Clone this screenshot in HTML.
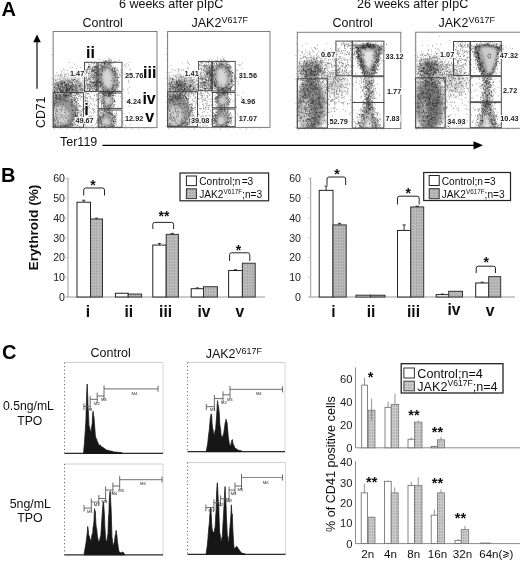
<!DOCTYPE html>
<html><head><meta charset="utf-8"><title>Figure</title>
<style>html,body{margin:0;padding:0;background:#fff;}svg{display:block;font-family:"Liberation Sans",sans-serif;}</style></head><body>
<svg width="520" height="562" viewBox="0 0 520 562" font-family="Liberation Sans, sans-serif">
<defs>
<pattern id="gp" width="2.6" height="3" patternUnits="userSpaceOnUse"><rect width="2.6" height="3" fill="#bcbcbc"/><rect width="1" height="2" fill="#a0a0a0"/></pattern>
<pattern id="gp2" width="2.4" height="3" patternUnits="userSpaceOnUse"><rect width="2.4" height="3" fill="#cccccc"/><rect width="1" height="2" fill="#a6a6a6"/></pattern>
<filter id="bl1" x="-30%" y="-30%" width="160%" height="160%"><feGaussianBlur stdDeviation="1.6"/></filter>
<filter id="bl2" x="-30%" y="-30%" width="160%" height="160%"><feGaussianBlur stdDeviation="2.5"/></filter>
<filter id="bl0" x="-30%" y="-30%" width="160%" height="160%"><feGaussianBlur stdDeviation="0.9"/></filter>
<filter id="soft" x="-5%" y="-5%" width="110%" height="110%"><feGaussianBlur stdDeviation="0.35"/></filter>
<filter id="gb" x="0" y="0" width="520" height="562" filterUnits="userSpaceOnUse"><feGaussianBlur stdDeviation="0.42"/></filter>
</defs>
<rect width="520" height="562" fill="#fff"/>
<g filter="url(#gb)">
<text x="1.6" y="16" font-size="20" font-weight="bold" text-anchor="start" fill="#000" >A</text>
<text x="119" y="7.9" font-size="12.5" text-anchor="start" fill="#111" >6 weeks after pIpC</text>
<text x="357" y="7.9" font-size="12.5" text-anchor="start" fill="#111" >26 weeks after pIpC</text>
<text x="82.5" y="27.3" font-size="12.5" text-anchor="start" fill="#111" >Control</text>
<text x="332.5" y="27.3" font-size="12.5" text-anchor="start" fill="#111" >Control</text>
<text x="191.5" y="27.3" font-size="12.5" fill="#111">JAK2<tspan font-size="9.0" dy="-4.4">V617F</tspan></text>
<text x="438.5" y="27.3" font-size="12.5" fill="#111">JAK2<tspan font-size="9.0" dy="-4.4">V617F</tspan></text>
<text transform="translate(45.2,128) rotate(-90)" font-size="12.3" fill="#111">CD71</text>
<line x1="37.00" y1="88.80" x2="37.00" y2="40.00" stroke="#000" stroke-width="1.15" />
<path d="M37 34.6 L33.2 42.2 L40.8 42.2 Z" fill="#000"/>
<text x="60" y="146.3" font-size="12.5" text-anchor="start" fill="#111" >Ter119</text>
<line x1="102.50" y1="145.30" x2="475.00" y2="145.30" stroke="#000" stroke-width="1.15" />
<path d="M483 145.3 L473.5 141.2 L473.5 149.4 Z" fill="#000"/>
<clipPath id="cp1"><rect x="53.7" y="32.0" width="102.8" height="95.1"/></clipPath>
<g clip-path="url(#cp1)">
<ellipse cx="66.0" cy="86.0" rx="17" ry="12" fill="#8a8a8a" opacity="0.22" filter="url(#bl2)"/>
<ellipse cx="68.0" cy="87.5" rx="16" ry="6" fill="#808080" opacity="0.18" filter="url(#bl2)"/>
<ellipse cx="61.0" cy="112.5" rx="16" ry="17" fill="#606060" opacity="0.66" filter="url(#bl1)"/>
<ellipse cx="60.0" cy="116.0" rx="9.4" ry="10.2" fill="#d6d6d6" opacity="0.93" filter="url(#bl1)"/>
<ellipse cx="107.5" cy="78.3" rx="8.8" ry="14.2" fill="#626262" opacity="0.66" filter="url(#bl1)" transform="rotate(-7 107.5 78.3)"/>
<ellipse cx="107.5" cy="78.8" rx="5.000000000000001" ry="10.0" fill="#dadada" opacity="0.93" filter="url(#bl0)" transform="rotate(-7 107.5 78.8)"/>
<ellipse cx="107.5" cy="100.3" rx="5.6" ry="7.8" fill="#6a6a6a" opacity="0.58" filter="url(#bl1)"/>
<ellipse cx="107.5" cy="100.3" rx="2.3" ry="4.4" fill="#d8d8d8" opacity="0.85" filter="url(#bl0)"/>
<ellipse cx="106.5" cy="120.5" rx="7.2" ry="8" fill="#646464" opacity="0.62" filter="url(#bl1)"/>
<ellipse cx="106.0" cy="122.5" rx="3.4000000000000004" ry="4.6" fill="#d6d6d6" opacity="0.9" filter="url(#bl0)"/>
<rect x="88.5" y="66.3" width="10.5" height="23.200000000000003" fill="#999" opacity="0.28" filter="url(#bl2)"/>
<g filter="url(#soft)">
<path d="M78.6 121.6h0.68M76.2 116.4h0.68M75.2 122.2h0.68M82.3 109.1h0.68M68.3 95.0h0.68M66.6 125.2h0.68M54.9 98.6h0.68M54.4 91.4h0.68M61.5 126.9h0.68M71.6 101.2h0.68M59.1 97.0h0.68M74.9 116.2h0.68M71.6 101.3h0.68M77.8 106.0h0.68M56.3 96.6h0.68M63.0 94.5h0.68M72.4 125.2h0.68M74.2 97.8h0.68M72.7 119.4h0.68M74.0 100.1h0.68M68.5 95.3h0.68M68.0 122.9h0.68M53.8 120.7h0.68M55.9 98.8h0.68M74.0 117.4h0.68M75.1 101.5h0.68M64.3 101.1h0.68M77.8 119.8h0.68M70.6 126.8h0.68M73.9 122.7h0.68M72.9 99.7h0.68M81.1 111.6h0.68M74.3 123.1h0.68M80.4 115.5h0.68M70.4 125.6h0.68M77.9 110.1h0.68M71.3 99.8h0.68M63.4 98.7h0.68M82.2 110.4h0.68M71.9 97.1h0.68M60.2 99.9h0.68M77.0 115.6h0.68M76.9 115.5h0.68M54.5 94.1h0.68M71.2 109.5h0.68M79.5 111.0h0.68M75.7 108.0h0.68M77.2 100.0h0.68M67.8 101.2h0.68M66.2 95.3h0.68M72.6 119.7h0.68M63.3 100.5h0.68M61.0 96.7h0.68M65.1 95.3h0.68M68.3 126.5h0.68M68.4 91.5h0.68M55.5 103.7h0.68M77.0 114.0h0.68M75.4 109.7h0.68M73.7 106.5h0.68M64.1 125.8h0.68M75.5 102.7h0.68M75.4 102.1h0.68M78.0 112.9h0.68M58.8 97.5h0.68M55.2 96.2h0.68M75.8 106.4h0.68M54.4 91.4h0.68M60.3 125.3h0.68M70.6 124.4h0.68M72.2 123.9h0.68M73.8 119.2h0.68M70.9 104.5h0.68M69.9 126.2h0.68M68.9 123.0h0.68M74.6 99.5h0.68M76.4 107.5h0.68M54.2 117.9h0.68M69.5 96.7h0.68M68.2 124.8h0.68M81.2 115.1h0.68M77.4 110.9h0.68M65.2 94.2h0.68M77.4 116.9h0.68M70.9 123.6h0.68M56.5 97.5h0.68M78.2 124.0h0.68M78.9 121.8h0.68M65.8 97.3h0.68M75.8 121.6h0.68M71.2 99.8h0.68M78.3 103.4h0.68M74.1 123.9h0.68M79.6 114.8h0.68M64.9 122.8h0.68M74.7 124.0h0.68M66.7 99.3h0.68M70.0 96.2h0.68M77.2 110.6h0.68M72.8 125.8h0.68M75.8 120.0h0.68M68.5 125.6h0.68M77.7 122.9h0.68M55.2 101.3h0.68M69.0 125.4h0.68M77.7 108.2h0.68M75.4 109.8h0.68M76.6 108.9h0.68M77.4 113.0h0.68M79.1 117.6h0.68M57.1 93.4h0.68M54.2 126.3h0.68M79.9 110.6h0.68M79.6 118.1h0.68M59.3 94.5h0.68M66.7 100.8h0.68M56.1 98.6h0.68M75.4 124.3h0.68M74.7 112.8h0.68M65.9 95.8h0.68M75.4 120.2h0.68M59.8 91.8h0.68M60.3 96.2h0.68M80.7 114.1h0.68M75.9 118.8h0.68M53.9 97.6h0.68M77.8 110.0h0.68M69.2 93.9h0.68M67.3 120.8h0.68M71.4 124.7h0.68M65.7 102.0h0.68M56.3 96.1h0.68M75.5 114.9h0.68M74.6 112.8h0.68M70.6 125.0h0.68M70.9 96.0h0.68M77.5 112.7h0.68M69.3 120.8h0.68M74.6 105.3h0.68M58.3 123.8h0.68M54.8 119.3h0.68M77.6 118.0h0.68M75.1 123.6h0.68M74.5 106.4h0.68M66.7 97.8h0.68M57.1 91.1h0.68M61.3 96.4h0.68M75.1 117.3h0.68M77.6 103.8h0.68M60.4 122.3h0.68M76.0 101.8h0.68M83.1 112.0h0.68M76.0 122.7h0.68M75.2 118.7h0.68M63.7 125.6h0.68M79.8 106.6h0.68M73.0 114.3h0.68M75.8 115.7h0.68M75.8 104.7h0.68M70.5 92.8h0.68M61.1 124.1h0.68M75.2 124.8h0.68M75.8 106.5h0.68M62.2 99.0h0.68M64.3 95.6h0.68M72.4 125.1h0.68M54.6 92.1h0.68M75.8 125.8h0.68M81.0 113.9h0.68M57.8 122.6h0.68M71.9 102.2h0.68M76.4 108.4h0.68M75.2 114.6h0.68M76.3 116.0h0.68M54.2 124.2h0.68M65.7 96.0h0.68M64.7 126.1h0.68M75.4 109.6h0.68M74.7 108.0h0.68M76.4 118.0h0.68M72.2 117.2h0.68M75.9 98.3h0.68M58.6 88.7h0.68M75.5 115.6h0.68M81.5 106.3h0.68M74.3 117.0h0.68M75.8 103.8h0.68M65.5 125.2h0.68M81.4 116.7h0.68M72.9 115.8h0.68M82.5 117.6h0.68M60.7 93.0h0.68M75.4 108.3h0.68M57.9 96.8h0.68M61.6 94.8h0.68M71.6 106.0h0.68M72.6 114.4h0.68M62.0 123.0h0.68M77.8 107.2h0.68M77.6 104.0h0.68M59.5 90.5h0.68M68.5 96.3h0.68M54.9 124.6h0.68M55.3 125.5h0.68M78.6 122.6h0.68M74.3 118.6h0.68M75.0 115.7h0.68M76.6 110.4h0.68M74.8 99.3h0.68M75.1 121.2h0.68M71.2 120.0h0.68M62.3 126.6h0.68M60.8 92.6h0.68M70.6 122.2h0.68M69.4 98.6h0.68M59.7 94.4h0.68M54.5 125.9h0.68M65.3 100.7h0.68M68.9 118.8h0.68M71.2 106.0h0.68M76.6 116.8h0.68M72.1 110.5h0.68M70.7 101.0h0.68M64.0 94.6h0.68M79.2 105.7h0.68M60.6 126.7h0.68M65.1 127.0h0.68M75.6 113.6h0.68M78.2 120.1h0.68M55.2 95.2h0.68M78.9 106.7h0.68M55.6 126.5h0.68M73.5 97.3h0.68M58.7 95.1h0.68M74.7 102.2h0.68M71.4 102.5h0.68M67.1 94.3h0.68M72.3 124.7h0.68M79.3 105.3h0.68M76.1 118.1h0.68M71.9 106.7h0.68M69.6 94.5h0.68M66.1 124.5h0.68M63.8 127.0h0.68M72.9 124.8h0.68M77.6 99.3h0.68M73.0 115.9h0.68M75.4 116.2h0.68M71.1 95.2h0.68M75.1 114.7h0.68M62.5 94.5h0.68M66.8 125.6h0.68M72.4 120.3h0.68M78.0 117.2h0.68M64.2 93.0h0.68M80.0 106.1h0.68M81.4 112.0h0.68M59.1 94.4h0.68M75.8 110.7h0.68M68.6 126.1h0.68M65.2 94.6h0.68M61.8 91.8h0.68M68.4 94.6h0.68M77.6 102.8h0.68M77.7 116.7h0.68M77.5 105.1h0.68M64.4 96.4h0.68M70.6 121.5h0.68M70.2 102.5h0.68M72.3 101.6h0.68M77.0 125.6h0.68M65.6 96.5h0.68M67.1 125.5h0.68M60.1 90.1h0.68M70.8 126.6h0.68M75.1 101.0h0.68M72.5 125.8h0.68M81.1 115.5h0.68M76.7 112.8h0.68M63.2 126.6h0.68M76.4 105.6h0.68M72.8 99.4h0.68M75.4 113.6h0.68M54.5 103.5h0.68M59.1 92.8h0.68M64.1 94.3h0.68M71.5 113.4h0.68M70.1 124.5h0.68M65.4 126.7h0.68M67.8 95.4h0.68M80.1 118.9h0.68M58.1 98.5h0.68M79.9 113.3h0.68M60.2 96.9h0.68M74.5 123.6h0.68M61.0 94.4h0.68M54.6 93.7h0.68M59.7 126.3h0.68M59.8 125.4h0.68M63.3 124.1h0.68M74.5 99.0h0.68M60.2 90.7h0.68M54.0 126.6h0.68M72.4 101.2h0.68M76.2 101.9h0.68M73.7 110.7h0.68M69.2 101.7h0.68M56.3 125.5h0.68M74.3 103.6h0.68M76.1 104.8h0.68M77.4 117.2h0.68M56.1 98.8h0.68M59.9 98.3h0.68M74.2 118.6h0.68M67.2 97.9h0.68M68.3 95.9h0.68M71.7 100.1h0.68M76.2 102.9h0.68M67.7 95.2h0.68M57.9 126.1h0.68M77.3 125.0h0.68M55.0 125.9h0.68M72.1 109.8h0.68M74.8 115.4h0.68M63.6 93.6h0.68M63.8 126.3h0.68M74.4 95.9h0.68M78.8 112.7h0.68M81.6 109.4h0.68M74.4 112.9h0.68M65.8 95.6h0.68M66.6 126.2h0.68M69.2 97.2h0.68M56.2 97.2h0.68M76.3 121.5h0.68M63.9 99.6h0.68M77.4 98.2h0.68M80.1 115.7h0.68M70.9 96.7h0.68M63.2 96.5h0.68M73.5 100.8h0.68M56.0 94.9h0.68M69.5 125.9h0.68M57.9 88.2h0.68M75.2 123.7h0.68M78.6 110.6h0.68M65.3 95.0h0.68M56.6 99.8h0.68M70.0 124.3h0.68M60.2 96.8h0.68M72.2 104.7h0.68M60.9 93.4h0.68M76.1 97.5h0.68M63.2 96.9h0.68M56.0 101.4h0.68M63.3 119.7h0.68M60.6 104.7h0.68M56.4 111.6h0.68M54.1 119.1h0.68M55.3 110.5h0.68M62.0 124.8h0.68M59.9 108.7h0.68M65.1 117.6h0.68M63.6 125.8h0.68M64.6 112.4h0.68M64.3 120.9h0.68M61.9 108.0h0.68M60.9 125.8h0.68M57.9 117.4h0.68M58.2 122.5h0.68M64.2 116.1h0.68M56.7 119.9h0.68M60.3 126.9h0.68M64.7 112.3h0.68M56.3 118.5h0.68M65.0 124.3h0.68M61.6 106.3h0.68M54.7 123.5h0.68M62.9 103.8h0.68M54.9 116.7h0.68M56.5 114.4h0.68M61.4 109.8h0.68M61.3 111.0h0.68M56.3 119.3h0.68M56.1 117.5h0.68M67.0 115.7h0.68M58.3 120.6h0.68M57.2 123.1h0.68M56.4 109.9h0.68M67.8 109.5h0.68M67.8 120.1h0.68M66.3 108.7h0.68M65.0 125.7h0.68M58.4 114.6h0.68M71.3 116.7h0.68M56.9 111.1h0.68M61.2 117.8h0.68M57.4 118.8h0.68M66.3 108.5h0.68M53.8 102.6h0.68M61.3 102.5h0.68M61.5 125.7h0.68M55.3 113.6h0.68M59.3 119.3h0.68M57.3 115.6h0.68M56.3 116.3h0.68M68.6 116.1h0.68M54.1 103.9h0.68M55.3 120.7h0.68M60.9 114.8h0.68M54.4 107.9h0.68M65.7 117.2h0.68M54.2 100.7h0.68M60.1 114.4h0.68M57.6 105.9h0.68M55.2 121.4h0.68M60.3 122.8h0.68M60.9 110.3h0.68M61.4 109.2h0.68M55.0 115.4h0.68M54.0 105.3h0.68M56.9 120.8h0.68M57.0 124.4h0.68M66.8 118.3h0.68M63.7 109.7h0.68M63.0 117.3h0.68M62.2 115.7h0.68M65.0 111.0h0.68M54.2 105.2h0.68M64.8 110.3h0.68M56.8 106.6h0.68M57.5 111.1h0.68M56.2 108.8h0.68M59.2 112.3h0.68M59.6 117.2h0.68M60.7 100.2h0.68M56.3 109.9h0.68M62.9 104.5h0.68M55.4 113.4h0.68M57.3 122.4h0.68M56.8 122.3h0.68M65.1 118.5h0.68M61.4 116.4h0.68M71.4 79.0h0.68M76.6 84.0h0.68M77.1 88.7h0.68M78.7 87.0h0.68M61.6 89.8h0.68M61.2 83.9h0.68M67.1 89.1h0.68M83.0 88.3h0.68M87.1 101.4h0.68M85.3 95.9h0.68M67.5 89.0h0.68M64.4 82.6h0.68M65.3 83.2h0.68M84.4 92.0h0.68M61.0 73.7h0.68M65.4 84.9h0.68M53.8 79.5h0.68M65.3 107.2h0.68M65.7 86.9h0.68M82.2 89.0h0.68M67.9 85.2h0.68M59.2 99.2h0.68M77.2 100.8h0.68M62.1 88.2h0.68M56.1 95.2h0.68M78.3 98.5h0.68M55.5 96.1h0.68M58.0 82.4h0.68M84.5 83.6h0.68M57.5 85.5h0.68M94.1 95.5h0.68M59.9 74.7h0.68M58.5 96.8h0.68M87.0 86.0h0.68M58.2 84.2h0.68M53.8 95.9h0.68M69.2 82.3h0.68M74.8 88.1h0.68M75.4 73.8h0.68M86.5 91.7h0.68M74.5 74.2h0.68M57.9 85.4h0.68M78.1 77.1h0.68M56.1 72.9h0.68M63.3 90.6h0.68M71.7 99.8h0.68M73.5 85.7h0.68M58.5 89.1h0.68M65.4 100.4h0.68M69.2 80.0h0.68M83.3 95.1h0.68M67.1 82.6h0.68M76.2 82.0h0.68M68.7 92.5h0.68M73.4 98.5h0.68M56.6 95.3h0.68M54.9 93.2h0.68M68.0 89.8h0.68M76.9 87.9h0.68M78.5 94.5h0.68M67.5 83.8h0.68M57.5 84.1h0.68M63.7 87.8h0.68M99.4 92.7h0.68M74.6 81.6h0.68M58.0 85.6h0.68M68.2 80.3h0.68M84.1 83.8h0.68M78.1 70.6h0.68M65.9 90.1h0.68M68.1 92.5h0.68M69.1 89.2h0.68M69.4 86.5h0.68M56.8 83.7h0.68M86.7 100.9h0.68M65.3 97.6h0.68M60.6 81.5h0.68M59.7 89.4h0.68M99.9 83.1h0.68M66.6 90.1h0.68M65.6 94.9h0.68M85.9 78.7h0.68M67.8 86.0h0.68M70.0 76.6h0.68M71.9 89.4h0.68M66.8 70.4h0.68M61.8 82.4h0.68M73.8 92.0h0.68M65.7 91.8h0.68M59.2 88.5h0.68M66.5 92.1h0.68M65.2 86.9h0.68M64.5 83.2h0.68M91.1 91.8h0.68M70.8 105.0h0.68M81.7 76.4h0.68M73.8 94.2h0.68M87.1 97.8h0.68M74.6 79.2h0.68M56.2 90.0h0.68M71.7 80.4h0.68M61.7 85.0h0.68M66.7 90.5h0.68M62.8 78.8h0.68M79.9 99.9h0.68M64.8 95.6h0.68M71.0 92.9h0.68M71.4 82.3h0.68M72.4 95.5h0.68M55.9 102.6h0.68M89.4 101.6h0.68M88.3 93.5h0.68M62.2 83.5h0.68M56.9 88.9h0.68M65.6 93.0h0.68M91.5 87.8h0.68M73.6 91.5h0.68M69.1 86.4h0.68M64.6 81.9h0.68M68.0 87.8h0.68M69.6 81.6h0.68M66.4 88.4h0.68M72.8 80.1h0.68M70.7 95.3h0.68M72.7 85.3h0.68M60.5 86.2h0.68M74.2 99.6h0.68M64.2 83.2h0.68M70.2 89.5h0.68M55.8 82.5h0.68M64.9 93.0h0.68M71.6 78.9h0.68M67.2 90.6h0.68M64.8 80.4h0.68M65.3 85.5h0.68M69.8 81.8h0.68M78.2 75.5h0.68M64.0 88.1h0.68M76.8 83.5h0.68M72.1 83.8h0.68M74.3 100.9h0.68M61.5 91.3h0.68M55.6 95.2h0.68M79.6 88.3h0.68M78.9 96.1h0.68M75.1 74.4h0.68M58.4 98.6h0.68M87.1 93.7h0.68M78.6 85.5h0.68M63.8 87.6h0.68M73.8 86.9h0.68M68.2 91.2h0.68M65.9 101.7h0.68M71.0 88.6h0.68M63.7 83.3h0.68M81.1 89.1h0.68M53.9 83.8h0.68M64.5 84.7h0.68M78.2 79.4h0.68M71.5 89.1h0.68M64.9 91.7h0.68M60.9 90.3h0.68M74.8 95.7h0.68M65.9 83.5h0.68M78.1 72.4h0.68M57.0 93.0h0.68M73.3 80.3h0.68M67.7 81.3h0.68M66.6 94.7h0.68M74.3 72.5h0.68M74.6 74.8h0.68M78.8 91.0h0.68M91.3 83.5h0.68M66.1 95.8h0.68M58.8 82.8h0.68M61.8 87.5h0.68M53.9 91.6h0.68M72.1 88.5h0.68M85.1 85.6h0.68M80.7 83.9h0.68M74.5 73.6h0.68M68.2 86.7h0.68M60.4 83.5h0.68M62.1 82.6h0.68M59.8 84.1h0.68M54.1 87.0h0.68M74.8 86.1h0.68M60.5 98.1h0.68M77.0 94.9h0.68M79.0 85.6h0.68M64.5 96.3h0.68M59.8 87.1h0.68M70.2 90.8h0.68M62.9 95.3h0.68M64.0 93.4h0.68M78.0 92.9h0.68M74.2 79.4h0.68M71.3 99.2h0.68M56.4 82.6h0.68M62.9 93.1h0.68M68.4 96.8h0.68M54.9 94.6h0.68M76.4 88.5h0.68M71.4 83.8h0.68M58.8 109.5h0.68M60.6 100.3h0.68M68.3 90.3h0.68M74.3 82.2h0.68M76.3 90.8h0.68M72.2 91.4h0.68M83.8 84.9h0.68M71.7 93.6h0.68M55.9 96.9h0.68M71.9 79.9h0.68M64.7 75.8h0.68M66.8 79.6h0.68M69.8 76.6h0.68M71.0 86.0h0.68M66.7 87.5h0.68M67.5 78.2h0.68M55.5 84.6h0.68M70.8 73.2h0.68M57.4 83.5h0.68M54.1 90.4h0.68M64.4 81.9h0.68M55.0 94.0h0.68M58.6 92.4h0.68M71.0 73.9h0.68M53.8 88.0h0.68M69.8 93.8h0.68M75.0 95.7h0.68M61.8 86.4h0.68M74.7 84.8h0.68M77.9 76.2h0.68M73.3 86.7h0.68M69.5 88.2h0.68M53.9 84.5h0.68M83.0 81.8h0.68M61.6 81.2h0.68M56.6 95.8h0.68M59.9 79.9h0.68M74.8 92.2h0.68M54.3 93.6h0.68M78.6 86.1h0.68M76.3 87.8h0.68M70.7 93.7h0.68M86.8 86.1h0.68M60.6 87.7h0.68M79.5 81.0h0.68M80.6 67.5h0.68M74.9 83.0h0.68M71.2 93.1h0.68M68.7 92.4h0.68M55.6 80.6h0.68M63.8 86.3h0.68M60.0 98.7h0.68M75.6 88.2h0.68M74.2 79.7h0.68M62.3 83.7h0.68M64.4 98.7h0.68M55.7 84.5h0.68M70.7 91.0h0.68M66.3 84.5h0.68M71.5 90.7h0.68M67.6 88.4h0.68M67.3 81.5h0.68M63.7 81.2h0.68M70.3 93.1h0.68M85.7 97.4h0.68M57.0 84.6h0.68M55.5 90.3h0.68M88.2 93.3h0.68M66.0 90.2h0.68M86.0 81.8h0.68M56.5 102.6h0.68M69.8 82.2h0.68M66.5 95.4h0.68M64.4 82.8h0.68M57.7 102.1h0.68M66.3 92.6h0.68M61.5 91.7h0.68M75.2 86.9h0.68M60.9 86.6h0.68M55.2 86.5h0.68M62.6 89.6h0.68M81.0 97.7h0.68M61.0 92.5h0.68M69.3 93.7h0.68M66.2 90.0h0.68M60.7 82.2h0.68M75.8 97.7h0.68M73.4 91.2h0.68M69.0 84.7h0.68M68.2 83.9h0.68M55.2 97.5h0.68M73.2 105.6h0.68M57.9 87.8h0.68M60.3 89.2h0.68M63.6 82.4h0.68M78.1 82.2h0.68M60.3 92.1h0.68M60.0 84.8h0.68M70.0 85.3h0.68M63.5 100.7h0.68M57.2 85.4h0.68M62.3 90.0h0.68M75.7 101.0h0.68M58.9 97.9h0.68M77.2 94.0h0.68M57.5 94.7h0.68M64.8 90.6h0.68M63.0 92.9h0.68M78.5 96.4h0.68M63.7 95.4h0.68M82.3 81.0h0.68M82.5 78.1h0.68M72.1 92.4h0.68M82.6 90.1h0.68M60.6 82.1h0.68M63.3 82.7h0.68M72.0 82.3h0.68M61.1 84.6h0.68M84.6 98.9h0.68M64.2 76.3h0.68M69.1 88.5h0.68M69.9 92.2h0.68M62.4 94.9h0.68M75.4 89.6h0.68M61.4 84.4h0.68M73.8 79.8h0.68M64.2 82.4h0.68M65.7 88.3h0.68M75.8 76.9h0.68M65.2 90.1h0.68M75.3 79.9h0.68M74.0 89.6h0.68M81.2 96.5h0.68M72.2 104.0h0.68M66.0 84.8h0.68M62.2 81.0h0.68M65.7 74.0h0.68M65.1 91.2h0.68M77.1 85.4h0.68M81.6 83.2h0.68M64.5 74.0h0.68M57.5 82.1h0.68M82.4 91.9h0.68M53.9 91.9h0.68M71.3 86.3h0.68M66.3 85.8h0.68M60.1 75.1h0.68M65.0 97.3h0.68M81.7 86.0h0.68M57.8 86.5h0.68M75.8 90.6h0.68M59.6 90.6h0.68M63.7 91.7h0.68M61.5 77.3h0.68M66.6 93.5h0.68M53.9 87.2h0.68M75.6 85.3h0.68M58.9 102.7h0.68M75.1 95.5h0.68M55.7 99.8h0.68M74.1 97.6h0.68M55.8 83.2h0.68M68.1 74.0h0.68M73.0 92.1h0.68M61.1 91.9h0.68M74.5 90.2h0.68M71.7 98.9h0.68M60.8 89.2h0.68M60.3 95.5h0.68M61.6 91.4h0.68M67.5 88.5h0.68M84.7 87.4h0.68M81.4 94.0h0.68M80.3 86.8h0.68M76.1 93.4h0.68M59.3 89.9h0.68M64.6 87.7h0.68M80.1 82.8h0.68M61.1 83.4h0.68M66.2 92.1h0.68M85.1 90.2h0.68M71.0 82.7h0.68M72.3 97.8h0.68M80.5 74.0h0.68M75.6 99.4h0.68M74.9 77.3h0.68M62.7 92.2h0.68M70.5 82.2h0.68M56.4 94.9h0.68M66.2 90.2h0.68M73.4 77.5h0.68M88.4 77.9h0.68M71.2 93.2h0.68M62.0 86.5h0.68M63.5 83.9h0.68M68.7 89.1h0.68M59.2 89.8h0.68M65.9 87.5h0.68M77.9 75.7h0.68M68.7 80.4h0.68M62.6 98.7h0.68M54.3 87.3h0.68M59.6 94.8h0.68M55.4 76.0h0.68M71.5 85.5h0.68M62.6 95.7h0.68M56.4 85.3h0.68M67.6 91.0h0.68M60.4 95.4h0.68M90.2 85.1h0.68M86.1 72.9h0.68M81.2 85.5h0.68M67.5 85.6h0.68M59.1 78.9h0.68M61.7 97.3h0.68M78.3 85.5h0.68M60.3 83.0h0.68M73.1 88.8h0.68M60.7 80.7h0.68M80.2 93.6h0.68M55.7 95.1h0.68M54.1 92.6h0.68M55.6 85.0h0.68M71.3 91.1h0.68M76.9 82.0h0.68M83.0 97.6h0.68M65.9 91.3h0.68M57.6 86.9h0.68M68.1 97.6h0.68M76.2 93.8h0.68M62.1 86.4h0.68M62.3 89.6h0.68M66.2 84.3h0.68M83.9 87.3h0.68M82.9 96.4h0.68M60.6 90.9h0.68M80.0 85.6h0.68M67.0 84.0h0.68M66.6 85.5h0.68M66.9 95.2h0.68M81.0 89.0h0.68M68.2 94.1h0.68M62.9 80.4h0.68M78.0 81.3h0.68M76.0 81.1h0.68M85.7 80.5h0.68M75.1 98.7h0.68M55.6 98.6h0.68M57.1 75.4h0.68M73.8 93.0h0.68M63.8 70.0h0.68M65.4 85.8h0.68M61.9 85.9h0.68M85.4 99.0h0.68M62.1 82.9h0.68M70.3 95.6h0.68M73.8 79.6h0.68M67.7 89.0h0.68M81.5 96.5h0.68M71.6 96.7h0.68M61.7 99.0h0.68M61.4 90.8h0.68M75.9 81.5h0.68M58.4 75.4h0.68M67.8 87.6h0.68M62.5 91.6h0.68M66.9 86.1h0.68M74.6 100.5h0.68M61.2 81.3h0.68M59.5 88.7h0.68M72.3 81.9h0.68M76.8 80.7h0.68M74.9 91.1h0.68M71.0 103.4h0.68M63.2 86.8h0.68M71.1 94.2h0.68M58.0 92.5h0.68M80.8 88.4h0.68M64.9 89.3h0.68M72.0 89.2h0.68M61.7 82.8h0.68M64.1 96.7h0.68M64.9 97.6h0.68M69.0 87.9h0.68M79.5 78.8h0.68M55.3 80.2h0.68M60.1 92.6h0.68M72.4 73.5h0.68M81.7 83.8h0.68M59.7 99.9h0.68M65.1 79.1h0.68M59.1 82.8h0.68M55.1 85.6h0.68M75.5 90.5h0.68M55.3 88.8h0.68M66.3 93.4h0.68M62.5 91.3h0.68M88.7 88.7h0.68M54.3 90.3h0.68M57.4 85.4h0.68M68.0 90.4h0.68M62.9 94.1h0.68M63.9 78.7h0.68M75.5 85.4h0.68M79.1 83.3h0.68M72.2 90.3h0.68M53.9 98.0h0.68M77.8 91.5h0.68M73.3 84.5h0.68M65.9 89.6h0.68M70.5 93.1h0.68M63.8 83.0h0.68M59.9 90.9h0.68M61.6 84.1h0.68M63.1 69.0h0.68M62.3 86.2h0.68M74.4 73.9h0.68M62.7 91.4h0.68M71.3 96.5h0.68M77.4 80.5h0.68M72.9 85.6h0.68M57.3 99.0h0.68M59.2 81.9h0.68M61.6 81.9h0.68M76.9 90.7h0.68M81.1 90.9h0.68M59.4 95.5h0.68M58.9 84.7h0.68M64.2 88.3h0.68M78.9 83.7h0.68M69.8 87.8h0.68M63.6 90.9h0.68M69.5 91.4h0.68M66.5 84.8h0.68M70.6 80.8h0.68M57.9 84.0h0.68M65.5 82.3h0.68M61.4 75.7h0.68M67.6 81.7h0.68M70.4 67.7h0.68M60.1 89.3h0.68M68.9 88.8h0.68M69.5 85.2h0.68M75.3 88.3h0.68M68.2 87.0h0.68M73.4 88.8h0.68M79.2 90.0h0.68M61.9 87.7h0.68M77.0 87.3h0.68M71.8 90.3h0.68M66.2 80.6h0.68M69.3 89.2h0.68M69.3 85.9h0.68M79.9 88.0h0.68M61.9 86.1h0.68M71.5 84.8h0.68M58.1 95.3h0.68M80.9 92.1h0.68M81.5 90.5h0.68M80.2 90.2h0.68M81.5 86.8h0.68M69.3 91.1h0.68M67.2 92.2h0.68M68.8 90.8h0.68M68.8 83.5h0.68M58.2 99.2h0.68M70.8 92.9h0.68M79.3 94.3h0.68M73.5 86.5h0.68M68.2 82.0h0.68M66.1 91.6h0.68M76.2 93.0h0.68M58.8 86.3h0.68M73.3 95.5h0.68M56.7 93.2h0.68M72.2 86.8h0.68M89.7 79.9h0.68M67.3 89.2h0.68M89.1 94.6h0.68M90.4 89.0h0.68M77.7 93.1h0.68M73.1 89.7h0.68M66.2 87.1h0.68M55.8 95.1h0.68M63.6 81.4h0.68M70.6 88.4h0.68M69.7 94.7h0.68M66.9 87.6h0.68M60.6 88.4h0.68M63.6 89.2h0.68M99.0 89.8h0.68M59.5 95.1h0.68M76.6 91.3h0.68M75.1 91.3h0.68M74.7 93.3h0.68M78.0 93.1h0.68M63.0 88.5h0.68M60.8 91.8h0.68M76.3 86.9h0.68M73.8 97.4h0.68M80.3 84.7h0.68M67.1 90.7h0.68M67.6 89.8h0.68M79.7 89.6h0.68M57.1 90.9h0.68M67.0 88.9h0.68M62.4 83.8h0.68M55.6 87.3h0.68M57.4 79.2h0.68M79.4 84.5h0.68M60.8 90.3h0.68M60.4 90.7h0.68M63.2 89.5h0.68M69.0 88.5h0.68M67.6 93.3h0.68M62.6 90.3h0.68M69.6 90.1h0.68M77.9 83.4h0.68M70.7 87.9h0.68M64.9 85.6h0.68M60.2 85.0h0.68M57.1 97.1h0.68M84.9 88.5h0.68M75.4 85.2h0.68M69.4 93.4h0.68M67.6 85.1h0.68M65.6 85.1h0.68M54.1 87.7h0.68M64.0 85.7h0.68M59.2 85.3h0.68M70.3 93.3h0.68M65.9 96.1h0.68M56.5 88.0h0.68M69.0 90.4h0.68M79.2 86.6h0.68M55.7 87.9h0.68M70.9 86.1h0.68M76.9 94.2h0.68M53.9 89.7h0.68M78.1 81.9h0.68M70.0 87.7h0.68M53.8 93.0h0.68M70.2 86.9h0.68M72.4 90.7h0.68M75.6 90.5h0.68M72.1 84.5h0.68M63.8 88.9h0.68M64.2 84.9h0.68M68.3 86.5h0.68M63.9 85.5h0.68M60.5 88.2h0.68M61.6 90.8h0.68M66.6 89.0h0.68M72.0 92.8h0.68M74.0 89.3h0.68M66.4 85.8h0.68M64.6 90.8h0.68M70.3 87.2h0.68M54.8 83.3h0.68M71.2 92.0h0.68M71.7 83.8h0.68M65.9 89.3h0.68M58.9 89.7h0.68M66.0 85.7h0.68M55.7 91.3h0.68M71.5 85.5h0.68M57.9 91.5h0.68M73.9 87.5h0.68M83.8 87.5h0.68M57.5 92.2h0.68M66.1 89.7h0.68M68.4 85.1h0.68M56.2 87.8h0.68M82.0 85.1h0.68M81.5 89.3h0.68M57.0 89.4h0.68M73.6 85.4h0.68M57.0 90.0h0.68M60.0 83.5h0.68M65.6 89.1h0.68M62.5 84.5h0.68M70.1 82.5h0.68M73.3 90.2h0.68M84.6 91.5h0.68M71.5 89.4h0.68M68.3 84.0h0.68M82.5 90.3h0.68M65.2 84.6h0.68M82.7 90.3h0.68M56.2 90.8h0.68M86.8 88.4h0.68M72.0 87.1h0.68M61.8 92.1h0.68M98.5 88.9h0.68M66.8 91.2h0.68M65.0 91.0h0.68M76.2 85.0h0.68M57.4 88.2h0.68M76.2 89.4h0.68M80.3 83.8h0.68M72.9 86.4h0.68M69.0 89.6h0.68M58.4 87.7h0.68M56.5 89.4h0.68M59.6 86.8h0.68M70.2 86.3h0.68M79.4 86.3h0.68M76.4 89.5h0.68M57.8 87.8h0.68M59.7 87.3h0.68M65.3 94.7h0.68M63.9 93.8h0.68M72.4 84.1h0.68M78.2 89.8h0.68M65.9 87.6h0.68M70.6 87.5h0.68M62.7 87.2h0.68M79.6 86.4h0.68M71.8 84.6h0.68M61.0 83.8h0.68M66.0 90.8h0.68M71.0 86.8h0.68M74.0 87.3h0.68M71.7 89.4h0.68M73.3 80.1h0.68M55.1 91.1h0.68M66.9 96.1h0.68M65.7 86.6h0.68M82.7 90.4h0.68M86.7 90.2h0.68M66.0 91.0h0.68M60.2 87.0h0.68M62.5 87.7h0.68M75.7 86.9h0.68M71.2 86.8h0.68M76.7 79.2h0.68M65.9 89.1h0.68M57.4 91.9h0.68M70.1 92.8h0.68M77.5 90.7h0.68M66.5 84.8h0.68M65.8 86.9h0.68M70.5 86.9h0.68M98.1 83.1h0.68M79.6 86.9h0.68M65.6 91.6h0.68M68.0 84.4h0.68M72.1 87.8h0.68M57.6 86.0h0.68M72.8 89.5h0.68M65.1 95.8h0.68M72.1 86.4h0.68M70.3 88.1h0.68M54.3 95.5h0.68M66.2 87.6h0.68M62.4 91.8h0.68M68.3 94.3h0.68M75.8 94.1h0.68M66.8 89.8h0.68M63.7 87.9h0.68M58.6 86.3h0.68M80.0 89.4h0.68M80.1 91.4h0.68M77.1 91.9h0.68M62.0 91.2h0.68M64.8 86.7h0.68M79.8 95.8h0.68M58.4 94.4h0.68M76.2 85.6h0.68M70.7 89.8h0.68M71.7 87.3h0.68M55.4 88.6h0.68M76.5 91.1h0.68M74.5 92.2h0.68M58.3 88.4h0.68M71.3 91.9h0.68M69.5 90.2h0.68M69.3 95.6h0.68M92.3 89.3h0.68M91.6 82.4h0.68M87.4 84.2h0.68M86.4 70.0h0.68M84.9 73.8h0.68M91.0 70.8h0.68M95.6 64.8h0.68M91.7 69.1h0.68M91.9 85.2h0.68M93.4 64.1h0.68M87.6 79.8h0.68M96.8 63.5h0.68M92.2 82.5h0.68M94.7 72.3h0.68M94.6 75.8h0.68M96.0 62.6h0.68M96.3 74.3h0.68M89.6 64.9h0.68M87.6 83.7h0.68M93.0 66.7h0.68M88.8 66.4h0.68M87.0 68.7h0.68M88.6 90.8h0.68M97.0 85.4h0.68M90.5 76.8h0.68M94.2 88.8h0.68M93.9 80.9h0.68M87.0 80.6h0.68M95.1 85.3h0.68M85.7 83.2h0.68M88.9 67.0h0.68M96.6 81.9h0.68M93.8 66.2h0.68M94.9 89.7h0.68M95.8 84.1h0.68M94.9 85.7h0.68M91.9 75.0h0.68M94.8 85.2h0.68M95.4 71.0h0.68M96.5 77.8h0.68M96.3 65.7h0.68M96.6 85.3h0.68M87.7 86.8h0.68M87.4 68.1h0.68M90.2 69.2h0.68M90.7 88.8h0.68M93.1 83.0h0.68M89.4 85.2h0.68M94.4 82.2h0.68M96.3 86.4h0.68M89.6 64.8h0.68M92.7 86.7h0.68M88.7 79.7h0.68M95.0 85.5h0.68M84.6 76.6h0.68M84.7 65.5h0.68M94.7 74.5h0.68M92.1 75.7h0.68M88.7 68.5h0.68M88.9 87.0h0.68M92.2 70.8h0.68M85.6 70.2h0.68M93.3 75.2h0.68M92.8 85.9h0.68M86.0 82.2h0.68M85.0 86.3h0.68M86.8 70.2h0.68M96.5 72.9h0.68M87.3 88.3h0.68M92.1 88.4h0.68M89.4 76.9h0.68M96.4 77.1h0.68M96.9 67.8h0.68M94.9 67.0h0.68M91.1 62.3h0.68M86.7 89.9h0.68M90.2 85.9h0.68M87.6 72.6h0.68M85.8 78.4h0.68M95.3 77.3h0.68M89.2 89.4h0.68M95.7 81.8h0.68M85.4 80.5h0.68M90.1 90.3h0.68M89.0 81.6h0.68M92.4 73.3h0.68M91.0 82.1h0.68M95.8 76.8h0.68M89.0 90.8h0.68M85.2 86.7h0.68M93.0 78.6h0.68M90.1 84.2h0.68M95.6 83.6h0.68M93.9 63.3h0.68M88.6 66.3h0.68M96.4 88.3h0.68M86.3 79.5h0.68M91.7 63.7h0.68M89.4 84.1h0.68M92.5 70.5h0.68M94.0 70.8h0.68M91.3 74.6h0.68M96.7 81.2h0.68M94.6 82.1h0.68M89.3 90.4h0.68M93.4 82.5h0.68M88.0 67.0h0.68M91.7 86.4h0.68M94.4 72.4h0.68M86.2 77.4h0.68M95.5 67.0h0.68M93.7 67.3h0.68M88.4 63.9h0.68M88.2 73.5h0.68M96.6 90.4h0.68M86.8 71.3h0.68M96.3 68.1h0.68M88.5 75.1h0.68M85.9 69.9h0.68M89.4 73.6h0.68M96.5 70.1h0.68M87.0 88.8h0.68M90.1 86.7h0.68M92.5 85.0h0.68M88.4 66.7h0.68M94.0 76.0h0.68M91.5 81.9h0.68M93.9 70.3h0.68M89.0 89.1h0.68M91.1 70.7h0.68M92.4 69.9h0.68M94.1 63.5h0.68M94.8 78.8h0.68M88.9 89.7h0.68M87.8 69.4h0.68M85.4 78.3h0.68M93.9 82.1h0.68M89.7 85.9h0.68M85.9 71.3h0.68M92.6 90.5h0.68M92.4 82.5h0.68M94.2 73.8h0.68M96.3 84.0h0.68M88.8 73.8h0.68M94.6 72.5h0.68M86.8 87.8h0.68M91.1 77.5h0.68M92.9 88.6h0.68M86.2 72.2h0.68M85.3 74.4h0.68M90.8 87.2h0.68M92.8 79.2h0.68M89.5 79.1h0.68M87.9 87.0h0.68M94.4 86.8h0.68M86.4 81.9h0.68M93.9 76.9h0.68M88.4 85.0h0.68M90.6 87.0h0.68M90.9 69.6h0.68M88.7 84.0h0.68M95.0 73.2h0.68M90.4 68.0h0.68M89.6 73.2h0.68M91.4 71.7h0.68M96.6 83.3h0.68M94.8 90.9h0.68M95.5 83.9h0.68M92.5 68.1h0.68M94.7 66.4h0.68M93.2 82.2h0.68M94.4 67.8h0.68M93.9 77.5h0.68M88.5 67.3h0.68M93.9 87.2h0.68M94.3 82.2h0.68M94.7 74.9h0.68M93.8 71.8h0.68M91.3 86.3h0.68M94.6 86.7h0.68M87.8 79.8h0.68M88.5 67.0h0.68M95.3 79.0h0.68M95.4 82.2h0.68M96.2 84.6h0.68M92.6 79.2h0.68M94.4 81.1h0.68M95.5 91.4h0.68M87.1 86.6h0.68M92.7 91.2h0.68M95.9 68.1h0.68M94.3 77.7h0.68M96.6 83.5h0.68M95.6 74.9h0.68M91.7 71.1h0.68M93.7 71.2h0.68M94.7 84.8h0.68M91.7 71.3h0.68M96.5 84.0h0.68M95.7 80.4h0.68M93.3 84.0h0.68M88.8 90.2h0.68M95.6 89.5h0.68M95.6 67.9h0.68M89.1 71.5h0.68M87.1 84.5h0.68M96.2 82.2h0.68M96.6 70.4h0.68M92.3 82.2h0.68M92.7 67.4h0.68M96.8 70.7h0.68M90.4 86.6h0.68M88.6 77.8h0.68M95.1 70.2h0.68M95.6 85.9h0.68M82.0 89.3h0.68M94.3 86.3h0.68M87.8 69.5h0.68M95.6 69.0h0.68M91.5 71.6h0.68M94.7 72.6h0.68M86.2 84.2h0.68M95.5 90.1h0.68M91.7 84.8h0.68M96.3 76.0h0.68M93.4 69.7h0.68M88.1 66.6h0.68M95.5 75.8h0.68M90.5 66.5h0.68M92.8 78.0h0.68M89.3 67.4h0.68M92.3 68.1h0.68M93.0 74.4h0.68M89.6 78.5h0.68M89.7 82.4h0.68M96.0 89.1h0.68M93.4 75.9h0.68M91.7 69.5h0.68M92.9 71.3h0.68M90.6 82.3h0.68M95.2 84.1h0.68M95.3 84.6h0.68M96.3 67.7h0.68M92.0 83.3h0.68M96.1 84.3h0.68M96.5 83.7h0.68M89.8 78.2h0.68M90.1 81.4h0.68M88.5 67.9h0.68M95.9 72.1h0.68M82.3 76.2h0.68M94.8 82.3h0.68M87.9 85.0h0.68M94.8 90.9h0.68M96.5 86.5h0.68M95.5 72.4h0.68M96.6 89.8h0.68M95.6 89.7h0.68M89.7 82.4h0.68M93.6 70.2h0.68M95.1 66.8h0.68M96.9 90.8h0.68M94.7 84.2h0.68M93.5 70.4h0.68M88.6 79.2h0.68M90.1 88.7h0.68M91.6 89.4h0.68M87.2 80.3h0.68M96.9 87.0h0.68M90.0 81.3h0.68M96.9 86.4h0.68M95.5 80.0h0.68M96.2 73.6h0.68M96.5 85.1h0.68M96.6 66.9h0.68M92.6 77.8h0.68M89.0 69.4h0.68M95.0 77.1h0.68M94.2 69.1h0.68M90.8 75.2h0.68M96.1 68.7h0.68M95.8 87.7h0.68M87.3 68.9h0.68M94.1 85.5h0.68M93.9 70.0h0.68M86.1 85.7h0.68M88.4 66.5h0.68M94.8 83.8h0.68M95.9 81.4h0.68M91.5 76.6h0.68M96.3 81.7h0.68M90.4 84.8h0.68M88.0 86.4h0.68M88.9 84.4h0.68M92.0 67.1h0.68M92.9 77.2h0.68M88.2 88.4h0.68M91.9 77.4h0.68M86.2 84.1h0.68M96.9 75.1h0.68M92.8 74.5h0.68M92.5 91.0h0.68M94.0 82.8h0.68M89.3 87.4h0.68M93.5 91.4h0.68M96.9 72.6h0.68M93.0 76.7h0.68M93.4 88.6h0.68M96.5 89.5h0.68M92.9 85.8h0.68M89.5 88.7h0.68M95.3 68.9h0.68M91.1 87.1h0.68M94.3 75.6h0.68M90.5 79.8h0.68M94.1 79.7h0.68M96.4 82.7h0.68M85.6 76.6h0.68M94.2 89.3h0.68M92.2 68.6h0.68M84.8 71.7h0.68M94.5 66.6h0.68M86.4 72.9h0.68M93.8 70.7h0.68M82.2 77.3h0.68M94.0 85.1h0.68M89.9 85.3h0.68M97.0 67.0h0.68M93.1 83.7h0.68M96.0 90.6h0.68M93.3 82.5h0.68M90.9 81.4h0.68M93.0 83.8h0.68M96.4 68.0h0.68M95.3 66.7h0.68M95.2 69.1h0.68M94.9 78.7h0.68M89.5 73.2h0.68M95.5 85.7h0.68M96.0 73.9h0.68M94.9 76.6h0.68M95.0 84.7h0.68M92.0 68.7h0.68M92.8 87.3h0.68M95.1 67.1h0.68M95.3 87.8h0.68M93.8 86.5h0.68M95.1 66.5h0.68M93.5 71.1h0.68M94.6 82.9h0.68M95.3 81.1h0.68M95.3 69.9h0.68M94.3 68.7h0.68M92.1 82.7h0.68M96.5 80.7h0.68M96.7 66.7h0.68M95.2 87.8h0.68M88.2 75.5h0.68M87.6 84.5h0.68M91.3 72.6h0.68M90.3 75.5h0.68M94.6 72.6h0.68M96.6 86.4h0.68M95.9 85.6h0.68M92.2 71.9h0.68M86.3 100.2h0.68M89.1 105.3h0.68M92.9 109.1h0.68M96.3 94.3h0.68M93.2 121.9h0.68M86.9 93.5h0.68M89.9 96.6h0.68M90.2 117.5h0.68M84.8 96.6h0.68M90.5 98.6h0.68M86.8 108.0h0.68M85.2 94.9h0.68M88.7 109.0h0.68M97.3 112.0h0.68M84.5 100.3h0.68M94.4 112.3h0.68M96.3 126.3h0.68M96.1 96.4h0.68M97.4 110.9h0.68M86.9 98.5h0.68M96.2 100.0h0.68M84.6 101.8h0.68M97.1 108.7h0.68M94.2 95.1h0.68M90.1 103.7h0.68M86.4 115.8h0.68M88.7 96.7h0.68M98.0 109.4h0.68M86.1 92.9h0.68M93.1 110.6h0.68M83.8 109.0h0.68M94.4 111.4h0.68M86.9 110.0h0.68M92.4 115.4h0.68M85.5 120.7h0.68M97.4 118.5h0.68M96.1 105.4h0.68M96.8 98.9h0.68M86.8 113.5h0.68M96.7 95.4h0.68M86.6 93.8h0.68M89.9 97.4h0.68M86.2 118.8h0.68M92.0 125.5h0.68M89.3 116.3h0.68M83.6 125.8h0.68M86.8 109.2h0.68M91.0 125.8h0.68M92.6 100.1h0.68M95.7 99.6h0.68M98.2 108.5h0.68M86.7 126.2h0.68M88.2 106.8h0.68M88.5 116.0h0.68M83.7 105.6h0.68M85.8 121.6h0.68M83.4 113.8h0.68M87.2 108.4h0.68M91.7 117.5h0.68M85.4 100.9h0.68M85.2 126.2h0.68M85.6 97.3h0.68M91.1 112.9h0.68M96.5 94.5h0.68M86.9 98.4h0.68M92.1 108.4h0.68M89.5 123.7h0.68M93.2 122.7h0.68M97.6 101.9h0.68M97.3 106.8h0.68M84.2 124.6h0.68M84.9 93.1h0.68M87.7 102.6h0.68M97.7 123.1h0.68M89.6 111.1h0.68M96.0 120.8h0.68M93.1 110.5h0.68M85.1 101.1h0.68M93.1 113.1h0.68M95.3 124.0h0.68M97.6 99.3h0.68M84.5 124.0h0.68M91.8 98.9h0.68M93.6 101.5h0.68M86.9 105.4h0.68M91.2 116.3h0.68M84.5 118.5h0.68M92.6 109.1h0.68M93.3 120.6h0.68M83.5 109.2h0.68M93.4 117.4h0.68M93.0 98.8h0.68M97.6 120.1h0.68M86.8 107.6h0.68M97.6 99.8h0.68M89.5 126.3h0.68M96.7 100.7h0.68M94.3 105.1h0.68M93.2 119.4h0.68M85.3 100.3h0.68M86.6 101.8h0.68M83.9 97.3h0.68M89.4 107.3h0.68M113.7 82.3h0.68M100.0 73.5h0.68M103.3 90.1h0.68M112.4 89.0h0.68M96.0 81.8h0.68M114.3 90.6h0.68M100.9 93.1h0.68M110.6 65.8h0.68M101.3 69.2h0.68M114.8 74.8h0.68M112.4 92.2h0.68M108.8 91.2h0.68M109.4 67.9h0.68M112.0 69.1h0.68M98.4 71.3h0.68M97.6 76.1h0.68M104.3 63.9h0.68M117.7 77.6h0.68M113.5 90.9h0.68M110.4 92.7h0.68M108.3 91.5h0.68M112.7 78.7h0.68M119.1 90.7h0.68M113.4 87.7h0.68M104.6 89.8h0.68M100.3 86.5h0.68M98.3 81.4h0.68M117.1 85.2h0.68M115.2 92.7h0.68M102.1 63.0h0.68M108.6 94.2h0.68M104.7 88.1h0.68M96.8 80.5h0.68M94.7 72.3h0.68M118.5 82.4h0.68M100.3 91.2h0.68M103.6 63.4h0.68M109.2 59.7h0.68M115.6 85.0h0.68M103.5 65.0h0.68M109.0 63.4h0.68M115.4 84.8h0.68M101.6 67.1h0.68M112.4 91.4h0.68M96.7 70.8h0.68M110.2 95.2h0.68M108.6 90.6h0.68M103.9 62.5h0.68M117.0 80.0h0.68M106.9 91.4h0.68M100.6 68.4h0.68M112.8 70.7h0.68M111.5 91.0h0.68M108.9 96.5h0.68M114.5 90.6h0.68M111.1 60.9h0.68M102.7 60.0h0.68M105.8 91.5h0.68M105.4 92.3h0.68M99.4 70.2h0.68M118.2 86.5h0.68M114.9 90.4h0.68M116.4 70.1h0.68M111.7 90.3h0.68M114.1 85.8h0.68M102.7 90.3h0.68M104.8 67.9h0.68M115.7 86.2h0.68M115.6 82.9h0.68M109.3 95.0h0.68M101.1 65.6h0.68M97.1 82.0h0.68M103.4 63.8h0.68M100.4 83.4h0.68M116.9 69.2h0.68M115.4 85.8h0.68M99.6 83.1h0.68M116.2 80.4h0.68M117.4 75.2h0.68M99.0 82.4h0.68M99.5 69.2h0.68M105.6 62.5h0.68M107.0 64.3h0.68M101.0 88.7h0.68M116.9 86.0h0.68M107.0 92.9h0.68M106.8 62.6h0.68M117.4 84.0h0.68M112.0 86.9h0.68M113.3 90.0h0.68M113.6 91.2h0.68M104.6 89.3h0.68M115.7 88.1h0.68M119.3 91.3h0.68M108.7 92.9h0.68M112.0 72.1h0.68M96.5 82.7h0.68M107.0 92.2h0.68M99.1 82.4h0.68M113.3 85.8h0.68M112.9 92.9h0.68M109.5 64.4h0.68M104.0 91.6h0.68M97.4 82.8h0.68M118.7 75.9h0.68M104.4 95.7h0.68M113.5 90.9h0.68M112.0 89.7h0.68M99.0 87.8h0.68M100.9 74.2h0.68M117.3 78.1h0.68M112.7 70.7h0.68M114.8 73.6h0.68M110.5 60.4h0.68M108.2 91.7h0.68M102.7 92.3h0.68M101.4 90.4h0.68M115.1 68.7h0.68M102.0 85.2h0.68M106.4 67.1h0.68M110.2 96.9h0.68M115.6 76.6h0.68M104.4 63.6h0.68M108.6 88.8h0.68M102.2 69.2h0.68M116.8 90.8h0.68M99.3 76.2h0.68M102.6 94.5h0.68M112.0 62.8h0.68M113.0 86.1h0.68M115.6 71.7h0.68M102.2 69.5h0.68M118.5 82.1h0.68M100.1 82.7h0.68M103.7 92.3h0.68M111.3 69.8h0.68M111.1 91.6h0.68M117.2 87.0h0.68M103.8 95.9h0.68M110.8 93.5h0.68M119.1 84.9h0.68M112.8 93.5h0.68M100.7 81.8h0.68M117.6 72.1h0.68M106.1 89.3h0.68M100.7 81.2h0.68M114.0 68.7h0.68M112.2 68.5h0.68M96.6 71.8h0.68M110.9 62.9h0.68M99.4 77.8h0.68M113.3 67.1h0.68M100.9 65.6h0.68M101.9 92.1h0.68M116.0 73.5h0.68M114.2 70.4h0.68M115.8 80.1h0.68M104.1 65.3h0.68M98.4 86.9h0.68M110.2 62.9h0.68M108.0 64.6h0.68M105.2 62.1h0.68M108.9 62.9h0.68M120.0 75.8h0.68M101.0 84.1h0.68M116.7 69.6h0.68M111.9 91.5h0.68M104.3 61.6h0.68M111.9 89.2h0.68M101.6 66.6h0.68M119.9 96.8h0.68M99.8 74.7h0.68M108.6 61.6h0.68M94.8 73.5h0.68M106.2 61.8h0.68M114.3 71.3h0.68M112.5 95.0h0.68M114.3 68.3h0.68M115.4 66.9h0.68M115.0 71.5h0.68M96.6 73.3h0.68M109.2 61.3h0.68M100.6 85.4h0.68M107.7 92.1h0.68M101.3 85.0h0.68M116.3 85.4h0.68M115.8 77.8h0.68M105.2 60.2h0.68M110.0 92.9h0.68M114.5 93.5h0.68M98.0 69.5h0.68M98.9 72.1h0.68M104.0 63.9h0.68M104.5 67.7h0.68M108.0 96.1h0.68M114.1 80.9h0.68M115.3 72.5h0.68M117.1 83.7h0.68M108.5 64.3h0.68M99.4 82.7h0.68M98.9 66.1h0.68M106.7 63.4h0.68M109.6 93.6h0.68M99.8 88.0h0.68M99.5 69.4h0.68M111.5 94.0h0.68M117.1 85.2h0.68M96.7 79.1h0.68M112.1 89.2h0.68M116.8 74.6h0.68M96.6 81.1h0.68M112.0 91.2h0.68M98.0 70.7h0.68M117.6 84.3h0.68M102.2 62.2h0.68M103.3 90.4h0.68M100.9 84.9h0.68M100.0 90.6h0.68M115.4 91.4h0.68M115.6 77.8h0.68M111.5 65.8h0.68M100.8 69.7h0.68M114.0 71.3h0.68M106.3 94.3h0.68M99.2 74.9h0.68M114.1 73.8h0.68M113.2 87.1h0.68M108.4 60.2h0.68M99.1 71.7h0.68M114.8 73.0h0.68M98.7 75.1h0.68M116.3 87.8h0.68M114.1 68.3h0.68M105.0 91.7h0.68M99.7 80.9h0.68M114.0 68.2h0.68M104.9 86.4h0.68M100.6 68.4h0.68M99.0 81.3h0.68M97.8 68.6h0.68M107.9 63.7h0.68M100.5 90.4h0.68M101.8 92.4h0.68M107.7 91.6h0.68M104.2 92.4h0.68M102.8 66.0h0.68M117.4 79.2h0.68M109.2 63.2h0.68M114.7 89.6h0.68M108.5 94.1h0.68M104.9 64.6h0.68M113.0 74.4h0.68M97.3 74.5h0.68M114.9 70.8h0.68M98.8 86.0h0.68M113.3 63.0h0.68M99.9 91.8h0.68M105.6 60.7h0.68M98.3 70.4h0.68M117.0 82.3h0.68M117.5 90.4h0.68M99.4 67.9h0.68M116.4 87.6h0.68M98.3 69.0h0.68M100.6 63.8h0.68M116.4 75.3h0.68M100.2 84.7h0.68M110.5 94.1h0.68M118.9 73.9h0.68M113.4 90.9h0.68M113.7 92.4h0.68M104.6 61.8h0.68M114.8 81.6h0.68M116.8 80.2h0.68M98.9 85.2h0.68M100.7 82.7h0.68M112.6 68.6h0.68M101.6 87.4h0.68M117.7 70.6h0.68M100.6 75.0h0.68M115.4 90.0h0.68M101.6 63.0h0.68M117.9 77.5h0.68M100.4 78.1h0.68M117.6 77.6h0.68M102.3 67.8h0.68M98.3 73.1h0.68M114.9 74.3h0.68M117.9 72.0h0.68M105.5 91.0h0.68M102.2 89.1h0.68M108.5 58.6h0.68M108.1 60.4h0.68M104.6 70.9h0.68M105.2 92.4h0.68M100.1 70.7h0.68M115.0 91.5h0.68M107.7 91.0h0.68M117.5 67.8h0.68M105.9 60.6h0.68M114.7 89.8h0.68M113.0 71.0h0.68M101.5 73.8h0.68M118.1 86.2h0.68M107.3 61.9h0.68M116.5 87.9h0.68M111.5 69.5h0.68M109.0 94.6h0.68M104.7 64.3h0.68M98.6 79.9h0.68M103.9 63.1h0.68M107.6 96.5h0.68M100.5 93.8h0.68M115.3 77.2h0.68M101.8 83.9h0.68M106.4 65.3h0.68M97.9 84.0h0.68M115.0 73.3h0.68M96.6 82.7h0.68M116.1 91.4h0.68M99.2 59.5h0.68M96.3 75.2h0.68M104.8 61.2h0.68M101.0 91.4h0.68M109.4 93.4h0.68M98.7 81.4h0.68M118.4 86.4h0.68M114.6 79.8h0.68M100.8 81.6h0.68M104.3 63.0h0.68M103.4 92.6h0.68M114.8 88.4h0.68M109.8 63.1h0.68M97.3 79.5h0.68M103.5 94.2h0.68M95.5 83.0h0.68M107.9 63.5h0.68M112.2 97.8h0.68M112.2 72.1h0.68M107.1 67.5h0.68M102.1 71.3h0.68M99.7 84.1h0.68M118.5 87.9h0.68M102.8 67.2h0.68M105.3 63.2h0.68M110.6 62.0h0.68M117.1 73.3h0.68M102.3 65.7h0.68M98.7 74.7h0.68M115.5 89.4h0.68M99.6 81.7h0.68M102.4 90.1h0.68M97.8 74.4h0.68M112.6 87.8h0.68M111.9 70.6h0.68M119.5 74.6h0.68M112.2 85.2h0.68M102.8 86.8h0.68M98.0 75.1h0.68M112.1 92.8h0.68M115.2 87.5h0.68M95.9 72.6h0.68M115.5 72.8h0.68M114.8 73.4h0.68M102.2 71.1h0.68M101.9 66.9h0.68M103.3 89.2h0.68M115.8 74.6h0.68M109.8 94.0h0.68M117.0 78.1h0.68M97.4 74.3h0.68M117.2 89.2h0.68M110.5 66.6h0.68M113.6 72.3h0.68M115.9 76.6h0.68M114.9 77.5h0.68M113.5 80.4h0.68M105.1 95.1h0.68M96.5 72.3h0.68M114.3 68.7h0.68M98.4 71.3h0.68M111.9 91.9h0.68M113.4 91.7h0.68M114.9 71.6h0.68M108.3 95.3h0.68M105.2 90.3h0.68M114.6 74.9h0.68M118.2 84.1h0.68M110.8 63.7h0.68M105.5 63.6h0.68M108.1 94.6h0.68M100.2 64.8h0.68M120.5 70.2h0.68M99.6 68.9h0.68M99.6 65.1h0.68M95.8 73.9h0.68M102.4 91.8h0.68M114.4 88.4h0.68M115.0 91.6h0.68M109.0 61.3h0.68M112.7 87.8h0.68M98.0 73.9h0.68M100.5 86.8h0.68M117.0 82.5h0.68M99.7 86.4h0.68M110.4 97.1h0.68M110.2 64.4h0.68M97.7 81.8h0.68M102.3 87.4h0.68M111.7 96.2h0.68M100.8 64.7h0.68M99.4 79.0h0.68M114.5 71.0h0.68M116.3 83.2h0.68M116.4 84.4h0.68M100.0 66.3h0.68M100.4 85.7h0.68M117.0 70.2h0.68M109.8 94.3h0.68M104.5 93.7h0.68M114.3 69.8h0.68M112.8 88.6h0.68M119.3 82.1h0.68M98.8 64.6h0.68M114.0 89.6h0.68M98.3 78.8h0.68M103.5 94.5h0.68M103.2 61.7h0.68M96.7 78.5h0.68M97.9 86.9h0.68M99.0 62.8h0.68M118.9 77.3h0.68M110.6 91.5h0.68M117.1 85.6h0.68M101.4 63.1h0.68M108.3 93.1h0.68M101.2 65.4h0.68M101.4 62.8h0.68M99.3 85.9h0.68M97.3 75.3h0.68M117.5 76.1h0.68M98.3 79.2h0.68M97.4 80.7h0.68M95.9 80.2h0.68M109.1 65.4h0.68M110.4 59.1h0.68M97.3 82.3h0.68M116.6 89.6h0.68M102.5 66.0h0.68M114.8 75.6h0.68M116.6 81.2h0.68M113.5 84.6h0.68M104.4 95.0h0.68M103.9 62.8h0.68M103.7 90.5h0.68M104.1 66.1h0.68M107.7 95.7h0.68M116.8 77.5h0.68M116.0 85.1h0.68M102.3 71.1h0.68M115.5 92.1h0.68M114.3 85.7h0.68M101.8 89.2h0.68M117.1 81.1h0.68M101.5 95.6h0.68M106.1 87.0h0.68M115.0 68.6h0.68M101.3 73.6h0.68M114.3 75.3h0.68M100.9 74.9h0.68M111.5 89.5h0.68M104.1 91.3h0.68M103.2 87.3h0.68M110.9 92.6h0.68M107.6 90.4h0.68M100.1 86.5h0.68M100.6 65.2h0.68M107.8 95.9h0.68M107.0 64.6h0.68M100.4 77.9h0.68M109.7 95.7h0.68M102.5 88.7h0.68M107.0 90.0h0.68M110.2 62.3h0.68M98.3 81.0h0.68M99.9 83.2h0.68M103.2 90.0h0.68M105.8 61.3h0.68M104.6 63.2h0.68M107.8 61.8h0.68M101.3 67.8h0.68M103.5 67.5h0.68M108.0 95.3h0.68M117.7 80.3h0.68M111.5 99.0h0.68M113.2 98.7h0.68M109.6 92.3h0.68M113.2 106.6h0.68M109.2 92.5h0.68M104.4 104.8h0.68M107.0 105.7h0.68M112.5 95.1h0.68M111.6 92.5h0.68M103.1 103.6h0.68M104.8 109.0h0.68M110.8 107.1h0.68M105.9 111.5h0.68M105.1 106.1h0.68M111.8 92.4h0.68M109.3 106.9h0.68M108.3 92.7h0.68M112.9 95.2h0.68M103.2 102.6h0.68M107.3 110.1h0.68M112.5 101.2h0.68M114.4 101.0h0.68M103.2 106.4h0.68M105.4 94.3h0.68M103.1 94.3h0.68M104.6 92.6h0.68M103.0 95.2h0.68M111.8 92.8h0.68M112.8 95.7h0.68M100.5 95.5h0.68M104.3 109.2h0.68M103.6 93.5h0.68M103.2 95.9h0.68M108.9 108.3h0.68M105.6 106.6h0.68M113.0 95.0h0.68M112.8 106.7h0.68M111.2 93.9h0.68M107.7 107.1h0.68M112.8 102.0h0.68M109.4 91.8h0.68M108.3 93.4h0.68M101.0 101.5h0.68M103.1 105.9h0.68M108.1 106.3h0.68M109.9 95.2h0.68M103.4 98.6h0.68M113.6 106.7h0.68M107.1 108.6h0.68M112.1 100.0h0.68M111.9 104.1h0.68M113.8 100.4h0.68M113.5 105.7h0.68M101.3 104.1h0.68M101.9 99.9h0.68M99.4 99.2h0.68M114.3 99.2h0.68M100.0 100.7h0.68M102.9 106.9h0.68M111.4 95.2h0.68M104.3 105.8h0.68M100.4 96.2h0.68M105.6 112.2h0.68M102.2 108.1h0.68M111.4 104.9h0.68M105.3 106.0h0.68M104.3 108.4h0.68M103.1 103.7h0.68M112.5 98.4h0.68M111.3 108.6h0.68M104.7 94.1h0.68M103.5 104.0h0.68M108.2 109.0h0.68M109.8 94.8h0.68M103.2 106.1h0.68M108.6 108.0h0.68M112.6 98.5h0.68M103.2 100.4h0.68M101.2 101.8h0.68M103.3 92.9h0.68M105.4 92.6h0.68M112.8 108.5h0.68M102.3 94.2h0.68M104.6 109.7h0.68M100.7 97.3h0.68M102.1 93.7h0.68M111.1 105.8h0.68M99.8 97.2h0.68M102.7 94.4h0.68M108.3 106.2h0.68M101.0 103.6h0.68M107.6 94.1h0.68M105.7 103.1h0.68M110.7 91.5h0.68M103.2 91.9h0.68M114.6 102.3h0.68M115.0 95.8h0.68M106.9 108.0h0.68M111.6 92.2h0.68M99.2 98.8h0.68M114.7 101.3h0.68M110.0 94.1h0.68M106.2 95.9h0.68M109.1 107.5h0.68M112.3 95.5h0.68M104.2 107.7h0.68M114.6 104.6h0.68M112.5 106.8h0.68M110.6 107.0h0.68M113.8 95.6h0.68M114.9 93.5h0.68M104.6 101.9h0.68M109.1 93.1h0.68M110.9 88.8h0.68M106.8 91.9h0.68M113.5 96.2h0.68M103.6 98.5h0.68M110.2 105.0h0.68M106.3 95.4h0.68M101.1 102.8h0.68M109.8 109.5h0.68M107.3 92.4h0.68M110.5 93.0h0.68M101.0 107.1h0.68M108.6 109.4h0.68M101.2 109.7h0.68M101.7 99.8h0.68M107.6 92.0h0.68M107.3 90.8h0.68M108.8 107.2h0.68M104.1 106.8h0.68M104.1 103.4h0.68M99.8 98.7h0.68M99.1 102.4h0.68M101.2 99.9h0.68M106.6 93.3h0.68M103.7 107.2h0.68M106.6 107.7h0.68M104.3 95.4h0.68M102.0 96.3h0.68M108.7 108.3h0.68M109.3 92.3h0.68M107.3 109.7h0.68M103.8 96.6h0.68M102.1 92.8h0.68M105.5 110.5h0.68M111.8 93.5h0.68M109.1 95.1h0.68M103.3 102.7h0.68M108.7 104.3h0.68M111.3 104.1h0.68M111.6 107.9h0.68M108.8 109.7h0.68M110.5 105.9h0.68M109.7 106.9h0.68M101.9 101.5h0.68M103.0 98.8h0.68M111.0 92.5h0.68M114.4 101.3h0.68M113.1 102.2h0.68M108.0 94.1h0.68M108.6 107.5h0.68M108.5 93.2h0.68M108.6 111.3h0.68M102.7 97.1h0.68M102.5 101.2h0.68M111.9 102.9h0.68M110.1 105.3h0.68M101.8 97.7h0.68M110.4 94.0h0.68M112.3 93.3h0.68M113.0 104.7h0.68M107.4 110.4h0.68M107.5 109.7h0.68M106.0 106.6h0.68M109.0 91.8h0.68M106.3 91.2h0.68M114.2 100.8h0.68M103.8 109.5h0.68M108.9 90.4h0.68M113.7 100.1h0.68M107.8 91.5h0.68M101.3 105.5h0.68M105.4 107.3h0.68M114.3 104.9h0.68M102.3 103.1h0.68M101.6 103.7h0.68M104.0 101.0h0.68M109.1 104.9h0.68M101.1 106.0h0.68M105.0 94.9h0.68M102.5 96.9h0.68M107.6 105.2h0.68M112.0 103.7h0.68M101.5 109.1h0.68M111.3 120.9h0.68M102.5 115.9h0.68M101.0 121.7h0.68M111.3 126.2h0.68M105.1 109.4h0.68M103.2 114.9h0.68M112.9 121.5h0.68M99.7 115.3h0.68M108.3 112.9h0.68M109.9 110.6h0.68M112.3 126.2h0.68M113.1 117.4h0.68M114.0 121.8h0.68M109.2 126.8h0.68M101.6 124.7h0.68M112.1 126.5h0.68M100.0 119.5h0.68M98.8 124.1h0.68M101.3 113.0h0.68M106.7 113.4h0.68M98.8 123.3h0.68M112.3 114.0h0.68M107.3 110.2h0.68M98.2 125.2h0.68M114.6 116.9h0.68M99.9 117.6h0.68M98.3 125.7h0.68M113.5 116.0h0.68M104.6 126.4h0.68M112.5 123.3h0.68M114.3 116.0h0.68M104.7 111.2h0.68M113.7 121.5h0.68M98.2 122.0h0.68M114.9 121.4h0.68M114.1 125.2h0.68M113.6 125.5h0.68M109.4 113.8h0.68M112.0 110.9h0.68M113.5 125.9h0.68M112.2 118.2h0.68M112.3 113.0h0.68M99.1 115.5h0.68M105.1 112.4h0.68M99.7 123.6h0.68M108.8 112.9h0.68M98.6 120.7h0.68M97.9 120.0h0.68M99.0 120.3h0.68M101.1 124.1h0.68M112.1 115.6h0.68M116.0 112.1h0.68M115.4 119.9h0.68M109.4 113.0h0.68M99.4 113.8h0.68M98.7 109.0h0.68M109.1 113.1h0.68M111.4 114.2h0.68M99.1 122.5h0.68M102.7 113.9h0.68M110.9 124.2h0.68M103.4 112.2h0.68M115.4 123.2h0.68M101.1 123.6h0.68M105.9 110.0h0.68M102.9 115.0h0.68M97.6 119.5h0.68M107.6 113.4h0.68M111.4 120.2h0.68M106.2 112.8h0.68M108.6 116.5h0.68M111.9 114.8h0.68M96.1 122.3h0.68M104.2 126.5h0.68M111.9 111.4h0.68M110.6 113.8h0.68M110.4 126.9h0.68M99.1 116.8h0.68M113.8 126.6h0.68M110.4 114.5h0.68M99.0 126.9h0.68M100.7 126.5h0.68M115.2 121.3h0.68M113.1 120.5h0.68M114.2 118.3h0.68M115.4 122.0h0.68M112.4 125.2h0.68M100.7 120.3h0.68M114.9 119.9h0.68M110.7 114.0h0.68M113.5 121.5h0.68M104.8 115.3h0.68M98.7 117.7h0.68M99.8 118.6h0.68M104.3 111.6h0.68M99.1 116.5h0.68M101.9 116.9h0.68M114.1 116.0h0.68M103.8 126.3h0.68M113.1 117.0h0.68M103.8 110.1h0.68M102.9 114.1h0.68M114.0 117.1h0.68M100.5 122.1h0.68M107.0 112.3h0.68M100.3 114.1h0.68M109.3 112.5h0.68M114.4 113.5h0.68M115.5 117.2h0.68M108.6 112.3h0.68M99.9 112.6h0.68M113.2 124.3h0.68M98.7 121.5h0.68M98.5 125.9h0.68M110.8 113.9h0.68M107.8 113.1h0.68M100.5 120.9h0.68M97.3 120.2h0.68M104.9 124.1h0.68M107.8 125.3h0.68M113.9 123.5h0.68M98.5 125.1h0.68M112.1 119.2h0.68M109.6 114.8h0.68M113.2 121.1h0.68M100.8 126.1h0.68M115.6 124.9h0.68M100.2 118.6h0.68M99.0 126.2h0.68M112.5 125.4h0.68M102.4 117.3h0.68M110.4 124.3h0.68M112.4 119.9h0.68M107.1 108.5h0.68M102.1 112.2h0.68M111.6 116.2h0.68M107.0 113.1h0.68M99.9 118.5h0.68M110.7 118.3h0.68M100.6 117.7h0.68M116.0 120.0h0.68M98.8 117.6h0.68M105.1 109.7h0.68M99.2 121.6h0.68M102.9 116.0h0.68M113.4 117.9h0.68M112.9 121.1h0.68M116.4 124.8h0.68M109.0 109.8h0.68M109.1 111.9h0.68M104.1 111.4h0.68M99.9 119.2h0.68M100.6 116.5h0.68M114.7 117.9h0.68M106.6 124.9h0.68M99.8 119.8h0.68M109.4 111.4h0.68M108.9 125.7h0.68M112.8 117.5h0.68M114.0 121.5h0.68M115.3 116.4h0.68M100.3 118.4h0.68M114.7 116.1h0.68M111.2 126.2h0.68M97.7 115.1h0.68M112.6 126.9h0.68M110.3 125.7h0.68M110.0 112.3h0.68M112.8 117.7h0.68M109.4 112.5h0.68M111.8 114.1h0.68M111.1 110.7h0.68M107.9 110.3h0.68M99.8 112.3h0.68M104.7 124.3h0.68M111.0 111.9h0.68M103.6 113.3h0.68M102.9 111.4h0.68M111.3 114.0h0.68M112.6 114.9h0.68M101.8 110.5h0.68M112.5 126.8h0.68M104.7 125.9h0.68M112.4 125.1h0.68M96.3 122.9h0.68M109.8 112.2h0.68M112.4 114.4h0.68M106.7 111.3h0.68M112.8 125.0h0.68M101.9 112.1h0.68M100.2 122.8h0.68M113.5 122.0h0.68M108.6 111.1h0.68M104.7 111.7h0.68M104.6 114.3h0.68M111.3 125.9h0.68M105.9 111.6h0.68M110.9 115.0h0.68M101.8 125.4h0.68M114.8 115.6h0.68M100.0 117.3h0.68M111.5 114.0h0.68M113.7 126.5h0.68M98.6 120.4h0.68M100.2 123.6h0.68M112.8 120.1h0.68M110.8 113.1h0.68M112.1 115.5h0.68M101.0 113.5h0.68M105.9 109.7h0.68M99.1 119.7h0.68M97.2 122.6h0.68M115.7 114.3h0.68M100.7 121.4h0.68M116.3 118.0h0.68M99.8 111.6h0.68M109.1 117.6h0.68M116.7 122.3h0.68M111.4 112.9h0.68M109.6 114.3h0.68M101.4 124.0h0.68M111.1 123.7h0.68M114.5 119.3h0.68M98.5 125.7h0.68M97.0 115.0h0.68M102.9 116.1h0.68M98.4 119.4h0.68M103.4 118.5h0.68M98.6 125.8h0.68M102.4 126.7h0.68M114.2 117.1h0.68M101.3 116.8h0.68M104.1 126.7h0.68M114.3 119.4h0.68M99.2 117.1h0.68M106.9 125.5h0.68M107.6 114.0h0.68M89.9 62.4h0.68M57.8 105.0h0.68M100.6 85.4h0.68M116.4 115.3h0.68M74.0 64.1h0.68M91.3 104.1h0.68M68.6 62.5h0.68M86.7 61.8h0.68M103.9 102.1h0.68M72.4 89.9h0.68M69.2 72.2h0.68M65.7 115.0h0.68M84.4 108.2h0.68M77.1 114.4h0.68M94.2 104.0h0.68M80.2 97.8h0.68M66.3 125.8h0.68M99.4 95.8h0.68M97.1 66.3h0.68M76.2 75.2h0.68M111.2 60.4h0.68M83.8 118.7h0.68M107.0 108.5h0.68M73.9 75.3h0.68M101.7 79.8h0.68M102.9 83.3h0.68M105.5 98.5h0.68M109.3 126.6h0.68M79.2 126.7h0.68M53.9 119.2h0.68M55.2 96.6h0.68M79.9 111.9h0.68M74.9 73.7h0.68M107.1 97.0h0.68M105.2 92.8h0.68M55.7 112.0h0.68M68.2 91.6h0.68M99.0 111.5h0.68M97.0 89.7h0.68M103.6 105.1h0.68M67.4 95.9h0.68M94.3 109.1h0.68M66.8 80.7h0.68M76.8 66.0h0.68M77.2 109.2h0.68M92.9 71.3h0.68M103.5 67.5h0.68M104.9 69.6h0.68M59.8 76.6h0.68M88.6 77.9h0.68M114.0 123.4h0.68M72.7 110.6h0.68M101.1 97.7h0.68M70.7 124.2h0.68M119.0 60.4h0.68M75.9 81.4h0.68M66.9 88.8h0.68M115.0 61.1h0.68M110.7 80.5h0.68M54.1 120.8h0.68M71.9 73.9h0.68M61.2 84.5h0.68M61.4 71.7h0.68M70.4 98.9h0.68M83.9 80.3h0.68M89.4 112.2h0.68M103.0 82.9h0.68M116.4 113.4h0.68M91.8 91.9h0.68M75.9 68.6h0.68M114.1 100.9h0.68M60.0 122.5h0.68M114.2 61.8h0.68M101.4 75.7h0.68M90.0 116.3h0.68M77.3 93.4h0.68M99.0 72.6h0.68M96.3 88.5h0.68M120.8 72.3h0.68M102.1 62.3h0.68M72.1 67.5h0.68M63.4 95.5h0.68M65.2 113.6h0.68M59.8 101.9h0.68M112.4 68.1h0.68M68.2 111.6h0.68M85.6 123.0h0.68M76.5 86.6h0.68M119.1 82.9h0.68M119.7 120.2h0.68M123.6 97.9h0.68M129.5 70.0h0.68M128.8 112.9h0.68M128.0 101.5h0.68M122.8 124.9h0.68M122.8 113.5h0.68M127.8 83.0h0.68M127.5 89.1h0.68M128.0 65.1h0.68M129.5 87.4h0.68M128.4 93.1h0.68M128.5 82.0h0.68M126.4 63.9h0.68M125.9 67.5h0.68M128.9 106.5h0.68M125.4 125.9h0.68M129.6 124.8h0.68M122.7 108.3h0.68M127.8 101.9h0.68M122.1 122.6h0.68M125.5 101.2h0.68M128.5 80.3h0.68M122.2 122.6h0.68M124.2 65.0h0.68M127.9 76.0h0.68M123.2 120.9h0.68M127.3 100.4h0.68M123.0 89.3h0.68M129.6 62.5h0.68M125.4 66.0h0.68M130.0 69.1h0.68" stroke="#161616" stroke-width="0.68" fill="none" opacity="0.74"/>
</g></g>
<rect x="53.20" y="31.50" width="103.80" height="96.10" fill="none" stroke="#7c7c7c" stroke-width="1" />
<rect x="53.20" y="92.50" width="30.20" height="34.70" fill="none" stroke="#454545" stroke-width="0.95" />
<rect x="84.50" y="62.30" width="12.50" height="29.20" fill="none" stroke="#454545" stroke-width="0.95" />
<rect x="98.20" y="62.30" width="23.80" height="29.20" fill="none" stroke="#454545" stroke-width="0.95" />
<rect x="98.20" y="93.00" width="23.80" height="15.40" fill="none" stroke="#454545" stroke-width="0.95" />
<rect x="98.20" y="110.00" width="23.80" height="17.20" fill="none" stroke="#454545" stroke-width="0.95" />
<rect x="69.2" y="70.39999999999999" width="16.2" height="6.8" fill="#fff" opacity="0.88"/>
<text x="70" y="76.3" font-size="7.3" font-weight="bold" text-anchor="start" fill="#1a1a1a" >1.47</text>
<text x="125" y="77.8" font-size="7.3" font-weight="bold" text-anchor="start" fill="#1a1a1a" >25.76</text>
<text x="126.8" y="103.8" font-size="7.3" font-weight="bold" text-anchor="start" fill="#1a1a1a" >4.24</text>
<text x="125" y="120.7" font-size="7.3" font-weight="bold" text-anchor="start" fill="#1a1a1a" >12.92</text>
<rect x="74.60000000000001" y="117.0" width="20.1" height="6.8" fill="#fff" opacity="0.88"/>
<text x="75.4" y="122.9" font-size="7.3" font-weight="bold" text-anchor="start" fill="#1a1a1a" >49.67</text>
<text x="86" y="57.6" font-size="16" font-weight="bold" text-anchor="start" fill="#000" >ii</text>
<text x="143" y="77.8" font-size="16" font-weight="bold" text-anchor="start" fill="#000" >iii</text>
<text x="142.4" y="103.6" font-size="16" font-weight="bold" text-anchor="start" fill="#000" >iv</text>
<text x="145.2" y="122" font-size="16" font-weight="bold" text-anchor="start" fill="#000" >v</text>
<text x="84.3" y="114.7" font-size="16" font-weight="bold" text-anchor="start" fill="#000" >i</text>
<clipPath id="cp2"><rect x="168.1" y="32.0" width="101.4" height="94.9"/></clipPath>
<g clip-path="url(#cp2)">
<ellipse cx="180.0" cy="86.0" rx="17" ry="12" fill="#8a8a8a" opacity="0.22" filter="url(#bl2)"/>
<ellipse cx="182.0" cy="86.7" rx="16" ry="6" fill="#808080" opacity="0.18" filter="url(#bl2)"/>
<ellipse cx="174.5" cy="112.5" rx="16" ry="17" fill="#606060" opacity="0.66" filter="url(#bl1)"/>
<ellipse cx="173.5" cy="116.0" rx="9.4" ry="10.2" fill="#d6d6d6" opacity="0.93" filter="url(#bl1)"/>
<ellipse cx="222.0" cy="77.0" rx="8.8" ry="14.2" fill="#626262" opacity="0.66" filter="url(#bl1)" transform="rotate(-7 222 77)"/>
<ellipse cx="222.0" cy="77.5" rx="5.000000000000001" ry="10.0" fill="#dadada" opacity="0.93" filter="url(#bl0)" transform="rotate(-7 222 77.5)"/>
<ellipse cx="222.5" cy="100.0" rx="5.6" ry="7.8" fill="#6a6a6a" opacity="0.58" filter="url(#bl1)"/>
<ellipse cx="222.5" cy="100.0" rx="2.3" ry="4.4" fill="#d8d8d8" opacity="0.85" filter="url(#bl0)"/>
<ellipse cx="221.5" cy="119.0" rx="7.2" ry="8" fill="#646464" opacity="0.62" filter="url(#bl1)"/>
<ellipse cx="221.0" cy="121.0" rx="3.4000000000000004" ry="4.6" fill="#d6d6d6" opacity="0.9" filter="url(#bl0)"/>
<rect x="202.6" y="65.4" width="10.700000000000017" height="23.300000000000004" fill="#999" opacity="0.28" filter="url(#bl2)"/>
<g filter="url(#soft)">
<path d="M191.4 107.1h0.68M183.4 97.9h0.68M169.2 96.8h0.68M181.0 92.3h0.68M191.1 111.3h0.68M192.5 116.7h0.68M184.3 106.9h0.68M169.0 95.4h0.68M172.4 95.0h0.68M172.6 97.5h0.68M178.1 125.9h0.68M176.9 96.5h0.68M181.3 125.2h0.68M181.4 91.9h0.68M192.2 109.9h0.68M188.4 124.2h0.68M171.8 95.4h0.68M176.8 99.3h0.68M175.1 96.7h0.68M192.7 124.8h0.68M190.4 114.3h0.68M192.4 114.3h0.68M187.5 98.5h0.68M184.1 95.7h0.68M180.5 91.6h0.68M179.8 94.5h0.68M185.8 98.6h0.68M190.3 110.9h0.68M182.9 123.9h0.68M189.7 118.9h0.68M180.1 97.2h0.68M168.9 102.4h0.68M190.4 104.9h0.68M185.1 123.3h0.68M171.7 96.9h0.68M186.6 125.2h0.68M186.3 103.5h0.68M186.0 125.8h0.68M175.4 97.6h0.68M177.3 92.8h0.68M187.6 105.0h0.68M188.0 100.0h0.68M189.4 119.8h0.68M182.6 95.1h0.68M179.4 91.6h0.68M168.3 93.0h0.68M185.1 122.2h0.68M191.4 117.6h0.68M180.7 99.1h0.68M190.9 110.5h0.68M188.0 116.8h0.68M190.7 110.5h0.68M189.0 123.8h0.68M195.3 109.5h0.68M189.3 122.0h0.68M191.8 104.0h0.68M190.7 117.1h0.68M182.5 123.1h0.68M184.0 123.0h0.68M184.8 121.4h0.68M182.3 124.7h0.68M190.8 123.2h0.68M187.1 105.2h0.68M175.6 99.9h0.68M186.7 124.3h0.68M187.0 99.2h0.68M168.5 125.6h0.68M189.2 124.0h0.68M169.6 94.3h0.68M183.3 103.9h0.68M183.2 96.1h0.68M168.3 126.2h0.68M170.3 100.4h0.68M175.7 91.9h0.68M188.1 99.8h0.68M179.6 96.3h0.68M195.1 107.5h0.68M189.3 122.5h0.68M184.7 125.4h0.68M170.0 99.8h0.68M189.8 105.0h0.68M177.8 93.3h0.68M176.9 92.3h0.68M180.6 122.1h0.68M174.3 96.0h0.68M190.8 108.1h0.68M177.7 96.4h0.68M172.9 97.3h0.68M184.9 102.4h0.68M169.2 99.6h0.68M180.4 95.0h0.68M187.6 102.0h0.68M172.0 100.7h0.68M190.5 111.9h0.68M185.8 124.3h0.68M187.3 119.5h0.68M184.6 95.2h0.68M172.2 96.2h0.68M182.6 95.8h0.68M181.3 119.8h0.68M184.7 94.1h0.68M190.8 107.9h0.68M192.6 115.3h0.68M168.4 100.1h0.68M173.1 96.7h0.68M189.9 96.9h0.68M185.2 97.5h0.68M180.7 125.5h0.68M181.3 118.6h0.68M189.5 113.1h0.68M188.1 124.8h0.68M186.7 104.1h0.68M192.1 108.4h0.68M172.1 88.6h0.68M187.1 122.7h0.68M190.4 107.8h0.68M192.0 104.3h0.68M191.5 106.3h0.68M181.0 98.1h0.68M185.4 113.8h0.68M170.5 96.6h0.68M192.4 121.6h0.68M169.3 96.8h0.68M190.1 121.3h0.68M191.9 112.2h0.68M178.3 98.5h0.68M193.6 108.6h0.68M182.0 100.4h0.68M185.2 96.7h0.68M179.9 125.6h0.68M194.5 112.9h0.68M183.0 104.2h0.68M189.0 120.3h0.68M168.4 94.6h0.68M189.9 111.1h0.68M181.4 124.4h0.68M179.4 95.2h0.68M174.1 95.7h0.68M175.2 98.1h0.68M173.0 91.2h0.68M174.7 126.1h0.68M168.9 117.3h0.68M186.5 107.3h0.68M186.5 98.3h0.68M178.0 124.9h0.68M195.4 122.1h0.68M170.3 124.6h0.68M189.4 105.1h0.68M189.3 120.0h0.68M190.0 116.4h0.68M188.3 108.7h0.68M188.5 116.0h0.68M170.6 125.4h0.68M184.9 121.5h0.68M177.1 97.9h0.68M188.5 104.1h0.68M173.1 95.5h0.68M189.2 116.0h0.68M181.7 98.8h0.68M169.4 125.4h0.68M189.3 114.5h0.68M191.6 110.0h0.68M188.1 102.4h0.68M186.6 123.3h0.68M177.4 100.4h0.68M178.9 95.3h0.68M188.5 122.3h0.68M184.4 96.5h0.68M185.8 97.4h0.68M192.6 112.7h0.68M187.0 111.1h0.68M180.5 93.6h0.68M189.0 104.9h0.68M194.3 107.6h0.68M169.0 124.1h0.68M196.0 121.6h0.68M170.9 100.3h0.68M183.9 104.0h0.68M187.7 122.3h0.68M171.0 94.8h0.68M172.7 96.5h0.68M171.8 96.5h0.68M181.4 98.3h0.68M186.4 98.2h0.68M188.5 112.6h0.68M191.2 110.3h0.68M186.1 122.9h0.68M189.7 114.5h0.68M193.1 114.9h0.68M191.6 112.8h0.68M182.7 120.9h0.68M183.2 97.4h0.68M186.0 98.7h0.68M176.4 95.7h0.68M185.9 97.8h0.68M182.0 95.4h0.68M187.6 106.6h0.68M173.7 126.2h0.68M184.9 125.2h0.68M177.7 125.8h0.68M186.2 119.0h0.68M189.1 122.0h0.68M193.6 115.9h0.68M189.2 121.1h0.68M189.7 111.2h0.68M176.0 99.4h0.68M194.7 106.9h0.68M177.9 94.6h0.68M170.4 96.9h0.68M183.1 112.4h0.68M179.5 96.2h0.68M187.7 107.0h0.68M191.6 115.5h0.68M187.2 122.9h0.68M191.1 109.2h0.68M173.6 93.1h0.68M185.4 125.3h0.68M187.5 109.5h0.68M191.8 108.2h0.68M193.6 117.2h0.68M189.5 119.6h0.68M187.7 101.4h0.68M192.2 110.2h0.68M179.5 94.5h0.68M185.7 118.5h0.68M170.1 93.0h0.68M180.0 91.4h0.68M178.8 101.7h0.68M192.6 118.7h0.68M183.7 101.2h0.68M182.4 124.2h0.68M187.6 123.7h0.68M191.2 118.3h0.68M183.0 123.0h0.68M184.3 107.0h0.68M193.3 110.6h0.68M181.4 121.2h0.68M185.1 121.2h0.68M178.4 94.5h0.68M198.4 114.4h0.68M190.0 104.2h0.68M191.1 117.9h0.68M188.2 109.9h0.68M193.9 117.0h0.68M187.0 125.0h0.68M184.5 100.4h0.68M187.0 125.7h0.68M189.9 112.1h0.68M183.9 123.0h0.68M183.4 100.8h0.68M198.0 114.1h0.68M178.6 96.6h0.68M185.0 104.1h0.68M189.6 113.1h0.68M187.4 124.4h0.68M192.3 122.8h0.68M187.4 123.4h0.68M170.1 92.7h0.68M188.6 114.4h0.68M180.0 100.2h0.68M174.0 126.5h0.68M175.8 97.7h0.68M185.7 92.9h0.68M174.7 126.2h0.68M189.0 119.9h0.68M184.4 99.1h0.68M181.7 124.5h0.68M188.5 115.5h0.68M186.8 105.8h0.68M172.5 123.4h0.68M189.9 112.7h0.68M175.9 94.1h0.68M192.0 123.8h0.68M182.6 98.0h0.68M185.9 124.5h0.68M186.9 103.5h0.68M170.2 96.1h0.68M191.4 103.3h0.68M179.3 98.9h0.68M184.6 119.1h0.68M187.9 113.2h0.68M184.1 116.8h0.68M188.2 98.2h0.68M192.6 118.2h0.68M175.9 99.9h0.68M191.2 121.6h0.68M187.5 106.7h0.68M185.4 111.3h0.68M172.4 125.9h0.68M181.4 123.7h0.68M189.9 119.8h0.68M176.7 95.6h0.68M186.8 98.5h0.68M178.0 91.1h0.68M180.1 125.8h0.68M168.4 94.4h0.68M185.3 97.0h0.68M196.1 118.3h0.68M179.5 97.7h0.68M180.7 101.3h0.68M182.7 98.8h0.68M190.3 121.3h0.68M185.4 101.1h0.68M188.1 98.9h0.68M192.2 99.2h0.68M190.2 109.4h0.68M190.1 125.2h0.68M191.8 107.4h0.68M175.7 96.5h0.68M191.0 104.5h0.68M192.9 119.2h0.68M185.6 117.9h0.68M188.7 107.7h0.68M186.8 102.4h0.68M188.1 101.8h0.68M168.3 120.1h0.68M173.2 93.7h0.68M178.9 103.5h0.68M179.7 91.5h0.68M182.5 95.7h0.68M186.2 97.3h0.68M177.3 97.6h0.68M197.5 122.0h0.68M189.3 118.9h0.68M191.1 106.8h0.68M191.4 107.5h0.68M172.2 126.6h0.68M184.6 125.7h0.68M181.6 122.4h0.68M191.1 119.4h0.68M171.4 117.1h0.68M171.5 113.2h0.68M170.2 115.0h0.68M177.7 115.8h0.68M175.0 109.9h0.68M172.0 119.9h0.68M171.6 121.4h0.68M177.2 108.8h0.68M178.9 125.7h0.68M174.3 105.0h0.68M181.1 113.2h0.68M177.6 111.9h0.68M178.1 113.5h0.68M179.8 106.2h0.68M176.6 113.5h0.68M177.8 105.1h0.68M169.7 111.2h0.68M173.8 118.2h0.68M175.0 119.7h0.68M179.2 107.2h0.68M181.7 116.0h0.68M176.2 117.1h0.68M175.0 111.7h0.68M181.6 112.2h0.68M173.3 104.4h0.68M181.6 108.5h0.68M177.6 125.8h0.68M177.0 119.9h0.68M168.9 109.7h0.68M176.8 115.4h0.68M175.9 122.9h0.68M178.0 98.0h0.68M169.2 119.1h0.68M171.0 108.2h0.68M174.5 120.9h0.68M177.5 114.9h0.68M175.0 121.8h0.68M169.6 110.5h0.68M170.6 117.8h0.68M169.5 110.2h0.68M174.3 107.0h0.68M173.0 117.5h0.68M169.4 117.9h0.68M176.4 117.1h0.68M169.1 114.3h0.68M171.5 125.1h0.68M176.4 112.1h0.68M172.5 99.1h0.68M174.5 108.6h0.68M176.5 108.2h0.68M175.3 109.8h0.68M170.3 114.5h0.68M168.6 108.6h0.68M177.2 111.1h0.68M171.4 126.7h0.68M174.2 120.2h0.68M178.0 117.0h0.68M172.6 120.7h0.68M178.7 99.2h0.68M173.5 101.7h0.68M175.0 110.7h0.68M173.0 113.2h0.68M173.6 111.2h0.68M170.8 114.2h0.68M169.6 111.9h0.68M179.8 103.7h0.68M178.9 120.9h0.68M171.1 120.1h0.68M173.9 118.4h0.68M170.0 116.6h0.68M172.7 112.4h0.68M173.0 117.1h0.68M170.7 119.2h0.68M170.1 123.3h0.68M178.7 112.3h0.68M168.9 123.4h0.68M170.6 107.9h0.68M171.1 106.4h0.68M176.5 123.7h0.68M177.4 126.2h0.68M168.8 109.2h0.68M171.3 118.0h0.68M173.8 101.5h0.68M170.0 118.5h0.68M170.1 115.4h0.68M173.7 118.0h0.68M176.7 104.3h0.68M171.8 109.9h0.68M173.8 120.2h0.68M168.8 111.1h0.68M174.2 104.6h0.68M181.9 80.9h0.68M192.6 86.9h0.68M180.1 94.0h0.68M177.8 70.0h0.68M172.0 88.7h0.68M183.9 89.2h0.68M186.2 93.3h0.68M169.1 93.7h0.68M182.3 83.4h0.68M179.5 82.4h0.68M202.8 82.9h0.68M182.8 85.0h0.68M176.8 77.3h0.68M178.0 96.0h0.68M187.5 83.5h0.68M197.3 75.8h0.68M175.5 92.6h0.68M196.1 89.0h0.68M176.3 82.7h0.68M184.6 73.2h0.68M184.6 76.6h0.68M173.2 88.6h0.68M171.0 82.7h0.68M172.6 79.0h0.68M182.2 85.8h0.68M174.1 90.3h0.68M174.3 82.4h0.68M200.1 95.1h0.68M179.0 90.0h0.68M179.1 92.8h0.68M177.9 100.3h0.68M184.1 94.6h0.68M195.9 91.8h0.68M180.3 86.0h0.68M183.7 81.3h0.68M181.9 87.4h0.68M175.3 95.9h0.68M202.0 95.6h0.68M171.1 83.5h0.68M178.8 85.7h0.68M187.1 91.4h0.68M194.6 82.3h0.68M197.1 75.5h0.68M170.7 100.3h0.68M191.4 77.5h0.68M179.2 88.8h0.68M197.3 78.1h0.68M190.0 84.5h0.68M176.9 84.1h0.68M197.8 98.5h0.68M181.6 76.7h0.68M175.0 84.0h0.68M191.2 75.8h0.68M182.7 96.0h0.68M185.9 87.4h0.68M194.9 87.7h0.68M187.6 89.8h0.68M203.7 78.0h0.68M197.5 87.5h0.68M171.2 87.1h0.68M179.5 97.6h0.68M173.5 94.8h0.68M188.8 76.9h0.68M180.5 84.0h0.68M203.9 85.9h0.68M177.0 94.5h0.68M196.7 97.8h0.68M189.1 88.1h0.68M200.2 84.8h0.68M168.4 98.9h0.68M168.3 106.8h0.68M179.0 77.1h0.68M171.9 84.4h0.68M170.0 79.1h0.68M180.1 89.2h0.68M188.5 96.1h0.68M179.1 87.5h0.68M178.8 69.5h0.68M190.3 90.3h0.68M192.1 93.0h0.68M184.0 88.9h0.68M177.4 92.0h0.68M173.6 94.5h0.68M175.5 70.6h0.68M188.4 77.2h0.68M175.3 88.6h0.68M180.7 87.7h0.68M185.3 90.5h0.68M172.4 98.8h0.68M175.5 92.2h0.68M196.5 84.2h0.68M192.5 100.5h0.68M189.7 90.3h0.68M170.5 92.6h0.68M187.2 87.4h0.68M186.2 86.7h0.68M180.3 95.8h0.68M183.4 98.4h0.68M197.5 96.5h0.68M193.5 89.8h0.68M170.6 65.7h0.68M170.9 82.5h0.68M172.5 93.7h0.68M178.7 94.2h0.68M177.3 82.3h0.68M184.6 79.1h0.68M173.4 99.9h0.68M178.9 73.5h0.68M179.1 95.8h0.68M189.5 90.9h0.68M176.4 82.2h0.68M181.2 82.2h0.68M172.9 79.1h0.68M183.8 74.7h0.68M188.8 89.5h0.68M185.0 97.8h0.68M187.5 100.2h0.68M175.3 87.1h0.68M183.9 88.0h0.68M193.3 93.7h0.68M180.8 76.9h0.68M182.9 90.2h0.68M184.7 86.4h0.68M184.3 90.5h0.68M183.6 92.7h0.68M185.4 94.0h0.68M199.8 90.0h0.68M181.7 93.1h0.68M177.8 98.7h0.68M170.5 91.2h0.68M181.4 85.5h0.68M175.0 82.4h0.68M192.7 91.6h0.68M202.1 80.2h0.68M177.2 97.8h0.68M178.6 75.5h0.68M180.9 82.1h0.68M178.1 82.9h0.68M179.2 97.0h0.68M180.4 96.1h0.68M192.9 79.5h0.68M172.6 79.4h0.68M183.3 82.2h0.68M178.1 86.4h0.68M174.9 87.6h0.68M189.7 82.7h0.68M190.3 80.8h0.68M217.8 87.3h0.68M169.2 82.8h0.68M193.3 95.0h0.68M177.2 97.6h0.68M185.7 90.7h0.68M169.1 83.1h0.68M190.1 85.8h0.68M170.4 91.2h0.68M189.6 93.0h0.68M180.3 85.5h0.68M185.9 84.1h0.68M180.9 83.6h0.68M170.5 88.2h0.68M197.1 87.2h0.68M182.2 94.6h0.68M173.5 87.0h0.68M197.3 99.8h0.68M203.3 82.6h0.68M168.4 93.8h0.68M182.9 69.5h0.68M194.6 94.1h0.68M191.9 105.5h0.68M194.0 87.8h0.68M172.9 88.1h0.68M183.2 85.1h0.68M178.5 89.7h0.68M186.4 99.5h0.68M170.5 83.6h0.68M209.1 90.2h0.68M185.2 78.1h0.68M193.8 98.7h0.68M191.5 75.2h0.68M174.5 86.9h0.68M182.8 97.7h0.68M190.5 75.4h0.68M179.2 89.9h0.68M188.6 91.5h0.68M201.2 86.7h0.68M173.8 87.7h0.68M176.9 82.4h0.68M181.8 89.1h0.68M173.2 98.3h0.68M184.3 87.7h0.68M178.6 96.4h0.68M190.4 78.1h0.68M169.1 89.0h0.68M182.9 82.2h0.68M185.2 83.9h0.68M184.9 83.3h0.68M197.2 94.2h0.68M171.8 90.2h0.68M175.2 75.8h0.68M178.2 89.4h0.68M169.1 97.3h0.68M204.8 79.6h0.68M169.6 85.9h0.68M184.5 81.2h0.68M175.1 96.5h0.68M169.5 88.3h0.68M174.0 97.8h0.68M179.7 84.1h0.68M175.8 97.8h0.68M189.5 86.4h0.68M193.0 89.2h0.68M177.4 88.2h0.68M178.2 81.5h0.68M170.2 94.9h0.68M185.2 80.6h0.68M186.2 89.0h0.68M174.6 101.7h0.68M186.4 91.2h0.68M186.3 77.8h0.68M188.6 96.8h0.68M174.5 95.5h0.68M176.6 87.9h0.68M179.8 86.6h0.68M181.2 97.1h0.68M195.1 92.7h0.68M186.2 79.0h0.68M177.8 91.5h0.68M181.0 84.6h0.68M169.8 95.1h0.68M187.0 67.7h0.68M211.6 92.5h0.68M182.1 96.4h0.68M186.4 100.5h0.68M175.2 95.1h0.68M189.0 75.2h0.68M204.0 85.3h0.68M192.0 80.8h0.68M178.2 85.0h0.68M178.1 68.8h0.68M195.8 80.9h0.68M187.9 88.3h0.68M169.0 86.8h0.68M172.7 87.0h0.68M178.6 89.6h0.68M186.5 80.7h0.68M194.7 103.1h0.68M183.0 103.3h0.68M195.0 97.8h0.68M175.1 97.5h0.68M187.1 100.7h0.68M184.2 80.3h0.68M183.8 77.9h0.68M177.8 86.2h0.68M173.5 70.2h0.68M200.8 98.8h0.68M175.9 80.8h0.68M184.3 84.2h0.68M181.2 93.4h0.68M184.1 95.4h0.68M201.3 78.2h0.68M197.4 73.3h0.68M170.7 97.3h0.68M169.3 82.7h0.68M182.7 82.1h0.68M176.2 89.0h0.68M177.1 83.6h0.68M172.3 79.8h0.68M186.8 111.5h0.68M176.1 76.3h0.68M202.0 96.7h0.68M176.2 83.5h0.68M177.1 90.1h0.68M178.2 85.4h0.68M181.0 96.8h0.68M208.6 85.1h0.68M184.1 85.6h0.68M181.6 83.8h0.68M175.0 90.1h0.68M195.6 89.1h0.68M179.2 85.9h0.68M181.0 94.9h0.68M180.7 81.3h0.68M178.5 94.8h0.68M179.6 95.7h0.68M180.1 91.9h0.68M185.4 96.6h0.68M181.1 70.2h0.68M188.1 94.9h0.68M175.2 84.5h0.68M180.1 88.2h0.68M200.0 92.7h0.68M181.9 62.9h0.68M185.5 91.8h0.68M186.8 89.7h0.68M170.2 89.3h0.68M179.1 88.5h0.68M189.6 90.0h0.68M175.7 80.9h0.68M176.7 96.1h0.68M184.0 88.8h0.68M185.6 88.5h0.68M198.3 84.5h0.68M177.3 87.4h0.68M184.0 99.1h0.68M171.6 69.3h0.68M184.9 93.0h0.68M178.9 87.9h0.68M187.3 81.1h0.68M169.1 75.3h0.68M177.8 81.6h0.68M178.2 79.1h0.68M184.0 95.9h0.68M194.3 75.1h0.68M188.9 78.9h0.68M172.8 101.2h0.68M176.8 86.2h0.68M184.5 90.4h0.68M178.1 103.3h0.68M168.4 83.7h0.68M175.5 98.8h0.68M188.8 84.3h0.68M181.7 82.6h0.68M176.8 86.8h0.68M202.9 78.9h0.68M169.0 80.5h0.68M183.6 79.9h0.68M195.2 92.7h0.68M173.7 86.8h0.68M172.4 99.3h0.68M180.8 89.1h0.68M170.1 99.8h0.68M179.4 82.6h0.68M197.1 90.3h0.68M174.9 94.8h0.68M173.7 86.9h0.68M190.8 79.0h0.68M177.5 87.3h0.68M183.8 79.9h0.68M169.4 88.9h0.68M178.4 89.0h0.68M181.6 79.5h0.68M175.4 89.3h0.68M193.6 90.0h0.68M180.1 103.1h0.68M174.5 97.8h0.68M186.9 78.8h0.68M179.3 93.7h0.68M173.8 91.2h0.68M177.2 90.9h0.68M171.2 99.6h0.68M170.5 100.2h0.68M176.0 81.0h0.68M188.7 88.5h0.68M176.2 78.7h0.68M176.5 86.6h0.68M169.9 78.5h0.68M168.7 79.7h0.68M191.5 93.9h0.68M173.9 79.6h0.68M177.9 91.1h0.68M172.4 86.3h0.68M190.9 85.5h0.68M174.7 96.7h0.68M178.2 87.1h0.68M168.5 95.2h0.68M181.9 85.1h0.68M177.9 97.8h0.68M178.1 86.3h0.68M180.7 88.1h0.68M190.2 85.3h0.68M174.4 82.1h0.68M180.8 77.6h0.68M173.2 75.7h0.68M177.9 85.8h0.68M176.7 83.3h0.68M169.3 89.0h0.68M197.6 89.4h0.68M196.1 101.9h0.68M180.7 80.3h0.68M184.1 80.8h0.68M180.2 89.4h0.68M197.1 86.3h0.68M177.3 85.8h0.68M205.8 86.7h0.68M189.2 81.7h0.68M174.9 108.1h0.68M169.7 91.7h0.68M185.8 91.8h0.68M190.7 85.6h0.68M196.4 90.2h0.68M177.2 91.6h0.68M180.9 86.5h0.68M185.6 81.6h0.68M184.4 85.2h0.68M178.4 85.5h0.68M175.3 76.1h0.68M175.9 96.1h0.68M200.9 83.9h0.68M186.4 100.0h0.68M182.6 89.8h0.68M170.5 100.1h0.68M180.3 98.4h0.68M179.8 83.6h0.68M187.5 95.4h0.68M185.9 95.9h0.68M179.7 82.0h0.68M183.4 84.7h0.68M184.2 81.7h0.68M186.9 94.4h0.68M176.0 87.3h0.68M180.9 81.1h0.68M178.2 111.5h0.68M180.1 81.9h0.68M204.3 95.0h0.68M181.0 90.3h0.68M168.5 99.8h0.68M191.5 88.6h0.68M172.3 79.6h0.68M180.4 75.9h0.68M181.8 87.4h0.68M169.9 89.2h0.68M169.3 84.7h0.68M170.3 102.2h0.68M169.2 83.3h0.68M189.6 86.5h0.68M178.2 71.6h0.68M172.8 102.4h0.68M189.3 64.7h0.68M168.3 98.8h0.68M194.9 96.5h0.68M192.9 81.0h0.68M179.0 79.8h0.68M180.8 98.4h0.68M178.1 104.1h0.68M176.4 93.6h0.68M197.3 80.6h0.68M190.3 76.7h0.68M172.9 84.5h0.68M196.0 79.1h0.68M194.3 77.3h0.68M180.6 94.0h0.68M179.8 103.8h0.68M180.7 77.4h0.68M177.5 95.6h0.68M201.8 78.7h0.68M191.5 91.5h0.68M170.7 81.8h0.68M185.2 83.8h0.68M189.7 89.5h0.68M176.8 101.1h0.68M178.7 78.1h0.68M174.1 84.1h0.68M198.2 93.1h0.68M172.2 82.8h0.68M180.0 87.9h0.68M201.9 82.9h0.68M170.5 85.0h0.68M174.5 95.0h0.68M180.2 83.8h0.68M176.7 81.6h0.68M177.4 87.0h0.68M198.4 80.1h0.68M194.2 88.0h0.68M169.1 102.0h0.68M184.3 78.7h0.68M175.3 84.3h0.68M179.2 98.1h0.68M177.0 74.4h0.68M193.5 95.9h0.68M170.8 98.4h0.68M180.9 79.7h0.68M187.7 89.9h0.68M174.8 91.6h0.68M172.0 88.0h0.68M183.1 92.6h0.68M185.5 70.7h0.68M175.2 90.9h0.68M188.2 80.6h0.68M191.5 81.3h0.68M193.3 89.3h0.68M182.7 77.5h0.68M171.4 89.6h0.68M182.6 86.7h0.68M176.4 98.2h0.68M172.3 92.1h0.68M189.7 91.0h0.68M181.6 78.9h0.68M198.4 98.5h0.68M169.9 81.6h0.68M168.7 77.2h0.68M178.9 80.5h0.68M180.2 91.3h0.68M171.9 78.7h0.68M189.4 94.7h0.68M177.7 81.1h0.68M184.6 89.7h0.68M190.2 89.2h0.68M173.0 82.0h0.68M181.3 76.7h0.68M170.9 94.4h0.68M188.6 92.1h0.68M194.9 85.7h0.68M172.9 88.8h0.68M189.5 80.6h0.68M200.9 97.3h0.68M187.7 90.5h0.68M191.9 91.1h0.68M178.5 84.1h0.68M184.6 91.5h0.68M172.1 85.6h0.68M180.3 84.7h0.68M171.2 87.9h0.68M195.1 104.7h0.68M188.0 86.4h0.68M183.4 75.9h0.68M173.5 90.5h0.68M183.5 84.7h0.68M168.4 90.0h0.68M168.8 103.0h0.68M177.5 84.0h0.68M192.5 81.0h0.68M173.6 92.8h0.68M172.2 78.7h0.68M179.6 86.8h0.68M179.0 91.1h0.68M168.7 95.9h0.68M198.5 76.5h0.68M173.6 87.3h0.68M178.0 85.8h0.68M185.8 84.6h0.68M174.0 92.0h0.68M181.1 92.2h0.68M192.4 80.0h0.68M183.5 97.1h0.68M181.1 87.9h0.68M184.9 92.0h0.68M182.2 84.4h0.68M184.0 83.7h0.68M181.5 86.6h0.68M183.9 91.0h0.68M179.0 80.6h0.68M182.5 95.1h0.68M194.3 101.2h0.68M173.1 80.9h0.68M180.5 85.7h0.68M187.4 90.0h0.68M183.4 92.8h0.68M200.1 86.5h0.68M190.9 93.0h0.68M179.5 86.2h0.68M183.9 85.8h0.68M188.3 91.2h0.68M178.6 90.4h0.68M180.6 94.9h0.68M188.4 93.2h0.68M190.2 85.3h0.68M177.3 89.6h0.68M172.7 92.1h0.68M180.7 95.3h0.68M173.9 83.9h0.68M193.0 87.0h0.68M184.3 87.9h0.68M175.3 88.8h0.68M184.1 86.1h0.68M180.7 89.8h0.68M173.4 93.4h0.68M181.5 85.7h0.68M184.8 83.4h0.68M188.2 92.5h0.68M184.0 85.0h0.68M168.6 83.9h0.68M168.8 88.5h0.68M177.3 92.6h0.68M177.0 89.5h0.68M185.5 85.8h0.68M175.2 90.3h0.68M178.8 83.6h0.68M183.1 90.5h0.68M178.8 92.1h0.68M171.7 80.0h0.68M171.6 92.0h0.68M170.7 86.7h0.68M181.1 88.6h0.68M196.5 91.4h0.68M191.8 85.7h0.68M190.3 90.7h0.68M170.9 77.8h0.68M175.3 92.0h0.68M175.7 94.3h0.68M192.5 89.4h0.68M183.4 86.4h0.68M176.3 87.8h0.68M201.2 92.8h0.68M181.8 94.0h0.68M179.9 81.3h0.68M185.2 92.7h0.68M176.1 90.6h0.68M186.9 86.7h0.68M172.7 89.6h0.68M191.7 90.2h0.68M191.0 92.3h0.68M191.6 89.6h0.68M205.3 91.6h0.68M191.0 86.3h0.68M176.7 84.6h0.68M172.8 86.0h0.68M177.7 81.1h0.68M184.8 85.8h0.68M176.8 84.1h0.68M200.1 91.5h0.68M185.8 84.0h0.68M181.1 89.4h0.68M182.1 89.8h0.68M172.6 86.7h0.68M192.8 89.1h0.68M183.4 90.5h0.68M190.4 90.4h0.68M186.1 81.9h0.68M179.8 80.9h0.68M181.3 92.2h0.68M181.9 89.5h0.68M183.5 86.8h0.68M177.2 88.6h0.68M180.0 98.6h0.68M193.5 84.0h0.68M189.2 86.3h0.68M179.1 86.0h0.68M190.4 87.2h0.68M175.9 80.1h0.68M187.4 89.2h0.68M190.4 79.2h0.68M184.5 83.5h0.68M185.0 88.5h0.68M178.1 85.2h0.68M176.8 87.9h0.68M185.0 88.2h0.68M175.4 90.2h0.68M179.6 85.3h0.68M203.9 84.3h0.68M205.5 79.5h0.68M168.5 92.3h0.68M170.2 85.0h0.68M190.2 82.3h0.68M172.4 81.2h0.68M193.0 88.6h0.68M194.1 89.0h0.68M186.9 87.4h0.68M185.1 83.3h0.68M176.0 82.7h0.68M193.1 82.6h0.68M177.6 90.4h0.68M186.7 89.7h0.68M182.8 88.8h0.68M177.5 84.9h0.68M176.4 84.4h0.68M179.8 93.6h0.68M180.7 87.2h0.68M191.0 81.0h0.68M179.1 93.7h0.68M194.5 85.4h0.68M170.0 84.8h0.68M187.5 83.1h0.68M191.0 82.5h0.68M187.7 88.8h0.68M178.9 96.0h0.68M184.9 89.9h0.68M199.5 85.6h0.68M186.1 91.4h0.68M182.8 86.8h0.68M180.0 90.6h0.68M182.6 92.0h0.68M170.5 87.6h0.68M192.4 82.9h0.68M190.0 87.0h0.68M191.3 85.1h0.68M181.8 82.5h0.68M189.3 86.5h0.68M181.9 85.0h0.68M192.8 88.1h0.68M192.0 84.6h0.68M178.5 90.6h0.68M201.0 94.7h0.68M190.9 91.4h0.68M189.3 84.3h0.68M179.1 82.6h0.68M185.3 89.9h0.68M201.9 82.9h0.68M172.1 85.3h0.68M187.8 86.0h0.68M169.7 89.5h0.68M178.9 84.7h0.68M195.0 91.0h0.68M175.7 88.1h0.68M177.2 85.7h0.68M175.0 86.7h0.68M174.0 88.8h0.68M189.4 86.8h0.68M176.5 93.5h0.68M189.4 87.5h0.68M198.2 83.9h0.68M182.8 90.2h0.68M183.4 87.7h0.68M170.7 92.4h0.68M169.5 77.9h0.68M175.9 91.2h0.68M182.2 86.6h0.68M181.3 89.1h0.68M177.8 85.3h0.68M178.1 84.8h0.68M189.7 87.2h0.68M188.1 85.3h0.68M169.6 95.9h0.68M195.3 89.7h0.68M186.5 87.0h0.68M191.5 80.2h0.68M183.3 91.4h0.68M189.9 85.8h0.68M176.5 85.4h0.68M190.7 92.3h0.68M170.5 86.4h0.68M182.5 83.7h0.68M196.6 84.5h0.68M186.1 87.1h0.68M179.8 84.5h0.68M169.6 90.5h0.68M188.9 89.4h0.68M175.7 84.5h0.68M180.2 84.4h0.68M178.7 83.3h0.68M201.3 83.2h0.68M191.9 83.0h0.68M197.3 84.2h0.68M193.4 89.6h0.68M193.4 86.7h0.68M204.4 81.9h0.68M200.8 84.8h0.68M178.2 80.0h0.68M174.6 85.4h0.68M176.3 91.9h0.68M196.8 84.5h0.68M170.6 85.7h0.68M198.3 84.7h0.68M180.5 93.7h0.68M181.1 84.8h0.68M172.5 95.0h0.68M175.9 85.9h0.68M172.4 86.6h0.68M182.0 92.8h0.68M169.7 84.5h0.68M175.6 87.9h0.68M180.0 85.5h0.68M186.5 85.2h0.68M176.0 81.9h0.68M168.4 86.2h0.68M184.7 94.3h0.68M183.6 84.0h0.68M184.2 89.3h0.68M182.9 95.1h0.68M182.1 90.6h0.68M184.6 83.2h0.68M184.2 88.6h0.68M196.5 81.2h0.68M186.7 90.0h0.68M187.1 87.9h0.68M184.5 88.7h0.68M174.3 87.5h0.68M179.8 81.9h0.68M171.7 84.5h0.68M171.7 81.9h0.68M190.6 84.5h0.68M180.0 83.7h0.68M182.3 89.7h0.68M196.1 90.3h0.68M169.2 91.3h0.68M182.7 87.9h0.68M176.6 82.4h0.68M181.5 84.6h0.68M180.1 93.1h0.68M183.7 90.1h0.68M194.0 82.2h0.68M179.5 94.9h0.68M199.8 87.6h0.68M203.4 81.9h0.68M207.5 73.4h0.68M210.6 74.2h0.68M204.5 82.4h0.68M200.5 87.6h0.68M202.8 87.4h0.68M200.4 65.0h0.68M206.1 68.5h0.68M204.2 67.3h0.68M207.8 83.0h0.68M207.3 65.3h0.68M199.2 78.5h0.68M199.6 82.4h0.68M205.5 88.7h0.68M209.0 80.6h0.68M209.1 76.3h0.68M202.3 63.2h0.68M207.5 80.9h0.68M206.6 76.4h0.68M204.4 88.3h0.68M203.4 65.5h0.68M210.7 83.7h0.68M210.0 90.3h0.68M204.1 66.0h0.68M204.9 75.8h0.68M203.5 84.4h0.68M201.8 89.8h0.68M201.3 69.7h0.68M209.1 68.3h0.68M207.8 69.4h0.68M203.8 75.2h0.68M201.7 85.5h0.68M210.5 88.5h0.68M200.6 62.2h0.68M204.2 83.1h0.68M205.5 89.5h0.68M211.1 81.4h0.68M201.9 73.2h0.68M199.4 72.9h0.68M208.1 70.7h0.68M201.0 77.2h0.68M210.0 80.3h0.68M200.0 74.0h0.68M201.5 85.2h0.68M203.9 74.4h0.68M209.7 70.1h0.68M204.3 90.1h0.68M202.5 77.2h0.68M206.8 71.2h0.68M206.6 73.7h0.68M209.2 77.7h0.68M207.8 78.2h0.68M207.5 72.8h0.68M200.5 72.1h0.68M202.7 61.8h0.68M208.4 76.8h0.68M204.7 82.0h0.68M199.4 65.1h0.68M207.7 62.6h0.68M209.6 76.3h0.68M210.9 86.6h0.68M203.8 71.5h0.68M204.1 83.9h0.68M204.5 82.5h0.68M211.2 83.3h0.68M205.1 83.1h0.68M204.9 78.4h0.68M203.9 88.8h0.68M211.1 78.0h0.68M205.7 64.4h0.68M205.8 88.6h0.68M201.7 84.1h0.68M201.8 82.3h0.68M202.2 78.8h0.68M208.4 62.3h0.68M209.3 76.7h0.68M201.7 70.4h0.68M205.6 83.1h0.68M200.9 63.5h0.68M201.5 80.0h0.68M203.7 83.8h0.68M207.8 72.2h0.68M206.1 65.7h0.68M206.3 80.4h0.68M201.6 80.9h0.68M200.4 89.9h0.68M205.6 88.4h0.68M207.1 67.7h0.68M207.9 79.4h0.68M203.4 81.7h0.68M208.3 81.3h0.68M201.4 89.7h0.68M210.2 74.1h0.68M210.4 90.5h0.68M203.0 67.0h0.68M201.7 75.7h0.68M200.4 68.4h0.68M207.9 61.9h0.68M206.4 73.4h0.68M207.6 69.0h0.68M204.7 67.6h0.68M198.8 86.7h0.68M203.3 70.0h0.68M210.5 72.2h0.68M205.5 65.5h0.68M203.8 87.0h0.68M209.1 85.4h0.68M210.2 68.2h0.68M199.3 65.2h0.68M206.9 77.4h0.68M203.3 82.3h0.68M201.4 79.2h0.68M203.9 65.5h0.68M208.5 66.8h0.68M208.8 83.7h0.68M204.1 74.7h0.68M201.2 65.5h0.68M207.4 72.3h0.68M205.7 72.2h0.68M202.0 66.2h0.68M208.3 74.1h0.68M200.5 87.0h0.68M200.6 68.1h0.68M200.6 77.8h0.68M208.5 62.3h0.68M210.3 82.0h0.68M209.2 73.8h0.68M204.1 64.2h0.68M201.9 86.9h0.68M202.2 87.8h0.68M209.2 88.4h0.68M200.4 73.8h0.68M209.2 70.5h0.68M201.7 62.0h0.68M205.4 77.5h0.68M201.3 69.0h0.68M206.6 66.5h0.68M208.6 87.0h0.68M203.9 65.2h0.68M205.8 70.1h0.68M199.9 82.2h0.68M205.7 69.4h0.68M201.7 82.6h0.68M210.2 71.7h0.68M206.0 67.9h0.68M204.5 78.4h0.68M202.5 79.1h0.68M205.5 62.7h0.68M200.1 73.5h0.68M200.5 77.4h0.68M206.1 79.7h0.68M209.8 79.2h0.68M208.4 64.8h0.68M209.7 88.6h0.68M206.1 85.6h0.68M205.6 74.1h0.68M204.0 69.5h0.68M203.5 85.5h0.68M210.3 88.0h0.68M199.3 74.8h0.68M209.9 65.9h0.68M205.7 85.0h0.68M208.5 71.3h0.68M203.4 70.2h0.68M210.0 86.9h0.68M208.8 78.6h0.68M210.2 84.9h0.68M209.2 66.8h0.68M199.0 69.2h0.68M205.1 80.6h0.68M207.1 88.8h0.68M210.8 79.0h0.68M209.8 74.3h0.68M207.3 87.7h0.68M208.3 72.6h0.68M209.0 72.6h0.68M205.3 88.5h0.68M211.2 70.3h0.68M207.1 83.1h0.68M209.6 68.4h0.68M206.8 80.5h0.68M208.0 82.0h0.68M205.9 65.4h0.68M202.4 87.4h0.68M208.7 67.6h0.68M210.4 86.5h0.68M206.1 73.2h0.68M209.2 88.3h0.68M210.7 66.8h0.68M200.6 83.7h0.68M203.3 88.5h0.68M203.9 88.3h0.68M201.3 72.3h0.68M209.8 70.8h0.68M200.2 75.3h0.68M210.5 88.6h0.68M204.8 76.4h0.68M208.4 72.3h0.68M210.3 87.5h0.68M210.5 85.7h0.68M200.7 79.8h0.68M211.2 68.4h0.68M211.0 86.4h0.68M198.9 72.5h0.68M208.0 89.1h0.68M206.8 88.4h0.68M209.5 86.1h0.68M209.5 68.1h0.68M207.6 70.0h0.68M211.0 79.8h0.68M208.0 73.4h0.68M209.1 74.7h0.68M201.3 65.5h0.68M205.0 66.2h0.68M210.9 79.5h0.68M205.7 81.1h0.68M210.4 79.1h0.68M209.3 90.0h0.68M202.0 86.0h0.68M199.2 74.7h0.68M205.8 79.2h0.68M203.8 69.7h0.68M206.8 71.1h0.68M205.3 90.5h0.68M209.4 73.9h0.68M206.3 87.6h0.68M211.2 67.8h0.68M204.6 86.6h0.68M210.5 73.7h0.68M201.7 90.0h0.68M203.6 79.7h0.68M207.5 83.9h0.68M205.1 82.6h0.68M209.1 83.5h0.68M206.9 74.3h0.68M211.0 79.4h0.68M209.0 69.7h0.68M210.5 74.8h0.68M207.2 75.9h0.68M205.3 79.3h0.68M210.3 75.5h0.68M202.5 78.6h0.68M208.6 78.4h0.68M209.4 70.8h0.68M208.7 67.7h0.68M211.0 75.9h0.68M209.9 79.9h0.68M205.0 76.8h0.68M205.8 81.2h0.68M203.2 82.6h0.68M207.5 68.5h0.68M207.6 84.3h0.68M210.1 74.8h0.68M211.1 90.3h0.68M210.0 68.4h0.68M211.2 66.7h0.68M199.7 75.8h0.68M204.4 85.2h0.68M208.2 90.1h0.68M210.4 70.8h0.68M209.4 65.5h0.68M210.5 88.0h0.68M204.4 67.9h0.68M210.1 80.3h0.68M200.9 75.5h0.68M209.8 70.9h0.68M210.6 81.0h0.68M205.8 86.1h0.68M209.2 65.5h0.68M210.1 80.8h0.68M206.3 84.0h0.68M209.0 74.0h0.68M206.5 81.2h0.68M200.2 78.8h0.68M208.4 80.2h0.68M208.4 77.9h0.68M206.3 82.2h0.68M196.7 73.1h0.68M200.7 77.9h0.68M202.2 79.4h0.68M209.8 73.1h0.68M209.1 76.2h0.68M206.6 76.3h0.68M211.1 79.9h0.68M205.6 68.0h0.68M207.0 70.3h0.68M204.7 71.7h0.68M205.8 82.5h0.68M210.0 75.8h0.68M205.5 66.5h0.68M207.7 66.8h0.68M199.9 83.3h0.68M210.8 76.7h0.68M211.1 81.7h0.68M208.6 84.7h0.68M209.6 72.4h0.68M210.0 83.3h0.68M210.6 87.8h0.68M206.3 75.3h0.68M208.0 87.9h0.68M210.8 83.3h0.68M207.8 75.4h0.68M209.2 77.6h0.68M200.2 78.8h0.68M209.5 72.1h0.68M204.9 89.0h0.68M210.0 83.6h0.68M204.9 82.2h0.68M203.4 66.8h0.68M208.8 75.9h0.68M205.2 70.9h0.68M202.2 82.3h0.68M207.2 73.0h0.68M201.3 69.0h0.68M209.4 81.3h0.68M210.1 85.7h0.68M200.5 89.4h0.68M206.9 73.5h0.68M207.3 74.3h0.68M198.6 90.6h0.68M207.5 88.4h0.68M204.0 88.4h0.68M210.8 76.3h0.68M203.5 72.6h0.68M206.9 74.5h0.68M210.2 71.9h0.68M208.5 70.3h0.68M202.7 90.6h0.68M204.5 86.2h0.68M203.0 82.8h0.68M211.1 76.6h0.68M208.7 71.5h0.68M211.0 74.1h0.68M206.7 71.5h0.68M205.6 71.4h0.68M205.1 89.0h0.68M205.1 85.1h0.68M209.3 86.5h0.68M205.9 85.8h0.68M210.5 80.3h0.68M205.6 65.7h0.68M211.0 82.3h0.68M203.1 76.7h0.68M205.8 74.1h0.68M208.7 67.6h0.68M210.9 76.4h0.68M202.7 84.9h0.68M207.7 85.8h0.68M204.5 89.8h0.68M199.7 76.8h0.68M208.3 85.1h0.68M211.1 80.2h0.68M209.0 67.7h0.68M210.8 74.9h0.68M206.8 72.3h0.68M208.7 73.0h0.68M204.6 84.1h0.68M207.7 80.7h0.68M203.0 84.8h0.68M200.5 83.0h0.68M201.6 77.1h0.68M205.9 72.6h0.68M207.8 73.1h0.68M208.5 89.8h0.68M207.7 109.7h0.68M203.4 116.9h0.68M207.2 125.4h0.68M208.6 105.4h0.68M201.6 93.3h0.68M209.1 107.0h0.68M203.4 93.6h0.68M204.9 123.8h0.68M201.6 118.2h0.68M208.8 115.3h0.68M206.4 100.6h0.68M207.5 112.6h0.68M211.9 110.1h0.68M202.8 124.0h0.68M206.8 103.9h0.68M207.2 97.1h0.68M200.3 123.3h0.68M204.4 120.3h0.68M200.7 108.5h0.68M201.0 120.3h0.68M206.4 105.7h0.68M203.2 99.2h0.68M200.6 116.3h0.68M202.2 95.4h0.68M203.2 107.9h0.68M212.2 105.5h0.68M203.5 126.4h0.68M208.2 108.1h0.68M203.4 99.7h0.68M199.8 108.6h0.68M207.0 95.5h0.68M204.6 97.9h0.68M206.5 104.0h0.68M207.4 119.6h0.68M203.5 105.4h0.68M198.7 99.3h0.68M206.8 120.5h0.68M199.6 126.5h0.68M211.1 104.8h0.68M205.5 115.7h0.68M202.4 104.8h0.68M208.3 109.0h0.68M204.0 111.8h0.68M199.2 108.5h0.68M201.9 97.7h0.68M205.3 116.8h0.68M205.3 109.5h0.68M207.5 106.8h0.68M212.1 99.3h0.68M197.6 112.0h0.68M207.9 105.4h0.68M203.4 103.9h0.68M201.1 120.0h0.68M210.4 101.7h0.68M205.9 108.1h0.68M199.5 117.9h0.68M211.1 124.0h0.68M201.4 95.6h0.68M209.6 95.6h0.68M207.7 98.0h0.68M208.0 93.6h0.68M198.8 122.7h0.68M205.2 107.8h0.68M212.0 119.7h0.68M200.9 116.9h0.68M203.2 108.3h0.68M202.2 99.8h0.68M202.0 101.4h0.68M200.3 122.9h0.68M203.1 111.7h0.68M209.6 115.9h0.68M199.8 125.7h0.68M211.4 121.7h0.68M202.4 121.3h0.68M207.1 92.8h0.68M203.1 116.6h0.68M205.6 125.5h0.68M209.3 121.6h0.68M212.1 103.9h0.68M211.0 91.8h0.68M209.4 94.8h0.68M204.9 107.4h0.68M198.6 114.4h0.68M209.2 99.7h0.68M201.2 119.2h0.68M205.4 92.4h0.68M202.1 125.4h0.68M201.6 102.0h0.68M204.2 123.3h0.68M209.6 105.4h0.68M207.4 92.7h0.68M198.5 105.0h0.68M206.9 96.7h0.68M198.1 122.2h0.68M200.3 93.7h0.68M198.8 94.5h0.68M201.8 112.4h0.68M207.3 101.9h0.68M205.2 103.6h0.68M206.1 95.6h0.68M206.8 91.7h0.68M211.2 99.2h0.68M205.8 98.4h0.68M216.0 81.4h0.68M222.8 89.3h0.68M225.0 66.8h0.68M229.3 74.1h0.68M217.5 90.4h0.68M221.7 85.4h0.68M231.4 80.9h0.68M220.2 63.5h0.68M223.0 94.8h0.68M218.9 64.6h0.68M213.5 82.9h0.68M234.3 76.1h0.68M233.0 84.7h0.68M215.6 86.6h0.68M229.6 70.0h0.68M227.0 93.4h0.68M213.3 70.6h0.68M211.9 67.6h0.68M220.0 60.6h0.68M222.6 62.6h0.68M228.0 84.5h0.68M215.3 85.6h0.68M221.2 62.1h0.68M229.7 84.1h0.68M228.2 88.5h0.68M229.0 72.6h0.68M214.9 70.2h0.68M212.1 72.0h0.68M216.6 87.7h0.68M225.1 89.5h0.68M228.8 69.6h0.68M224.7 91.1h0.68M217.3 57.4h0.68M215.6 83.1h0.68M230.4 90.4h0.68M218.4 61.9h0.68M234.0 84.3h0.68M229.4 68.2h0.68M228.5 88.6h0.68M229.7 67.9h0.68M223.1 64.3h0.68M212.7 70.8h0.68M212.9 87.7h0.68M230.5 89.5h0.68M223.7 88.8h0.68M214.7 84.1h0.68M223.2 89.8h0.68M211.6 75.6h0.68M223.6 91.6h0.68M208.1 81.1h0.68M231.2 76.7h0.68M214.1 65.4h0.68M230.3 88.3h0.68M208.5 78.7h0.68M217.0 88.6h0.68M228.4 67.4h0.68M228.3 67.9h0.68M222.4 93.2h0.68M228.6 67.4h0.68M213.3 77.0h0.68M212.7 79.2h0.68M221.3 68.3h0.68M213.8 75.2h0.68M230.0 66.0h0.68M211.5 67.7h0.68M227.3 67.1h0.68M224.3 60.6h0.68M223.1 88.7h0.68M213.3 63.2h0.68M210.1 79.7h0.68M214.5 85.8h0.68M224.4 90.8h0.68M225.8 63.1h0.68M223.3 59.0h0.68M228.2 88.4h0.68M214.4 85.0h0.68M218.3 90.1h0.68M229.5 89.0h0.68M212.9 66.7h0.68M232.5 82.6h0.68M227.3 88.1h0.68M229.5 83.8h0.68M212.7 78.0h0.68M229.6 84.5h0.68M232.5 84.5h0.68M211.4 78.1h0.68M228.4 85.2h0.68M213.6 66.1h0.68M232.0 76.7h0.68M211.8 75.2h0.68M231.1 87.5h0.68M229.4 65.5h0.68M223.9 59.9h0.68M214.6 82.0h0.68M224.2 64.0h0.68M215.4 60.8h0.68M230.3 89.1h0.68M212.1 80.1h0.68M214.0 63.4h0.68M219.3 62.7h0.68M213.1 82.9h0.68M227.7 70.2h0.68M221.2 63.1h0.68M211.6 62.4h0.68M219.8 64.1h0.68M223.8 61.5h0.68M217.5 61.5h0.68M211.1 69.7h0.68M219.6 87.7h0.68M227.8 89.0h0.68M213.1 78.5h0.68M222.2 89.1h0.68M213.3 65.3h0.68M211.1 64.9h0.68M217.1 61.3h0.68M227.7 69.4h0.68M227.2 68.1h0.68M220.0 62.6h0.68M231.4 78.1h0.68M217.9 61.4h0.68M225.5 89.3h0.68M212.6 84.4h0.68M228.1 84.8h0.68M226.9 91.8h0.68M224.2 95.7h0.68M227.6 67.5h0.68M214.3 86.0h0.68M229.7 88.0h0.68M214.8 85.2h0.68M215.7 89.3h0.68M231.6 74.8h0.68M225.3 68.2h0.68M230.1 66.5h0.68M226.4 65.0h0.68M214.3 77.1h0.68M219.5 67.6h0.68M226.2 86.7h0.68M228.6 67.2h0.68M225.3 66.4h0.68M221.7 89.4h0.68M232.2 72.6h0.68M224.5 93.8h0.68M228.1 70.4h0.68M221.0 89.0h0.68M226.2 69.3h0.68M216.7 61.6h0.68M214.2 74.0h0.68M224.9 84.6h0.68M230.0 71.3h0.68M231.3 79.7h0.68M226.1 62.4h0.68M227.6 90.2h0.68M218.8 88.8h0.68M232.4 72.8h0.68M222.3 94.1h0.68M220.2 58.8h0.68M223.5 93.4h0.68M229.7 72.5h0.68M233.7 78.9h0.68M228.2 72.0h0.68M220.4 66.1h0.68M231.5 81.4h0.68M225.9 88.7h0.68M227.7 67.4h0.68M230.2 81.8h0.68M214.1 64.4h0.68M232.0 80.5h0.68M228.0 89.6h0.68M230.2 74.9h0.68M222.0 93.0h0.68M216.5 68.8h0.68M211.7 67.2h0.68M231.3 67.2h0.68M212.0 75.2h0.68M223.5 92.9h0.68M230.6 73.5h0.68M211.2 75.6h0.68M232.4 79.2h0.68M220.8 87.5h0.68M234.0 79.0h0.68M221.2 64.6h0.68M227.0 94.3h0.68M231.1 78.7h0.68M231.0 74.2h0.68M227.6 67.7h0.68M213.4 69.6h0.68M225.8 90.8h0.68M222.8 60.8h0.68M231.5 82.3h0.68M211.2 69.4h0.68M211.6 83.7h0.68M222.2 56.8h0.68M226.0 87.5h0.68M216.9 89.4h0.68M229.0 71.2h0.68M218.9 89.2h0.68M218.9 63.8h0.68M221.8 88.5h0.68M225.3 61.7h0.68M229.8 88.3h0.68M221.2 60.6h0.68M216.4 65.1h0.68M224.0 87.5h0.68M211.1 78.7h0.68M213.2 69.1h0.68M223.2 92.4h0.68M214.6 82.7h0.68M216.3 63.3h0.68M213.8 88.9h0.68M233.4 81.0h0.68M225.0 61.1h0.68M215.4 62.0h0.68M221.9 64.8h0.68M224.9 65.9h0.68M227.8 87.7h0.68M224.8 92.7h0.68M215.5 87.7h0.68M221.4 87.6h0.68M222.6 90.2h0.68M228.7 66.4h0.68M213.8 70.6h0.68M227.3 92.1h0.68M226.6 91.6h0.68M234.4 76.4h0.68M227.2 64.5h0.68M227.0 64.6h0.68M226.6 64.5h0.68M217.3 86.8h0.68M210.3 74.9h0.68M218.9 91.3h0.68M217.8 61.9h0.68M229.7 66.7h0.68M212.0 75.8h0.68M222.7 89.1h0.68M223.0 92.1h0.68M228.2 83.8h0.68M230.6 89.1h0.68M211.6 74.4h0.68M218.8 87.4h0.68M230.6 68.7h0.68M221.4 83.8h0.68M215.4 78.9h0.68M213.0 66.8h0.68M215.6 74.7h0.68M217.8 89.2h0.68M230.2 87.7h0.68M231.8 85.3h0.68M228.7 74.6h0.68M214.2 81.8h0.68M211.8 76.1h0.68M212.0 87.9h0.68M215.2 86.1h0.68M228.4 76.1h0.68M215.2 79.1h0.68M213.3 85.9h0.68M225.9 89.0h0.68M223.4 92.2h0.68M221.6 64.0h0.68M220.3 94.1h0.68M230.8 86.4h0.68M218.8 66.8h0.68M212.8 67.7h0.68M225.7 61.3h0.68M222.2 65.0h0.68M227.4 88.0h0.68M231.7 81.1h0.68M223.5 91.5h0.68M215.9 86.0h0.68M225.9 68.0h0.68M229.7 69.7h0.68M231.1 87.7h0.68M218.0 95.0h0.68M210.4 69.9h0.68M209.5 79.6h0.68M224.4 93.7h0.68M221.4 61.5h0.68M230.5 88.8h0.68M212.7 75.0h0.68M217.4 59.8h0.68M225.6 93.4h0.68M214.4 88.1h0.68M214.1 82.6h0.68M230.7 87.2h0.68M219.4 64.8h0.68M215.9 68.3h0.68M211.2 76.9h0.68M209.1 74.4h0.68M213.4 81.9h0.68M232.7 73.6h0.68M214.9 86.5h0.68M213.9 69.8h0.68M222.5 92.1h0.68M214.6 88.3h0.68M216.6 68.9h0.68M230.0 90.7h0.68M225.3 67.8h0.68M214.9 88.2h0.68M223.6 94.6h0.68M219.1 64.6h0.68M213.3 76.1h0.68M220.6 67.9h0.68M230.3 73.3h0.68M228.5 65.0h0.68M225.7 61.8h0.68M215.6 84.7h0.68M230.7 70.9h0.68M228.6 90.8h0.68M220.8 89.5h0.68M212.5 82.2h0.68M230.7 78.9h0.68M233.1 81.5h0.68M211.0 80.4h0.68M229.3 71.7h0.68M226.5 65.2h0.68M231.5 81.4h0.68M212.0 70.7h0.68M228.8 86.0h0.68M221.0 64.7h0.68M229.6 86.5h0.68M214.6 74.0h0.68M228.0 68.5h0.68M231.9 83.2h0.68M215.6 84.5h0.68M218.0 90.8h0.68M229.9 81.5h0.68M212.7 80.6h0.68M231.8 80.7h0.68M216.3 87.9h0.68M229.6 87.5h0.68M225.8 71.6h0.68M213.5 74.5h0.68M230.1 72.0h0.68M230.2 80.0h0.68M229.6 88.9h0.68M221.2 88.3h0.68M227.0 86.3h0.68M223.4 87.7h0.68M230.5 75.7h0.68M227.4 89.8h0.68M217.6 61.4h0.68M224.4 91.1h0.68M229.6 88.3h0.68M213.8 86.3h0.68M224.4 90.9h0.68M222.7 90.4h0.68M214.4 85.5h0.68M231.4 84.4h0.68M231.4 76.3h0.68M213.2 79.9h0.68M227.5 67.6h0.68M215.9 85.7h0.68M214.4 84.4h0.68M229.1 89.3h0.68M229.6 88.4h0.68M231.9 86.2h0.68M213.2 67.4h0.68M216.1 61.0h0.68M212.7 78.4h0.68M215.9 81.3h0.68M226.9 94.6h0.68M216.6 89.5h0.68M221.3 93.0h0.68M228.6 66.2h0.68M211.3 81.4h0.68M223.4 88.1h0.68M225.5 92.8h0.68M213.9 69.9h0.68M228.8 71.3h0.68M231.0 71.8h0.68M227.9 62.3h0.68M225.0 89.9h0.68M235.1 81.5h0.68M211.9 74.0h0.68M228.5 64.9h0.68M230.7 73.2h0.68M222.4 92.7h0.68M232.6 75.3h0.68M229.3 71.1h0.68M225.0 61.1h0.68M223.7 60.8h0.68M224.6 90.3h0.68M210.4 76.9h0.68M226.8 66.5h0.68M225.1 85.8h0.68M212.8 71.7h0.68M222.9 61.5h0.68M217.6 65.8h0.68M217.8 65.9h0.68M224.0 61.7h0.68M228.7 64.4h0.68M216.2 64.4h0.68M211.7 73.2h0.68M213.9 80.8h0.68M223.5 93.2h0.68M229.3 76.6h0.68M231.7 86.6h0.68M221.7 59.6h0.68M217.5 92.4h0.68M212.8 67.1h0.68M214.3 84.2h0.68M225.3 93.8h0.68M223.6 65.5h0.68M210.7 73.0h0.68M224.9 91.0h0.68M228.0 62.1h0.68M229.9 68.0h0.68M231.7 85.5h0.68M226.2 87.8h0.68M230.6 67.1h0.68M212.2 69.3h0.68M230.2 89.3h0.68M222.0 89.3h0.68M227.6 88.5h0.68M222.3 94.5h0.68M214.5 70.1h0.68M219.7 89.8h0.68M234.2 77.3h0.68M213.6 62.9h0.68M231.0 80.1h0.68M231.9 79.1h0.68M215.2 84.2h0.68M215.4 66.2h0.68M217.1 65.4h0.68M228.1 69.7h0.68M216.4 63.3h0.68M226.6 67.2h0.68M222.1 67.2h0.68M230.7 71.9h0.68M227.1 94.5h0.68M228.5 84.2h0.68M220.8 96.4h0.68M219.5 97.1h0.68M220.9 65.1h0.68M217.6 89.9h0.68M231.1 76.8h0.68M230.9 81.4h0.68M227.1 63.5h0.68M212.7 83.6h0.68M217.5 86.8h0.68M217.8 92.4h0.68M231.0 71.1h0.68M231.7 73.0h0.68M214.0 83.2h0.68M225.4 63.1h0.68M226.5 91.7h0.68M231.0 83.4h0.68M229.0 75.3h0.68M230.8 80.3h0.68M226.2 86.4h0.68M233.8 84.8h0.68M231.1 82.0h0.68M227.0 89.6h0.68M214.6 83.3h0.68M230.1 90.1h0.68M211.4 73.9h0.68M226.6 62.2h0.68M231.4 82.5h0.68M211.7 73.0h0.68M232.1 72.5h0.68M215.7 66.9h0.68M225.7 88.2h0.68M216.2 62.9h0.68M225.5 63.9h0.68M217.9 90.9h0.68M227.1 61.5h0.68M228.7 90.1h0.68M227.2 93.5h0.68M212.1 77.5h0.68M214.2 84.5h0.68M227.0 92.4h0.68M232.0 70.0h0.68M215.1 80.0h0.68M226.2 65.8h0.68M230.5 73.0h0.68M230.0 67.8h0.68M212.8 68.2h0.68M222.5 63.2h0.68M230.7 86.7h0.68M216.9 89.8h0.68M216.2 83.8h0.68M216.6 82.1h0.68M214.0 71.8h0.68M223.0 93.2h0.68M231.5 76.3h0.68M223.5 58.7h0.68M217.4 65.8h0.68M227.5 91.2h0.68M224.7 95.0h0.68M215.2 86.4h0.68M213.6 75.1h0.68M214.6 85.4h0.68M212.0 86.3h0.68M221.6 88.8h0.68M212.7 82.6h0.68M228.6 109.6h0.68M215.0 101.2h0.68M216.5 102.1h0.68M229.5 100.9h0.68M215.2 101.6h0.68M220.1 109.3h0.68M218.8 107.2h0.68M226.7 104.4h0.68M217.1 98.5h0.68M220.6 89.9h0.68M218.4 93.6h0.68M226.6 95.7h0.68M220.6 95.7h0.68M223.6 109.4h0.68M218.5 100.5h0.68M230.4 94.5h0.68M218.1 107.4h0.68M216.4 97.7h0.68M217.2 100.2h0.68M231.8 101.2h0.68M223.8 109.2h0.68M215.0 105.1h0.68M214.3 99.5h0.68M226.1 93.7h0.68M222.6 110.3h0.68M217.7 95.9h0.68M218.7 97.0h0.68M220.2 108.0h0.68M225.5 107.1h0.68M218.2 89.8h0.68M222.6 107.7h0.68M226.6 97.9h0.68M218.6 92.9h0.68M216.4 92.5h0.68M220.8 105.1h0.68M226.6 95.5h0.68M226.9 109.1h0.68M219.4 95.1h0.68M217.3 88.0h0.68M217.4 106.0h0.68M222.4 91.9h0.68M218.0 91.7h0.68M227.2 105.7h0.68M230.1 100.0h0.68M215.5 97.4h0.68M227.9 107.4h0.68M218.5 95.0h0.68M221.9 109.2h0.68M229.4 102.1h0.68M223.9 106.2h0.68M222.9 91.7h0.68M226.6 106.9h0.68M219.5 90.4h0.68M220.0 107.9h0.68M218.1 107.0h0.68M217.9 106.0h0.68M219.7 105.9h0.68M222.3 91.6h0.68M228.9 98.5h0.68M227.4 96.1h0.68M215.6 102.4h0.68M224.2 108.9h0.68M221.7 95.5h0.68M216.2 106.3h0.68M223.9 104.3h0.68M218.6 90.6h0.68M225.2 87.5h0.68M217.4 104.4h0.68M227.1 102.6h0.68M215.1 99.1h0.68M226.6 92.6h0.68M217.2 96.2h0.68M215.9 96.6h0.68M215.7 99.5h0.68M217.0 101.6h0.68M217.3 102.4h0.68M217.5 106.1h0.68M216.2 97.6h0.68M215.4 98.4h0.68M227.0 97.6h0.68M228.6 101.8h0.68M216.8 99.1h0.68M215.9 101.5h0.68M218.9 95.6h0.68M217.2 92.1h0.68M229.6 104.0h0.68M217.3 94.5h0.68M216.6 97.0h0.68M221.0 90.2h0.68M218.4 104.2h0.68M218.4 94.2h0.68M214.2 101.5h0.68M224.5 92.1h0.68M230.5 99.1h0.68M217.3 101.5h0.68M221.9 107.7h0.68M220.4 105.8h0.68M225.8 104.0h0.68M223.1 93.5h0.68M226.3 107.4h0.68M227.9 107.9h0.68M228.4 93.0h0.68M222.1 107.1h0.68M216.7 96.8h0.68M219.6 94.6h0.68M216.0 93.5h0.68M220.1 94.2h0.68M215.3 97.2h0.68M220.7 93.8h0.68M219.7 109.4h0.68M223.7 109.6h0.68M229.0 98.3h0.68M218.0 110.5h0.68M224.3 106.4h0.68M228.0 99.7h0.68M217.3 93.6h0.68M227.7 106.0h0.68M217.6 100.3h0.68M219.8 92.9h0.68M216.0 103.2h0.68M222.3 105.8h0.68M225.9 91.6h0.68M228.7 101.5h0.68M225.9 98.5h0.68M228.0 99.5h0.68M227.8 104.7h0.68M220.7 92.3h0.68M223.6 94.8h0.68M223.3 89.2h0.68M216.6 100.1h0.68M228.6 104.3h0.68M217.4 98.2h0.68M216.6 98.5h0.68M227.3 103.6h0.68M227.1 108.8h0.68M214.6 98.4h0.68M224.5 110.8h0.68M230.8 94.8h0.68M221.6 105.9h0.68M218.6 88.4h0.68M219.8 90.3h0.68M228.8 102.0h0.68M218.7 107.3h0.68M228.4 96.7h0.68M224.3 93.7h0.68M227.3 100.4h0.68M227.6 103.6h0.68M225.7 97.6h0.68M221.0 97.5h0.68M217.3 93.3h0.68M228.2 94.1h0.68M217.7 97.5h0.68M219.4 105.3h0.68M228.8 100.6h0.68M228.3 105.1h0.68M228.4 102.8h0.68M222.0 97.8h0.68M225.8 92.0h0.68M216.2 108.0h0.68M226.3 93.3h0.68M215.4 98.4h0.68M223.5 108.0h0.68M224.5 89.1h0.68M227.9 99.2h0.68M217.5 101.3h0.68M219.4 97.5h0.68M218.4 97.5h0.68M227.0 98.5h0.68M228.7 101.5h0.68M219.9 107.2h0.68M216.8 103.1h0.68M226.8 105.2h0.68M230.1 93.9h0.68M226.1 104.3h0.68M227.5 102.4h0.68M221.1 106.1h0.68M217.2 96.7h0.68M226.8 102.6h0.68M224.3 106.2h0.68M214.6 95.2h0.68M218.8 95.5h0.68M216.5 98.9h0.68M221.3 93.9h0.68M219.7 103.9h0.68M217.9 96.3h0.68M218.4 95.8h0.68M218.6 92.2h0.68M217.9 102.2h0.68M220.8 108.7h0.68M217.8 93.5h0.68M219.3 94.0h0.68M217.8 98.7h0.68M218.8 103.7h0.68M227.5 100.5h0.68M217.5 92.7h0.68M227.4 115.8h0.68M218.0 124.3h0.68M224.3 108.4h0.68M211.4 119.7h0.68M214.7 121.3h0.68M227.5 118.8h0.68M228.6 126.4h0.68M216.2 125.6h0.68M227.4 126.4h0.68M229.1 117.8h0.68M226.4 123.4h0.68M229.7 117.6h0.68M226.5 113.1h0.68M212.5 115.7h0.68M214.5 122.3h0.68M228.3 119.4h0.68M226.8 113.6h0.68M223.9 111.9h0.68M219.3 108.6h0.68M217.0 124.9h0.68M213.9 118.9h0.68M212.4 118.5h0.68M221.1 108.7h0.68M228.5 124.2h0.68M227.3 126.0h0.68M215.6 124.1h0.68M221.7 109.7h0.68M227.0 112.5h0.68M221.1 109.4h0.68M227.3 118.1h0.68M212.5 121.4h0.68M223.6 126.6h0.68M224.0 109.3h0.68M220.7 109.5h0.68M231.2 121.3h0.68M217.3 112.4h0.68M232.0 117.2h0.68M229.7 119.8h0.68M227.6 122.5h0.68M213.1 112.5h0.68M226.8 110.3h0.68M221.5 108.8h0.68M228.9 121.0h0.68M216.4 124.4h0.68M229.9 113.2h0.68M215.1 118.5h0.68M217.3 112.9h0.68M212.6 116.0h0.68M217.2 121.6h0.68M230.3 118.3h0.68M220.7 109.5h0.68M227.5 122.4h0.68M222.4 124.6h0.68M220.7 110.4h0.68M228.4 114.5h0.68M227.6 121.4h0.68M215.3 119.8h0.68M230.3 112.5h0.68M213.6 116.9h0.68M216.2 118.3h0.68M211.7 123.1h0.68M215.2 115.7h0.68M230.9 118.1h0.68M212.0 115.6h0.68M227.8 111.5h0.68M223.2 124.2h0.68M215.4 116.7h0.68M227.3 125.0h0.68M227.9 116.8h0.68M214.3 119.1h0.68M214.5 122.8h0.68M214.2 114.5h0.68M217.2 111.9h0.68M230.0 121.8h0.68M218.9 111.1h0.68M216.0 112.2h0.68M213.1 123.9h0.68M224.7 126.3h0.68M219.4 110.3h0.68M227.7 117.8h0.68M214.1 118.3h0.68M226.2 125.6h0.68M225.8 122.6h0.68M214.6 126.3h0.68M230.9 120.0h0.68M228.7 110.6h0.68M214.7 117.6h0.68M224.5 115.7h0.68M225.8 125.7h0.68M224.6 124.9h0.68M213.6 121.1h0.68M219.1 111.0h0.68M212.7 116.4h0.68M221.5 126.3h0.68M227.2 110.4h0.68M230.3 122.4h0.68M230.2 113.6h0.68M231.6 122.8h0.68M218.4 113.7h0.68M228.1 115.3h0.68M224.3 111.1h0.68M213.9 120.5h0.68M227.9 118.5h0.68M227.3 113.3h0.68M224.1 124.1h0.68M225.2 111.6h0.68M227.9 122.3h0.68M228.2 124.5h0.68M222.6 107.6h0.68M219.7 113.5h0.68M222.4 126.3h0.68M220.8 110.0h0.68M225.4 111.6h0.68M215.9 115.6h0.68M219.1 125.0h0.68M225.6 125.5h0.68M226.5 110.9h0.68M225.9 122.2h0.68M217.8 115.3h0.68M227.7 115.9h0.68M213.3 120.5h0.68M219.7 125.1h0.68M219.8 110.9h0.68M213.9 118.4h0.68M225.5 114.1h0.68M218.1 114.5h0.68M230.9 118.7h0.68M221.8 111.1h0.68M215.9 109.8h0.68M228.2 119.8h0.68M221.4 126.6h0.68M217.2 112.8h0.68M219.8 111.5h0.68M231.2 124.4h0.68M229.5 114.7h0.68M231.3 115.3h0.68M214.5 115.4h0.68M217.4 118.2h0.68M228.3 117.4h0.68M213.8 122.6h0.68M213.0 123.9h0.68M225.0 109.0h0.68M227.4 122.7h0.68M212.6 116.8h0.68M225.3 109.8h0.68M218.3 112.3h0.68M228.7 115.3h0.68M226.5 113.2h0.68M218.0 111.3h0.68M216.1 123.2h0.68M225.8 124.7h0.68M215.8 121.9h0.68M221.5 111.4h0.68M215.3 116.3h0.68M221.4 112.5h0.68M216.5 125.9h0.68M221.3 125.3h0.68M225.5 123.4h0.68M226.9 117.1h0.68M225.0 110.2h0.68M221.7 125.5h0.68M214.7 119.8h0.68M213.4 116.1h0.68M223.8 110.6h0.68M225.2 125.7h0.68M230.7 118.1h0.68M212.8 113.2h0.68M226.9 112.9h0.68M222.4 111.2h0.68M219.0 106.7h0.68M215.8 120.4h0.68M214.7 115.5h0.68M229.7 123.0h0.68M226.6 123.0h0.68M213.1 118.8h0.68M219.7 108.9h0.68M221.7 109.7h0.68M230.2 117.1h0.68M215.5 112.1h0.68M228.1 122.7h0.68M226.1 125.1h0.68M217.8 110.7h0.68M221.5 110.5h0.68M226.5 125.9h0.68M229.3 120.1h0.68M220.5 110.2h0.68M226.0 125.8h0.68M227.9 121.1h0.68M225.3 109.4h0.68M216.7 111.3h0.68M230.0 118.4h0.68M220.9 125.2h0.68M230.0 118.9h0.68M212.4 115.8h0.68M217.7 109.6h0.68M216.6 115.9h0.68M230.5 123.1h0.68M217.2 117.6h0.68M222.8 111.6h0.68M221.9 125.9h0.68M214.8 125.9h0.68M230.3 123.0h0.68M226.4 125.6h0.68M226.7 125.9h0.68M212.0 114.6h0.68M215.7 114.9h0.68M220.1 126.0h0.68M222.9 124.6h0.68M222.3 125.6h0.68M228.4 112.7h0.68M215.2 114.5h0.68M229.2 125.8h0.68M214.5 114.9h0.68M214.8 120.7h0.68M216.1 115.5h0.68M229.1 114.0h0.68M213.9 120.7h0.68M214.3 119.5h0.68M229.2 122.0h0.68M215.0 125.4h0.68M219.1 126.6h0.68M226.9 121.8h0.68M212.1 115.9h0.68M226.3 114.8h0.68M215.9 122.1h0.68M225.1 112.4h0.68M224.1 109.8h0.68M215.8 112.6h0.68M219.2 113.4h0.68M214.2 123.4h0.68M213.6 113.5h0.68M229.6 117.5h0.68M215.6 115.7h0.68M231.0 117.4h0.68M216.3 120.3h0.68M227.0 110.8h0.68M217.5 124.8h0.68M223.3 113.2h0.68M211.1 120.0h0.68M227.5 111.7h0.68M230.3 121.1h0.68M227.3 111.1h0.68M215.0 120.6h0.68M233.0 85.8h0.68M188.2 68.8h0.68M229.5 114.0h0.68M203.1 109.0h0.68M223.9 104.9h0.68M174.9 103.5h0.68M226.4 91.8h0.68M196.4 103.3h0.68M180.5 74.8h0.68M175.3 104.6h0.68M201.5 62.1h0.68M178.5 80.2h0.68M214.3 68.5h0.68M192.8 101.6h0.68M224.1 72.5h0.68M205.3 100.7h0.68M204.8 100.1h0.68M193.4 75.7h0.68M212.6 118.8h0.68M213.6 104.2h0.68M232.2 76.7h0.68M206.3 115.7h0.68M211.6 59.6h0.68M202.0 115.0h0.68M181.2 86.2h0.68M233.8 90.3h0.68M204.2 100.1h0.68M224.9 90.4h0.68M228.2 107.4h0.68M194.6 101.3h0.68M187.8 63.0h0.68M200.3 62.6h0.68M187.8 116.8h0.68M233.0 72.9h0.68M178.8 83.5h0.68M198.0 69.1h0.68M222.0 70.2h0.68M204.0 78.0h0.68M211.2 67.4h0.68M200.9 117.1h0.68M168.7 72.6h0.68M172.5 116.3h0.68M212.8 75.9h0.68M228.3 71.2h0.68M200.5 109.1h0.68M208.1 64.0h0.68M170.8 72.0h0.68M231.3 120.5h0.68M187.9 62.8h0.68M210.4 73.0h0.68M227.7 121.9h0.68M220.3 112.3h0.68M220.1 116.0h0.68M193.2 108.5h0.68M168.5 106.7h0.68M197.6 126.3h0.68M220.5 90.2h0.68M215.2 99.2h0.68M209.2 60.0h0.68M182.8 77.0h0.68M215.0 121.7h0.68M210.0 111.0h0.68M210.5 69.4h0.68M184.8 99.0h0.68M218.4 88.0h0.68M214.4 82.2h0.68M188.8 71.0h0.68M195.5 98.9h0.68M175.0 122.7h0.68M191.0 123.2h0.68M186.9 61.2h0.68M214.1 85.2h0.68M222.7 104.8h0.68M197.3 104.4h0.68M213.5 81.8h0.68M180.7 103.9h0.68M206.0 62.7h0.68M178.5 88.7h0.68M173.7 95.1h0.68M194.2 79.6h0.68M218.2 109.6h0.68M172.1 100.0h0.68M234.5 100.7h0.68M234.0 75.3h0.68M182.5 81.7h0.68M183.4 70.3h0.68M184.8 93.5h0.68M222.3 112.0h0.68M235.5 112.0h0.68M240.3 79.0h0.68M235.3 118.1h0.68M236.3 78.2h0.68M237.6 114.0h0.68M242.8 121.8h0.68M242.0 117.2h0.68M239.0 65.1h0.68M237.1 70.7h0.68M236.1 70.3h0.68M237.8 64.7h0.68M237.6 117.9h0.68M237.1 95.0h0.68M242.0 62.4h0.68M241.0 97.2h0.68M235.4 120.2h0.68M241.6 68.1h0.68M242.9 99.5h0.68M240.3 75.4h0.68M235.4 107.9h0.68M240.9 73.4h0.68M235.5 99.3h0.68M237.7 84.1h0.68M242.1 98.7h0.68M236.1 107.5h0.68M241.0 98.9h0.68M242.8 92.8h0.68M240.4 65.1h0.68M237.6 81.2h0.68M238.6 95.1h0.68M236.1 107.0h0.68M235.6 78.0h0.68" stroke="#161616" stroke-width="0.68" fill="none" opacity="0.74"/>
</g></g>
<rect x="167.60" y="31.50" width="102.40" height="95.90" fill="none" stroke="#7c7c7c" stroke-width="1" />
<rect x="167.60" y="91.70" width="29.90" height="34.90" fill="none" stroke="#454545" stroke-width="0.95" />
<rect x="198.60" y="61.40" width="12.70" height="29.30" fill="none" stroke="#454545" stroke-width="0.95" />
<rect x="212.40" y="61.40" width="22.80" height="29.60" fill="none" stroke="#454545" stroke-width="0.95" />
<rect x="212.40" y="92.50" width="22.80" height="15.20" fill="none" stroke="#454545" stroke-width="0.95" />
<rect x="212.40" y="109.00" width="22.80" height="17.60" fill="none" stroke="#454545" stroke-width="0.95" />
<rect x="183.7" y="69.8" width="16.2" height="6.8" fill="#fff" opacity="0.88"/>
<text x="184.5" y="75.7" font-size="7.3" font-weight="bold" text-anchor="start" fill="#1a1a1a" >1.41</text>
<text x="238.7" y="78" font-size="7.3" font-weight="bold" text-anchor="start" fill="#1a1a1a" >31.56</text>
<text x="241" y="103.5" font-size="7.3" font-weight="bold" text-anchor="start" fill="#1a1a1a" >4.96</text>
<text x="238.7" y="121" font-size="7.3" font-weight="bold" text-anchor="start" fill="#1a1a1a" >17.07</text>
<rect x="190.2" y="116.89999999999999" width="20.1" height="6.8" fill="#fff" opacity="0.88"/>
<text x="191" y="122.8" font-size="7.3" font-weight="bold" text-anchor="start" fill="#1a1a1a" >39.08</text>
<clipPath id="cp3"><rect x="297.8" y="32.8" width="102.5" height="95.2"/></clipPath>
<g clip-path="url(#cp3)">
<ellipse cx="311.3" cy="104.5" rx="14" ry="27" fill="#606060" opacity="0.7" filter="url(#bl2)"/>
<ellipse cx="311.3" cy="69.8" rx="11" ry="9" fill="#686868" opacity="0.58" filter="url(#bl2)"/>
<ellipse cx="305.3" cy="111.5" rx="5.5" ry="14" fill="#dcdcdc" opacity="0.9" filter="url(#bl1)"/>
<ellipse cx="336.4" cy="81.8" rx="10" ry="12" fill="#aaa" opacity="0.35" filter="url(#bl2)"/>
<path d="M357.3 49.6 Q358.8 44.6 367.3 44.1 Q376.8 44.6 378.3 50.6 Q376.8 60.6 371.8 76.8 L365.3 76.8 Q358.8 60.6 357.3 49.6 Z" fill="#5e5e5e" opacity="0.52" filter="url(#bl1)"/>
<path d="M362.8 52.1 Q368.3 50.1 373.8 52.1 Q373.3 60.6 369.6 67.8 L367.0 67.8 Q363.3 60.6 362.8 52.1 Z" fill="#e6e6e6" opacity="0.97" filter="url(#bl0)"/>
<rect x="365.3" y="75.7" width="6" height="27.799999999999997" fill="#787878" opacity="0.32" filter="url(#bl1)"/>
<path d="M365.8 102.5 L370.8 102.5 L377.3 130 L359.3 130 Z" fill="#707070" opacity="0.42" filter="url(#bl1)"/>
<path d="M368.3 113.5 L371.8 129 L364.8 129 Z" fill="#e4e4e4" opacity="0.85" filter="url(#bl0)"/>
<g filter="url(#soft)">
<path d="M308.5 102.0h0.68M309.2 83.3h0.68M313.0 97.9h0.68M299.9 118.1h0.68M308.1 90.6h0.68M316.0 77.4h0.68M317.3 53.5h0.68M304.6 74.5h0.68M308.1 121.3h0.68M304.0 94.4h0.68M319.7 89.2h0.68M324.0 100.3h0.68M309.5 84.4h0.68M321.1 103.2h0.68M305.8 84.7h0.68M304.4 102.5h0.68M303.7 121.2h0.68M310.0 91.6h0.68M320.5 107.4h0.68M318.1 72.3h0.68M303.4 125.7h0.68M309.5 105.8h0.68M316.3 112.2h0.68M314.6 94.2h0.68M305.8 74.4h0.68M307.1 123.2h0.68M327.1 107.7h0.68M304.6 117.2h0.68M315.3 120.3h0.68M315.2 113.3h0.68M302.0 101.1h0.68M319.4 112.8h0.68M309.4 111.8h0.68M307.4 127.3h0.68M307.6 88.7h0.68M303.5 86.6h0.68M316.7 97.6h0.68M315.7 87.3h0.68M308.2 105.2h0.68M310.6 120.8h0.68M318.2 98.7h0.68M312.9 86.9h0.68M304.8 97.4h0.68M319.9 90.2h0.68M299.4 100.7h0.68M307.7 80.3h0.68M303.2 95.9h0.68M314.2 117.3h0.68M322.8 99.2h0.68M316.4 106.1h0.68M300.5 91.4h0.68M330.8 101.2h0.68M325.8 121.7h0.68M325.9 100.6h0.68M319.2 98.3h0.68M300.4 80.3h0.68M314.7 71.1h0.68M314.0 86.5h0.68M313.9 76.0h0.68M318.5 99.8h0.68M311.2 70.6h0.68M313.7 114.6h0.68M324.0 111.1h0.68M314.8 114.4h0.68M305.7 52.3h0.68M310.8 113.7h0.68M318.2 81.6h0.68M323.5 87.5h0.68M316.5 119.7h0.68M315.2 95.8h0.68M334.6 104.4h0.68M324.9 92.6h0.68M311.2 84.6h0.68M306.2 106.0h0.68M309.4 113.6h0.68M306.7 89.8h0.68M307.0 82.3h0.68M298.3 115.3h0.68M315.8 118.0h0.68M305.1 95.5h0.68M326.9 96.5h0.68M311.9 125.3h0.68M326.0 112.3h0.68M307.0 67.2h0.68M303.8 98.0h0.68M322.7 111.1h0.68M321.8 106.7h0.68M311.1 92.5h0.68M299.4 115.1h0.68M314.0 116.5h0.68M305.8 95.8h0.68M314.2 117.2h0.68M329.0 86.4h0.68M319.8 123.0h0.68M308.3 107.4h0.68M334.1 111.3h0.68M308.4 124.3h0.68M315.2 100.7h0.68M317.6 122.7h0.68M307.1 122.3h0.68M307.9 107.9h0.68M307.2 107.7h0.68M310.3 120.3h0.68M305.4 120.0h0.68M303.1 73.7h0.68M315.4 107.9h0.68M318.8 64.1h0.68M311.7 91.2h0.68M309.0 96.4h0.68M307.3 90.6h0.68M320.1 68.7h0.68M329.2 88.6h0.68M302.4 80.2h0.68M317.0 123.3h0.68M313.9 109.4h0.68M305.4 84.3h0.68M304.2 105.4h0.68M326.3 103.0h0.68M316.5 92.8h0.68M328.0 78.9h0.68M315.9 99.6h0.68M312.5 112.1h0.68M322.8 122.8h0.68M320.4 112.2h0.68M324.8 114.6h0.68M318.0 99.7h0.68M317.0 104.1h0.68M305.1 106.8h0.68M301.4 96.7h0.68M325.4 98.4h0.68M327.6 102.5h0.68M314.5 85.2h0.68M307.9 95.2h0.68M316.1 102.8h0.68M300.6 105.2h0.68M301.0 84.3h0.68M305.7 43.8h0.68M311.2 88.8h0.68M327.0 115.8h0.68M304.9 70.1h0.68M312.3 90.5h0.68M320.1 82.7h0.68M321.7 94.9h0.68M312.5 98.9h0.68M305.7 85.6h0.68M328.1 124.5h0.68M328.2 124.6h0.68M304.5 95.6h0.68M307.0 118.9h0.68M302.8 100.8h0.68M302.9 99.6h0.68M321.0 127.8h0.68M304.2 114.1h0.68M306.2 58.1h0.68M309.5 110.2h0.68M322.2 105.2h0.68M304.8 91.8h0.68M301.9 116.1h0.68M306.3 115.3h0.68M329.6 112.2h0.68M299.9 120.7h0.68M300.8 118.8h0.68M302.7 113.4h0.68M314.8 89.4h0.68M312.8 82.2h0.68M319.5 123.7h0.68M309.1 119.0h0.68M332.6 101.2h0.68M306.4 88.1h0.68M318.9 125.6h0.68M304.8 95.8h0.68M314.5 47.7h0.68M308.6 105.8h0.68M301.7 109.3h0.68M320.3 91.2h0.68M315.8 101.3h0.68M309.1 107.0h0.68M324.5 115.5h0.68M316.9 107.7h0.68M310.4 106.6h0.68M305.9 72.1h0.68M325.1 65.8h0.68M315.6 79.7h0.68M308.8 93.7h0.68M304.8 88.3h0.68M306.1 120.9h0.68M325.4 124.1h0.68M310.4 101.5h0.68M308.3 104.1h0.68M304.8 100.8h0.68M318.4 99.8h0.68M303.0 102.0h0.68M311.3 102.9h0.68M308.1 119.4h0.68M310.1 83.3h0.68M315.8 89.5h0.68M317.7 121.7h0.68M315.0 111.0h0.68M298.0 100.4h0.68M311.7 118.0h0.68M300.1 101.3h0.68M311.2 107.1h0.68M325.8 120.0h0.68M308.7 92.4h0.68M306.4 121.0h0.68M319.0 93.9h0.68M309.4 95.4h0.68M316.9 108.5h0.68M303.8 85.9h0.68M322.6 75.1h0.68M329.4 93.2h0.68M318.4 116.3h0.68M306.1 104.2h0.68M319.6 116.3h0.68M303.4 88.6h0.68M305.5 71.8h0.68M305.3 111.4h0.68M312.2 99.9h0.68M312.0 118.3h0.68M299.3 87.4h0.68M319.5 120.0h0.68M324.0 120.4h0.68M309.1 126.0h0.68M305.7 103.5h0.68M307.2 109.7h0.68M324.3 127.7h0.68M319.7 104.5h0.68M325.9 114.2h0.68M312.7 104.2h0.68M310.3 123.5h0.68M331.7 100.5h0.68M299.6 126.0h0.68M312.7 84.7h0.68M319.5 104.8h0.68M301.6 51.3h0.68M301.2 112.6h0.68M300.8 125.0h0.68M331.1 111.3h0.68M312.6 102.9h0.68M318.5 105.2h0.68M318.5 84.3h0.68M316.7 99.0h0.68M313.4 124.9h0.68M304.3 108.9h0.68M324.2 87.0h0.68M308.7 119.8h0.68M308.3 126.1h0.68M301.0 73.1h0.68M314.0 101.7h0.68M313.4 124.8h0.68M320.3 97.3h0.68M306.9 63.9h0.68M301.3 109.7h0.68M312.5 73.5h0.68M317.8 103.7h0.68M320.8 97.2h0.68M319.5 81.4h0.68M317.0 113.2h0.68M317.8 115.2h0.68M307.0 84.2h0.68M301.0 101.6h0.68M315.9 91.1h0.68M313.3 119.4h0.68M307.5 89.3h0.68M316.8 100.7h0.68M313.4 101.9h0.68M318.7 104.3h0.68M312.6 102.9h0.68M302.1 58.2h0.68M315.6 78.6h0.68M314.2 117.9h0.68M328.2 89.0h0.68M311.9 124.4h0.68M304.2 92.3h0.68M320.6 124.5h0.68M301.4 118.3h0.68M321.2 78.2h0.68M310.6 100.5h0.68M316.5 68.2h0.68M317.1 104.6h0.68M308.0 60.4h0.68M316.6 113.4h0.68M317.5 69.2h0.68M303.6 116.0h0.68M311.4 70.7h0.68M313.6 123.2h0.68M306.7 109.1h0.68M307.0 123.5h0.68M305.0 127.7h0.68M325.2 79.2h0.68M308.9 115.8h0.68M311.3 68.5h0.68M318.4 92.3h0.68M312.3 113.0h0.68M319.1 116.5h0.68M316.1 112.0h0.68M318.1 97.7h0.68M310.7 112.3h0.68M311.3 109.9h0.68M315.0 104.6h0.68M300.1 99.0h0.68M319.4 90.5h0.68M314.9 110.9h0.68M302.2 45.9h0.68M310.3 88.4h0.68M304.5 124.0h0.68M303.2 111.8h0.68M311.5 108.7h0.68M329.1 63.6h0.68M319.5 101.5h0.68M307.8 90.7h0.68M310.8 105.5h0.68M303.5 101.7h0.68M298.5 107.7h0.68M313.8 127.1h0.68M319.6 94.2h0.68M325.5 102.3h0.68M306.7 82.2h0.68M314.2 127.3h0.68M316.0 123.0h0.68M322.9 98.4h0.68M303.0 79.8h0.68M308.9 119.3h0.68M317.9 86.1h0.68M321.0 112.0h0.68M315.5 48.2h0.68M315.6 112.5h0.68M314.7 102.1h0.68M317.8 122.8h0.68M310.9 99.4h0.68M305.1 111.1h0.68M324.8 120.6h0.68M298.5 102.7h0.68M303.7 70.4h0.68M302.9 116.6h0.68M313.6 100.2h0.68M312.1 80.4h0.68M303.2 101.1h0.68M317.9 97.9h0.68M308.9 111.5h0.68M324.2 78.4h0.68M315.4 108.4h0.68M309.8 109.6h0.68M308.2 78.9h0.68M318.3 102.0h0.68M307.2 120.2h0.68M301.8 89.7h0.68M318.1 122.6h0.68M329.3 95.1h0.68M299.2 106.7h0.68M308.2 90.6h0.68M301.0 90.1h0.68M318.1 120.3h0.68M321.4 113.9h0.68M327.4 109.0h0.68M307.8 115.3h0.68M306.9 90.1h0.68M314.5 81.4h0.68M311.6 121.5h0.68M316.4 112.5h0.68M311.4 117.2h0.68M301.3 116.6h0.68M300.3 88.9h0.68M304.9 76.9h0.68M315.1 118.2h0.68M331.1 108.2h0.68M317.4 89.1h0.68M317.0 80.9h0.68M328.8 84.6h0.68M306.5 120.0h0.68M301.5 108.6h0.68M319.6 107.7h0.68M319.1 94.1h0.68M315.9 59.5h0.68M324.5 90.8h0.68M302.3 104.9h0.68M326.3 89.9h0.68M310.2 97.0h0.68M301.6 77.5h0.68M315.9 119.2h0.68M303.3 109.2h0.68M314.6 112.4h0.68M308.8 105.5h0.68M312.9 82.5h0.68M309.0 121.0h0.68M308.1 81.7h0.68M307.6 76.5h0.68M316.1 71.6h0.68M310.5 99.6h0.68M307.5 113.3h0.68M313.0 93.0h0.68M318.0 95.2h0.68M313.9 123.7h0.68M316.9 49.0h0.68M303.0 88.5h0.68M301.5 105.0h0.68M316.3 80.6h0.68M304.5 66.1h0.68M303.7 61.2h0.68M318.5 87.7h0.68M313.6 88.4h0.68M304.3 94.6h0.68M310.2 117.7h0.68M307.6 101.4h0.68M313.1 72.2h0.68M317.1 114.7h0.68M310.9 71.1h0.68M305.9 72.2h0.68M328.7 112.0h0.68M317.1 108.7h0.68M318.6 117.7h0.68M315.8 119.8h0.68M307.7 113.5h0.68M311.1 99.3h0.68M300.8 100.7h0.68M319.9 103.0h0.68M313.6 79.5h0.68M311.8 102.7h0.68M300.6 103.5h0.68M309.2 91.9h0.68M304.0 106.8h0.68M321.3 75.4h0.68M309.6 126.8h0.68M311.6 87.8h0.68M312.1 61.9h0.68M308.4 121.5h0.68M304.3 88.0h0.68M303.2 67.9h0.68M314.5 92.8h0.68M319.7 106.7h0.68M300.3 98.3h0.68M321.7 127.6h0.68M309.5 113.5h0.68M305.4 107.2h0.68M304.7 107.9h0.68M305.5 108.6h0.68M316.8 104.1h0.68M298.2 114.9h0.68M308.0 94.2h0.68M315.6 87.2h0.68M319.0 116.1h0.68M303.8 90.0h0.68M309.2 85.7h0.68M319.2 57.7h0.68M311.7 97.3h0.68M300.0 117.6h0.68M305.8 114.0h0.68M306.2 98.7h0.68M315.2 124.4h0.68M319.6 104.1h0.68M324.2 97.5h0.68M310.6 103.8h0.68M312.5 102.2h0.68M307.9 97.9h0.68M310.7 81.1h0.68M301.2 123.3h0.68M303.3 125.4h0.68M311.4 124.3h0.68M316.0 115.4h0.68M313.7 114.6h0.68M323.7 99.2h0.68M326.6 127.1h0.68M311.1 74.4h0.68M321.7 98.1h0.68M311.2 107.1h0.68M319.2 117.7h0.68M313.6 108.1h0.68M317.8 116.3h0.68M325.5 89.5h0.68M322.5 112.5h0.68M313.1 118.8h0.68M307.2 119.4h0.68M308.4 119.5h0.68M309.9 109.6h0.68M302.9 96.2h0.68M312.7 126.4h0.68M322.4 94.6h0.68M309.7 98.0h0.68M320.9 76.5h0.68M337.0 124.9h0.68M326.5 108.4h0.68M325.2 92.6h0.68M322.2 120.3h0.68M317.7 120.1h0.68M315.8 118.1h0.68M321.5 113.4h0.68M316.2 113.5h0.68M311.7 86.4h0.68M298.8 73.8h0.68M316.8 97.7h0.68M317.6 94.9h0.68M313.9 100.3h0.68M318.1 123.1h0.68M299.5 91.8h0.68M312.0 100.0h0.68M305.5 62.9h0.68M303.4 102.3h0.68M313.3 82.2h0.68M311.9 63.6h0.68M308.6 104.6h0.68M322.2 108.6h0.68M323.2 111.5h0.68M324.7 108.7h0.68M299.0 108.7h0.68M314.8 89.9h0.68M318.1 101.2h0.68M317.8 108.6h0.68M301.7 126.5h0.68M329.1 123.9h0.68M313.0 68.6h0.68M313.4 104.0h0.68M303.0 64.6h0.68M314.6 124.9h0.68M310.1 84.4h0.68M309.9 113.7h0.68M303.5 88.2h0.68M312.9 122.9h0.68M308.2 114.8h0.68M305.7 97.5h0.68M312.2 124.9h0.68M325.2 102.0h0.68M318.2 97.1h0.68M314.2 74.9h0.68M303.7 76.6h0.68M320.0 95.1h0.68M311.2 106.1h0.68M308.5 80.1h0.68M328.4 63.2h0.68M310.1 119.2h0.68M308.5 102.5h0.68M313.3 109.6h0.68M307.3 127.2h0.68M311.3 63.0h0.68M314.7 70.5h0.68M313.5 89.7h0.68M309.4 107.0h0.68M306.5 98.1h0.68M304.5 109.3h0.68M309.3 75.3h0.68M312.6 91.2h0.68M303.0 100.1h0.68M312.9 118.8h0.68M315.6 54.8h0.68M304.9 110.1h0.68M313.9 121.4h0.68M299.4 100.4h0.68M306.1 94.7h0.68M303.3 121.7h0.68M317.7 112.0h0.68M298.7 91.5h0.68M309.9 113.0h0.68M305.3 99.0h0.68M334.7 105.9h0.68M307.7 53.2h0.68M318.3 79.7h0.68M317.7 108.2h0.68M303.1 121.3h0.68M304.8 98.3h0.68M310.7 109.1h0.68M306.4 110.9h0.68M310.5 108.7h0.68M314.1 91.3h0.68M321.8 111.6h0.68M312.5 89.1h0.68M299.9 78.6h0.68M302.0 96.8h0.68M310.2 67.8h0.68M305.4 109.5h0.68M314.0 120.9h0.68M307.2 101.6h0.68M308.3 116.0h0.68M304.1 101.3h0.68M311.8 97.4h0.68M315.1 85.5h0.68M328.6 88.6h0.68M302.4 97.0h0.68M323.1 116.2h0.68M311.1 118.5h0.68M303.2 89.9h0.68M315.3 108.8h0.68M312.6 83.4h0.68M312.7 74.5h0.68M319.0 104.9h0.68M304.5 94.8h0.68M310.6 110.0h0.68M301.7 77.2h0.68M312.6 95.3h0.68M315.1 126.8h0.68M309.4 115.9h0.68M312.1 109.6h0.68M305.7 109.7h0.68M314.5 106.3h0.68M306.3 74.2h0.68M319.8 110.9h0.68M313.2 101.5h0.68M316.7 124.8h0.68M308.2 111.2h0.68M319.3 71.6h0.68M301.9 92.7h0.68M299.8 95.5h0.68M302.7 96.4h0.68M314.9 80.1h0.68M312.2 79.1h0.68M308.1 91.5h0.68M317.7 89.7h0.68M300.3 117.5h0.68M310.7 91.1h0.68M314.8 127.8h0.68M320.4 106.8h0.68M314.7 115.1h0.68M304.4 93.0h0.68M303.0 84.5h0.68M320.5 104.8h0.68M305.2 66.4h0.68M312.0 103.6h0.68M301.0 102.6h0.68M299.3 115.1h0.68M311.4 60.2h0.68M300.2 91.0h0.68M317.7 117.2h0.68M307.9 94.0h0.68M315.6 87.1h0.68M302.5 124.6h0.68M322.3 67.1h0.68M314.8 104.5h0.68M318.8 97.6h0.68M305.1 113.5h0.68M316.3 102.3h0.68M318.5 115.6h0.68M318.1 69.0h0.68M301.0 110.9h0.68M310.6 89.1h0.68M300.5 63.9h0.68M305.9 116.8h0.68M309.8 73.8h0.68M309.6 105.8h0.68M314.5 127.8h0.68M311.4 84.3h0.68M320.4 127.9h0.68M305.2 76.8h0.68M317.9 92.9h0.68M299.9 103.0h0.68M315.5 89.0h0.68M310.8 125.6h0.68M317.3 72.1h0.68M318.9 102.9h0.68M313.9 71.7h0.68M305.2 93.8h0.68M329.4 104.8h0.68M321.7 70.1h0.68M308.7 69.3h0.68M320.0 57.0h0.68M327.4 82.6h0.68M315.4 112.1h0.68M318.3 84.0h0.68M318.5 98.9h0.68M315.3 109.6h0.68M323.1 77.7h0.68M332.0 116.2h0.68M309.0 118.8h0.68M299.5 106.6h0.68M305.9 124.3h0.68M322.7 82.8h0.68M308.0 65.8h0.68M302.5 113.9h0.68M304.9 56.4h0.68M301.3 117.2h0.68M310.3 119.5h0.68M307.8 118.6h0.68M301.6 84.2h0.68M309.0 68.0h0.68M321.7 99.5h0.68M301.6 86.6h0.68M301.7 107.3h0.68M307.2 122.9h0.68M300.0 103.2h0.68M322.8 102.2h0.68M318.6 103.4h0.68M300.6 86.2h0.68M300.3 111.9h0.68M325.6 122.6h0.68M301.6 107.1h0.68M298.2 120.8h0.68M299.4 94.9h0.68M312.0 107.6h0.68M309.9 103.4h0.68M302.7 102.4h0.68M309.8 85.0h0.68M315.6 108.4h0.68M305.3 64.6h0.68M321.9 96.8h0.68M323.8 113.9h0.68M314.7 124.2h0.68M318.9 97.6h0.68M311.1 83.9h0.68M302.0 84.2h0.68M319.0 101.1h0.68M312.4 126.4h0.68M325.3 78.5h0.68M315.8 109.5h0.68M308.3 92.1h0.68M315.0 61.9h0.68M313.8 85.8h0.68M313.4 89.0h0.68M315.1 99.5h0.68M304.0 116.1h0.68M317.2 70.7h0.68M298.7 99.1h0.68M324.8 114.8h0.68M320.4 97.8h0.68M298.0 111.1h0.68M304.6 70.5h0.68M308.6 115.0h0.68M308.5 93.9h0.68M311.1 100.6h0.68M323.1 77.0h0.68M312.9 72.2h0.68M310.1 114.0h0.68M313.5 111.1h0.68M303.6 74.0h0.68M319.1 97.2h0.68M317.1 45.2h0.68M333.9 107.8h0.68M310.5 69.4h0.68M308.9 95.6h0.68M313.0 100.7h0.68M315.5 78.8h0.68M305.4 93.7h0.68M314.2 68.4h0.68M311.3 125.6h0.68M310.9 110.1h0.68M313.7 114.4h0.68M299.5 101.8h0.68M302.7 84.6h0.68M308.8 127.1h0.68M318.7 92.2h0.68M323.9 118.8h0.68M315.8 116.6h0.68M327.1 127.7h0.68M323.5 80.2h0.68M305.7 104.6h0.68M310.2 103.2h0.68M333.4 100.3h0.68M308.6 102.1h0.68M307.3 74.5h0.68M320.6 105.1h0.68M313.7 105.4h0.68M303.3 70.7h0.68M307.8 115.9h0.68M309.3 120.2h0.68M303.2 98.4h0.68M311.7 102.5h0.68M306.6 107.5h0.68M304.4 116.1h0.68M312.4 89.0h0.68M301.2 79.2h0.68M307.8 107.8h0.68M305.9 102.2h0.68M311.6 109.2h0.68M328.1 112.7h0.68M316.3 93.9h0.68M305.4 121.1h0.68M304.9 90.6h0.68M309.5 116.2h0.68M302.4 78.2h0.68M320.4 105.1h0.68M317.5 80.2h0.68M298.5 50.9h0.68M313.1 125.6h0.68M305.5 87.8h0.68M308.4 87.6h0.68M311.5 88.2h0.68M310.6 77.0h0.68M307.3 97.4h0.68M306.2 102.9h0.68M298.8 76.1h0.68M302.8 120.2h0.68M301.7 84.7h0.68M328.4 99.1h0.68M306.8 85.8h0.68M323.7 115.7h0.68M299.5 68.8h0.68M320.4 113.7h0.68M305.6 121.5h0.68M298.8 112.2h0.68M319.2 123.4h0.68M307.0 96.1h0.68M306.3 119.2h0.68M306.6 101.6h0.68M319.7 102.2h0.68M312.5 101.9h0.68M310.4 57.3h0.68M301.7 112.4h0.68M304.5 91.4h0.68M303.4 84.2h0.68M309.8 86.7h0.68M306.6 125.4h0.68M319.6 112.3h0.68M320.9 126.0h0.68M306.1 121.5h0.68M311.7 120.9h0.68M298.8 112.2h0.68M305.6 96.7h0.68M310.1 103.6h0.68M325.9 103.4h0.68M312.6 127.2h0.68M324.1 84.1h0.68M313.1 76.2h0.68M305.5 98.5h0.68M321.2 113.9h0.68M317.7 94.8h0.68M307.4 96.6h0.68M324.6 72.7h0.68M309.7 81.2h0.68M312.4 99.9h0.68M309.2 115.2h0.68M317.5 72.6h0.68M298.0 102.5h0.68M299.7 118.7h0.68M302.6 97.4h0.68M306.5 114.2h0.68M298.3 74.6h0.68M305.7 113.4h0.68M312.7 106.8h0.68M310.1 92.7h0.68M303.6 107.0h0.68M304.4 76.2h0.68M318.5 98.5h0.68M312.5 74.2h0.68M308.0 101.9h0.68M306.7 126.3h0.68M314.5 107.4h0.68M312.4 95.0h0.68M303.8 98.5h0.68M301.0 100.9h0.68M305.5 107.3h0.68M310.0 91.3h0.68M309.7 66.5h0.68M320.5 92.1h0.68M310.0 65.5h0.68M315.4 77.0h0.68M322.7 82.1h0.68M303.6 118.7h0.68M321.9 62.0h0.68M314.3 71.8h0.68M306.3 119.5h0.68M303.7 108.1h0.68M312.4 117.0h0.68M307.2 103.1h0.68M305.0 112.9h0.68M317.9 82.8h0.68M299.6 105.5h0.68M328.5 109.4h0.68M311.4 103.5h0.68M324.0 59.2h0.68M326.6 78.6h0.68M323.9 101.5h0.68M315.6 92.6h0.68M306.1 108.9h0.68M307.4 81.0h0.68M307.7 118.4h0.68M303.2 112.2h0.68M298.0 106.5h0.68M299.7 121.0h0.68M300.7 117.8h0.68M320.2 86.6h0.68M310.7 85.9h0.68M314.6 120.8h0.68M322.1 88.7h0.68M311.3 115.9h0.68M312.0 76.0h0.68M310.8 48.1h0.68M326.8 100.5h0.68M330.8 81.8h0.68M315.0 121.6h0.68M314.7 118.8h0.68M313.8 47.7h0.68M324.8 71.1h0.68M313.8 124.6h0.68M301.3 70.0h0.68M312.7 94.8h0.68M309.3 100.0h0.68M309.1 111.2h0.68M305.4 103.7h0.68M305.1 85.5h0.68M313.4 86.4h0.68M315.1 103.8h0.68M320.0 117.2h0.68M316.2 106.8h0.68M316.4 75.2h0.68M311.1 126.2h0.68M311.6 76.6h0.68M317.3 117.5h0.68M320.7 108.2h0.68M311.2 123.0h0.68M313.9 109.3h0.68M317.1 121.6h0.68M309.2 87.3h0.68M318.4 124.9h0.68M313.7 90.9h0.68M311.2 83.7h0.68M333.2 90.0h0.68M302.4 92.7h0.68M298.1 107.8h0.68M308.2 104.7h0.68M310.5 94.2h0.68M311.2 102.9h0.68M303.7 97.5h0.68M305.0 76.2h0.68M309.9 63.8h0.68M315.0 103.7h0.68M318.9 94.8h0.68M308.8 112.7h0.68M314.0 81.8h0.68M312.8 95.9h0.68M307.8 113.9h0.68M316.1 84.8h0.68M307.9 100.1h0.68M301.5 112.5h0.68M308.3 89.0h0.68M318.7 102.6h0.68M299.6 102.4h0.68M310.5 72.1h0.68M332.7 74.1h0.68M325.3 68.4h0.68M316.5 73.7h0.68M311.2 71.7h0.68M308.1 75.3h0.68M303.9 83.3h0.68M311.0 72.7h0.68M313.5 56.9h0.68M316.1 62.8h0.68M314.0 66.4h0.68M309.7 57.7h0.68M300.3 65.4h0.68M302.5 71.7h0.68M299.5 71.5h0.68M317.2 63.9h0.68M303.5 67.0h0.68M319.3 80.8h0.68M331.8 70.5h0.68M317.8 71.3h0.68M312.0 61.3h0.68M309.0 78.6h0.68M324.7 65.0h0.68M312.5 73.4h0.68M310.6 55.5h0.68M315.0 62.1h0.68M309.6 64.8h0.68M309.8 88.8h0.68M325.9 54.3h0.68M298.1 65.8h0.68M306.1 75.9h0.68M326.4 64.0h0.68M317.4 68.1h0.68M328.0 63.2h0.68M317.9 65.7h0.68M311.3 66.1h0.68M310.9 70.1h0.68M306.6 72.0h0.68M300.4 76.2h0.68M303.5 55.0h0.68M319.7 67.0h0.68M307.3 77.0h0.68M311.9 85.2h0.68M316.0 58.4h0.68M307.6 64.4h0.68M309.5 83.1h0.68M336.9 83.4h0.68M316.3 74.1h0.68M313.7 52.2h0.68M324.8 85.5h0.68M307.4 69.5h0.68M305.7 68.1h0.68M304.3 60.8h0.68M323.2 54.3h0.68M321.5 60.7h0.68M309.8 53.8h0.68M318.1 61.8h0.68M334.9 62.4h0.68M314.4 75.0h0.68M303.3 63.2h0.68M302.4 74.2h0.68M314.9 77.8h0.68M299.1 62.4h0.68M311.1 66.2h0.68M315.0 78.7h0.68M313.4 63.4h0.68M311.8 64.0h0.68M306.2 84.5h0.68M318.3 84.3h0.68M310.2 69.2h0.68M300.7 71.7h0.68M318.8 75.3h0.68M301.6 70.6h0.68M320.6 66.0h0.68M318.6 65.8h0.68M312.1 65.2h0.68M298.7 63.1h0.68M313.7 67.5h0.68M312.1 65.2h0.68M320.2 68.4h0.68M315.8 66.0h0.68M324.1 69.0h0.68M316.1 87.3h0.68M316.1 57.4h0.68M306.1 72.3h0.68M300.2 58.1h0.68M311.1 57.2h0.68M322.1 73.2h0.68M309.3 79.4h0.68M306.0 60.4h0.68M320.4 69.9h0.68M310.1 78.0h0.68M310.9 74.9h0.68M314.2 79.0h0.68M317.2 66.0h0.68M325.9 66.9h0.68M328.0 59.7h0.68M312.7 52.0h0.68M316.9 80.4h0.68M308.6 73.5h0.68M310.2 81.2h0.68M315.3 72.6h0.68M322.2 57.7h0.68M318.5 70.8h0.68M324.0 70.0h0.68M317.7 69.3h0.68M303.2 65.8h0.68M310.6 59.2h0.68M311.8 66.0h0.68M328.8 67.8h0.68M313.4 70.5h0.68M318.6 57.0h0.68M304.6 62.7h0.68M322.9 72.1h0.68M304.9 75.7h0.68M301.9 82.7h0.68M309.4 72.4h0.68M312.2 85.0h0.68M303.5 69.0h0.68M331.7 53.6h0.68M307.8 72.0h0.68M310.3 73.3h0.68M322.8 60.8h0.68M306.3 80.2h0.68M330.0 48.6h0.68M317.2 77.7h0.68M306.1 62.9h0.68M302.0 68.2h0.68M301.8 75.4h0.68M306.0 73.9h0.68M298.0 76.8h0.68M318.4 77.3h0.68M314.7 88.0h0.68M321.1 70.2h0.68M326.9 67.0h0.68M313.7 82.8h0.68M308.1 69.8h0.68M314.6 71.3h0.68M310.2 77.8h0.68M331.9 66.7h0.68M298.9 66.1h0.68M299.7 59.7h0.68M302.9 78.2h0.68M313.7 75.4h0.68M311.3 77.9h0.68M308.6 80.1h0.68M320.3 71.5h0.68M298.9 61.1h0.68M314.7 61.5h0.68M310.8 68.5h0.68M324.8 64.4h0.68M313.5 66.1h0.68M305.4 73.3h0.68M321.1 58.5h0.68M325.9 87.5h0.68M313.7 73.9h0.68M302.8 66.6h0.68M315.1 69.1h0.68M324.8 62.8h0.68M310.1 74.0h0.68M311.6 67.9h0.68M311.3 73.0h0.68M319.1 61.5h0.68M304.1 60.9h0.68M316.3 55.1h0.68M334.6 65.5h0.68M299.5 86.1h0.68M312.3 73.7h0.68M310.6 67.8h0.68M331.0 54.2h0.68M314.7 64.0h0.68M309.2 69.3h0.68M314.2 74.2h0.68M306.9 75.7h0.68M308.1 75.9h0.68M324.6 74.7h0.68M299.2 70.4h0.68M302.9 85.2h0.68M314.1 59.7h0.68M298.5 80.3h0.68M303.2 73.1h0.68M309.3 68.7h0.68M308.3 69.9h0.68M327.0 62.9h0.68M317.0 73.6h0.68M306.2 61.2h0.68M304.2 74.4h0.68M313.8 77.9h0.68M315.7 70.7h0.68M312.5 71.6h0.68M312.8 75.1h0.68M304.5 78.3h0.68M327.1 69.1h0.68M317.5 60.5h0.68M313.3 58.5h0.68M321.4 70.2h0.68M322.1 78.7h0.68M305.7 76.2h0.68M326.4 87.3h0.68M311.4 74.1h0.68M306.6 74.8h0.68M317.8 81.3h0.68M311.0 70.3h0.68M316.9 68.5h0.68M331.2 52.4h0.68M318.7 70.0h0.68M316.2 57.9h0.68M317.8 74.1h0.68M327.2 76.3h0.68M306.7 64.0h0.68M302.1 66.0h0.68M311.4 79.7h0.68M327.4 70.4h0.68M317.8 68.5h0.68M300.6 74.0h0.68M305.7 57.2h0.68M304.7 81.5h0.68M301.8 80.5h0.68M299.9 69.3h0.68M317.0 66.7h0.68M303.5 69.9h0.68M327.6 75.0h0.68M314.2 74.3h0.68M323.2 80.3h0.68M309.9 63.0h0.68M303.4 70.3h0.68M309.6 69.9h0.68M306.7 89.4h0.68M306.0 81.0h0.68M304.5 63.7h0.68M301.7 61.3h0.68M310.2 75.3h0.68M311.3 69.8h0.68M318.5 78.8h0.68M309.7 79.6h0.68M313.0 62.7h0.68M317.1 77.5h0.68M314.5 69.6h0.68M310.1 75.1h0.68M300.6 65.8h0.68M314.2 79.5h0.68M312.2 62.6h0.68M337.2 72.4h0.68M305.6 65.1h0.68M322.0 86.5h0.68M313.3 59.4h0.68M320.3 70.6h0.68M308.6 71.4h0.68M301.8 71.4h0.68M315.6 79.2h0.68M330.7 64.9h0.68M315.8 63.7h0.68M313.5 78.9h0.68M318.3 67.5h0.68M328.8 76.8h0.68M323.6 70.5h0.68M324.6 68.7h0.68M320.4 70.2h0.68M312.3 57.7h0.68M321.4 74.4h0.68M306.6 70.4h0.68M317.9 74.9h0.68M302.9 84.7h0.68M322.9 71.0h0.68M314.3 72.1h0.68M308.6 81.7h0.68M306.2 65.7h0.68M310.2 57.4h0.68M321.9 60.6h0.68M326.3 77.3h0.68M331.0 65.2h0.68M309.6 66.3h0.68M319.7 62.9h0.68M309.4 51.7h0.68M312.8 71.5h0.68M330.7 63.3h0.68M321.3 74.3h0.68M320.5 61.2h0.68M321.3 71.2h0.68M325.8 86.8h0.68M305.9 66.7h0.68M326.6 56.8h0.68M315.4 81.8h0.68M319.2 69.6h0.68M307.1 55.4h0.68M317.2 65.1h0.68M308.8 72.4h0.68M306.6 85.6h0.68M311.3 78.8h0.68M303.2 57.4h0.68M320.6 67.1h0.68M299.9 78.3h0.68M317.1 56.3h0.68M310.2 85.7h0.68M313.4 59.1h0.68M304.6 80.9h0.68M326.4 75.3h0.68M298.3 76.5h0.68M304.7 65.8h0.68M307.7 78.4h0.68M317.2 74.5h0.68M308.2 65.8h0.68M322.5 65.0h0.68M309.8 74.3h0.68M310.7 77.7h0.68M317.7 75.0h0.68M334.1 65.5h0.68M332.0 59.6h0.68M305.0 50.0h0.68M306.1 63.5h0.68M319.0 80.0h0.68M334.2 65.6h0.68M322.4 68.4h0.68M309.0 54.3h0.68M320.6 62.4h0.68M318.5 64.5h0.68M316.9 62.2h0.68M316.2 84.4h0.68M315.9 58.8h0.68M305.0 70.9h0.68M320.0 59.9h0.68M303.8 56.8h0.68M329.0 72.2h0.68M315.5 66.3h0.68M330.5 74.5h0.68M311.4 79.7h0.68M317.9 67.6h0.68M309.0 69.9h0.68M325.4 58.4h0.68M322.4 81.6h0.68M317.8 57.7h0.68M320.1 71.2h0.68M302.9 56.9h0.68M300.2 72.7h0.68M310.9 75.0h0.68M320.6 62.4h0.68M308.9 75.8h0.68M306.3 78.1h0.68M318.0 77.1h0.68M306.8 76.2h0.68M310.4 71.6h0.68M318.3 65.3h0.68M312.0 50.5h0.68M305.9 74.9h0.68M302.2 52.7h0.68M298.9 67.4h0.68M318.7 74.2h0.68M299.0 73.1h0.68M300.9 78.7h0.68M316.1 64.7h0.68M308.0 69.2h0.68M306.9 79.3h0.68M315.2 65.2h0.68M316.6 58.6h0.68M313.9 67.1h0.68M307.0 69.3h0.68M314.5 57.9h0.68M315.8 93.9h0.68M319.8 65.0h0.68M315.7 83.3h0.68M302.3 83.3h0.68M309.1 85.2h0.68M304.7 78.3h0.68M307.1 80.0h0.68M320.7 72.6h0.68M304.6 78.3h0.68M315.9 61.0h0.68M317.6 68.4h0.68M311.3 61.8h0.68M314.3 76.8h0.68M304.6 76.4h0.68M314.8 62.0h0.68M313.8 59.1h0.68M329.7 73.0h0.68M322.5 62.2h0.68M324.7 68.5h0.68M323.1 73.1h0.68M315.4 78.4h0.68M306.9 66.4h0.68M322.5 73.5h0.68M307.4 61.0h0.68M326.0 43.4h0.68M320.8 68.6h0.68M300.5 73.1h0.68M316.7 88.4h0.68M315.1 49.3h0.68M303.8 76.0h0.68M307.9 69.3h0.68M311.6 81.5h0.68M315.4 68.5h0.68M306.5 78.0h0.68M306.0 73.2h0.68M316.2 75.9h0.68M319.5 72.1h0.68M330.3 76.2h0.68M305.5 62.4h0.68M306.0 80.6h0.68M302.4 82.6h0.68M316.2 65.0h0.68M303.3 69.0h0.68M319.2 69.2h0.68M318.9 71.2h0.68M324.6 65.8h0.68M311.2 60.6h0.68M309.5 61.7h0.68M298.7 68.0h0.68M318.5 51.5h0.68M300.9 58.4h0.68M315.7 74.4h0.68M315.3 68.3h0.68M305.4 71.3h0.68M304.6 67.9h0.68M316.0 67.7h0.68M323.1 52.0h0.68M298.1 77.9h0.68M307.3 66.0h0.68M307.4 69.3h0.68M310.9 72.7h0.68M320.7 84.9h0.68M304.4 71.5h0.68M303.3 70.3h0.68M314.8 69.5h0.68M314.4 75.1h0.68M302.9 69.4h0.68M321.7 77.4h0.68M321.1 63.0h0.68M306.4 77.8h0.68M312.4 72.2h0.68M309.2 77.2h0.68M313.9 61.7h0.68M315.7 66.9h0.68M310.0 74.4h0.68M313.7 65.1h0.68M301.9 66.1h0.68M311.1 60.1h0.68M306.8 88.7h0.68M306.6 70.3h0.68M301.3 67.2h0.68M314.6 71.1h0.68M303.6 78.7h0.68M311.4 82.7h0.68M315.6 60.3h0.68M320.8 65.8h0.68M311.4 70.6h0.68M300.8 79.3h0.68M313.7 61.4h0.68M300.1 73.5h0.68M323.2 73.1h0.68M315.1 66.4h0.68M322.1 74.2h0.68M305.2 64.8h0.68M339.0 68.8h0.68M316.2 76.0h0.68M310.4 87.2h0.68M303.3 63.0h0.68M326.8 77.2h0.68M319.1 68.9h0.68M311.9 71.0h0.68M316.1 64.9h0.68M321.6 84.0h0.68M307.6 62.1h0.68M313.4 89.8h0.68M303.8 80.7h0.68M306.3 63.7h0.68M322.0 68.4h0.68M311.9 75.5h0.68M322.4 71.7h0.68M326.2 64.3h0.68M307.7 75.4h0.68M318.1 55.8h0.68M309.5 75.4h0.68M310.9 84.4h0.68M298.2 71.5h0.68M304.8 56.9h0.68M310.2 69.3h0.68M308.6 64.7h0.68M320.0 61.4h0.68M306.8 58.5h0.68M322.7 58.0h0.68M327.7 62.4h0.68M311.9 83.0h0.68M302.8 80.5h0.68M300.7 66.1h0.68M317.3 72.6h0.68M315.3 72.4h0.68M326.4 56.8h0.68M306.2 76.9h0.68M299.2 64.3h0.68M334.2 80.8h0.68M316.9 70.5h0.68M310.8 62.8h0.68M304.5 61.9h0.68M300.9 71.0h0.68M316.1 62.3h0.68M313.5 59.2h0.68M315.7 67.3h0.68M311.7 71.5h0.68M324.0 71.6h0.68M306.5 71.2h0.68M315.9 74.2h0.68M321.7 63.3h0.68M301.6 75.0h0.68M302.2 73.6h0.68M336.7 80.0h0.68M299.2 63.3h0.68M315.8 67.6h0.68M318.6 71.9h0.68M315.3 74.4h0.68M298.3 79.2h0.68M299.6 62.8h0.68M315.9 66.9h0.68M301.6 52.3h0.68M317.3 60.6h0.68M309.0 71.9h0.68M311.7 73.3h0.68M327.2 75.7h0.68M303.2 69.6h0.68M310.3 63.0h0.68M318.2 66.8h0.68M314.4 75.2h0.68M331.2 65.0h0.68M318.8 87.4h0.68M326.7 72.4h0.68M305.7 71.3h0.68M306.7 66.6h0.68M317.0 66.7h0.68M312.6 70.9h0.68M310.0 72.3h0.68M310.7 73.6h0.68M305.0 70.5h0.68M327.5 63.4h0.68M305.1 77.6h0.68M315.2 71.2h0.68M314.0 66.7h0.68M307.6 74.1h0.68M313.9 75.2h0.68M316.4 88.1h0.68M313.1 81.4h0.68M313.7 88.3h0.68M321.2 63.9h0.68M326.7 65.5h0.68M321.5 63.9h0.68M315.6 71.3h0.68M325.3 52.6h0.68M319.2 65.9h0.68M313.2 55.9h0.68M308.9 64.7h0.68M320.4 72.1h0.68M310.9 79.5h0.68M306.5 76.2h0.68M310.3 73.8h0.68M309.7 81.5h0.68M308.4 86.4h0.68M319.6 63.4h0.68M308.4 81.0h0.68M325.7 60.3h0.68M313.9 75.2h0.68M355.9 89.4h0.68M333.8 92.6h0.68M336.2 70.9h0.68M335.1 78.6h0.68M333.6 82.4h0.68M338.6 71.9h0.68M341.3 62.2h0.68M341.2 87.3h0.68M339.1 63.3h0.68M331.2 83.9h0.68M339.5 90.5h0.68M322.3 81.7h0.68M344.8 67.3h0.68M325.0 75.8h0.68M333.2 78.3h0.68M346.3 84.9h0.68M319.1 91.0h0.68M336.3 91.8h0.68M335.2 98.3h0.68M336.7 75.6h0.68M325.2 92.7h0.68M334.3 60.3h0.68M342.8 97.3h0.68M317.5 88.4h0.68M341.1 102.4h0.68M346.0 72.5h0.68M339.4 90.5h0.68M322.8 99.0h0.68M339.8 91.8h0.68M327.9 91.6h0.68M335.1 77.8h0.68M335.8 85.7h0.68M322.4 81.6h0.68M338.6 62.0h0.68M350.1 112.7h0.68M341.3 81.6h0.68M326.5 68.2h0.68M324.9 92.3h0.68M328.0 83.9h0.68M331.7 92.5h0.68M346.5 92.8h0.68M341.2 94.6h0.68M350.2 71.1h0.68M337.8 73.8h0.68M335.9 79.0h0.68M336.5 90.3h0.68M324.3 50.2h0.68M337.8 94.5h0.68M332.1 99.5h0.68M354.9 82.5h0.68M333.7 87.9h0.68M342.1 63.6h0.68M339.8 56.9h0.68M326.3 84.4h0.68M338.2 67.3h0.68M335.9 97.3h0.68M321.3 88.5h0.68M346.4 65.4h0.68M345.8 87.2h0.68M332.8 82.0h0.68M335.1 82.2h0.68M333.7 72.8h0.68M343.3 102.4h0.68M333.8 98.9h0.68M328.8 66.2h0.68M341.0 84.7h0.68M339.4 70.1h0.68M332.1 94.1h0.68M349.2 84.9h0.68M338.8 49.8h0.68M329.9 97.6h0.68M351.9 71.8h0.68M313.6 87.9h0.68M324.2 76.7h0.68M330.3 77.3h0.68M327.1 89.7h0.68M338.0 65.8h0.68M321.8 107.1h0.68M340.3 84.3h0.68M320.8 108.0h0.68M326.5 83.3h0.68M338.3 73.0h0.68M336.5 76.3h0.68M317.7 65.0h0.68M330.1 75.4h0.68M339.2 101.9h0.68M333.3 108.3h0.68M331.7 83.2h0.68M333.5 61.3h0.68M334.8 79.3h0.68M328.2 90.9h0.68M338.8 78.1h0.68M327.8 85.5h0.68M328.4 71.5h0.68M331.1 93.3h0.68M332.9 79.9h0.68M332.5 89.1h0.68M334.0 91.9h0.68M334.0 92.1h0.68M332.8 72.8h0.68M338.9 79.4h0.68M331.4 99.4h0.68M331.0 72.4h0.68M332.4 99.4h0.68M323.8 96.0h0.68M339.7 77.0h0.68M332.4 73.0h0.68M317.9 70.6h0.68M323.2 62.4h0.68M331.5 89.1h0.68M327.2 77.9h0.68M328.6 79.4h0.68M338.6 96.7h0.68M340.3 86.4h0.68M347.0 90.7h0.68M339.3 88.8h0.68M342.2 69.4h0.68M327.5 83.0h0.68M319.9 78.6h0.68M332.3 85.8h0.68M341.1 97.9h0.68M314.8 84.6h0.68M338.0 99.5h0.68M329.8 87.0h0.68M333.8 70.5h0.68M337.2 93.7h0.68M332.0 83.1h0.68M344.4 79.7h0.68M332.3 85.6h0.68M338.8 86.9h0.68M345.6 87.4h0.68M324.8 62.2h0.68M334.2 102.4h0.68M335.4 76.7h0.68M337.4 88.4h0.68M345.7 66.4h0.68M341.6 84.3h0.68M342.0 95.2h0.68M315.9 93.2h0.68M339.3 72.4h0.68M333.9 94.8h0.68M322.1 92.7h0.68M341.8 103.3h0.68M327.8 74.4h0.68M343.6 78.5h0.68M338.5 50.2h0.68M355.5 59.3h0.68M320.9 88.1h0.68M339.2 72.1h0.68M316.0 88.6h0.68M336.9 70.8h0.68M336.1 74.9h0.68M326.2 90.5h0.68M334.9 82.4h0.68M324.3 73.3h0.68M332.6 74.6h0.68M337.9 82.4h0.68M333.0 79.9h0.68M338.4 94.3h0.68M325.7 93.6h0.68M342.6 91.6h0.68M330.2 84.5h0.68M353.0 65.7h0.68M342.1 78.8h0.68M349.1 83.6h0.68M342.2 74.3h0.68M330.6 101.6h0.68M324.0 75.6h0.68M332.7 66.7h0.68M340.3 66.9h0.68M335.3 79.0h0.68M316.0 83.8h0.68M321.6 82.3h0.68M314.9 75.4h0.68M341.9 85.3h0.68M344.5 101.8h0.68M341.2 79.6h0.68M333.9 89.6h0.68M324.2 69.2h0.68M334.8 103.3h0.68M325.3 85.0h0.68M328.8 90.7h0.68M337.9 81.5h0.68M342.7 78.8h0.68M320.6 107.7h0.68M333.9 85.7h0.68M341.6 72.0h0.68M330.9 72.7h0.68M339.8 86.8h0.68M336.6 65.9h0.68M327.8 64.2h0.68M323.2 72.8h0.68M337.4 88.0h0.68M319.5 89.7h0.68M338.0 101.4h0.68M342.2 63.5h0.68M339.1 84.8h0.68M337.7 72.9h0.68M347.2 83.1h0.68M329.9 59.7h0.68M332.7 65.0h0.68M322.2 101.9h0.68M334.3 93.9h0.68M344.4 90.9h0.68M331.2 67.5h0.68M333.5 83.4h0.68M333.6 78.2h0.68M336.1 64.2h0.68M344.0 67.4h0.68M335.9 71.1h0.68M346.5 75.0h0.68M326.9 77.3h0.68M342.4 66.7h0.68M323.7 75.3h0.68M341.4 45.6h0.68M342.8 109.7h0.68M333.4 93.3h0.68M333.8 58.9h0.68M331.2 89.4h0.68M325.3 78.2h0.68M329.2 86.7h0.68M356.2 82.8h0.68M323.7 102.4h0.68M332.4 76.7h0.68M339.2 91.3h0.68M336.8 86.1h0.68M336.4 66.9h0.68M341.6 92.6h0.68M328.1 60.1h0.68M329.7 84.1h0.68M347.1 84.6h0.68M306.8 74.1h0.68M335.4 84.8h0.68M321.8 77.4h0.68M336.1 90.4h0.68M341.9 102.3h0.68M329.0 76.5h0.68M331.0 87.9h0.68M352.2 84.1h0.68M336.3 70.4h0.68M323.8 103.8h0.68M334.2 99.4h0.68M342.0 75.7h0.68M337.1 70.6h0.68M340.4 79.9h0.68M341.7 97.3h0.68M329.8 91.8h0.68M338.7 75.3h0.68M337.3 97.2h0.68M336.3 93.9h0.68M337.9 97.5h0.68M333.8 77.7h0.68M340.4 53.4h0.68M330.5 100.8h0.68M328.5 104.8h0.68M348.9 75.6h0.68M328.4 86.7h0.68M342.8 103.5h0.68M348.2 73.0h0.68M342.5 75.5h0.68M344.3 87.6h0.68M347.5 80.7h0.68M342.2 66.0h0.68M326.6 88.1h0.68M335.9 92.7h0.68M355.0 74.0h0.68M324.7 68.6h0.68M329.6 96.2h0.68M338.3 78.0h0.68M340.9 79.7h0.68M337.3 81.5h0.68M323.2 91.9h0.68M336.6 109.5h0.68M335.9 74.3h0.68M336.6 72.7h0.68M334.7 77.1h0.68M338.0 70.2h0.68M334.1 76.6h0.68M326.5 80.8h0.68M341.1 90.8h0.68M337.8 80.2h0.68M343.4 78.2h0.68M341.0 60.1h0.68M324.6 72.6h0.68M345.0 78.4h0.68M339.1 67.9h0.68M321.9 116.7h0.68M349.5 103.6h0.68M335.2 73.3h0.68M337.4 78.6h0.68M331.0 50.7h0.68M337.1 54.0h0.68M330.6 62.5h0.68M352.6 65.6h0.68M331.6 86.3h0.68M332.3 84.7h0.68M343.3 73.6h0.68M339.7 80.0h0.68M323.6 85.2h0.68M325.7 94.5h0.68M335.2 83.7h0.68M343.9 71.2h0.68M328.2 99.5h0.68M341.5 87.0h0.68M317.7 81.8h0.68M326.8 73.9h0.68M320.8 60.9h0.68M331.3 86.3h0.68M330.7 79.3h0.68M335.9 98.4h0.68M330.0 83.1h0.68M359.5 81.1h0.68M342.4 66.6h0.68M325.8 75.9h0.68M362.4 73.6h0.68M347.7 75.2h0.68M324.1 57.9h0.68M336.6 94.7h0.68M328.2 76.4h0.68M325.4 72.3h0.68M344.3 74.6h0.68M325.9 89.1h0.68M337.6 80.9h0.68M353.6 85.2h0.68M345.6 65.9h0.68M334.6 97.3h0.68M342.0 92.9h0.68M322.0 77.9h0.68M350.3 99.8h0.68M307.6 57.6h0.68M347.5 91.4h0.68M347.2 46.2h0.68M336.1 91.4h0.68M346.3 69.2h0.68M344.8 91.4h0.68M330.6 101.3h0.68M346.8 92.6h0.68M331.1 84.9h0.68M340.0 68.8h0.68M351.3 74.6h0.68M336.5 71.7h0.68M346.1 54.6h0.68M336.5 66.0h0.68M344.6 48.6h0.68M344.6 43.9h0.68M351.3 70.5h0.68M347.9 75.6h0.68M338.8 57.9h0.68M351.5 72.4h0.68M346.3 44.9h0.68M344.0 60.3h0.68M344.7 51.1h0.68M339.5 51.6h0.68M339.9 74.5h0.68M338.7 48.3h0.68M351.9 45.6h0.68M336.4 54.7h0.68M345.0 63.9h0.68M350.0 72.9h0.68M336.1 68.9h0.68M339.5 62.3h0.68M349.3 45.3h0.68M344.7 73.4h0.68M342.6 63.3h0.68M348.4 53.7h0.68M337.7 65.2h0.68M336.3 73.3h0.68M343.7 60.3h0.68M338.2 59.7h0.68M343.1 63.7h0.68M337.4 51.1h0.68M344.7 67.9h0.68M346.7 42.0h0.68M351.2 54.8h0.68M346.3 75.3h0.68M349.5 53.6h0.68M340.1 58.7h0.68M344.1 45.8h0.68M345.8 70.3h0.68M338.8 62.5h0.68M344.7 48.5h0.68M349.9 45.9h0.68M348.6 43.7h0.68M350.4 50.5h0.68M347.3 64.2h0.68M346.9 67.9h0.68M340.3 56.4h0.68M345.6 65.8h0.68M342.6 53.4h0.68M346.1 44.3h0.68M344.7 55.0h0.68M347.0 52.5h0.68M336.8 65.3h0.68M341.1 43.6h0.68M336.6 74.1h0.68M344.1 45.9h0.68M336.9 60.5h0.68M343.0 42.7h0.68M344.7 58.7h0.68M345.4 44.9h0.68M336.0 62.7h0.68M335.9 58.8h0.68M342.2 71.2h0.68M344.5 46.2h0.68M338.3 69.6h0.68M339.7 61.8h0.68M341.6 51.7h0.68M341.9 62.6h0.68M341.8 52.7h0.68M341.8 70.6h0.68M351.8 67.5h0.68M348.3 54.3h0.68M347.8 64.4h0.68M352.0 49.5h0.68M335.9 58.9h0.68M347.4 52.1h0.68M351.8 48.0h0.68M346.4 70.7h0.68M352.0 54.5h0.68M347.8 46.1h0.68M344.1 45.8h0.68M348.6 59.6h0.68M336.8 74.9h0.68M343.9 70.7h0.68M350.9 61.5h0.68M343.1 64.7h0.68M344.0 47.4h0.68M335.9 67.6h0.68M350.8 65.9h0.68M344.6 70.2h0.68M341.3 50.8h0.68M348.7 71.8h0.68M345.0 59.4h0.68M345.9 54.6h0.68M342.8 43.5h0.68M345.5 69.0h0.68M341.6 65.5h0.68M347.8 64.9h0.68M338.7 56.6h0.68M345.7 71.7h0.68M336.2 44.7h0.68M339.0 68.6h0.68M338.5 59.7h0.68M340.8 65.2h0.68M342.9 50.6h0.68M344.6 72.1h0.68M350.0 59.7h0.68M347.6 73.1h0.68M347.5 62.5h0.68M348.5 45.0h0.68M345.2 50.2h0.68M344.0 44.1h0.68M340.6 59.0h0.68M349.2 75.1h0.68M351.8 62.7h0.68M349.1 54.6h0.68M337.9 51.8h0.68M346.9 60.6h0.68M337.7 48.6h0.68M347.1 73.7h0.68M343.2 59.1h0.68M350.5 66.8h0.68M346.9 59.9h0.68M349.2 52.4h0.68M336.8 69.2h0.68M347.0 44.6h0.68M351.2 57.2h0.68M343.4 43.8h0.68M338.3 69.1h0.68M347.4 60.9h0.68M344.5 53.5h0.68M348.8 75.0h0.68M337.3 50.3h0.68M348.5 65.0h0.68M348.7 45.8h0.68M342.6 57.4h0.68M336.3 60.8h0.68M338.6 58.4h0.68M348.4 44.3h0.68M351.2 67.0h0.68M341.8 44.4h0.68M371.8 66.6h0.68M374.0 70.4h0.68M360.1 63.3h0.68M376.3 62.0h0.68M374.6 68.7h0.68M361.6 62.3h0.68M377.6 57.8h0.68M379.1 51.4h0.68M372.6 72.7h0.68M372.2 70.2h0.68M358.2 50.7h0.68M356.4 51.4h0.68M377.5 48.1h0.68M369.3 76.6h0.68M375.9 53.7h0.68M355.2 47.0h0.68M375.6 72.3h0.68M362.0 71.8h0.68M374.7 64.6h0.68M357.8 55.3h0.68M371.2 69.7h0.68M363.6 59.0h0.68M363.1 60.7h0.68M362.1 54.8h0.68M377.6 65.4h0.68M375.1 58.4h0.68M362.7 64.3h0.68M364.6 67.9h0.68M361.0 48.1h0.68M378.2 60.2h0.68M358.9 59.7h0.68M361.4 64.0h0.68M369.0 73.2h0.68M361.3 62.4h0.68M376.5 59.8h0.68M376.0 52.3h0.68M378.7 52.4h0.68M354.7 50.4h0.68M360.3 65.2h0.68M378.8 60.9h0.68M377.5 51.0h0.68M379.2 50.1h0.68M367.3 73.7h0.68M377.5 58.9h0.68M362.7 65.1h0.68M364.3 74.2h0.68M358.6 55.0h0.68M372.2 71.1h0.68M374.7 50.8h0.68M365.3 76.1h0.68M359.9 66.5h0.68M361.4 62.3h0.68M361.1 62.0h0.68M373.6 72.6h0.68M377.3 64.6h0.68M377.8 55.4h0.68M375.1 64.2h0.68M358.9 54.5h0.68M367.3 72.0h0.68M354.1 54.0h0.68M357.1 52.1h0.68M374.9 69.1h0.68M360.2 64.4h0.68M376.7 54.7h0.68M377.2 56.7h0.68M357.5 52.3h0.68M363.1 54.6h0.68M357.8 56.9h0.68M374.1 68.7h0.68M368.1 75.6h0.68M380.9 49.1h0.68M357.9 48.7h0.68M356.1 52.3h0.68M357.5 53.6h0.68M354.3 53.9h0.68M359.9 56.4h0.68M373.8 73.9h0.68M363.3 70.8h0.68M361.3 53.4h0.68M361.0 59.4h0.68M361.3 61.7h0.68M357.8 55.7h0.68M379.8 57.7h0.68M370.7 70.3h0.68M378.3 63.9h0.68M361.5 64.2h0.68M377.4 64.7h0.68M376.4 69.5h0.68M360.7 65.5h0.68M375.0 62.5h0.68M378.3 57.0h0.68M358.2 57.3h0.68M357.0 49.9h0.68M362.5 66.2h0.68M357.5 57.8h0.68M363.7 68.0h0.68M357.5 56.4h0.68M355.5 47.5h0.68M381.1 48.5h0.68M364.7 67.8h0.68M365.9 75.5h0.68M360.7 58.2h0.68M367.5 72.4h0.68M379.9 49.4h0.68M376.1 63.6h0.68M374.0 48.4h0.68M357.2 59.9h0.68M377.1 57.9h0.68M357.7 56.1h0.68M378.3 49.9h0.68M358.5 57.0h0.68M376.1 68.5h0.68M359.7 65.6h0.68M365.4 75.9h0.68M374.1 58.0h0.68M376.8 54.0h0.68M359.8 58.3h0.68M358.1 54.7h0.68M355.9 53.2h0.68M381.3 52.6h0.68M373.1 65.7h0.68M372.5 69.9h0.68M375.8 67.0h0.68M362.3 68.5h0.68M373.4 66.6h0.68M374.2 69.5h0.68M375.3 65.5h0.68M361.3 67.0h0.68M362.1 72.8h0.68M359.5 64.1h0.68M381.7 61.2h0.68M364.1 73.6h0.68M357.6 47.4h0.68M361.7 60.9h0.68M379.1 47.6h0.68M364.2 72.5h0.68M378.0 66.0h0.68M374.5 58.2h0.68M358.3 48.2h0.68M377.3 70.1h0.68M362.5 64.1h0.68M359.9 53.2h0.68M358.3 50.9h0.68M362.0 73.7h0.68M373.2 69.9h0.68M357.4 63.4h0.68M372.6 76.0h0.68M372.9 55.3h0.68M368.0 69.0h0.68M363.9 66.6h0.68M377.6 66.3h0.68M363.1 67.7h0.68M362.6 76.3h0.68M366.9 72.3h0.68M351.6 49.8h0.68M364.6 75.4h0.68M379.5 45.7h0.68M361.8 66.1h0.68M382.1 48.9h0.68M374.5 67.6h0.68M378.7 47.7h0.68M377.8 46.4h0.68M360.4 66.7h0.68M379.3 53.6h0.68M356.4 50.4h0.68M361.1 67.5h0.68M363.4 66.5h0.68M381.2 46.2h0.68M377.9 59.6h0.68M367.6 73.0h0.68M365.0 71.4h0.68M373.5 69.8h0.68M361.3 65.8h0.68M377.5 55.5h0.68M360.7 73.0h0.68M359.6 50.5h0.68M373.6 74.5h0.68M355.2 54.3h0.68M375.3 71.6h0.68M355.3 57.9h0.68M373.0 69.9h0.68M365.6 73.4h0.68M361.7 54.8h0.68M377.6 48.8h0.68M376.0 72.5h0.68M358.6 47.4h0.68M378.5 61.3h0.68M377.0 47.3h0.68M377.4 68.3h0.68M359.9 50.5h0.68M371.5 60.8h0.68M377.8 49.7h0.68M375.8 52.9h0.68M365.5 75.8h0.68M359.7 61.4h0.68M358.8 50.7h0.68M374.5 71.4h0.68M357.4 56.5h0.68M361.9 64.3h0.68M378.2 61.3h0.68M359.9 60.3h0.68M373.0 75.5h0.68M380.7 49.5h0.68M380.3 46.7h0.68M371.6 67.9h0.68M379.6 48.1h0.68M370.8 74.3h0.68M357.9 50.0h0.68M376.0 56.0h0.68M381.8 50.8h0.68M376.1 51.9h0.68M357.5 58.7h0.68M358.8 47.2h0.68M376.1 67.1h0.68M362.8 56.8h0.68M381.2 48.0h0.68M375.4 71.8h0.68M354.4 52.6h0.68M363.0 69.6h0.68M376.2 50.6h0.68M361.5 72.3h0.68M379.2 47.9h0.68M371.8 55.0h0.68M359.7 65.4h0.68M358.3 60.0h0.68M375.6 64.8h0.68M360.6 60.4h0.68M357.6 50.2h0.68M361.9 67.5h0.68M370.5 69.9h0.68M380.4 48.3h0.68M358.5 58.2h0.68M372.7 74.7h0.68M374.7 50.9h0.68M362.0 64.8h0.68M377.9 56.9h0.68M357.3 51.1h0.68M357.2 67.1h0.68M368.3 75.7h0.68M361.7 69.0h0.68M377.1 62.6h0.68M362.1 67.8h0.68M374.2 70.8h0.68M365.5 72.8h0.68M381.5 49.4h0.68M378.0 61.3h0.68M352.4 49.2h0.68M371.0 65.1h0.68M353.5 54.8h0.68M366.2 71.4h0.68M358.1 50.7h0.68M358.7 47.7h0.68M380.5 63.3h0.68M373.8 73.1h0.68M358.4 53.5h0.68M373.1 73.5h0.68M356.7 50.9h0.68M357.5 48.4h0.68M365.1 71.3h0.68M380.8 53.9h0.68M357.9 58.4h0.68M359.7 58.1h0.68M381.2 49.8h0.68M364.5 69.7h0.68M362.1 61.7h0.68M374.2 65.3h0.68M376.7 59.0h0.68M373.2 70.2h0.68M376.1 56.8h0.68M360.5 67.0h0.68M375.2 70.0h0.68M356.9 46.4h0.68M359.2 56.6h0.68M359.0 56.1h0.68M357.8 49.3h0.68M380.3 53.0h0.68M366.4 75.8h0.68M377.7 52.9h0.68M374.4 72.5h0.68M357.7 57.1h0.68M384.5 50.2h0.68M364.2 65.8h0.68M378.8 47.9h0.68M364.9 73.5h0.68M364.6 69.6h0.68M380.1 48.5h0.68M360.5 68.7h0.68M378.0 56.2h0.68M373.2 67.4h0.68M375.8 66.1h0.68M361.2 62.4h0.68M373.8 67.6h0.68M378.6 52.9h0.68M376.7 58.2h0.68M360.9 59.8h0.68M371.7 75.2h0.68M358.9 64.3h0.68M373.4 66.9h0.68M375.3 52.7h0.68M372.8 68.4h0.68M378.4 59.2h0.68M355.2 46.6h0.68M376.1 56.5h0.68M378.0 49.6h0.68M379.3 51.3h0.68M363.6 55.2h0.68M370.6 74.9h0.68M358.4 61.0h0.68M360.1 59.1h0.68M372.8 67.3h0.68M357.7 65.8h0.68M366.7 74.9h0.68M377.3 62.5h0.68M370.8 76.3h0.68M356.5 57.6h0.68M358.3 48.5h0.68M369.6 74.4h0.68M371.6 67.7h0.68M378.7 55.7h0.68M375.1 60.6h0.68M361.3 65.5h0.68M362.8 71.8h0.68M361.0 60.6h0.68M369.3 72.1h0.68M376.9 72.9h0.68M376.1 58.9h0.68M359.4 50.2h0.68M378.6 56.1h0.68M356.6 61.9h0.68M361.2 65.9h0.68M377.0 56.2h0.68M375.3 56.6h0.68M360.7 65.7h0.68M363.3 63.4h0.68M354.7 51.7h0.68M379.8 49.7h0.68M356.3 54.3h0.68M359.8 68.1h0.68M363.2 70.8h0.68M355.8 48.1h0.68M361.8 65.8h0.68M378.8 54.7h0.68M359.3 61.9h0.68M363.0 70.7h0.68M375.4 72.8h0.68M371.9 69.9h0.68M371.3 73.0h0.68M380.0 54.2h0.68M381.3 52.8h0.68M372.4 67.1h0.68M361.2 58.9h0.68M357.1 61.3h0.68M357.8 54.1h0.68M359.7 51.2h0.68M357.2 48.7h0.68M382.2 51.3h0.68M363.2 63.4h0.68M372.5 67.8h0.68M379.4 48.0h0.68M360.0 61.1h0.68M379.2 64.9h0.68M358.1 47.7h0.68M360.0 52.1h0.68M360.3 61.2h0.68M376.2 73.0h0.68M357.4 53.7h0.68M379.7 46.9h0.68M366.0 71.2h0.68M360.3 46.0h0.68M363.7 59.6h0.68M359.0 56.0h0.68M359.5 68.9h0.68M371.6 72.4h0.68M378.7 47.8h0.68M366.5 72.0h0.68M380.1 49.6h0.68M374.3 65.6h0.68M363.8 65.7h0.68M378.7 49.1h0.68M381.7 50.8h0.68M379.1 57.3h0.68M360.7 52.4h0.68M360.1 64.0h0.68M358.1 65.6h0.68M379.9 47.2h0.68M373.6 69.5h0.68M358.4 58.5h0.68M362.8 61.1h0.68M381.3 47.7h0.68M355.5 46.9h0.68M371.8 73.3h0.68M364.2 74.0h0.68M369.8 74.7h0.68M361.5 66.2h0.68M373.8 66.2h0.68M364.2 74.6h0.68M374.6 73.2h0.68M380.0 51.7h0.68M359.0 46.3h0.68M358.7 48.8h0.68M361.4 48.1h0.68M364.4 61.8h0.68M357.6 49.9h0.68M372.4 73.8h0.68M378.2 61.3h0.68M357.7 62.3h0.68M382.7 60.7h0.68M374.9 62.4h0.68M377.6 51.3h0.68M364.5 73.0h0.68M378.9 59.5h0.68M362.6 70.5h0.68M356.7 53.1h0.68M374.0 53.1h0.68M365.7 74.0h0.68M358.4 60.3h0.68M361.3 59.6h0.68M358.9 61.7h0.68M380.9 48.4h0.68M376.8 59.7h0.68M352.2 52.4h0.68M375.5 69.9h0.68M377.4 55.6h0.68M358.9 48.3h0.68M373.2 64.3h0.68M361.0 65.3h0.68M372.6 70.6h0.68M374.4 64.7h0.68M371.9 73.9h0.68M354.4 52.2h0.68M375.6 62.6h0.68M374.8 56.0h0.68M366.2 75.8h0.68M357.2 57.5h0.68M374.6 67.0h0.68M364.0 75.2h0.68M353.0 49.1h0.68M376.1 62.7h0.68M362.8 69.6h0.68M376.4 62.9h0.68M360.5 61.8h0.68M374.7 66.8h0.68M371.7 73.5h0.68M356.9 57.0h0.68M374.1 73.4h0.68M376.7 48.9h0.68M359.0 58.9h0.68M357.2 47.5h0.68M357.9 53.8h0.68M358.0 63.3h0.68M378.7 55.0h0.68M363.3 69.3h0.68M356.4 52.4h0.68M361.4 61.0h0.68M380.2 49.8h0.68M378.2 50.0h0.68M364.9 65.9h0.68M360.2 68.1h0.68M376.9 61.8h0.68M375.9 61.2h0.68M376.0 47.8h0.68M359.8 53.8h0.68M362.8 67.3h0.68M362.0 61.7h0.68M365.2 72.9h0.68M357.9 53.6h0.68M363.4 72.8h0.68M363.5 69.6h0.68M378.7 53.4h0.68M361.7 59.8h0.68M361.8 69.1h0.68M378.6 63.6h0.68M378.0 61.3h0.68M376.7 60.2h0.68M378.4 58.1h0.68M377.8 59.5h0.68M366.4 74.6h0.68M356.8 58.9h0.68M375.4 68.0h0.68M378.2 66.1h0.68M382.1 47.1h0.68M359.3 58.4h0.68M378.6 46.5h0.68M380.8 46.1h0.68M373.6 71.2h0.68M356.3 48.7h0.68M372.8 70.2h0.68M380.6 57.9h0.68M375.4 61.7h0.68M373.1 67.4h0.68M373.8 68.5h0.68M375.5 67.3h0.68M359.1 60.5h0.68M376.1 59.8h0.68M360.9 62.7h0.68M376.6 59.5h0.68M353.4 55.2h0.68M359.8 45.8h0.68M359.6 58.4h0.68M376.5 60.5h0.68M378.0 53.4h0.68M352.3 47.3h0.68M362.3 69.1h0.68M360.0 58.8h0.68M377.6 53.8h0.68M355.9 51.7h0.68M378.4 54.8h0.68M368.9 73.1h0.68M379.1 49.6h0.68M374.5 70.7h0.68M356.1 47.1h0.68M358.8 56.3h0.68M379.1 54.7h0.68M373.3 62.9h0.68M367.2 75.4h0.68M357.1 52.4h0.68M364.1 71.6h0.68M378.6 54.2h0.68M376.1 58.3h0.68M364.0 74.7h0.68M358.7 54.9h0.68M376.8 60.7h0.68M373.8 70.5h0.68M360.0 50.9h0.68M374.4 65.1h0.68M378.2 54.5h0.68M378.5 52.3h0.68M378.0 60.1h0.68M375.1 62.5h0.68M379.3 51.8h0.68M362.7 64.1h0.68M358.5 51.1h0.68M377.7 69.7h0.68M376.4 53.6h0.68M380.3 53.2h0.68M362.6 67.5h0.68M356.2 56.7h0.68M361.5 47.6h0.68M378.1 50.8h0.68M379.6 51.0h0.68M363.1 71.0h0.68M375.6 58.9h0.68M359.9 67.2h0.68M372.8 70.2h0.68M362.7 72.3h0.68M359.3 50.8h0.68M373.8 67.7h0.68M375.9 54.4h0.68M378.4 46.0h0.68M358.4 56.6h0.68M358.1 54.5h0.68M375.5 61.1h0.68M379.6 69.0h0.68M377.0 61.5h0.68M374.8 71.3h0.68M379.6 50.5h0.68M353.0 58.7h0.68M375.6 65.7h0.68M356.7 47.6h0.68M375.1 51.0h0.68M354.9 51.1h0.68M377.7 65.9h0.68M357.8 55.6h0.68M358.7 57.0h0.68M378.2 59.9h0.68M360.4 64.2h0.68M357.3 52.4h0.68M379.5 60.4h0.68M358.4 50.9h0.68M377.1 62.0h0.68M364.7 65.4h0.68M376.9 54.2h0.68M381.7 49.5h0.68M358.0 49.1h0.68M375.8 66.4h0.68M367.3 67.8h0.68M373.8 65.1h0.68M363.5 75.4h0.68M375.6 52.0h0.68M362.8 59.9h0.68M382.4 53.1h0.68M376.7 56.8h0.68M363.7 76.1h0.68M377.9 49.2h0.68M362.8 70.0h0.68M362.6 66.3h0.68M374.8 73.3h0.68M379.9 58.9h0.68M363.9 74.6h0.68M360.2 48.0h0.68M360.6 62.4h0.68M380.6 53.4h0.68M374.3 54.6h0.68M363.3 68.4h0.68M362.5 72.8h0.68M357.4 63.9h0.68M377.6 70.0h0.68M378.5 59.5h0.68M360.9 60.2h0.68M368.1 74.6h0.68M379.8 51.9h0.68M356.8 48.5h0.68M374.9 55.7h0.68M377.8 62.8h0.68M360.9 55.5h0.68M364.4 76.4h0.68M363.8 70.6h0.68M362.1 67.7h0.68M363.4 73.8h0.68M357.6 57.2h0.68M372.4 75.9h0.68M359.2 64.7h0.68M371.0 74.7h0.68M374.3 61.7h0.68M375.6 55.3h0.68M362.4 62.1h0.68M373.5 56.9h0.68M360.1 48.8h0.68M372.2 69.5h0.68M357.6 51.9h0.68M355.7 49.4h0.68M378.4 58.5h0.68M359.8 49.9h0.68M375.9 63.3h0.68M373.1 64.1h0.68M356.6 47.4h0.68M364.5 68.1h0.68M365.6 67.1h0.68M363.0 70.4h0.68M374.2 68.0h0.68M360.5 62.3h0.68M357.0 55.0h0.68M358.5 57.8h0.68M358.1 56.4h0.68M363.3 66.5h0.68M357.4 48.8h0.68M361.4 59.3h0.68M362.4 75.2h0.68M378.8 56.3h0.68M360.4 60.6h0.68M356.0 52.0h0.68M364.5 65.3h0.68M361.3 62.1h0.68M360.2 54.9h0.68M366.6 66.2h0.68M376.5 64.0h0.68M363.0 62.6h0.68M377.6 50.3h0.68M373.7 65.8h0.68M377.5 61.6h0.68M359.0 51.6h0.68M358.3 53.6h0.68M371.5 70.0h0.68M360.5 55.4h0.68M378.1 54.4h0.68M361.4 57.7h0.68M375.7 61.9h0.68M377.8 59.2h0.68M357.3 51.4h0.68M353.5 53.5h0.68M366.2 70.0h0.68M358.5 55.2h0.68M363.9 72.8h0.68M360.1 57.9h0.68M379.8 54.5h0.68M378.9 49.8h0.68M359.1 59.2h0.68M377.3 60.9h0.68M361.4 69.3h0.68M381.0 51.0h0.68M379.2 50.7h0.68M375.4 50.3h0.68M374.7 70.0h0.68M381.6 53.8h0.68M362.4 65.3h0.68M379.2 56.5h0.68M377.7 45.2h0.68M364.8 49.8h0.68M364.7 47.5h0.68M362.1 46.2h0.68M373.6 44.9h0.68M372.9 46.9h0.68M367.9 42.7h0.68M378.5 47.1h0.68M368.1 46.0h0.68M353.2 45.2h0.68M356.4 43.4h0.68M366.4 44.9h0.68M372.6 44.6h0.68M373.0 47.2h0.68M382.3 46.5h0.68M382.1 46.5h0.68M369.2 46.6h0.68M363.3 44.3h0.68M362.0 45.8h0.68M362.4 47.2h0.68M375.3 45.0h0.68M374.0 44.6h0.68M365.8 46.8h0.68M357.4 45.9h0.68M374.4 46.3h0.68M365.1 45.0h0.68M376.6 45.7h0.68M367.9 45.1h0.68M371.1 44.8h0.68M372.9 47.4h0.68M370.6 47.7h0.68M373.7 45.2h0.68M371.0 48.6h0.68M362.3 47.8h0.68M369.6 44.9h0.68M368.4 46.9h0.68M366.3 45.6h0.68M370.1 45.8h0.68M375.0 43.8h0.68M368.3 41.6h0.68M360.0 47.8h0.68M367.6 46.1h0.68M357.8 45.4h0.68M365.8 47.3h0.68M369.3 46.3h0.68M368.9 46.6h0.68M373.7 46.3h0.68M356.8 45.9h0.68M377.6 49.0h0.68M372.1 44.6h0.68M375.0 47.3h0.68M371.4 46.2h0.68M362.8 45.2h0.68M376.2 45.0h0.68M362.6 43.2h0.68M360.7 46.1h0.68M365.8 45.5h0.68M369.2 46.8h0.68M369.3 43.9h0.68M373.7 49.1h0.68M370.6 47.0h0.68M361.9 48.5h0.68M349.9 42.8h0.68M366.9 43.3h0.68M365.8 43.5h0.68M350.5 45.4h0.68M367.2 44.2h0.68M361.6 44.9h0.68M361.9 48.0h0.68M372.8 44.1h0.68M374.3 46.6h0.68M350.2 48.4h0.68M366.1 47.4h0.68M369.4 46.3h0.68M363.4 47.4h0.68M365.9 45.9h0.68M380.5 45.1h0.68M371.3 47.6h0.68M367.2 45.4h0.68M368.4 47.2h0.68M356.7 45.4h0.68M369.9 44.7h0.68M371.0 46.2h0.68M365.8 46.6h0.68M364.7 48.8h0.68M361.9 46.3h0.68M356.3 47.7h0.68M378.6 45.9h0.68M378.8 47.7h0.68M373.3 44.9h0.68M373.4 48.1h0.68M375.5 42.0h0.68M370.1 45.1h0.68M376.2 49.5h0.68M374.8 44.3h0.68M371.1 46.4h0.68M352.1 44.2h0.68M366.8 44.0h0.68M361.3 45.1h0.68M372.2 44.6h0.68M373.5 45.0h0.68M347.1 47.0h0.68M363.8 44.6h0.68M375.1 46.2h0.68M368.8 47.7h0.68M374.7 46.6h0.68M358.8 48.2h0.68M362.8 48.5h0.68M359.7 45.0h0.68M371.4 42.9h0.68M371.5 47.1h0.68M376.8 46.6h0.68M373.3 46.5h0.68M373.6 45.2h0.68M363.2 46.8h0.68M369.8 44.2h0.68M354.0 46.4h0.68M368.5 46.4h0.68M377.6 44.4h0.68M367.1 43.2h0.68M364.7 46.0h0.68M371.6 48.5h0.68M373.9 47.8h0.68M354.6 48.2h0.68M368.5 44.6h0.68M374.1 47.5h0.68M366.6 45.8h0.68M363.9 46.2h0.68M362.6 48.5h0.68M370.7 45.8h0.68M363.0 47.7h0.68M381.6 44.9h0.68M368.9 45.2h0.68M368.1 43.7h0.68M374.8 46.5h0.68M363.3 46.0h0.68M371.7 47.5h0.68M374.1 46.1h0.68M362.3 46.0h0.68M353.1 45.7h0.68M361.1 46.4h0.68M361.6 43.1h0.68M377.3 48.2h0.68M380.8 44.2h0.68M373.3 49.3h0.68M364.5 47.4h0.68M365.0 48.9h0.68M365.1 45.4h0.68M364.8 48.1h0.68M372.4 44.2h0.68M364.8 44.9h0.68M373.6 44.3h0.68M363.2 45.3h0.68M362.3 45.5h0.68M354.4 48.4h0.68M363.5 46.5h0.68M363.5 46.7h0.68M366.6 45.0h0.68M365.8 44.4h0.68M359.8 47.2h0.68M377.1 45.8h0.68M369.4 47.5h0.68M373.9 47.9h0.68M369.9 45.8h0.68M367.4 46.9h0.68M354.7 45.6h0.68M375.4 48.5h0.68M360.8 47.3h0.68M354.6 43.9h0.68M386.1 44.5h0.68M352.6 44.1h0.68M369.9 44.1h0.68M362.8 45.3h0.68M372.1 47.6h0.68M367.8 46.2h0.68M372.2 45.6h0.68M375.9 45.7h0.68M367.4 47.7h0.68M375.2 47.2h0.68M367.6 46.2h0.68M369.2 47.7h0.68M372.1 45.5h0.68M371.3 44.6h0.68M363.8 47.4h0.68M361.7 46.0h0.68M358.7 44.4h0.68M373.3 45.0h0.68M364.3 45.7h0.68M353.4 45.7h0.68M368.8 46.7h0.68M373.1 46.2h0.68M361.5 47.5h0.68M352.2 49.0h0.68M354.7 44.8h0.68M368.3 47.3h0.68M367.2 46.1h0.68M366.2 44.7h0.68M365.9 44.2h0.68M370.4 45.2h0.68M386.1 44.4h0.68M360.1 47.2h0.68M376.8 46.2h0.68M357.1 47.4h0.68M367.3 43.6h0.68M369.2 46.1h0.68M362.6 48.0h0.68M373.0 45.4h0.68M370.1 43.2h0.68M357.0 46.3h0.68M367.7 43.7h0.68M369.1 45.6h0.68M368.9 45.6h0.68M362.2 45.3h0.68M354.5 45.6h0.68M365.9 47.9h0.68M367.9 44.1h0.68M358.8 45.3h0.68M370.6 46.0h0.68M356.1 47.3h0.68M379.6 46.8h0.68M365.1 46.9h0.68M368.5 43.7h0.68M366.5 43.5h0.68M367.6 41.2h0.68M369.3 45.6h0.68M376.5 47.3h0.68M364.6 47.3h0.68M372.3 45.5h0.68M351.9 48.3h0.68M363.4 44.2h0.68M371.6 48.8h0.68M353.1 48.3h0.68M363.1 47.3h0.68M354.4 47.8h0.68M367.3 43.9h0.68M371.8 46.3h0.68M362.2 48.3h0.68M364.2 47.3h0.68M366.7 46.2h0.68M370.1 44.8h0.68M382.8 45.3h0.68M359.8 45.0h0.68M367.2 45.5h0.68M377.3 46.0h0.68M357.7 45.2h0.68M356.5 44.6h0.68M361.7 45.9h0.68M370.5 47.3h0.68M363.2 47.0h0.68M358.6 45.5h0.68M363.6 47.6h0.68M358.6 40.6h0.68M368.7 46.7h0.68M363.6 43.5h0.68M367.6 44.6h0.68M373.7 46.8h0.68M370.1 45.1h0.68M364.4 44.8h0.68M368.8 45.9h0.68M363.2 45.3h0.68M366.6 44.1h0.68M349.8 48.4h0.68M358.0 46.7h0.68M363.8 45.1h0.68M353.3 44.1h0.68M375.2 45.9h0.68M360.2 44.4h0.68M372.2 46.9h0.68M355.0 44.7h0.68M356.2 47.3h0.68M356.0 44.8h0.68M373.4 45.5h0.68M366.2 46.4h0.68M369.9 44.2h0.68M370.0 45.6h0.68M355.0 47.0h0.68M370.3 48.0h0.68M376.4 44.1h0.68M369.8 47.8h0.68M362.6 47.3h0.68M381.2 47.7h0.68M354.7 45.0h0.68M366.5 45.6h0.68M365.3 46.8h0.68M364.2 48.7h0.68M368.0 45.8h0.68M368.9 96.3h0.68M371.8 100.5h0.68M373.8 97.9h0.68M371.6 85.0h0.68M365.6 88.7h0.68M364.2 78.7h0.68M365.6 78.5h0.68M366.3 86.6h0.68M373.6 85.8h0.68M371.8 97.2h0.68M365.2 87.3h0.68M371.4 91.9h0.68M366.7 101.1h0.68M373.8 102.7h0.68M365.4 85.3h0.68M363.6 84.4h0.68M372.7 91.8h0.68M371.1 88.7h0.68M366.6 99.7h0.68M369.1 84.5h0.68M369.1 82.0h0.68M368.6 94.4h0.68M368.7 100.3h0.68M372.4 84.3h0.68M368.0 97.2h0.68M376.6 93.1h0.68M366.3 80.5h0.68M368.8 89.0h0.68M365.6 84.1h0.68M371.9 92.9h0.68M363.7 92.9h0.68M367.7 83.8h0.68M368.8 99.8h0.68M365.3 88.5h0.68M371.6 94.1h0.68M369.3 87.1h0.68M375.6 98.6h0.68M367.7 84.2h0.68M367.8 96.8h0.68M368.3 95.7h0.68M371.0 77.9h0.68M366.7 99.6h0.68M368.2 96.4h0.68M370.6 80.8h0.68M362.1 90.3h0.68M363.4 88.8h0.68M371.6 101.1h0.68M369.9 86.7h0.68M363.7 82.0h0.68M361.1 79.2h0.68M372.0 98.8h0.68M367.0 88.9h0.68M367.8 101.8h0.68M368.1 98.3h0.68M372.5 82.6h0.68M363.0 81.9h0.68M371.4 85.2h0.68M371.7 102.2h0.68M365.5 96.6h0.68M355.9 80.2h0.68M372.1 87.0h0.68M361.0 81.0h0.68M366.9 100.9h0.68M365.9 87.1h0.68M366.3 87.6h0.68M367.8 76.3h0.68M367.6 84.7h0.68M366.9 88.9h0.68M369.5 77.4h0.68M363.9 96.1h0.68M369.9 99.2h0.68M368.7 88.3h0.68M374.8 88.0h0.68M372.5 98.3h0.68M368.9 95.5h0.68M368.4 82.0h0.68M367.5 80.0h0.68M369.6 90.6h0.68M364.8 86.6h0.68M367.6 97.3h0.68M366.1 94.3h0.68M371.2 82.2h0.68M367.8 91.7h0.68M371.1 80.3h0.68M367.3 90.7h0.68M369.7 96.3h0.68M373.1 89.3h0.68M370.5 92.1h0.68M362.0 90.1h0.68M362.7 86.3h0.68M372.9 88.5h0.68M361.7 82.3h0.68M369.1 100.1h0.68M366.9 101.0h0.68M367.9 90.6h0.68M369.5 81.4h0.68M370.5 98.0h0.68M367.1 85.7h0.68M372.0 90.8h0.68M368.5 81.2h0.68M365.6 95.2h0.68M362.3 90.9h0.68M365.7 79.7h0.68M374.0 80.7h0.68M369.1 82.4h0.68M367.6 82.4h0.68M368.0 99.2h0.68M367.3 99.4h0.68M363.2 101.0h0.68M370.8 76.8h0.68M367.7 99.2h0.68M361.0 87.2h0.68M371.0 95.0h0.68M367.8 101.8h0.68M370.0 83.3h0.68M363.8 87.2h0.68M368.0 97.8h0.68M368.3 97.0h0.68M373.2 79.0h0.68M364.8 82.0h0.68M372.3 85.5h0.68M371.4 83.7h0.68M369.9 84.9h0.68M372.3 77.7h0.68M370.1 83.3h0.68M363.6 86.7h0.68M372.2 76.6h0.68M370.0 91.5h0.68M367.0 76.8h0.68M368.6 89.9h0.68M370.6 81.8h0.68M363.2 91.2h0.68M370.5 100.9h0.68M371.5 102.4h0.68M367.6 76.5h0.68M360.5 77.9h0.68M361.6 78.7h0.68M374.9 90.2h0.68M368.7 80.0h0.68M363.4 81.0h0.68M363.4 79.7h0.68M367.1 102.3h0.68M373.2 80.7h0.68M364.6 96.1h0.68M367.6 103.0h0.68M368.5 91.2h0.68M361.0 96.9h0.68M364.6 85.8h0.68M360.9 96.2h0.68M365.4 94.7h0.68M363.8 101.0h0.68M364.2 76.6h0.68M368.3 99.9h0.68M369.0 93.3h0.68M369.0 89.8h0.68M372.9 91.9h0.68M369.3 98.5h0.68M373.4 81.6h0.68M368.2 101.0h0.68M372.9 93.7h0.68M369.9 101.2h0.68M361.9 101.7h0.68M370.8 87.3h0.68M369.2 95.1h0.68M372.6 101.9h0.68M366.9 85.2h0.68M366.4 87.7h0.68M371.2 97.9h0.68M365.7 86.5h0.68M372.5 91.1h0.68M374.2 95.9h0.68M368.4 92.4h0.68M366.9 92.7h0.68M367.9 102.4h0.68M366.5 83.4h0.68M360.6 91.9h0.68M371.2 77.2h0.68M366.1 98.3h0.68M373.9 98.5h0.68M365.1 99.1h0.68M371.2 87.2h0.68M364.7 77.1h0.68M365.1 76.9h0.68M373.4 91.4h0.68M360.5 85.7h0.68M368.0 102.5h0.68M372.4 80.7h0.68M373.2 81.9h0.68M365.4 83.8h0.68M374.6 97.8h0.68M370.5 83.4h0.68M368.4 90.2h0.68M365.9 99.7h0.68M370.4 88.4h0.68M362.6 89.5h0.68M375.3 88.5h0.68M368.0 101.7h0.68M369.7 93.8h0.68M368.5 86.0h0.68M365.4 94.7h0.68M367.2 98.7h0.68M367.0 98.8h0.68M373.6 94.6h0.68M363.2 87.3h0.68M371.2 93.3h0.68M369.1 80.9h0.68M370.7 93.3h0.68M361.2 82.8h0.68M373.2 82.8h0.68M369.9 92.8h0.68M364.5 98.8h0.68M370.6 96.5h0.68M369.5 84.0h0.68M366.7 95.0h0.68M368.1 84.8h0.68M372.2 90.9h0.68M368.8 101.2h0.68M370.8 90.7h0.68M371.6 84.7h0.68M364.3 78.4h0.68M371.6 79.8h0.68M367.2 85.0h0.68M366.5 87.9h0.68M372.3 80.8h0.68M371.2 92.5h0.68M365.6 91.6h0.68M372.4 90.8h0.68M369.3 89.7h0.68M370.8 101.1h0.68M365.6 99.8h0.68M365.8 76.6h0.68M364.9 99.0h0.68M365.8 93.4h0.68M372.8 87.0h0.68M371.3 82.5h0.68M366.2 83.2h0.68M367.9 95.7h0.68M371.2 83.5h0.68M368.2 89.4h0.68M364.0 93.6h0.68M368.5 81.6h0.68M366.4 91.3h0.68M372.6 101.5h0.68M369.0 82.8h0.68M365.3 86.6h0.68M370.5 85.7h0.68M367.8 86.6h0.68M369.7 97.0h0.68M366.8 94.9h0.68M366.2 98.1h0.68M368.0 97.4h0.68M366.9 88.2h0.68M364.2 79.8h0.68M373.2 96.3h0.68M368.1 78.3h0.68M365.0 80.5h0.68M372.8 98.6h0.68M366.2 82.2h0.68M368.4 95.0h0.68M369.7 96.2h0.68M372.1 83.6h0.68M367.2 97.9h0.68M372.5 77.4h0.68M364.9 82.0h0.68M368.0 101.2h0.68M369.5 102.2h0.68M373.1 94.4h0.68M368.9 88.0h0.68M367.4 98.2h0.68M363.7 94.2h0.68M370.0 99.5h0.68M365.8 98.1h0.68M371.9 102.4h0.68M373.7 92.2h0.68M370.4 96.9h0.68M369.0 94.4h0.68M367.2 81.6h0.68M366.1 100.3h0.68M365.5 80.7h0.68M372.3 96.0h0.68M371.6 92.5h0.68M366.1 98.1h0.68M374.3 85.5h0.68M366.4 101.3h0.68M367.9 89.1h0.68M371.0 93.0h0.68M373.8 89.7h0.68M369.3 91.0h0.68M368.8 83.5h0.68M367.7 88.6h0.68M367.8 92.1h0.68M367.0 102.1h0.68M367.8 88.7h0.68M373.5 79.4h0.68M369.1 86.8h0.68M369.4 93.2h0.68M371.6 95.1h0.68M363.6 88.4h0.68M366.3 94.0h0.68M360.0 125.3h0.68M377.0 119.5h0.68M369.3 108.7h0.68M371.7 119.4h0.68M366.4 122.2h0.68M361.8 120.0h0.68M375.0 125.3h0.68M368.4 118.7h0.68M372.0 118.0h0.68M376.5 127.5h0.68M375.3 108.6h0.68M375.5 127.7h0.68M361.8 118.5h0.68M363.4 116.5h0.68M368.8 107.1h0.68M377.4 123.5h0.68M371.3 120.8h0.68M359.8 123.2h0.68M358.1 114.1h0.68M368.0 118.9h0.68M359.8 119.9h0.68M372.2 118.0h0.68M355.1 126.9h0.68M374.9 125.2h0.68M362.7 102.8h0.68M368.3 113.6h0.68M366.4 112.1h0.68M363.4 111.5h0.68M372.6 116.2h0.68M365.2 102.9h0.68M365.8 110.8h0.68M373.9 120.9h0.68M355.5 123.7h0.68M370.0 108.9h0.68M359.1 115.2h0.68M373.3 114.5h0.68M369.4 105.5h0.68M361.3 117.0h0.68M362.4 123.8h0.68M370.3 104.5h0.68M372.0 111.1h0.68M373.9 120.3h0.68M363.5 117.8h0.68M362.4 115.8h0.68M372.6 114.0h0.68M372.2 121.5h0.68M369.7 104.4h0.68M369.3 109.0h0.68M368.3 105.8h0.68M369.8 109.3h0.68M375.0 125.5h0.68M369.0 102.6h0.68M372.3 124.8h0.68M369.4 109.6h0.68M379.0 126.7h0.68M362.8 114.2h0.68M366.4 118.8h0.68M375.3 121.9h0.68M356.6 113.7h0.68M357.6 121.6h0.68M370.1 107.5h0.68M362.7 124.8h0.68M371.1 102.9h0.68M358.1 122.6h0.68M369.3 108.5h0.68M363.5 118.6h0.68M379.7 125.9h0.68M374.6 120.0h0.68M368.5 105.2h0.68M377.3 126.3h0.68M372.4 106.0h0.68M378.6 125.8h0.68M370.1 115.0h0.68M376.7 119.7h0.68M370.7 107.0h0.68M363.1 110.0h0.68M359.1 125.5h0.68M360.4 109.0h0.68M374.5 114.8h0.68M372.3 113.7h0.68M359.2 125.4h0.68M364.1 118.1h0.68M372.1 109.3h0.68M371.4 104.8h0.68M368.7 111.0h0.68M372.8 122.4h0.68M361.4 110.4h0.68M369.3 109.5h0.68M365.8 112.9h0.68M368.1 103.2h0.68M368.8 104.3h0.68M364.2 103.7h0.68M362.1 111.7h0.68M369.4 123.5h0.68M372.5 118.3h0.68M359.5 127.2h0.68M371.7 103.2h0.68M364.7 114.1h0.68M361.7 109.9h0.68M374.6 109.0h0.68M362.3 114.7h0.68M361.7 114.6h0.68M376.7 118.7h0.68M373.6 127.4h0.68M373.9 106.7h0.68M378.3 124.8h0.68M359.0 127.2h0.68M371.2 115.8h0.68M371.0 106.7h0.68M366.2 106.7h0.68M370.6 119.6h0.68M369.8 109.7h0.68M362.3 110.5h0.68M367.0 120.4h0.68M372.7 126.1h0.68M365.3 109.0h0.68M363.1 117.6h0.68M367.9 113.1h0.68M359.1 114.6h0.68M363.9 123.9h0.68M358.4 123.3h0.68M366.8 108.4h0.68M368.3 102.6h0.68M374.4 124.8h0.68M378.3 127.5h0.68M363.1 118.7h0.68M370.0 112.0h0.68M360.1 127.0h0.68M371.9 112.6h0.68M372.1 108.6h0.68M366.9 102.9h0.68M363.2 104.8h0.68M361.9 114.4h0.68M364.3 122.3h0.68M372.8 107.6h0.68M364.7 107.3h0.68M362.1 106.7h0.68M368.4 104.1h0.68M375.6 122.9h0.68M359.7 114.8h0.68M368.5 109.2h0.68M365.8 107.7h0.68M371.3 117.4h0.68M375.1 121.9h0.68M373.8 110.3h0.68M375.4 123.1h0.68M372.3 117.7h0.68M356.9 120.9h0.68M370.7 110.2h0.68M367.9 108.4h0.68M368.2 108.8h0.68M375.5 122.7h0.68M367.5 116.6h0.68M367.4 112.3h0.68M362.1 116.4h0.68M369.8 103.4h0.68M373.5 108.4h0.68M372.0 124.6h0.68M367.2 104.1h0.68M369.5 117.8h0.68M363.3 119.7h0.68M371.7 114.6h0.68M376.7 117.4h0.68M371.7 125.2h0.68M369.0 105.3h0.68M363.9 117.8h0.68M368.4 108.0h0.68M371.6 109.7h0.68M368.2 104.6h0.68M368.8 110.7h0.68M378.4 127.8h0.68M365.7 107.9h0.68M361.3 127.2h0.68M366.0 117.6h0.68M359.7 124.9h0.68M379.6 124.8h0.68M357.5 118.0h0.68M372.1 105.9h0.68M365.6 108.0h0.68M355.4 122.8h0.68M365.9 127.3h0.68M377.2 126.0h0.68M373.9 125.9h0.68M371.5 107.7h0.68M375.5 118.1h0.68M379.4 119.0h0.68M364.6 113.3h0.68M361.1 115.2h0.68M365.7 103.8h0.68M354.2 121.5h0.68M368.9 103.8h0.68M359.5 122.7h0.68M369.3 123.5h0.68M367.6 104.0h0.68M372.4 121.8h0.68M366.7 117.6h0.68M362.4 126.6h0.68M367.9 106.5h0.68M366.0 117.6h0.68M367.8 109.6h0.68M361.8 122.0h0.68M368.8 121.1h0.68M366.7 110.9h0.68M367.4 106.4h0.68M361.3 127.6h0.68M367.5 106.8h0.68M370.5 108.1h0.68M376.1 125.3h0.68M378.8 121.8h0.68M377.6 121.0h0.68M373.9 123.4h0.68M379.9 127.6h0.68M368.4 106.4h0.68M364.0 115.9h0.68M360.5 126.1h0.68M371.0 105.9h0.68M361.2 122.5h0.68M373.2 115.1h0.68M360.0 121.7h0.68M376.0 120.5h0.68M366.0 102.7h0.68M374.8 127.1h0.68M374.8 112.2h0.68M363.6 115.4h0.68M366.2 104.3h0.68M365.4 112.2h0.68M365.9 103.2h0.68M368.9 103.7h0.68M358.0 123.3h0.68M378.1 121.9h0.68M377.3 113.7h0.68M373.0 109.3h0.68M370.2 104.0h0.68M362.9 104.3h0.68M356.9 116.9h0.68M361.6 114.2h0.68M371.8 111.9h0.68M376.1 126.1h0.68M360.5 111.1h0.68M370.0 107.9h0.68M369.4 113.7h0.68M359.2 114.6h0.68M370.4 118.9h0.68M368.2 116.5h0.68M365.0 112.4h0.68M369.0 104.3h0.68M364.9 124.9h0.68M373.0 120.2h0.68M373.6 119.1h0.68M372.8 111.1h0.68M364.3 111.4h0.68M371.7 114.7h0.68M371.9 117.4h0.68M373.6 122.6h0.68M363.3 110.7h0.68M361.3 126.6h0.68M363.7 108.0h0.68M381.9 127.6h0.68M361.7 123.0h0.68M366.5 104.5h0.68M375.6 124.2h0.68M369.7 109.5h0.68M363.1 108.1h0.68M371.8 104.5h0.68M367.9 102.7h0.68M370.3 106.6h0.68M372.7 122.2h0.68M361.9 127.6h0.68M359.2 117.3h0.68M366.4 105.5h0.68M366.4 110.8h0.68M373.1 118.3h0.68M376.3 114.6h0.68M365.1 117.2h0.68M353.6 122.1h0.68M360.9 117.4h0.68M375.6 119.5h0.68M366.8 105.1h0.68M375.6 127.8h0.68M367.6 104.5h0.68M358.6 110.7h0.68M374.6 120.7h0.68M379.6 114.9h0.68M372.5 116.4h0.68M359.3 122.5h0.68M375.6 127.3h0.68M371.9 108.8h0.68M364.5 110.3h0.68M363.7 114.6h0.68M374.0 110.9h0.68M367.9 102.9h0.68M377.4 112.2h0.68M375.5 118.8h0.68M366.2 104.8h0.68M369.6 112.9h0.68M379.8 124.2h0.68M371.2 106.2h0.68M363.0 116.7h0.68M368.7 103.1h0.68M368.1 112.1h0.68M375.3 124.3h0.68M360.8 116.8h0.68M377.8 124.3h0.68M364.0 119.9h0.68M372.5 108.4h0.68M362.4 105.1h0.68M368.0 105.3h0.68M370.4 107.7h0.68M366.7 112.8h0.68M371.7 103.5h0.68M383.2 125.8h0.68M362.1 114.7h0.68M368.5 105.3h0.68M373.5 110.9h0.68M368.8 105.9h0.68M379.9 119.8h0.68M355.3 126.9h0.68M374.4 117.2h0.68M374.2 122.5h0.68M373.4 120.9h0.68M374.3 117.8h0.68M364.3 111.8h0.68M366.4 111.8h0.68M366.8 106.1h0.68M363.3 115.4h0.68M365.6 115.0h0.68M362.0 120.5h0.68M358.3 121.9h0.68M365.9 111.0h0.68M376.3 124.7h0.68M375.7 123.3h0.68M373.1 113.7h0.68M368.7 108.5h0.68M362.0 110.9h0.68M360.1 126.7h0.68M358.8 123.1h0.68M369.7 109.9h0.68M359.7 126.1h0.68M362.7 116.2h0.68M372.2 107.5h0.68M360.9 118.8h0.68M354.9 125.3h0.68M377.9 112.9h0.68M364.5 109.8h0.68M359.5 123.3h0.68M379.6 125.2h0.68M363.8 106.5h0.68M376.6 125.1h0.68M364.3 103.7h0.68M372.8 117.6h0.68M377.4 114.6h0.68M364.2 107.4h0.68M375.5 126.3h0.68M375.1 126.8h0.68M363.8 118.9h0.68M370.8 120.3h0.68M370.0 104.0h0.68M366.3 116.4h0.68M377.0 122.0h0.68M373.8 114.3h0.68M368.7 108.1h0.68M371.3 114.2h0.68M378.5 118.2h0.68M366.7 127.6h0.68M356.4 117.1h0.68M372.0 122.3h0.68M363.8 107.8h0.68M372.7 107.7h0.68M363.1 126.9h0.68M372.5 125.5h0.68M372.7 114.1h0.68M374.8 112.8h0.68M366.2 109.2h0.68M376.0 123.3h0.68M377.8 124.2h0.68M376.2 112.8h0.68M363.6 108.6h0.68M361.0 114.5h0.68M372.0 105.5h0.68M364.9 121.0h0.68M377.3 120.7h0.68M372.7 127.1h0.68M376.9 121.7h0.68M374.0 118.2h0.68M371.6 107.4h0.68M358.3 122.9h0.68M367.7 114.2h0.68M364.0 113.1h0.68M367.1 114.1h0.68M374.3 103.2h0.68M367.6 109.2h0.68M365.6 110.6h0.68M360.0 123.1h0.68M367.0 109.6h0.68M363.0 112.2h0.68M356.5 123.6h0.68M377.5 115.6h0.68M362.5 123.6h0.68M374.6 104.7h0.68M358.2 119.9h0.68M378.4 120.4h0.68M371.6 122.9h0.68M361.6 115.6h0.68M376.9 121.0h0.68M363.4 103.3h0.68M374.8 117.9h0.68M365.8 103.3h0.68M367.2 103.5h0.68M366.9 107.8h0.68M357.5 123.7h0.68M376.8 126.3h0.68M361.1 121.0h0.68M363.2 124.3h0.68M371.2 115.0h0.68M359.1 125.0h0.68M364.0 120.0h0.68M367.2 116.3h0.68M372.1 115.5h0.68M368.9 113.0h0.68M365.0 122.6h0.68M372.7 116.7h0.68M360.9 116.9h0.68M360.7 115.7h0.68M344.0 96.7h0.68M319.6 106.5h0.68M314.5 120.2h0.68M336.9 122.0h0.68M300.1 55.4h0.68M302.7 90.6h0.68M304.8 93.5h0.68M308.8 60.2h0.68M349.6 121.7h0.68M355.8 56.8h0.68M342.2 123.7h0.68M314.3 122.8h0.68M367.6 111.5h0.68M347.4 79.1h0.68M306.8 63.2h0.68M302.8 120.3h0.68M358.9 83.8h0.68M369.6 92.8h0.68M354.5 56.1h0.68M375.9 73.2h0.68M328.0 81.5h0.68M336.2 102.9h0.68M319.6 96.9h0.68M336.7 69.8h0.68M365.2 62.0h0.68M345.8 72.3h0.68M361.7 72.2h0.68M351.8 84.6h0.68M347.7 93.9h0.68M334.6 108.1h0.68M364.5 55.2h0.68M303.1 91.1h0.68M360.8 108.5h0.68M356.3 78.2h0.68M341.3 95.2h0.68M305.6 102.8h0.68M299.6 91.9h0.68M334.4 89.4h0.68M368.0 106.6h0.68M347.4 88.7h0.68M353.9 101.8h0.68M318.6 85.7h0.68M311.1 123.7h0.68M333.9 95.6h0.68M371.1 85.1h0.68M331.7 56.3h0.68M336.7 80.2h0.68M343.5 105.0h0.68M342.4 72.6h0.68M370.4 108.7h0.68M314.4 118.5h0.68M332.6 59.3h0.68M345.5 94.1h0.68M347.5 104.1h0.68M323.6 121.3h0.68M303.9 54.3h0.68M360.0 62.2h0.68M346.0 65.6h0.68M326.2 78.6h0.68M340.8 62.6h0.68M350.6 99.8h0.68M318.8 127.8h0.68M336.1 54.8h0.68M377.3 84.1h0.68M345.0 110.9h0.68M366.4 106.2h0.68M374.0 123.4h0.68M379.1 94.9h0.68M324.2 78.4h0.68M351.5 107.2h0.68M350.1 57.6h0.68M320.6 83.2h0.68M360.2 97.6h0.68M356.9 124.5h0.68M353.7 110.0h0.68M320.8 107.6h0.68M370.0 104.8h0.68M321.5 123.1h0.68M329.6 96.7h0.68M328.0 87.8h0.68M367.4 97.8h0.68M372.0 117.4h0.68M303.5 121.1h0.68M376.1 69.2h0.68M364.1 103.9h0.68M350.9 65.4h0.68M371.3 80.4h0.68M336.5 54.5h0.68M313.3 124.6h0.68M321.8 123.8h0.68M314.0 107.5h0.68M334.3 103.2h0.68M337.4 74.6h0.68M351.2 64.1h0.68M320.2 58.3h0.68M351.5 60.9h0.68M372.3 126.9h0.68M315.8 121.7h0.68M298.2 104.0h0.68M360.4 113.0h0.68M348.7 66.8h0.68M365.7 110.7h0.68M326.2 81.2h0.68M323.5 106.8h0.68M304.8 112.1h0.68M338.6 85.9h0.68M333.9 81.7h0.68M327.1 88.4h0.68M306.5 72.9h0.68M343.2 86.7h0.68M300.6 88.8h0.68M335.7 77.3h0.68M302.0 86.7h0.68M371.0 68.7h0.68M301.3 67.0h0.68M333.8 96.4h0.68M334.1 111.4h0.68M352.8 119.5h0.68M379.6 119.5h0.68M315.5 66.6h0.68M357.7 124.1h0.68M368.3 110.4h0.68M317.6 89.3h0.68M346.8 103.8h0.68M347.5 103.4h0.68M314.3 88.3h0.68M336.4 59.9h0.68M312.5 101.6h0.68M335.5 86.8h0.68M375.3 119.6h0.68M343.7 99.1h0.68M363.5 126.8h0.68M348.2 88.4h0.68M304.7 109.7h0.68M301.2 74.6h0.68M313.4 118.0h0.68M349.9 96.1h0.68M298.2 70.5h0.68M375.4 62.4h0.68M329.2 73.6h0.68M309.0 61.9h0.68M360.1 87.8h0.68M321.0 113.3h0.68M335.1 101.6h0.68M309.4 53.0h0.68M323.1 55.5h0.68M369.6 83.6h0.68M307.0 110.9h0.68M319.0 112.6h0.68M349.0 114.2h0.68M306.7 111.1h0.68M314.4 124.1h0.68M364.1 53.4h0.68M318.7 122.1h0.68M345.1 84.3h0.68" stroke="#161616" stroke-width="0.68" fill="none" opacity="0.74"/>
</g>
</g>
<rect x="297.30" y="32.30" width="103.50" height="96.20" fill="none" stroke="#7c7c7c" stroke-width="1" />
<rect x="297.30" y="78.80" width="30.10" height="49.20" fill="none" stroke="#454545" stroke-width="0.95" />
<rect x="335.90" y="41.10" width="16.30" height="34.70" fill="none" stroke="#454545" stroke-width="0.95" />
<rect x="352.20" y="41.10" width="31.70" height="34.70" fill="none" stroke="#454545" stroke-width="0.95" />
<rect x="352.20" y="76.70" width="31.70" height="25.80" fill="none" stroke="#454545" stroke-width="0.95" />
<rect x="352.20" y="102.50" width="31.70" height="25.50" fill="none" stroke="#454545" stroke-width="0.95" />
<rect x="320.2" y="51.4" width="16.2" height="6.8" fill="#fff" opacity="0.88"/>
<text x="321" y="57.3" font-size="7.3" font-weight="bold" text-anchor="start" fill="#1a1a1a" >0.67</text>
<rect x="384.59999999999997" y="52.800000000000004" width="20.1" height="6.8" fill="#fff" opacity="0.88"/>
<text x="385.4" y="58.7" font-size="7.3" font-weight="bold" text-anchor="start" fill="#1a1a1a" >33.12</text>
<rect x="386.2" y="87.8" width="16.2" height="6.8" fill="#fff" opacity="0.88"/>
<text x="387" y="93.7" font-size="7.3" font-weight="bold" text-anchor="start" fill="#1a1a1a" >1.77</text>
<rect x="384.59999999999997" y="115.1" width="16.2" height="6.8" fill="#fff" opacity="0.88"/>
<text x="385.4" y="121" font-size="7.3" font-weight="bold" text-anchor="start" fill="#1a1a1a" >7.83</text>
<rect x="328.7" y="118.39999999999999" width="20.1" height="6.8" fill="#fff" opacity="0.88"/>
<text x="329.5" y="124.3" font-size="7.3" font-weight="bold" text-anchor="start" fill="#1a1a1a" >52.79</text>
<clipPath id="cp4"><rect x="416.2" y="32.7" width="104.80000000000001" height="95.10000000000001"/></clipPath>
<g clip-path="url(#cp4)">
<ellipse cx="429.7" cy="104.3" rx="14" ry="27" fill="#606060" opacity="0.7799999999999999" filter="url(#bl2)"/>
<ellipse cx="429.7" cy="68.8" rx="11" ry="9" fill="#686868" opacity="0.58" filter="url(#bl2)"/>
<ellipse cx="423.7" cy="111.3" rx="4.5" ry="13" fill="#c8c8c8" opacity="0.6" filter="url(#bl1)"/>
<ellipse cx="454.2" cy="80.8" rx="10" ry="12" fill="#aaa" opacity="0.35" filter="url(#bl2)"/>
<path d="M475.8 50.0 Q477.3 45.0 485.8 44.5 Q495.3 45.0 496.8 51.0 Q495.3 61.0 490.3 76.6 L483.8 76.6 Q477.3 61.0 475.8 50.0 Z" fill="#5e5e5e" opacity="0.52" filter="url(#bl1)"/>
<rect x="483.8" y="75.6" width="6" height="27.200000000000003" fill="#787878" opacity="0.32" filter="url(#bl1)"/>
<path d="M484.3 102.6 L489.3 102.6 L495.8 129.7 L477.8 129.7 Z" fill="#707070" opacity="0.42" filter="url(#bl1)"/>
<path d="M486.8 113.6 L490.3 128.7 L483.3 128.7 Z" fill="#e4e4e4" opacity="0.85" filter="url(#bl0)"/>
<g filter="url(#soft)">
<path d="M438.3 97.6h0.68M425.8 80.9h0.68M428.0 106.3h0.68M428.7 88.9h0.68M421.4 82.9h0.68M435.8 105.2h0.68M422.7 88.7h0.68M418.2 126.6h0.68M434.9 82.2h0.68M423.0 110.8h0.68M438.1 92.5h0.68M443.1 108.0h0.68M433.2 104.1h0.68M441.5 113.4h0.68M429.8 94.2h0.68M434.7 121.9h0.68M423.3 111.2h0.68M423.4 67.5h0.68M422.9 71.0h0.68M422.6 118.2h0.68M417.5 114.5h0.68M434.4 81.0h0.68M436.3 102.5h0.68M429.2 86.9h0.68M420.5 85.5h0.68M438.8 77.2h0.68M419.9 85.0h0.68M433.4 100.1h0.68M447.9 116.2h0.68M436.2 97.6h0.68M428.3 85.2h0.68M434.3 107.6h0.68M435.7 99.5h0.68M427.9 76.1h0.68M417.1 96.4h0.68M442.1 104.4h0.68M443.2 98.2h0.68M432.6 117.7h0.68M433.4 90.1h0.68M431.8 127.0h0.68M444.8 87.7h0.68M430.0 124.7h0.68M433.1 97.5h0.68M421.0 70.3h0.68M418.5 121.0h0.68M435.8 87.1h0.68M434.4 86.1h0.68M444.7 107.4h0.68M433.3 91.9h0.68M424.5 69.4h0.68M440.7 122.1h0.68M437.6 77.4h0.68M430.4 114.0h0.68M422.8 91.8h0.68M427.0 95.5h0.68M428.9 125.1h0.68M436.8 102.0h0.68M431.2 125.3h0.68M430.8 96.2h0.68M429.5 95.3h0.68M434.8 102.9h0.68M419.7 83.1h0.68M433.3 104.9h0.68M428.7 95.0h0.68M443.9 91.8h0.68M437.5 99.5h0.68M428.6 62.2h0.68M451.8 54.8h0.68M433.7 109.7h0.68M428.3 113.3h0.68M448.2 116.7h0.68M430.2 78.0h0.68M440.2 96.2h0.68M432.2 82.9h0.68M423.4 96.5h0.68M429.0 98.7h0.68M442.1 75.4h0.68M433.7 120.4h0.68M432.4 78.0h0.68M423.4 116.4h0.68M421.9 78.5h0.68M419.2 121.5h0.68M430.2 102.3h0.68M427.0 117.4h0.68M418.3 87.8h0.68M435.7 113.5h0.68M422.1 75.4h0.68M434.1 92.0h0.68M417.2 127.5h0.68M423.3 92.9h0.68M431.7 107.9h0.68M427.1 99.4h0.68M416.4 103.8h0.68M427.7 124.4h0.68M436.1 103.1h0.68M435.7 119.9h0.68M423.5 110.4h0.68M434.3 103.4h0.68M437.0 102.0h0.68M425.6 81.2h0.68M420.0 87.5h0.68M430.5 94.7h0.68M439.4 94.4h0.68M418.9 80.6h0.68M424.5 85.9h0.68M419.4 111.1h0.68M431.1 90.6h0.68M422.7 97.6h0.68M435.6 104.0h0.68M438.5 118.2h0.68M434.2 97.1h0.68M446.1 108.3h0.68M421.3 112.3h0.68M438.3 76.7h0.68M428.3 89.8h0.68M430.7 63.4h0.68M422.2 116.1h0.68M430.7 101.8h0.68M431.2 119.6h0.68M424.8 126.1h0.68M428.4 98.4h0.68M444.7 80.7h0.68M424.8 120.5h0.68M430.2 95.4h0.68M416.8 88.3h0.68M436.7 120.3h0.68M444.1 86.4h0.68M444.9 105.7h0.68M432.5 122.8h0.68M438.9 57.9h0.68M444.0 110.0h0.68M430.1 95.9h0.68M418.8 108.1h0.68M440.7 70.9h0.68M430.9 86.3h0.68M433.3 79.6h0.68M423.6 93.3h0.68M436.6 104.5h0.68M419.1 93.7h0.68M429.0 102.9h0.68M443.7 125.9h0.68M421.4 88.5h0.68M439.7 124.5h0.68M429.6 99.2h0.68M429.7 83.7h0.68M426.6 115.8h0.68M429.5 57.6h0.68M426.4 104.2h0.68M438.0 70.1h0.68M418.4 94.9h0.68M434.5 123.9h0.68M437.8 87.0h0.68M432.9 108.6h0.68M427.8 85.7h0.68M428.5 116.0h0.68M432.7 114.4h0.68M428.6 122.5h0.68M425.3 99.0h0.68M430.9 109.7h0.68M445.3 94.4h0.68M440.2 91.7h0.68M435.7 107.1h0.68M429.5 108.6h0.68M421.4 112.2h0.68M434.5 110.2h0.68M422.4 105.1h0.68M426.4 103.6h0.68M428.5 122.1h0.68M417.6 103.6h0.68M425.7 117.7h0.68M426.3 88.3h0.68M419.6 90.6h0.68M436.5 105.5h0.68M417.2 97.7h0.68M439.9 121.6h0.68M433.0 125.2h0.68M442.8 119.9h0.68M438.5 96.2h0.68M425.4 88.0h0.68M437.7 94.7h0.68M422.8 78.1h0.68M428.4 125.7h0.68M440.2 118.4h0.68M422.7 125.8h0.68M420.3 83.1h0.68M434.6 119.6h0.68M426.5 100.5h0.68M434.3 92.7h0.68M427.5 101.4h0.68M432.3 92.8h0.68M425.0 107.6h0.68M430.3 73.6h0.68M445.5 79.2h0.68M431.9 90.1h0.68M430.9 126.8h0.68M417.1 81.9h0.68M436.5 122.7h0.68M417.8 106.3h0.68M429.6 121.7h0.68M424.6 116.7h0.68M439.9 75.6h0.68M418.0 103.5h0.68M435.6 115.4h0.68M434.6 94.1h0.68M437.5 119.0h0.68M441.2 114.0h0.68M417.5 90.6h0.68M431.4 107.8h0.68M423.4 108.9h0.68M436.9 112.7h0.68M417.6 107.1h0.68M419.2 63.5h0.68M425.5 105.8h0.68M431.9 82.3h0.68M421.8 107.4h0.68M417.8 100.7h0.68M447.6 96.2h0.68M421.3 113.4h0.68M440.4 88.9h0.68M434.4 62.0h0.68M428.7 92.7h0.68M426.4 112.6h0.68M420.1 114.2h0.68M431.6 103.4h0.68M429.7 122.0h0.68M434.9 105.6h0.68M425.7 92.3h0.68M441.0 79.0h0.68M428.9 101.5h0.68M435.2 87.3h0.68M437.0 93.7h0.68M429.5 114.7h0.68M423.0 112.1h0.68M416.6 87.9h0.68M431.8 119.7h0.68M427.0 89.5h0.68M444.0 125.7h0.68M436.3 103.8h0.68M440.0 105.5h0.68M431.3 90.2h0.68M426.1 65.7h0.68M421.7 58.8h0.68M429.4 97.2h0.68M440.5 109.7h0.68M448.5 76.3h0.68M437.4 107.3h0.68M434.2 100.4h0.68M424.9 121.7h0.68M443.0 90.9h0.68M435.2 112.4h0.68M436.9 89.5h0.68M429.9 96.3h0.68M418.0 95.2h0.68M416.5 107.7h0.68M422.1 94.5h0.68M425.1 115.5h0.68M430.2 119.0h0.68M423.3 97.2h0.68M431.7 123.2h0.68M423.6 86.5h0.68M433.6 112.8h0.68M423.5 82.4h0.68M441.8 74.6h0.68M421.0 101.5h0.68M439.5 82.6h0.68M432.7 102.8h0.68M445.5 124.2h0.68M437.0 98.3h0.68M432.9 72.7h0.68M420.7 96.4h0.68M435.2 123.4h0.68M443.5 94.2h0.68M423.5 85.9h0.68M429.6 100.2h0.68M425.2 101.0h0.68M449.4 81.4h0.68M438.4 77.3h0.68M430.0 74.5h0.68M434.0 87.4h0.68M424.1 103.4h0.68M429.2 101.9h0.68M431.8 84.0h0.68M429.7 104.9h0.68M441.2 103.8h0.68M430.1 108.1h0.68M441.5 99.1h0.68M427.7 116.3h0.68M427.8 91.3h0.68M420.3 103.5h0.68M418.6 111.5h0.68M432.5 95.1h0.68M423.1 78.0h0.68M429.0 113.5h0.68M436.4 122.8h0.68M438.1 91.0h0.68M427.8 124.1h0.68M437.1 97.2h0.68M445.4 117.6h0.68M446.4 89.8h0.68M436.5 112.4h0.68M436.6 103.2h0.68M448.9 99.0h0.68M420.4 81.2h0.68M424.0 112.7h0.68M429.0 115.8h0.68M445.4 96.9h0.68M449.6 104.7h0.68M445.4 102.3h0.68M429.4 78.0h0.68M431.7 84.4h0.68M418.5 111.9h0.68M430.5 97.1h0.68M430.7 111.9h0.68M421.8 102.3h0.68M440.2 87.5h0.68M420.2 61.8h0.68M420.4 70.4h0.68M428.9 56.6h0.68M429.7 98.9h0.68M418.0 96.3h0.68M427.4 120.2h0.68M427.0 90.1h0.68M433.2 110.3h0.68M428.9 82.1h0.68M427.0 115.9h0.68M429.0 104.2h0.68M425.8 97.1h0.68M419.8 71.9h0.68M424.6 93.4h0.68M443.3 107.7h0.68M439.7 83.3h0.68M426.6 65.9h0.68M426.2 94.1h0.68M427.3 118.2h0.68M436.4 80.2h0.68M439.9 121.9h0.68M424.0 100.5h0.68M435.0 101.7h0.68M449.0 65.4h0.68M431.2 126.1h0.68M426.7 105.7h0.68M425.2 62.7h0.68M419.9 74.6h0.68M444.3 95.3h0.68M426.6 92.6h0.68M428.8 108.1h0.68M430.2 94.6h0.68M428.4 97.6h0.68M442.2 70.0h0.68M432.7 86.9h0.68M429.3 79.0h0.68M435.7 97.9h0.68M451.0 105.7h0.68M428.6 90.7h0.68M429.9 95.0h0.68M417.9 107.1h0.68M433.5 68.6h0.68M431.5 93.6h0.68M441.9 103.6h0.68M422.4 54.6h0.68M435.2 116.7h0.68M437.4 95.4h0.68M429.2 121.2h0.68M428.4 65.0h0.68M428.7 54.6h0.68M418.6 103.4h0.68M432.7 84.0h0.68M437.2 109.7h0.68M441.7 53.1h0.68M424.7 96.3h0.68M450.5 114.4h0.68M446.2 107.6h0.68M451.3 102.5h0.68M422.3 119.8h0.68M418.4 108.3h0.68M435.0 84.5h0.68M426.5 113.7h0.68M443.1 110.3h0.68M432.8 110.1h0.68M426.0 108.0h0.68M436.2 109.3h0.68M420.1 89.4h0.68M422.2 92.3h0.68M445.7 122.7h0.68M432.0 99.4h0.68M450.0 94.0h0.68M432.0 101.0h0.68M428.2 113.8h0.68M425.8 74.7h0.68M432.1 89.6h0.68M425.0 77.3h0.68M440.3 68.0h0.68M429.1 93.0h0.68M420.9 124.0h0.68M418.9 69.6h0.68M444.3 83.0h0.68M439.9 127.3h0.68M434.4 64.4h0.68M428.3 106.8h0.68M417.6 95.5h0.68M439.8 83.2h0.68M437.7 97.0h0.68M430.8 98.3h0.68M431.5 110.3h0.68M422.5 106.4h0.68M443.9 76.6h0.68M435.6 106.3h0.68M429.7 61.7h0.68M427.4 73.0h0.68M443.9 89.5h0.68M436.7 100.5h0.68M422.2 45.6h0.68M424.0 97.8h0.68M427.2 82.4h0.68M418.4 112.8h0.68M426.4 108.8h0.68M423.6 116.8h0.68M430.7 119.4h0.68M420.2 106.7h0.68M425.6 85.5h0.68M438.3 120.7h0.68M424.7 84.2h0.68M436.2 110.3h0.68M426.3 81.4h0.68M422.6 93.1h0.68M432.6 76.6h0.68M439.4 83.5h0.68M429.6 89.3h0.68M440.7 111.7h0.68M441.8 97.2h0.68M429.7 104.0h0.68M431.9 117.5h0.68M432.6 117.6h0.68M439.7 102.1h0.68M437.8 104.0h0.68M427.2 104.7h0.68M434.2 103.3h0.68M433.2 82.5h0.68M442.1 114.1h0.68M428.9 89.9h0.68M428.1 78.6h0.68M429.6 105.5h0.68M437.9 103.4h0.68M427.8 111.3h0.68M440.4 124.4h0.68M434.5 114.7h0.68M427.9 96.9h0.68M440.7 93.7h0.68M437.4 53.6h0.68M435.4 112.0h0.68M424.1 113.5h0.68M431.4 108.6h0.68M420.4 106.3h0.68M431.9 84.8h0.68M438.8 123.1h0.68M427.3 125.3h0.68M432.2 120.5h0.68M430.2 110.4h0.68M441.1 88.0h0.68M442.2 77.4h0.68M423.4 92.8h0.68M420.3 99.8h0.68M425.8 80.9h0.68M431.6 68.5h0.68M433.3 98.7h0.68M426.6 64.9h0.68M428.3 120.7h0.68M424.3 121.4h0.68M424.4 121.5h0.68M442.2 69.3h0.68M428.2 116.7h0.68M426.6 109.1h0.68M430.1 112.5h0.68M436.3 77.2h0.68M428.0 102.7h0.68M433.5 126.6h0.68M436.0 87.0h0.68M440.0 116.7h0.68M436.5 93.1h0.68M419.4 120.4h0.68M434.5 55.3h0.68M429.2 102.5h0.68M426.2 55.6h0.68M430.9 80.3h0.68M435.2 88.2h0.68M453.4 97.8h0.68M433.9 106.6h0.68M416.9 82.2h0.68M443.4 78.0h0.68M426.1 94.5h0.68M429.1 99.6h0.68M419.4 106.8h0.68M433.9 127.5h0.68M436.4 80.9h0.68M423.0 111.3h0.68M419.4 85.9h0.68M429.4 100.1h0.68M418.0 72.5h0.68M422.5 122.0h0.68M426.3 117.0h0.68M426.4 80.5h0.68M436.4 113.6h0.68M432.2 103.6h0.68M424.9 126.2h0.68M432.3 103.1h0.68M425.5 86.8h0.68M420.9 90.6h0.68M421.6 94.9h0.68M425.8 112.6h0.68M431.0 64.3h0.68M441.3 120.1h0.68M428.1 97.1h0.68M425.5 84.4h0.68M429.4 115.8h0.68M422.6 104.8h0.68M433.6 103.6h0.68M431.6 33.0h0.68M440.5 84.8h0.68M426.5 104.1h0.68M421.6 108.0h0.68M442.7 118.3h0.68M432.7 118.9h0.68M420.3 101.4h0.68M430.8 91.3h0.68M428.2 98.3h0.68M425.0 101.4h0.68M417.1 110.8h0.68M418.1 82.3h0.68M441.0 112.9h0.68M426.9 73.0h0.68M432.0 103.2h0.68M426.6 82.1h0.68M417.3 87.9h0.68M433.1 104.5h0.68M417.4 104.9h0.68M441.0 121.4h0.68M434.2 106.9h0.68M421.8 104.3h0.68M440.4 44.4h0.68M444.6 124.8h0.68M416.9 93.5h0.68M420.4 93.4h0.68M441.6 101.3h0.68M434.0 113.1h0.68M426.2 119.9h0.68M439.4 113.8h0.68M425.5 89.4h0.68M429.1 125.7h0.68M423.6 77.5h0.68M418.0 89.8h0.68M435.7 87.4h0.68M420.2 74.4h0.68M419.4 115.9h0.68M438.8 106.9h0.68M417.6 81.7h0.68M442.3 74.7h0.68M429.6 108.7h0.68M418.2 84.1h0.68M432.6 92.3h0.68M442.5 123.1h0.68M438.2 109.7h0.68M434.5 82.5h0.68M422.7 112.9h0.68M432.6 103.9h0.68M420.9 87.8h0.68M424.1 88.4h0.68M448.0 126.3h0.68M434.3 117.4h0.68M423.1 101.3h0.68M440.1 72.1h0.68M416.8 94.8h0.68M419.8 86.4h0.68M423.2 120.6h0.68M425.9 64.3h0.68M431.2 126.0h0.68M422.8 98.8h0.68M432.8 87.9h0.68M430.0 108.6h0.68M425.9 123.2h0.68M420.6 102.6h0.68M431.3 62.1h0.68M434.0 101.7h0.68M420.8 120.8h0.68M426.0 105.8h0.68M430.7 106.3h0.68M436.9 102.7h0.68M426.8 104.6h0.68M422.1 119.0h0.68M423.1 68.3h0.68M434.2 121.7h0.68M425.0 93.5h0.68M422.7 98.6h0.68M417.3 107.3h0.68M422.4 91.7h0.68M429.0 98.9h0.68M427.5 105.6h0.68M432.5 108.7h0.68M420.1 97.7h0.68M429.7 123.7h0.68M449.3 117.4h0.68M442.6 102.5h0.68M420.8 88.7h0.68M419.3 115.6h0.68M427.6 92.3h0.68M438.7 100.5h0.68M422.3 68.3h0.68M433.7 106.5h0.68M431.0 119.0h0.68M437.8 49.6h0.68M431.5 117.5h0.68M432.6 109.0h0.68M440.8 57.2h0.68M425.9 105.5h0.68M442.4 95.1h0.68M416.6 106.8h0.68M421.2 109.2h0.68M432.3 117.4h0.68M438.1 89.8h0.68M425.5 116.6h0.68M418.7 78.9h0.68M434.8 108.6h0.68M424.1 121.2h0.68M429.4 88.9h0.68M431.6 89.8h0.68M437.2 88.7h0.68M430.6 84.6h0.68M422.5 95.6h0.68M425.9 79.4h0.68M419.9 125.4h0.68M432.6 111.0h0.68M432.4 111.8h0.68M432.7 80.1h0.68M421.4 116.4h0.68M432.1 84.2h0.68M430.3 116.0h0.68M423.6 120.9h0.68M430.8 76.7h0.68M418.8 82.7h0.68M419.1 112.8h0.68M425.1 80.2h0.68M428.7 96.1h0.68M432.7 62.9h0.68M428.9 110.1h0.68M423.4 118.6h0.68M421.7 79.2h0.68M429.8 66.4h0.68M438.8 108.5h0.68M440.0 86.8h0.68M436.1 104.6h0.68M425.2 77.9h0.68M429.2 98.5h0.68M452.1 68.4h0.68M426.1 96.3h0.68M419.0 98.7h0.68M429.1 119.6h0.68M434.7 103.4h0.68M422.6 124.9h0.68M417.2 91.1h0.68M439.1 102.4h0.68M421.9 54.5h0.68M423.1 105.4h0.68M445.5 116.0h0.68M431.4 121.6h0.68M430.4 119.3h0.68M425.5 85.5h0.68M431.7 104.9h0.68M426.6 97.9h0.68M423.7 121.0h0.68M422.8 115.3h0.68M437.5 91.9h0.68M428.6 77.8h0.68M434.7 105.6h0.68M437.5 90.9h0.68M421.7 112.5h0.68M436.4 44.1h0.68M424.6 101.9h0.68M446.9 67.4h0.68M431.5 115.9h0.68M418.5 105.0h0.68M441.3 118.4h0.68M428.1 45.4h0.68M427.7 104.2h0.68M426.9 121.2h0.68M436.1 100.1h0.68M435.8 71.1h0.68M423.8 75.8h0.68M416.5 111.0h0.68M435.0 117.8h0.68M426.7 93.4h0.68M439.0 123.9h0.68M445.5 107.8h0.68M450.9 85.2h0.68M435.4 80.7h0.68M435.4 98.8h0.68M440.1 94.3h0.68M426.8 68.3h0.68M438.5 80.3h0.68M428.9 122.9h0.68M432.7 127.5h0.68M424.9 100.6h0.68M445.0 82.8h0.68M432.1 105.8h0.68M436.2 122.8h0.68M436.8 81.8h0.68M434.1 82.7h0.68M437.5 100.0h0.68M434.3 85.6h0.68M431.3 83.8h0.68M431.8 126.4h0.68M445.3 115.9h0.68M427.2 116.4h0.68M445.1 98.9h0.68M418.1 88.5h0.68M422.8 82.7h0.68M439.4 116.9h0.68M422.8 117.4h0.68M438.2 97.5h0.68M422.6 110.6h0.68M430.3 96.4h0.68M442.4 75.5h0.68M433.7 89.6h0.68M417.3 103.0h0.68M430.8 78.8h0.68M425.2 85.7h0.68M429.5 77.6h0.68M424.2 97.2h0.68M424.8 64.3h0.68M430.4 127.1h0.68M439.5 112.2h0.68M428.1 109.9h0.68M444.5 78.0h0.68M425.7 112.2h0.68M421.3 57.8h0.68M421.8 125.2h0.68M427.1 93.8h0.68M429.5 71.0h0.68M439.0 82.9h0.68M419.0 93.8h0.68M431.3 114.9h0.68M443.9 81.2h0.68M437.8 100.0h0.68M430.3 103.1h0.68M430.7 49.7h0.68M428.8 103.1h0.68M430.8 117.4h0.68M428.0 107.1h0.68M425.5 73.9h0.68M428.1 50.1h0.68M436.5 91.3h0.68M426.8 97.1h0.68M433.4 92.7h0.68M438.8 97.2h0.68M429.8 119.7h0.68M443.8 117.2h0.68M426.9 81.6h0.68M432.0 83.3h0.68M428.4 91.0h0.68M419.4 113.5h0.68M447.1 107.0h0.68M434.7 91.3h0.68M443.9 78.2h0.68M433.0 97.1h0.68M428.1 77.2h0.68M436.1 64.2h0.68M431.2 108.0h0.68M440.7 94.0h0.68M434.2 119.9h0.68M436.4 114.1h0.68M433.7 112.4h0.68M419.1 97.2h0.68M424.1 77.8h0.68M443.3 109.3h0.68M423.3 82.8h0.68M427.0 98.1h0.68M422.1 85.1h0.68M423.0 126.9h0.68M432.4 102.0h0.68M420.3 85.2h0.68M429.4 59.5h0.68M425.0 100.3h0.68M416.5 91.2h0.68M418.1 116.5h0.68M423.4 111.1h0.68M437.6 92.2h0.68M426.4 84.8h0.68M433.0 105.0h0.68M437.1 93.2h0.68M444.5 108.6h0.68M426.7 103.1h0.68M440.0 68.9h0.68M435.8 85.3h0.68M428.9 75.6h0.68M420.4 97.3h0.68M425.6 126.2h0.68M427.8 112.5h0.68M437.0 115.1h0.68M433.0 116.7h0.68M419.6 108.5h0.68M449.3 125.3h0.68M432.8 123.2h0.68M428.0 120.5h0.68M419.0 76.4h0.68M422.2 94.7h0.68M420.4 75.6h0.68M417.1 102.6h0.68M435.7 111.7h0.68M427.4 110.3h0.68M436.4 106.5h0.68M417.3 102.2h0.68M436.2 106.5h0.68M433.8 106.9h0.68M419.4 98.5h0.68M427.7 86.7h0.68M425.5 112.2h0.68M416.8 108.0h0.68M422.0 104.1h0.68M435.6 87.1h0.68M437.8 48.9h0.68M434.9 85.4h0.68M418.1 96.4h0.68M431.0 115.0h0.68M428.3 115.9h0.68M423.1 92.7h0.68M436.7 70.2h0.68M445.0 84.3h0.68M438.8 36.1h0.68M427.0 107.4h0.68M437.1 60.9h0.68M421.9 125.6h0.68M433.3 68.6h0.68M427.8 115.6h0.68M437.3 103.3h0.68M427.5 81.3h0.68M418.5 127.2h0.68M434.4 117.5h0.68M430.6 107.7h0.68M438.3 102.4h0.68M433.4 68.7h0.68M450.7 121.6h0.68M425.6 117.4h0.68M439.6 104.3h0.68M454.3 91.8h0.68M438.5 72.8h0.68M421.5 81.7h0.68M428.1 110.6h0.68M435.0 105.5h0.68M443.6 90.2h0.68M435.7 124.5h0.68M426.8 102.3h0.68M452.3 101.9h0.68M418.0 98.1h0.68M425.1 97.4h0.68M439.9 113.4h0.68M423.6 124.1h0.68M417.3 96.4h0.68M425.5 81.3h0.68M431.7 118.1h0.68M447.9 116.6h0.68M423.0 120.6h0.68M442.2 89.5h0.68M433.0 114.4h0.68M425.6 64.9h0.68M434.3 71.9h0.68M420.5 95.2h0.68M420.4 91.3h0.68M423.5 106.2h0.68M439.4 99.4h0.68M418.2 86.8h0.68M432.0 100.7h0.68M437.6 84.9h0.68M440.7 102.1h0.68M428.1 104.0h0.68M428.9 100.6h0.68M421.4 123.1h0.68M417.5 84.1h0.68M420.3 106.0h0.68M425.2 86.1h0.68M439.8 75.4h0.68M429.6 110.5h0.68M437.6 114.2h0.68M438.6 103.2h0.68M434.6 89.8h0.68M424.5 74.2h0.68M448.5 92.3h0.68M429.9 89.4h0.68M419.5 93.8h0.68M447.7 122.2h0.68M429.5 94.5h0.68M431.1 113.0h0.68M433.6 86.4h0.68M435.1 95.5h0.68M429.2 104.7h0.68M427.2 84.5h0.68M418.6 106.5h0.68M421.6 102.6h0.68M433.2 105.6h0.68M423.8 118.9h0.68M441.9 73.4h0.68M422.4 120.8h0.68M427.3 92.0h0.68M435.1 117.8h0.68M432.6 91.5h0.68M423.7 98.6h0.68M420.6 110.7h0.68M431.3 117.7h0.68M418.1 108.5h0.68M416.8 113.1h0.68M434.5 84.8h0.68M437.6 122.3h0.68M439.5 94.1h0.68M440.5 90.8h0.68M447.3 101.9h0.68M438.1 81.9h0.68M444.1 73.4h0.68M426.7 118.4h0.68M421.9 79.1h0.68M427.2 94.4h0.68M439.2 96.5h0.68M426.6 86.1h0.68M424.6 114.5h0.68M442.1 123.0h0.68M416.7 111.3h0.68M423.6 91.0h0.68M442.7 80.6h0.68M428.1 116.3h0.68M418.2 83.3h0.68M428.2 99.8h0.68M423.2 102.8h0.68M418.0 98.9h0.68M437.0 83.3h0.68M429.7 93.8h0.68M428.3 123.6h0.68M417.8 98.3h0.68M434.4 99.7h0.68M423.1 79.3h0.68M425.1 101.5h0.68M432.4 94.9h0.68M426.6 104.0h0.68M439.2 79.5h0.68M421.6 99.2h0.68M422.9 116.3h0.68M432.7 87.9h0.68M442.8 98.7h0.68M420.9 93.9h0.68M432.4 105.3h0.68M435.9 124.8h0.68M437.6 101.8h0.68M431.1 104.0h0.68M424.2 115.1h0.68M425.3 59.0h0.68M419.6 88.3h0.68M419.5 87.2h0.68M421.1 76.1h0.68M438.9 97.3h0.68M422.1 93.5h0.68M417.3 117.4h0.68M439.5 78.6h0.68M425.7 118.7h0.68M431.2 73.4h0.68M425.3 71.4h0.68M429.3 78.4h0.68M423.4 61.1h0.68M428.4 63.8h0.68M444.9 59.9h0.68M438.1 92.5h0.68M440.3 75.1h0.68M429.4 68.7h0.68M418.8 69.4h0.68M424.4 73.1h0.68M421.3 60.2h0.68M421.6 78.1h0.68M433.4 68.0h0.68M425.3 59.8h0.68M435.5 73.2h0.68M446.4 68.5h0.68M441.4 64.4h0.68M428.6 68.9h0.68M430.4 76.4h0.68M444.4 61.6h0.68M418.3 78.3h0.68M421.2 70.3h0.68M424.5 80.6h0.68M425.5 58.8h0.68M442.7 69.1h0.68M448.2 67.3h0.68M425.8 78.0h0.68M420.0 55.0h0.68M435.2 51.9h0.68M433.8 71.9h0.68M431.7 65.2h0.68M420.4 61.8h0.68M430.2 57.5h0.68M434.5 61.4h0.68M436.7 53.7h0.68M428.8 67.5h0.68M433.1 71.2h0.68M427.2 70.2h0.68M434.0 68.8h0.68M442.8 65.4h0.68M439.9 65.7h0.68M420.7 65.7h0.68M435.0 69.8h0.68M428.9 59.3h0.68M429.3 75.5h0.68M426.0 63.5h0.68M421.2 71.9h0.68M419.8 78.4h0.68M426.9 82.3h0.68M446.3 70.9h0.68M432.3 60.9h0.68M440.9 66.3h0.68M427.9 59.8h0.68M420.6 65.3h0.68M418.7 67.2h0.68M433.8 72.0h0.68M434.1 57.4h0.68M432.5 57.2h0.68M427.3 65.8h0.68M435.6 56.0h0.68M421.4 65.5h0.68M434.7 72.1h0.68M428.4 64.3h0.68M422.8 53.3h0.68M438.7 72.2h0.68M447.7 82.0h0.68M421.6 82.8h0.68M429.4 75.0h0.68M434.7 74.3h0.68M435.0 60.8h0.68M432.8 84.9h0.68M417.0 66.4h0.68M419.5 71.0h0.68M427.9 84.9h0.68M435.9 53.3h0.68M426.9 64.4h0.68M420.0 59.0h0.68M441.3 78.0h0.68M426.7 69.4h0.68M440.3 64.5h0.68M448.0 63.6h0.68M441.0 66.2h0.68M432.9 79.1h0.68M423.7 67.8h0.68M422.4 77.4h0.68M427.6 66.8h0.68M432.5 64.3h0.68M418.0 66.2h0.68M426.8 60.4h0.68M434.0 70.7h0.68M431.1 65.0h0.68M430.0 66.4h0.68M424.6 71.0h0.68M422.7 63.8h0.68M437.4 67.4h0.68M418.0 73.8h0.68M424.9 73.5h0.68M426.9 77.2h0.68M424.0 74.9h0.68M435.0 48.4h0.68M438.2 69.4h0.68M445.0 65.7h0.68M432.3 74.6h0.68M430.1 72.1h0.68M434.1 79.4h0.68M434.1 81.9h0.68M431.9 70.5h0.68M438.5 71.2h0.68M426.3 73.5h0.68M423.7 76.2h0.68M446.6 75.6h0.68M434.9 57.8h0.68M418.9 61.0h0.68M424.7 63.9h0.68M444.3 66.7h0.68M436.3 65.2h0.68M434.1 66.8h0.68M428.8 84.9h0.68M456.4 57.2h0.68M449.1 75.8h0.68M428.7 82.6h0.68M416.4 71.2h0.68M423.3 57.1h0.68M434.3 64.4h0.68M435.2 83.6h0.68M437.3 64.7h0.68M445.0 76.9h0.68M431.6 59.7h0.68M432.1 45.1h0.68M427.1 73.2h0.68M423.1 73.9h0.68M433.0 73.8h0.68M416.9 55.9h0.68M427.8 71.3h0.68M441.1 61.8h0.68M432.5 64.7h0.68M431.5 58.4h0.68M424.8 55.3h0.68M426.2 75.5h0.68M419.6 61.5h0.68M433.4 58.9h0.68M448.9 72.9h0.68M432.8 65.0h0.68M434.8 57.0h0.68M419.8 61.0h0.68M429.7 56.2h0.68M430.5 66.1h0.68M436.4 69.5h0.68M432.8 57.7h0.68M425.0 73.0h0.68M442.1 64.5h0.68M431.7 77.9h0.68M442.9 74.6h0.68M426.9 61.6h0.68M425.2 61.9h0.68M429.2 64.2h0.68M429.9 68.6h0.68M436.4 57.8h0.68M429.3 62.6h0.68M427.1 63.3h0.68M423.0 75.6h0.68M426.9 74.4h0.68M438.4 63.4h0.68M447.3 67.2h0.68M432.8 66.8h0.68M427.4 83.5h0.68M441.0 76.1h0.68M427.4 73.9h0.68M433.2 72.3h0.68M422.6 67.4h0.68M434.6 71.3h0.68M437.5 69.3h0.68M441.8 65.2h0.68M420.1 67.2h0.68M451.2 83.1h0.68M433.2 56.8h0.68M438.0 70.8h0.68M430.8 77.5h0.68M427.7 66.3h0.68M430.8 74.2h0.68M424.6 72.3h0.68M428.9 58.4h0.68M444.7 82.8h0.68M420.2 81.6h0.68M436.8 77.7h0.68M424.8 64.3h0.68M430.6 79.2h0.68M432.7 57.8h0.68M416.4 82.5h0.68M438.9 55.6h0.68M431.0 66.8h0.68M441.4 67.7h0.68M422.2 75.4h0.68M432.6 67.5h0.68M427.3 78.4h0.68M430.2 65.5h0.68M429.6 69.7h0.68M418.5 57.6h0.68M440.0 72.7h0.68M435.9 72.4h0.68M426.6 82.9h0.68M425.2 83.4h0.68M429.6 64.6h0.68M426.5 73.2h0.68M425.5 83.1h0.68M437.6 67.2h0.68M418.6 74.1h0.68M432.8 70.5h0.68M431.6 67.0h0.68M431.4 68.0h0.68M427.6 81.9h0.68M425.7 58.8h0.68M437.5 80.2h0.68M451.3 63.4h0.68M426.8 74.0h0.68M434.9 68.8h0.68M444.3 64.7h0.68M436.9 58.6h0.68M438.2 81.2h0.68M423.7 80.3h0.68M446.8 70.6h0.68M432.0 66.1h0.68M418.7 80.9h0.68M448.2 69.5h0.68M424.1 69.2h0.68M425.4 59.9h0.68M429.3 65.9h0.68M432.3 67.2h0.68M421.2 70.5h0.68M429.3 63.6h0.68M448.2 64.8h0.68M430.4 71.9h0.68M427.0 59.5h0.68M427.7 62.8h0.68M429.5 69.7h0.68M441.6 52.8h0.68M423.4 67.7h0.68M427.9 70.7h0.68M416.9 53.0h0.68M444.9 68.6h0.68M419.2 68.8h0.68M435.8 68.6h0.68M429.7 63.7h0.68M422.1 76.2h0.68M433.7 73.8h0.68M427.7 77.3h0.68M423.0 68.4h0.68M421.3 74.8h0.68M423.1 72.3h0.68M443.9 63.0h0.68M423.2 69.1h0.68M443.9 73.5h0.68M446.0 76.8h0.68M443.1 57.9h0.68M432.7 74.4h0.68M423.6 59.3h0.68M424.1 83.6h0.68M426.2 62.4h0.68M420.6 74.8h0.68M436.4 70.4h0.68M437.4 61.3h0.68M432.9 75.4h0.68M435.0 62.0h0.68M419.9 74.6h0.68M419.5 60.1h0.68M439.1 77.5h0.68M427.2 53.1h0.68M442.4 70.0h0.68M419.8 65.6h0.68M434.9 63.8h0.68M441.9 74.1h0.68M428.3 68.7h0.68M424.5 77.2h0.68M427.5 73.6h0.68M435.8 61.5h0.68M459.4 65.4h0.68M431.3 69.8h0.68M446.9 64.5h0.68M426.6 63.0h0.68M443.6 69.2h0.68M425.0 72.1h0.68M424.0 61.7h0.68M434.5 71.9h0.68M423.8 60.0h0.68M429.1 56.6h0.68M428.9 74.6h0.68M422.9 69.6h0.68M421.9 65.4h0.68M435.0 63.9h0.68M443.5 69.4h0.68M439.3 75.0h0.68M437.0 64.2h0.68M435.7 72.4h0.68M430.7 68.1h0.68M418.1 71.8h0.68M428.1 82.6h0.68M427.5 63.7h0.68M439.1 57.9h0.68M449.0 65.5h0.68M428.4 66.8h0.68M439.3 59.2h0.68M431.1 72.6h0.68M424.0 71.9h0.68M416.6 59.3h0.68M421.3 78.1h0.68M417.8 66.6h0.68M428.5 71.4h0.68M432.9 73.7h0.68M431.9 62.2h0.68M437.0 59.1h0.68M428.2 65.6h0.68M422.4 71.3h0.68M443.2 54.3h0.68M437.6 64.0h0.68M432.8 63.1h0.68M424.3 73.4h0.68M429.8 66.3h0.68M416.9 74.2h0.68M419.2 79.0h0.68M441.3 66.5h0.68M430.4 72.0h0.68M429.6 75.6h0.68M437.0 78.0h0.68M421.1 71.6h0.68M419.3 64.9h0.68M433.0 74.7h0.68M424.6 63.5h0.68M427.3 68.6h0.68M446.4 73.8h0.68M439.1 62.3h0.68M420.1 63.4h0.68M430.7 86.1h0.68M420.4 71.7h0.68M429.9 69.8h0.68M439.6 78.3h0.68M436.8 64.3h0.68M419.1 75.7h0.68M421.4 59.7h0.68M419.0 71.4h0.68M433.8 73.2h0.68M447.4 74.3h0.68M432.1 79.6h0.68M455.0 78.3h0.68M416.5 66.5h0.68M418.3 69.0h0.68M420.3 79.5h0.68M423.5 64.1h0.68M435.1 61.3h0.68M424.4 68.1h0.68M435.9 84.0h0.68M416.6 68.4h0.68M431.6 78.8h0.68M437.6 58.7h0.68M419.7 68.0h0.68M417.5 61.3h0.68M426.9 63.3h0.68M433.3 68.2h0.68M434.4 82.4h0.68M427.1 54.1h0.68M433.5 69.0h0.68M430.7 67.3h0.68M421.3 64.8h0.68M431.5 69.7h0.68M445.8 69.5h0.68M427.7 60.1h0.68M433.7 69.0h0.68M432.0 65.4h0.68M419.5 71.5h0.68M427.0 63.9h0.68M422.2 71.5h0.68M439.8 67.9h0.68M437.2 69.5h0.68M448.4 74.8h0.68M431.2 80.4h0.68M441.2 74.6h0.68M426.2 62.0h0.68M436.5 65.9h0.68M435.0 71.2h0.68M450.2 74.5h0.68M448.9 72.8h0.68M427.5 62.3h0.68M438.6 81.6h0.68M437.1 60.8h0.68M443.4 77.2h0.68M423.6 68.6h0.68M452.8 70.2h0.68M442.2 68.1h0.68M430.0 66.4h0.68M437.7 66.1h0.68M438.1 76.7h0.68M431.0 64.0h0.68M426.8 65.7h0.68M424.7 66.0h0.68M440.4 59.9h0.68M421.3 76.0h0.68M434.4 67.1h0.68M424.4 55.2h0.68M442.4 62.4h0.68M422.5 74.2h0.68M417.2 57.2h0.68M427.3 75.6h0.68M438.5 65.5h0.68M441.2 70.6h0.68M434.2 64.9h0.68M426.2 64.9h0.68M427.3 82.1h0.68M431.8 68.5h0.68M430.0 67.0h0.68M422.0 55.4h0.68M428.7 67.2h0.68M434.4 64.1h0.68M428.7 61.7h0.68M421.0 70.8h0.68M420.6 78.7h0.68M435.0 63.4h0.68M432.1 82.7h0.68M424.6 68.0h0.68M427.5 54.2h0.68M434.8 71.9h0.68M443.4 66.5h0.68M428.1 76.1h0.68M423.4 59.5h0.68M436.5 64.5h0.68M426.0 72.1h0.68M422.4 81.8h0.68M420.7 67.5h0.68M422.0 67.9h0.68M427.5 73.1h0.68M427.4 73.7h0.68M442.5 63.5h0.68M440.7 62.5h0.68M438.0 74.2h0.68M435.9 61.0h0.68M428.2 66.3h0.68M424.6 62.6h0.68M430.2 70.1h0.68M423.1 71.5h0.68M421.5 51.6h0.68M432.7 86.4h0.68M440.0 72.7h0.68M432.0 75.9h0.68M438.1 56.2h0.68M420.1 64.5h0.68M430.3 68.9h0.68M431.8 61.5h0.68M439.9 62.1h0.68M433.8 66.0h0.68M430.8 61.9h0.68M428.9 61.2h0.68M429.1 70.3h0.68M420.6 75.8h0.68M435.0 65.2h0.68M426.4 64.5h0.68M424.9 76.9h0.68M425.2 73.5h0.68M429.0 65.8h0.68M440.5 70.1h0.68M439.7 64.8h0.68M446.6 64.8h0.68M447.9 72.0h0.68M422.9 70.8h0.68M443.0 71.9h0.68M429.1 75.1h0.68M422.3 63.2h0.68M432.7 74.5h0.68M430.0 71.4h0.68M448.2 75.8h0.68M442.0 78.3h0.68M431.4 80.0h0.68M433.9 63.3h0.68M431.0 70.0h0.68M435.9 78.2h0.68M429.0 73.5h0.68M432.1 72.5h0.68M443.2 68.8h0.68M430.9 78.9h0.68M429.5 69.0h0.68M429.5 76.9h0.68M439.2 51.0h0.68M427.6 70.5h0.68M430.3 66.9h0.68M431.1 51.9h0.68M416.6 64.6h0.68M436.9 57.0h0.68M431.0 70.5h0.68M427.9 72.2h0.68M439.2 72.4h0.68M445.9 64.3h0.68M436.8 65.8h0.68M438.1 81.3h0.68M427.7 67.3h0.68M431.1 63.6h0.68M428.2 73.5h0.68M430.7 74.7h0.68M421.2 71.0h0.68M436.1 62.5h0.68M419.6 66.6h0.68M435.8 73.4h0.68M443.8 75.3h0.68M436.9 69.2h0.68M429.4 64.4h0.68M438.8 66.5h0.68M427.8 50.3h0.68M416.8 77.2h0.68M428.6 64.0h0.68M433.6 56.0h0.68M433.5 63.2h0.68M436.4 64.6h0.68M430.8 54.7h0.68M425.6 68.2h0.68M434.0 63.1h0.68M430.2 78.9h0.68M431.0 70.1h0.68M424.3 72.8h0.68M429.3 81.2h0.68M425.9 65.3h0.68M441.7 61.1h0.68M429.2 70.3h0.68M422.1 70.9h0.68M428.0 63.3h0.68M442.1 65.3h0.68M431.2 70.2h0.68M426.6 73.5h0.68M417.1 73.9h0.68M420.9 59.9h0.68M430.9 65.3h0.68M423.3 73.2h0.68M440.0 72.8h0.68M434.7 69.3h0.68M428.8 74.5h0.68M418.0 78.3h0.68M421.6 64.2h0.68M428.1 78.3h0.68M445.6 71.3h0.68M424.9 80.3h0.68M427.5 71.7h0.68M439.1 68.4h0.68M436.3 61.9h0.68M426.7 71.8h0.68M423.3 70.6h0.68M432.4 46.7h0.68M432.2 77.5h0.68M421.4 69.0h0.68M428.5 70.5h0.68M418.1 69.2h0.68M433.1 67.6h0.68M427.4 66.9h0.68M430.7 67.3h0.68M428.8 81.9h0.68M426.2 69.9h0.68M431.1 83.2h0.68M425.7 70.7h0.68M420.1 73.5h0.68M423.8 76.6h0.68M436.1 54.1h0.68M419.4 63.3h0.68M429.2 73.6h0.68M431.7 69.5h0.68M430.4 58.0h0.68M432.1 62.8h0.68M424.1 66.8h0.68M432.9 69.5h0.68M434.1 64.4h0.68M418.0 77.2h0.68M430.7 79.4h0.68M433.9 64.3h0.68M442.4 78.5h0.68M448.4 61.8h0.68M417.4 73.2h0.68M422.0 78.7h0.68M434.6 57.9h0.68M421.6 59.7h0.68M426.4 70.4h0.68M436.4 74.7h0.68M435.9 68.5h0.68M427.3 58.6h0.68M435.2 72.0h0.68M433.2 82.5h0.68M429.1 84.1h0.68M451.2 63.8h0.68M432.9 74.4h0.68M446.9 80.9h0.68M464.1 88.7h0.68M452.0 67.7h0.68M446.8 85.3h0.68M453.8 72.7h0.68M467.4 78.2h0.68M449.3 64.3h0.68M441.8 86.7h0.68M462.6 65.2h0.68M448.0 84.0h0.68M466.6 50.8h0.68M444.2 81.7h0.68M459.3 91.7h0.68M463.1 66.9h0.68M458.9 76.8h0.68M448.4 76.1h0.68M449.9 71.6h0.68M436.4 87.7h0.68M463.6 92.2h0.68M464.3 73.1h0.68M456.0 69.8h0.68M465.1 83.7h0.68M446.4 74.8h0.68M445.2 70.7h0.68M444.8 81.6h0.68M458.2 107.9h0.68M454.7 78.8h0.68M466.6 88.0h0.68M446.7 81.1h0.68M446.7 71.4h0.68M442.7 58.2h0.68M450.1 89.7h0.68M458.2 76.1h0.68M439.8 88.8h0.68M458.8 93.6h0.68M455.2 105.7h0.68M457.7 63.8h0.68M440.5 90.4h0.68M458.0 86.6h0.68M460.6 60.2h0.68M444.9 90.7h0.68M451.8 86.6h0.68M437.0 87.6h0.68M449.7 80.5h0.68M450.0 57.1h0.68M443.0 79.5h0.68M461.6 70.7h0.68M448.5 76.7h0.68M449.5 83.4h0.68M454.9 84.9h0.68M463.8 80.7h0.68M461.5 94.8h0.68M444.1 103.5h0.68M443.6 77.5h0.68M458.4 60.5h0.68M446.1 85.1h0.68M460.9 99.4h0.68M461.4 75.8h0.68M462.5 78.8h0.68M450.4 69.9h0.68M456.4 83.3h0.68M450.9 72.1h0.68M443.4 81.4h0.68M470.5 89.9h0.68M450.0 95.2h0.68M451.2 75.8h0.68M444.5 80.5h0.68M455.7 72.7h0.68M444.8 66.9h0.68M455.7 84.1h0.68M448.4 87.9h0.68M444.5 71.8h0.68M459.9 83.1h0.68M442.2 72.5h0.68M457.1 64.3h0.68M456.0 70.3h0.68M458.8 66.1h0.68M452.2 77.2h0.68M446.1 73.9h0.68M458.6 98.7h0.68M460.1 76.0h0.68M456.4 87.1h0.68M449.1 91.1h0.68M462.7 91.2h0.68M448.0 94.9h0.68M462.6 67.9h0.68M465.6 80.1h0.68M452.6 66.3h0.68M466.1 83.0h0.68M446.7 86.4h0.68M446.9 66.3h0.68M449.7 80.5h0.68M464.0 81.3h0.68M460.7 91.7h0.68M453.0 78.3h0.68M445.5 64.3h0.68M453.4 95.3h0.68M459.5 60.7h0.68M454.6 87.7h0.68M456.8 84.9h0.68M459.9 95.0h0.68M441.7 80.3h0.68M461.0 78.7h0.68M471.5 97.4h0.68M455.5 90.1h0.68M451.2 82.4h0.68M445.2 74.7h0.68M460.2 85.4h0.68M461.9 103.3h0.68M454.7 88.0h0.68M435.0 73.3h0.68M463.2 86.2h0.68M454.5 89.0h0.68M453.1 78.0h0.68M435.7 76.7h0.68M469.8 74.9h0.68M435.9 84.9h0.68M463.8 104.9h0.68M448.0 78.8h0.68M455.2 88.4h0.68M454.2 63.6h0.68M461.3 88.2h0.68M449.0 69.4h0.68M446.7 87.0h0.68M449.3 67.8h0.68M443.8 87.0h0.68M438.5 81.4h0.68M448.8 71.6h0.68M451.1 74.6h0.68M454.1 84.9h0.68M446.6 65.1h0.68M444.9 80.9h0.68M441.5 86.9h0.68M458.5 92.4h0.68M445.1 92.1h0.68M450.7 76.4h0.68M450.7 90.7h0.68M435.3 78.9h0.68M450.0 87.4h0.68M462.7 87.7h0.68M452.5 71.2h0.68M467.3 46.9h0.68M450.9 76.2h0.68M467.0 88.4h0.68M446.0 84.0h0.68M446.7 89.9h0.68M459.5 79.3h0.68M436.8 97.2h0.68M442.9 87.2h0.68M434.4 60.4h0.68M459.3 78.9h0.68M448.8 74.9h0.68M456.8 96.1h0.68M431.3 83.9h0.68M465.1 94.0h0.68M453.9 71.3h0.68M464.4 73.4h0.68M455.8 74.3h0.68M470.9 70.0h0.68M471.2 78.3h0.68M473.7 90.7h0.68M456.5 87.3h0.68M450.1 80.6h0.68M452.2 64.8h0.68M444.5 103.1h0.68M459.0 94.4h0.68M445.8 61.3h0.68M455.3 69.6h0.68M457.1 91.5h0.68M454.6 68.3h0.68M445.4 90.6h0.68M455.9 46.3h0.68M438.0 81.5h0.68M437.9 87.4h0.68M426.1 98.3h0.68M431.5 90.6h0.68M461.7 93.5h0.68M447.6 77.3h0.68M455.3 97.3h0.68M446.8 58.7h0.68M462.8 67.5h0.68M457.8 79.4h0.68M452.3 91.7h0.68M458.5 69.1h0.68M466.5 82.3h0.68M451.8 69.8h0.68M436.6 77.2h0.68M463.2 53.8h0.68M437.5 70.5h0.68M446.1 78.7h0.68M450.7 84.0h0.68M459.5 74.7h0.68M459.1 81.9h0.68M439.0 85.6h0.68M449.0 96.7h0.68M467.9 89.8h0.68M451.0 90.5h0.68M461.2 69.8h0.68M450.2 95.9h0.68M449.9 74.2h0.68M439.4 74.6h0.68M455.6 83.8h0.68M454.6 51.8h0.68M459.2 95.0h0.68M453.6 67.0h0.68M448.8 74.4h0.68M451.6 78.6h0.68M453.2 76.0h0.68M446.3 67.2h0.68M451.6 76.5h0.68M441.6 82.1h0.68M458.2 66.6h0.68M447.1 63.9h0.68M442.4 86.8h0.68M444.4 81.5h0.68M460.8 83.9h0.68M452.0 90.3h0.68M446.1 66.4h0.68M456.9 66.1h0.68M460.1 73.8h0.68M458.3 83.7h0.68M460.7 82.5h0.68M443.2 94.5h0.68M461.3 81.6h0.68M448.6 61.7h0.68M454.5 102.0h0.68M454.7 80.2h0.68M461.8 85.5h0.68M451.0 64.9h0.68M472.5 85.3h0.68M463.4 74.6h0.68M437.2 79.6h0.68M457.1 74.0h0.68M453.1 78.6h0.68M464.1 91.4h0.68M466.2 86.1h0.68M450.0 80.8h0.68M436.9 75.6h0.68M459.5 78.2h0.68M452.1 81.2h0.68M456.5 89.0h0.68M450.4 77.2h0.68M445.2 90.9h0.68M462.7 77.5h0.68M453.2 67.1h0.68M465.1 64.1h0.68M455.8 92.0h0.68M467.0 77.8h0.68M445.5 68.0h0.68M468.0 82.8h0.68M482.6 86.2h0.68M458.8 69.0h0.68M444.6 81.9h0.68M449.0 72.6h0.68M436.8 78.2h0.68M458.9 83.3h0.68M458.4 78.8h0.68M442.7 79.8h0.68M451.9 75.2h0.68M451.2 74.8h0.68M453.1 90.2h0.68M437.4 85.1h0.68M443.9 72.3h0.68M447.3 71.5h0.68M467.4 79.9h0.68M469.1 84.4h0.68M462.2 78.6h0.68M459.0 75.4h0.68M451.5 96.1h0.68M464.9 97.6h0.68M461.9 86.3h0.68M449.8 102.3h0.68M444.8 79.2h0.68M450.0 65.5h0.68M477.8 77.9h0.68M440.2 80.2h0.68M447.7 86.0h0.68M443.9 51.3h0.68M468.4 88.2h0.68M452.6 65.7h0.68M453.7 65.5h0.68M449.8 58.3h0.68M455.0 73.8h0.68M449.1 40.6h0.68M451.2 94.6h0.68M453.7 77.8h0.68M456.0 53.8h0.68M449.3 89.8h0.68M446.8 85.5h0.68M470.0 79.5h0.68M466.2 84.4h0.68M471.4 77.7h0.68M461.2 66.9h0.68M438.3 70.4h0.68M461.6 95.7h0.68M448.8 56.5h0.68M450.1 57.7h0.68M457.2 62.0h0.68M466.3 61.3h0.68M471.9 84.9h0.68M446.8 88.7h0.68M467.8 91.5h0.68M461.1 85.5h0.68M463.3 78.7h0.68M450.7 74.4h0.68M458.8 87.5h0.68M440.2 78.0h0.68M466.0 83.5h0.68M454.5 74.4h0.68M443.6 74.3h0.68M458.6 56.1h0.68M443.3 79.5h0.68M457.5 76.4h0.68M450.7 80.6h0.68M456.3 97.3h0.68M460.3 89.6h0.68M472.0 76.5h0.68M461.1 76.2h0.68M438.7 89.7h0.68M460.9 92.3h0.68M465.2 93.9h0.68M472.1 77.8h0.68M445.4 81.4h0.68M449.9 57.8h0.68M472.5 98.1h0.68M456.7 75.4h0.68M461.8 85.4h0.68M440.3 82.3h0.68M438.5 90.8h0.68M451.4 62.5h0.68M454.5 80.2h0.68M456.2 108.4h0.68M440.2 78.6h0.68M459.9 81.7h0.68M449.3 84.5h0.68M458.6 78.1h0.68M455.0 88.8h0.68M463.6 78.7h0.68M456.9 89.8h0.68M469.2 64.1h0.68M454.8 96.0h0.68M451.7 85.8h0.68M461.7 65.3h0.68M443.2 78.9h0.68M454.4 69.4h0.68M462.7 89.4h0.68M456.0 82.4h0.68M462.8 83.3h0.68M451.6 79.3h0.68M454.6 86.2h0.68M452.1 74.9h0.68M469.9 79.0h0.68M441.1 80.9h0.68M450.5 71.6h0.68M469.7 44.4h0.68M466.0 57.9h0.68M464.3 46.7h0.68M464.3 52.4h0.68M466.6 74.5h0.68M460.4 60.9h0.68M456.5 67.6h0.68M463.1 46.8h0.68M460.1 44.1h0.68M458.3 42.1h0.68M470.0 51.1h0.68M461.2 45.6h0.68M453.9 45.9h0.68M470.0 53.1h0.68M465.6 51.4h0.68M466.4 51.3h0.68M469.7 62.0h0.68M458.2 50.6h0.68M455.4 49.9h0.68M464.9 72.8h0.68M463.6 73.1h0.68M457.5 62.5h0.68M463.6 50.9h0.68M457.6 51.6h0.68M453.8 65.2h0.68M468.9 47.8h0.68M469.0 62.5h0.68M464.5 44.9h0.68M461.9 45.9h0.68M464.9 59.8h0.68M462.4 50.7h0.68M461.9 65.7h0.68M468.1 73.3h0.68M464.9 63.7h0.68M457.9 54.8h0.68M462.5 44.4h0.68M453.9 70.1h0.68M459.4 53.4h0.68M466.5 65.5h0.68M457.3 60.9h0.68M463.3 56.6h0.68M469.2 51.4h0.68M464.1 73.6h0.68M455.6 59.5h0.68M460.3 56.8h0.68M470.0 64.7h0.68M456.6 73.8h0.68M468.1 44.3h0.68M467.0 58.1h0.68M454.1 70.3h0.68M470.1 72.1h0.68M462.1 42.8h0.68M461.8 59.5h0.68M463.4 64.4h0.68M469.9 60.2h0.68M465.8 61.1h0.68M468.9 47.8h0.68M467.5 47.0h0.68M469.0 52.2h0.68M459.1 59.1h0.68M464.2 60.2h0.68M470.1 50.3h0.68M458.8 53.9h0.68M467.5 44.5h0.68M459.9 56.0h0.68M455.0 49.4h0.68M464.5 60.3h0.68M459.8 56.5h0.68M464.3 68.6h0.68M458.3 45.3h0.68M467.7 45.4h0.68M460.8 46.1h0.68M469.1 70.8h0.68M458.3 63.3h0.68M460.4 44.9h0.68M455.9 65.8h0.68M456.8 51.1h0.68M461.3 58.6h0.68M461.0 70.8h0.68M458.2 54.0h0.68M456.0 47.8h0.68M463.9 52.0h0.68M459.7 43.6h0.68M456.9 62.4h0.68M469.5 63.1h0.68M460.4 72.0h0.68M459.0 71.5h0.68M454.3 59.2h0.68M469.3 54.4h0.68M461.8 54.7h0.68M455.2 58.5h0.68M460.3 68.7h0.68M456.6 43.3h0.68M468.7 46.0h0.68M468.8 60.7h0.68M462.3 47.3h0.68M461.2 62.5h0.68M453.7 67.2h0.68M463.7 70.0h0.68M461.3 72.2h0.68M466.5 53.0h0.68M467.8 51.8h0.68M460.3 49.0h0.68M461.0 42.3h0.68M462.7 47.9h0.68M454.7 65.3h0.68M462.9 59.5h0.68M456.7 71.0h0.68M453.8 44.8h0.68M460.2 49.9h0.68M460.2 72.8h0.68M469.3 49.0h0.68M457.0 53.1h0.68M458.5 44.8h0.68M465.0 44.9h0.68M460.4 45.2h0.68M467.4 53.0h0.68M455.6 66.0h0.68M457.1 51.1h0.68M459.8 50.9h0.68M461.5 46.5h0.68M458.1 61.7h0.68M460.9 45.1h0.68M463.7 64.1h0.68M464.0 55.9h0.68M462.4 52.6h0.68M468.4 57.1h0.68M465.4 65.0h0.68M460.8 46.9h0.68M460.0 66.0h0.68M459.6 46.5h0.68M460.9 66.0h0.68M469.3 67.7h0.68M456.5 49.8h0.68M464.6 51.0h0.68M459.0 70.8h0.68M469.8 70.8h0.68M466.2 59.9h0.68M457.2 54.0h0.68M458.1 60.9h0.68M456.9 71.9h0.68M459.8 58.5h0.68M469.4 64.7h0.68M465.2 42.9h0.68M468.9 57.2h0.68M453.9 56.7h0.68M470.0 54.9h0.68M463.0 56.0h0.68M469.7 67.8h0.68M462.2 49.3h0.68M495.7 51.7h0.68M477.0 51.7h0.68M490.7 73.2h0.68M494.4 48.1h0.68M492.3 60.8h0.68M494.4 64.9h0.68M491.9 67.1h0.68M472.4 51.7h0.68M478.5 59.1h0.68M497.8 48.0h0.68M477.4 52.0h0.68M482.2 73.2h0.68M484.2 71.3h0.68M495.3 59.6h0.68M497.9 54.1h0.68M469.4 50.9h0.68M496.5 61.5h0.68M478.9 53.4h0.68M499.5 63.7h0.68M493.1 59.5h0.68M482.1 71.7h0.68M476.6 53.5h0.68M480.8 66.4h0.68M491.9 65.1h0.68M492.7 72.9h0.68M478.3 59.5h0.68M494.6 60.5h0.68M485.5 75.2h0.68M486.4 70.9h0.68M498.8 49.2h0.68M477.3 46.3h0.68M476.5 54.1h0.68M489.3 72.7h0.68M478.3 67.9h0.68M479.2 62.6h0.68M492.5 72.0h0.68M477.5 51.9h0.68M496.2 64.2h0.68M496.4 64.5h0.68M479.9 67.9h0.68M479.2 61.4h0.68M481.4 64.5h0.68M482.6 70.0h0.68M477.7 50.2h0.68M492.7 64.0h0.68M478.6 69.7h0.68M492.5 71.9h0.68M475.3 56.6h0.68M493.0 67.1h0.68M494.5 68.1h0.68M482.9 62.2h0.68M498.2 52.4h0.68M491.5 69.0h0.68M480.8 67.1h0.68M477.2 65.3h0.68M498.6 50.0h0.68M480.6 62.0h0.68M502.2 51.4h0.68M497.4 48.1h0.68M479.9 70.0h0.68M497.7 56.4h0.68M476.7 60.9h0.68M497.6 54.5h0.68M495.4 58.1h0.68M475.7 49.5h0.68M480.7 64.5h0.68M499.2 49.8h0.68M480.2 65.2h0.68M495.9 65.5h0.68M475.9 48.2h0.68M472.3 51.1h0.68M496.0 49.5h0.68M477.7 62.1h0.68M494.5 49.5h0.68M497.7 48.3h0.68M478.7 58.5h0.68M498.4 49.1h0.68M475.9 57.9h0.68M494.9 66.6h0.68M495.7 63.5h0.68M492.2 70.2h0.68M489.8 73.5h0.68M482.0 63.5h0.68M497.6 47.7h0.68M491.3 69.7h0.68M492.3 62.8h0.68M495.1 59.1h0.68M499.0 55.8h0.68M478.8 60.2h0.68M489.9 69.7h0.68M482.3 73.6h0.68M484.4 70.6h0.68M483.7 74.2h0.68M477.7 68.0h0.68M495.5 63.2h0.68M476.4 69.1h0.68M498.0 48.4h0.68M500.6 47.0h0.68M496.7 54.7h0.68M480.2 70.1h0.68M496.0 64.6h0.68M497.1 48.9h0.68M496.1 59.5h0.68M479.5 68.1h0.68M496.1 51.6h0.68M492.0 72.3h0.68M482.6 69.5h0.68M489.0 63.7h0.68M480.4 65.5h0.68M479.0 71.2h0.68M484.8 71.6h0.68M474.7 55.2h0.68M473.9 54.1h0.68M498.0 59.0h0.68M481.2 66.5h0.68M494.1 60.2h0.68M478.3 64.6h0.68M473.3 52.1h0.68M479.6 55.4h0.68M493.1 69.1h0.68M496.7 52.4h0.68M500.4 52.8h0.68M481.6 55.9h0.68M501.2 46.8h0.68M477.3 53.1h0.68M479.9 59.6h0.68M478.1 64.1h0.68M492.4 74.0h0.68M478.5 57.7h0.68M478.0 56.3h0.68M480.4 63.6h0.68M484.8 70.8h0.68M498.5 52.4h0.68M496.3 56.6h0.68M492.4 70.2h0.68M478.0 56.6h0.68M488.6 71.0h0.68M482.1 63.8h0.68M492.8 57.5h0.68M481.8 75.1h0.68M497.5 49.3h0.68M494.0 58.1h0.68M499.2 58.2h0.68M498.9 52.7h0.68M478.0 49.2h0.68M492.2 68.0h0.68M475.9 46.7h0.68M480.6 62.5h0.68M498.8 50.8h0.68M478.6 56.4h0.68M495.6 58.1h0.68M496.2 56.8h0.68M474.5 52.4h0.68M496.3 50.1h0.68M495.3 63.3h0.68M495.2 60.5h0.68M496.8 58.6h0.68M499.3 49.1h0.68M495.5 52.9h0.68M481.7 68.7h0.68M495.0 63.9h0.68M493.6 68.1h0.68M481.1 69.2h0.68M482.1 75.2h0.68M495.9 51.9h0.68M484.7 72.7h0.68M477.5 46.4h0.68M492.5 61.7h0.68M496.6 55.9h0.68M494.7 52.4h0.68M481.9 71.9h0.68M494.2 65.8h0.68M492.2 67.5h0.68M480.1 70.0h0.68M486.7 73.8h0.68M490.1 69.9h0.68M478.4 58.5h0.68M500.3 46.3h0.68M475.9 57.2h0.68M487.3 75.6h0.68M497.7 63.0h0.68M482.8 67.5h0.68M491.3 57.3h0.68M496.4 48.2h0.68M476.3 55.7h0.68M493.4 69.6h0.68M491.3 69.2h0.68M474.8 55.5h0.68M494.2 60.1h0.68M497.8 48.0h0.68M483.9 74.1h0.68M497.7 49.8h0.68M480.6 64.7h0.68M492.6 62.7h0.68M494.8 49.5h0.68M478.3 66.1h0.68M477.8 61.0h0.68M481.5 70.8h0.68M496.4 50.0h0.68M476.5 53.8h0.68M494.3 71.6h0.68M483.4 71.2h0.68M492.9 69.0h0.68M499.0 47.3h0.68M498.8 47.7h0.68M479.0 58.6h0.68M496.7 53.7h0.68M492.4 69.3h0.68M475.3 54.0h0.68M489.4 70.3h0.68M478.7 48.9h0.68M493.6 62.0h0.68M491.1 69.6h0.68M482.2 63.0h0.68M477.2 62.7h0.68M495.4 62.8h0.68M479.6 68.8h0.68M475.2 47.9h0.68M476.8 60.3h0.68M499.2 47.9h0.68M471.7 48.3h0.68M480.7 60.0h0.68M483.6 69.1h0.68M480.2 68.7h0.68M480.5 63.0h0.68M492.0 73.7h0.68M481.2 63.0h0.68M491.7 71.2h0.68M492.4 68.1h0.68M474.2 47.1h0.68M501.4 56.4h0.68M496.1 55.0h0.68M475.6 47.7h0.68M482.6 71.4h0.68M479.1 71.9h0.68M497.1 69.4h0.68M489.2 73.0h0.68M478.3 67.9h0.68M496.8 55.9h0.68M496.5 61.3h0.68M493.8 64.7h0.68M475.3 60.0h0.68M476.2 57.6h0.68M474.2 52.1h0.68M499.4 46.5h0.68M472.6 46.5h0.68M493.1 63.8h0.68M491.7 63.5h0.68M482.0 65.6h0.68M480.9 73.5h0.68M479.3 61.7h0.68M482.2 72.4h0.68M478.3 55.9h0.68M480.1 71.0h0.68M480.2 66.4h0.68M499.9 49.0h0.68M496.2 53.8h0.68M478.4 53.8h0.68M489.0 74.1h0.68M479.4 62.8h0.68M475.7 57.5h0.68M496.1 73.2h0.68M477.5 52.9h0.68M482.5 75.3h0.68M474.5 53.9h0.68M495.8 58.9h0.68M498.2 57.2h0.68M493.4 66.8h0.68M493.8 68.9h0.68M475.1 48.3h0.68M490.2 73.3h0.68M491.0 66.2h0.68M497.5 52.9h0.68M471.2 49.9h0.68M487.0 73.9h0.68M495.8 62.6h0.68M490.9 62.8h0.68M485.2 68.5h0.68M493.6 51.6h0.68M479.5 55.7h0.68M494.9 52.3h0.68M477.0 54.1h0.68M490.6 75.1h0.68M489.6 73.7h0.68M496.1 52.9h0.68M480.4 64.5h0.68M490.5 75.6h0.68M488.6 74.2h0.68M493.9 62.7h0.68M498.7 47.3h0.68M495.3 66.4h0.68M489.9 74.3h0.68M493.5 69.1h0.68M478.2 67.2h0.68M495.0 69.1h0.68M476.1 48.2h0.68M477.2 64.4h0.68M494.0 72.6h0.68M492.0 69.2h0.68M495.2 51.7h0.68M493.5 59.3h0.68M473.0 54.2h0.68M501.8 49.7h0.68M474.9 61.3h0.68M490.4 72.8h0.68M474.3 53.1h0.68M500.8 48.6h0.68M499.8 57.4h0.68M479.7 49.8h0.68M475.7 63.5h0.68M494.6 69.2h0.68M491.9 63.5h0.68M481.1 68.6h0.68M500.1 55.7h0.68M479.2 57.2h0.68M477.6 57.1h0.68M493.4 67.7h0.68M492.0 61.3h0.68M493.4 70.4h0.68M488.7 75.5h0.68M478.0 53.8h0.68M475.1 53.2h0.68M489.8 72.9h0.68M479.3 60.9h0.68M495.1 71.8h0.68M480.6 69.6h0.68M480.4 64.4h0.68M495.7 56.0h0.68M485.6 73.4h0.68M496.6 53.0h0.68M479.0 65.9h0.68M479.9 57.7h0.68M491.6 68.1h0.68M497.6 51.0h0.68M499.9 50.2h0.68M477.4 55.2h0.68M480.8 67.6h0.68M497.1 50.0h0.68M497.0 53.3h0.68M494.6 60.5h0.68M498.0 48.2h0.68M496.4 58.9h0.68M480.8 71.6h0.68M477.3 52.8h0.68M485.2 74.1h0.68M498.4 48.9h0.68M496.1 59.4h0.68M479.1 47.3h0.68M479.7 68.8h0.68M491.5 67.2h0.68M488.0 74.0h0.68M477.0 53.1h0.68M496.3 52.1h0.68M484.2 71.6h0.68M483.1 70.4h0.68M478.3 49.2h0.68M499.0 48.9h0.68M487.0 74.2h0.68M495.7 66.6h0.68M490.8 72.2h0.68M479.0 61.3h0.68M490.3 74.4h0.68M475.7 57.2h0.68M499.6 52.7h0.68M478.0 58.4h0.68M477.6 54.3h0.68M489.5 73.0h0.68M493.0 63.2h0.68M475.1 52.4h0.68M496.5 61.4h0.68M492.6 70.2h0.68M502.8 52.9h0.68M478.6 50.8h0.68M474.3 52.8h0.68M490.0 63.8h0.68M476.9 62.2h0.68M499.0 51.9h0.68M478.5 51.5h0.68M492.5 69.2h0.68M482.2 65.3h0.68M493.6 70.3h0.68M476.6 49.4h0.68M495.1 63.9h0.68M477.8 49.1h0.68M492.9 67.5h0.68M476.9 55.2h0.68M490.3 61.6h0.68M491.1 73.3h0.68M471.7 48.2h0.68M495.4 45.9h0.68M497.4 53.5h0.68M477.1 57.4h0.68M493.1 64.1h0.68M486.6 70.5h0.68M495.2 61.5h0.68M496.1 65.5h0.68M492.1 61.0h0.68M477.4 51.6h0.68M480.8 72.0h0.68M495.8 63.9h0.68M491.4 67.3h0.68M494.2 66.5h0.68M477.1 60.9h0.68M481.5 73.8h0.68M481.2 70.7h0.68M470.3 58.8h0.68M497.3 48.9h0.68M476.6 48.4h0.68M481.9 65.3h0.68M497.7 58.1h0.68M493.5 68.6h0.68M477.5 58.2h0.68M492.2 69.4h0.68M477.1 53.7h0.68M478.3 59.2h0.68M496.3 54.0h0.68M502.0 53.3h0.68M497.2 48.3h0.68M480.4 61.2h0.68M475.0 59.1h0.68M479.3 64.9h0.68M475.3 63.9h0.68M482.6 71.5h0.68M478.9 69.3h0.68M477.1 59.2h0.68M498.0 47.6h0.68M486.7 75.4h0.68M476.7 56.3h0.68M481.3 62.0h0.68M478.6 66.9h0.68M477.6 64.2h0.68M475.6 53.0h0.68M493.9 66.7h0.68M483.3 66.2h0.68M497.5 54.1h0.68M478.1 53.3h0.68M500.8 50.9h0.68M494.8 67.3h0.68M479.4 55.3h0.68M500.9 48.1h0.68M489.9 73.3h0.68M497.1 47.5h0.68M476.5 51.8h0.68M478.4 68.7h0.68M478.6 71.3h0.68M500.5 48.3h0.68M496.9 54.0h0.68M493.0 49.3h0.68M494.3 70.4h0.68M497.1 58.8h0.68M476.1 53.1h0.68M478.0 59.6h0.68M475.3 52.8h0.68M490.8 71.2h0.68M496.0 62.3h0.68M499.3 57.5h0.68M496.1 49.1h0.68M496.7 52.8h0.68M479.9 69.8h0.68M482.7 71.9h0.68M496.6 57.6h0.68M479.5 71.2h0.68M494.4 64.6h0.68M476.1 52.2h0.68M479.1 61.0h0.68M496.1 59.7h0.68M499.5 63.1h0.68M473.0 48.7h0.68M498.1 49.5h0.68M499.4 47.9h0.68M499.0 54.4h0.68M478.3 54.8h0.68M498.9 52.0h0.68M498.1 54.2h0.68M479.4 68.4h0.68M491.5 69.4h0.68M472.1 52.5h0.68M490.1 74.7h0.68M474.1 48.8h0.68M490.9 67.2h0.68M477.9 66.8h0.68M475.0 48.9h0.68M494.5 60.0h0.68M476.2 56.2h0.68M478.2 57.9h0.68M493.0 72.2h0.68M477.2 51.5h0.68M491.6 74.5h0.68M495.1 60.7h0.68M476.3 59.6h0.68M477.0 52.8h0.68M479.1 69.7h0.68M479.2 69.2h0.68M486.8 71.8h0.68M497.1 50.2h0.68M492.6 57.4h0.68M493.7 57.9h0.68M476.3 48.6h0.68M492.5 66.0h0.68M473.2 46.0h0.68M490.1 68.1h0.68M496.4 46.9h0.68M494.3 50.4h0.68M483.0 70.0h0.68M494.8 64.5h0.68M492.8 61.6h0.68M482.4 63.7h0.68M475.4 51.9h0.68M477.4 65.6h0.68M493.3 63.3h0.68M495.0 65.6h0.68M475.5 51.3h0.68M493.6 66.7h0.68M498.7 53.6h0.68M481.6 66.3h0.68M496.7 54.7h0.68M483.0 71.5h0.68M480.8 48.3h0.68M476.1 58.1h0.68M497.9 52.9h0.68M478.1 55.8h0.68M496.9 54.9h0.68M496.6 60.2h0.68M499.4 50.9h0.68M481.7 67.4h0.68M486.1 69.7h0.68M488.3 65.7h0.68M480.6 74.0h0.68M476.5 50.1h0.68M496.9 61.7h0.68M479.4 69.7h0.68M487.4 74.0h0.68M492.3 66.0h0.68M475.0 60.0h0.68M484.1 69.4h0.68M496.5 68.4h0.68M479.4 58.3h0.68M477.0 58.4h0.68M479.2 63.7h0.68M489.8 67.8h0.68M488.7 67.5h0.68M497.9 61.5h0.68M482.3 67.0h0.68M480.1 67.1h0.68M490.1 74.9h0.68M470.9 49.6h0.68M479.5 66.7h0.68M480.2 65.5h0.68M497.5 53.1h0.68M490.2 72.1h0.68M496.8 66.3h0.68M476.0 68.0h0.68M498.0 50.8h0.68M488.9 73.8h0.68M481.4 74.0h0.68M480.4 67.9h0.68M483.4 70.5h0.68M498.6 54.2h0.68M501.7 58.8h0.68M479.6 58.9h0.68M480.7 66.1h0.68M483.5 74.7h0.68M479.0 58.2h0.68M476.1 50.6h0.68M481.1 74.2h0.68M476.8 53.2h0.68M483.2 74.0h0.68M482.3 75.6h0.68M498.4 56.6h0.68M489.8 74.7h0.68M498.3 61.6h0.68M473.6 56.8h0.68M473.7 51.4h0.68M495.4 57.5h0.68M483.3 68.9h0.68M494.0 68.3h0.68M477.2 60.1h0.68M490.8 74.4h0.68M489.0 71.5h0.68M477.7 61.7h0.68M496.2 47.9h0.68M475.1 50.3h0.68M489.2 75.6h0.68M478.0 56.2h0.68M480.2 69.1h0.68M493.3 66.2h0.68M478.5 64.4h0.68M482.9 66.8h0.68M479.5 64.7h0.68M496.7 59.9h0.68M470.5 48.7h0.68M474.8 50.1h0.68M488.6 75.1h0.68M474.6 56.6h0.68M484.8 68.6h0.68M490.7 68.2h0.68M496.2 62.5h0.68M498.8 50.5h0.68M495.7 59.5h0.68M492.3 65.2h0.68M480.9 71.2h0.68M482.8 74.0h0.68M476.6 65.1h0.68M477.7 53.9h0.68M493.5 71.8h0.68M494.4 66.6h0.68M489.2 72.1h0.68M476.0 56.3h0.68M493.0 69.0h0.68M479.9 63.6h0.68M492.1 72.8h0.68M483.8 75.2h0.68M499.5 51.4h0.68M475.0 47.1h0.68M483.7 61.9h0.68M477.3 61.3h0.68M495.7 50.2h0.68M475.3 59.6h0.68M477.4 64.6h0.68M496.4 61.6h0.68M476.4 51.7h0.68M495.2 60.4h0.68M497.0 54.1h0.68M493.4 64.0h0.68M482.6 73.4h0.68M478.7 53.8h0.68M479.3 65.3h0.68M479.8 62.7h0.68M490.2 65.5h0.68M477.9 62.3h0.68M476.2 50.2h0.68M493.9 66.8h0.68M493.2 59.3h0.68M478.7 63.4h0.68M491.0 74.0h0.68M480.3 64.0h0.68M481.1 74.4h0.68M479.7 64.8h0.68M477.5 60.6h0.68M493.5 68.5h0.68M499.8 47.8h0.68M485.0 71.8h0.68M496.7 61.2h0.68M492.7 70.8h0.68M491.6 76.0h0.68M486.3 66.3h0.68M484.1 70.0h0.68M496.8 50.7h0.68M495.9 51.1h0.68M479.1 58.1h0.68M477.7 57.3h0.68M494.4 62.9h0.68M492.9 63.2h0.68M490.2 71.6h0.68M491.4 71.5h0.68M499.9 52.8h0.68M476.5 56.7h0.68M472.3 48.8h0.68M498.2 53.3h0.68M478.3 55.3h0.68M475.7 53.2h0.68M488.7 72.6h0.68M494.2 55.8h0.68M493.3 65.6h0.68M497.1 51.5h0.68M478.5 58.2h0.68M495.1 63.6h0.68M487.3 75.3h0.68M493.7 71.2h0.68M496.6 56.0h0.68M495.3 59.9h0.68M480.1 64.2h0.68M483.4 74.8h0.68M489.1 72.4h0.68M477.4 53.4h0.68M491.5 68.0h0.68M482.4 66.1h0.68M475.2 46.7h0.68M494.5 68.3h0.68M498.2 50.0h0.68M478.7 58.6h0.68M474.4 52.1h0.68M478.4 63.8h0.68M483.2 70.6h0.68M497.8 50.8h0.68M481.1 72.0h0.68M500.7 48.4h0.68M496.2 63.4h0.68M476.7 51.1h0.68M493.2 73.7h0.68M495.1 63.8h0.68M491.6 73.2h0.68M482.7 63.2h0.68M492.1 66.5h0.68M476.4 47.6h0.68M478.9 66.2h0.68M501.5 48.3h0.68M476.9 54.3h0.68M483.8 72.0h0.68M474.2 54.6h0.68M491.1 64.6h0.68M497.5 53.4h0.68M482.8 72.9h0.68M490.6 72.9h0.68M481.5 72.0h0.68M481.6 73.4h0.68M494.0 59.3h0.68M477.9 53.6h0.68M480.2 68.3h0.68M487.3 44.0h0.68M484.8 47.2h0.68M494.6 48.0h0.68M478.9 45.2h0.68M493.8 47.0h0.68M476.1 44.6h0.68M479.0 46.3h0.68M483.0 48.6h0.68M497.1 47.5h0.68M489.9 47.9h0.68M483.3 46.2h0.68M493.2 45.5h0.68M485.4 51.6h0.68M488.4 47.1h0.68M488.0 43.0h0.68M484.1 50.9h0.68M487.7 46.9h0.68M483.7 45.9h0.68M477.7 46.4h0.68M481.6 48.5h0.68M501.1 47.5h0.68M489.8 47.7h0.68M478.7 47.5h0.68M487.5 43.3h0.68M467.4 45.1h0.68M477.3 46.2h0.68M481.7 45.6h0.68M488.9 42.9h0.68M482.7 45.4h0.68M503.3 48.2h0.68M496.1 47.8h0.68M500.4 50.2h0.68M488.8 46.6h0.68M492.4 45.3h0.68M480.1 49.8h0.68M485.9 46.7h0.68M480.5 47.5h0.68M500.1 46.6h0.68M469.8 45.5h0.68M489.6 45.4h0.68M488.9 47.2h0.68M488.1 45.5h0.68M473.0 47.6h0.68M474.7 47.8h0.68M483.8 49.2h0.68M481.5 43.5h0.68M483.3 47.1h0.68M490.8 48.7h0.68M474.8 46.9h0.68M482.9 45.4h0.68M489.1 45.8h0.68M486.1 45.1h0.68M471.2 45.8h0.68M501.4 45.1h0.68M475.9 46.2h0.68M492.9 44.4h0.68M500.8 47.7h0.68M479.8 46.2h0.68M486.5 44.2h0.68M491.9 45.6h0.68M487.2 47.8h0.68M484.6 49.3h0.68M502.7 49.5h0.68M489.2 46.7h0.68M489.1 45.2h0.68M491.7 47.5h0.68M478.3 45.5h0.68M479.8 47.9h0.68M493.3 47.9h0.68M470.9 46.7h0.68M467.1 46.2h0.68M487.7 45.8h0.68M490.4 41.2h0.68M475.9 46.3h0.68M483.6 45.6h0.68M495.0 47.9h0.68M481.6 46.9h0.68M512.2 48.5h0.68M479.8 45.2h0.68M495.9 45.7h0.68M495.1 47.3h0.68M493.5 47.1h0.68M479.0 44.2h0.68M486.6 44.9h0.68M484.6 47.2h0.68M493.8 45.1h0.68M485.7 48.7h0.68M487.2 47.6h0.68M484.0 45.8h0.68M486.8 49.9h0.68M487.9 47.5h0.68M492.8 45.8h0.68M486.4 45.5h0.68M479.3 46.1h0.68M488.6 44.4h0.68M479.5 47.0h0.68M491.0 47.7h0.68M479.5 46.5h0.68M484.6 44.9h0.68M481.7 48.9h0.68M485.1 45.4h0.68M497.3 46.8h0.68M484.5 49.7h0.68M488.3 45.4h0.68M484.4 47.9h0.68M489.0 47.8h0.68M484.7 46.0h0.68M476.1 44.4h0.68M495.8 46.3h0.68M487.2 43.8h0.68M465.6 47.4h0.68M480.6 44.0h0.68M486.6 45.2h0.68M491.0 45.7h0.68M488.9 45.8h0.68M491.1 45.3h0.68M484.4 45.9h0.68M475.5 46.4h0.68M483.9 44.5h0.68M496.4 47.7h0.68M479.3 49.1h0.68M475.9 44.3h0.68M490.5 46.8h0.68M496.6 46.7h0.68M477.8 47.4h0.68M486.2 44.7h0.68M488.5 45.9h0.68M498.7 46.4h0.68M483.2 45.8h0.68M475.8 47.2h0.68M477.8 45.5h0.68M474.5 46.1h0.68M497.3 47.4h0.68M483.4 47.1h0.68M482.2 50.1h0.68M484.0 46.5h0.68M477.1 46.3h0.68M481.8 46.9h0.68M478.9 47.3h0.68M483.6 45.1h0.68M492.9 49.4h0.68M494.9 49.6h0.68M483.9 44.9h0.68M494.3 47.4h0.68M485.8 46.4h0.68M479.4 47.5h0.68M490.8 47.0h0.68M474.8 49.1h0.68M495.3 46.5h0.68M496.0 46.3h0.68M484.4 45.3h0.68M499.4 47.0h0.68M494.2 44.3h0.68M495.4 47.1h0.68M490.3 44.3h0.68M482.7 48.0h0.68M482.7 47.2h0.68M493.3 42.1h0.68M493.3 46.4h0.68M477.5 45.2h0.68M496.7 46.8h0.68M474.8 50.6h0.68M487.1 47.8h0.68M486.2 44.8h0.68M501.4 45.4h0.68M487.7 47.4h0.68M476.9 45.7h0.68M496.5 43.9h0.68M474.8 49.6h0.68M489.7 48.2h0.68M476.4 47.8h0.68M495.1 46.0h0.68M492.6 47.5h0.68M487.8 47.5h0.68M487.3 47.7h0.68M482.1 44.8h0.68M487.0 48.3h0.68M484.7 47.4h0.68M492.0 42.9h0.68M478.7 44.0h0.68M487.6 47.4h0.68M484.6 43.0h0.68M487.2 47.0h0.68M471.5 45.3h0.68M495.0 48.2h0.68M483.2 46.8h0.68M486.4 47.0h0.68M478.3 47.7h0.68M479.3 46.5h0.68M489.1 46.1h0.68M482.0 48.6h0.68M480.3 42.3h0.68M484.2 47.6h0.68M479.8 45.8h0.68M501.3 45.7h0.68M485.1 45.5h0.68M464.4 45.6h0.68M486.1 48.0h0.68M483.9 50.1h0.68M489.1 49.7h0.68M492.0 46.1h0.68M475.8 47.8h0.68M489.4 46.8h0.68M483.0 49.0h0.68M480.9 47.0h0.68M494.4 47.6h0.68M484.8 49.1h0.68M500.0 44.9h0.68M488.1 45.5h0.68M499.4 45.0h0.68M481.1 45.0h0.68M481.9 48.4h0.68M500.1 49.2h0.68M492.2 45.9h0.68M493.4 44.9h0.68M477.6 47.8h0.68M487.6 44.8h0.68M486.0 45.4h0.68M488.9 47.2h0.68M493.3 46.3h0.68M499.1 43.9h0.68M488.5 49.2h0.68M487.9 43.9h0.68M485.1 47.2h0.68M494.6 43.6h0.68M485.3 46.5h0.68M495.9 44.2h0.68M491.4 47.5h0.68M482.0 47.6h0.68M496.0 44.3h0.68M486.2 48.6h0.68M479.0 50.2h0.68M479.8 47.2h0.68M497.3 44.1h0.68M496.1 44.2h0.68M481.3 49.0h0.68M490.7 45.9h0.68M490.3 47.0h0.68M489.8 46.1h0.68M497.6 47.1h0.68M484.6 45.4h0.68M487.4 44.6h0.68M485.3 47.7h0.68M479.6 46.5h0.68M496.1 46.7h0.68M490.8 46.3h0.68M482.6 44.5h0.68M492.2 48.8h0.68M490.3 42.7h0.68M502.6 45.5h0.68M468.9 46.9h0.68M487.2 44.4h0.68M476.9 46.6h0.68M484.5 45.0h0.68M497.7 45.4h0.68M490.5 47.5h0.68M489.9 47.3h0.68M489.6 46.3h0.68M478.7 48.5h0.68M478.0 48.1h0.68M488.4 47.7h0.68M475.6 45.9h0.68M489.6 44.7h0.68M484.9 49.2h0.68M490.3 46.9h0.68M482.3 46.7h0.68M477.1 43.9h0.68M478.5 46.1h0.68M484.2 44.3h0.68M490.9 45.8h0.68M480.9 45.1h0.68M500.2 45.3h0.68M488.4 48.1h0.68M486.8 48.5h0.68M492.6 46.1h0.68M479.6 45.0h0.68M481.9 49.4h0.68M495.6 44.9h0.68M491.5 48.8h0.68M482.7 47.2h0.68M481.5 47.2h0.68M475.6 47.3h0.68M494.1 47.1h0.68M505.4 47.1h0.68M486.7 48.3h0.68M488.2 48.7h0.68M473.9 50.1h0.68M481.7 47.6h0.68M500.9 45.2h0.68M482.2 49.6h0.68M475.0 48.8h0.68M488.4 46.8h0.68M480.1 47.4h0.68M479.9 49.6h0.68M486.0 47.5h0.68M487.6 45.3h0.68M486.6 46.4h0.68M480.6 46.4h0.68M489.3 45.4h0.68M485.8 43.1h0.68M485.2 80.4h0.68M490.0 79.4h0.68M487.6 97.1h0.68M484.3 79.6h0.68M483.9 78.1h0.68M488.2 90.6h0.68M486.7 80.8h0.68M486.3 98.4h0.68M489.3 79.5h0.68M490.0 85.1h0.68M487.2 78.6h0.68M483.2 87.6h0.68M482.7 78.1h0.68M487.6 90.1h0.68M488.8 90.5h0.68M486.8 80.4h0.68M485.8 89.0h0.68M488.1 101.9h0.68M488.4 87.6h0.68M488.8 79.0h0.68M484.5 101.0h0.68M485.6 94.7h0.68M479.2 79.4h0.68M485.9 101.4h0.68M492.0 96.9h0.68M485.0 82.0h0.68M491.1 91.2h0.68M491.1 79.3h0.68M482.6 93.0h0.68M482.6 96.4h0.68M490.0 95.8h0.68M485.5 88.6h0.68M488.9 92.6h0.68M485.8 101.2h0.68M480.6 88.5h0.68M487.7 78.3h0.68M480.3 99.6h0.68M485.0 76.8h0.68M486.8 87.9h0.68M483.2 88.3h0.68M486.7 97.1h0.68M480.6 87.2h0.68M488.2 79.6h0.68M481.2 91.7h0.68M489.8 86.8h0.68M483.6 89.3h0.68M484.6 89.7h0.68M487.9 83.2h0.68M486.6 80.8h0.68M478.7 77.3h0.68M494.1 88.1h0.68M492.3 100.6h0.68M484.7 92.8h0.68M493.0 82.2h0.68M487.4 87.3h0.68M487.5 91.4h0.68M486.7 99.8h0.68M478.5 82.9h0.68M491.6 86.9h0.68M489.1 83.7h0.68M491.5 78.7h0.68M491.2 96.4h0.68M493.0 82.0h0.68M485.2 91.0h0.68M484.5 89.5h0.68M485.7 81.8h0.68M489.7 82.2h0.68M479.7 86.1h0.68M488.5 84.9h0.68M487.3 95.2h0.68M485.7 83.8h0.68M488.4 80.2h0.68M486.3 101.2h0.68M485.6 96.7h0.68M483.1 100.1h0.68M494.5 89.1h0.68M487.3 98.9h0.68M483.7 99.0h0.68M486.3 84.2h0.68M481.5 77.1h0.68M491.2 95.3h0.68M482.9 89.4h0.68M488.0 91.3h0.68M489.0 97.8h0.68M489.6 98.6h0.68M482.6 78.5h0.68M482.7 95.5h0.68M488.4 77.1h0.68M491.1 85.1h0.68M486.5 87.8h0.68M484.9 97.8h0.68M487.8 84.0h0.68M483.2 88.5h0.68M489.7 95.2h0.68M483.3 100.4h0.68M486.5 90.3h0.68M493.1 94.1h0.68M483.6 82.7h0.68M487.6 96.3h0.68M482.4 87.9h0.68M489.8 82.1h0.68M487.3 95.1h0.68M491.7 92.2h0.68M486.2 87.4h0.68M489.5 92.9h0.68M489.7 91.2h0.68M486.7 83.4h0.68M486.1 81.2h0.68M487.2 91.9h0.68M482.7 100.6h0.68M488.8 86.7h0.68M489.3 81.9h0.68M483.1 80.8h0.68M489.1 86.1h0.68M486.7 100.2h0.68M481.8 84.4h0.68M488.9 82.7h0.68M484.5 92.2h0.68M483.0 95.3h0.68M484.5 93.0h0.68M487.4 101.3h0.68M487.7 85.2h0.68M485.4 91.0h0.68M490.9 92.5h0.68M487.1 97.1h0.68M482.5 84.4h0.68M485.3 80.9h0.68M490.8 90.7h0.68M483.4 94.1h0.68M490.4 84.3h0.68M487.1 81.6h0.68M490.3 85.1h0.68M486.4 78.8h0.68M490.9 99.2h0.68M487.3 100.6h0.68M484.5 100.8h0.68M489.4 93.1h0.68M486.5 94.2h0.68M482.4 94.9h0.68M487.6 77.9h0.68M483.6 84.8h0.68M486.7 101.3h0.68M489.1 93.7h0.68M485.2 91.3h0.68M489.2 92.9h0.68M485.1 101.4h0.68M488.5 83.8h0.68M485.9 84.2h0.68M485.0 85.8h0.68M485.9 83.2h0.68M489.3 83.7h0.68M490.6 100.9h0.68M483.3 79.5h0.68M490.4 77.9h0.68M490.9 90.8h0.68M482.8 98.3h0.68M485.0 93.3h0.68M485.4 99.5h0.68M488.7 89.9h0.68M480.4 99.6h0.68M484.7 77.2h0.68M487.6 101.1h0.68M491.0 85.3h0.68M493.2 89.5h0.68M487.5 100.8h0.68M488.5 100.6h0.68M486.4 80.1h0.68M482.1 78.6h0.68M483.8 78.4h0.68M481.5 94.1h0.68M484.5 93.3h0.68M484.8 96.2h0.68M488.8 93.6h0.68M491.5 96.1h0.68M484.3 82.5h0.68M482.8 100.6h0.68M486.9 98.6h0.68M483.9 98.9h0.68M487.7 84.1h0.68M489.6 97.4h0.68M486.4 101.6h0.68M489.6 97.0h0.68M488.9 101.9h0.68M491.7 95.5h0.68M485.7 95.3h0.68M484.4 92.2h0.68M483.9 85.8h0.68M490.9 92.3h0.68M490.9 94.0h0.68M486.0 96.1h0.68M486.2 84.0h0.68M488.7 97.8h0.68M488.4 94.7h0.68M492.9 82.2h0.68M486.9 81.3h0.68M487.0 86.3h0.68M490.1 85.4h0.68M482.5 93.9h0.68M486.4 81.6h0.68M490.0 100.8h0.68M484.4 86.5h0.68M485.0 86.8h0.68M481.5 85.3h0.68M486.9 78.9h0.68M485.4 92.8h0.68M489.1 87.3h0.68M486.2 88.8h0.68M488.6 82.2h0.68M492.9 85.2h0.68M489.7 76.3h0.68M493.7 91.2h0.68M480.6 97.4h0.68M484.0 86.0h0.68M485.4 96.2h0.68M486.0 83.0h0.68M488.0 83.2h0.68M486.6 93.7h0.68M490.5 78.1h0.68M491.8 79.2h0.68M492.0 99.5h0.68M491.0 96.0h0.68M487.2 101.0h0.68M484.2 93.4h0.68M485.5 93.7h0.68M486.6 83.4h0.68M485.8 100.4h0.68M486.5 99.8h0.68M485.8 84.8h0.68M490.7 94.5h0.68M487.3 100.2h0.68M486.4 81.8h0.68M490.1 79.1h0.68M487.7 95.5h0.68M482.6 80.1h0.68M487.4 78.3h0.68M480.7 97.2h0.68M485.3 82.4h0.68M485.5 89.4h0.68M488.0 93.6h0.68M492.5 84.3h0.68M482.4 80.5h0.68M486.6 79.7h0.68M480.6 97.7h0.68M489.2 86.0h0.68M490.0 87.3h0.68M493.0 95.6h0.68M487.3 82.8h0.68M489.7 94.7h0.68M481.9 92.8h0.68M486.7 97.1h0.68M484.7 82.2h0.68M483.6 97.0h0.68M489.2 82.0h0.68M486.9 100.9h0.68M485.6 82.8h0.68M484.8 89.9h0.68M484.3 86.2h0.68M486.1 80.8h0.68M485.3 77.3h0.68M485.7 97.8h0.68M492.2 82.4h0.68M490.1 78.0h0.68M486.2 91.5h0.68M488.3 92.0h0.68M486.3 83.6h0.68M483.1 98.0h0.68M485.1 87.2h0.68M489.5 87.5h0.68M488.4 98.0h0.68M482.8 92.4h0.68M485.2 101.3h0.68M488.2 82.5h0.68M482.5 100.1h0.68M488.9 77.7h0.68M485.3 101.3h0.68M489.2 99.5h0.68M483.3 77.1h0.68M487.6 101.8h0.68M487.1 95.1h0.68M486.6 101.4h0.68M489.7 87.1h0.68M487.8 88.5h0.68M482.5 84.8h0.68M489.0 89.6h0.68M483.0 82.5h0.68M487.3 88.4h0.68M484.0 81.3h0.68M483.5 90.8h0.68M485.0 78.0h0.68M491.6 92.2h0.68M483.1 84.2h0.68M497.7 87.3h0.68M484.5 80.3h0.68M488.2 87.0h0.68M487.4 97.9h0.68M481.5 86.2h0.68M481.7 101.1h0.68M482.4 100.7h0.68M488.9 99.9h0.68M493.7 90.4h0.68M488.9 93.8h0.68M488.7 95.0h0.68M485.7 95.3h0.68M480.8 85.2h0.68M484.5 83.6h0.68M487.9 87.2h0.68M487.3 95.5h0.68M481.7 95.7h0.68M489.0 89.5h0.68M486.4 85.2h0.68M488.8 81.2h0.68M489.0 100.4h0.68M485.5 80.9h0.68M491.9 114.3h0.68M491.1 126.7h0.68M479.5 109.7h0.68M493.9 119.3h0.68M487.9 104.2h0.68M481.7 111.1h0.68M476.1 122.1h0.68M491.7 119.1h0.68M497.1 126.9h0.68M495.2 122.2h0.68M485.1 112.3h0.68M493.1 123.8h0.68M486.6 108.5h0.68M486.7 104.0h0.68M479.4 115.2h0.68M481.6 107.1h0.68M497.3 114.1h0.68M480.2 103.2h0.68M485.5 102.6h0.68M487.6 103.1h0.68M484.3 110.0h0.68M489.1 110.1h0.68M494.2 120.1h0.68M484.2 113.4h0.68M495.8 123.7h0.68M481.8 116.8h0.68M482.1 103.2h0.68M490.7 122.0h0.68M475.9 125.4h0.68M495.4 103.3h0.68M482.8 105.7h0.68M482.4 123.1h0.68M482.0 105.2h0.68M498.0 125.4h0.68M489.6 102.9h0.68M477.5 118.8h0.68M484.9 106.5h0.68M480.6 127.1h0.68M483.3 113.8h0.68M482.6 118.8h0.68M482.0 116.2h0.68M479.3 126.3h0.68M484.9 104.9h0.68M492.0 112.1h0.68M486.1 119.1h0.68M480.7 118.3h0.68M482.4 112.5h0.68M488.6 104.8h0.68M489.4 104.6h0.68M489.3 105.1h0.68M486.1 107.5h0.68M490.7 103.2h0.68M480.1 121.0h0.68M484.6 103.3h0.68M485.2 122.1h0.68M484.1 104.6h0.68M479.9 123.2h0.68M494.2 126.2h0.68M480.2 102.7h0.68M485.1 104.0h0.68M483.0 105.1h0.68M482.0 120.9h0.68M484.6 110.0h0.68M482.4 109.1h0.68M485.0 104.9h0.68M477.1 116.0h0.68M476.6 125.1h0.68M482.5 104.1h0.68M490.5 121.4h0.68M485.4 111.3h0.68M482.0 121.6h0.68M486.4 105.3h0.68M489.8 120.1h0.68M485.9 111.9h0.68M499.6 124.5h0.68M491.4 103.4h0.68M485.8 110.1h0.68M496.7 112.1h0.68M493.1 113.1h0.68M489.1 115.7h0.68M488.7 109.8h0.68M481.7 105.1h0.68M487.5 108.3h0.68M497.5 118.5h0.68M484.8 112.5h0.68M485.9 103.9h0.68M482.7 109.2h0.68M487.9 104.1h0.68M485.9 110.1h0.68M479.7 120.8h0.68M493.9 126.8h0.68M482.7 104.3h0.68M486.1 113.5h0.68M484.7 106.3h0.68M485.2 106.5h0.68M474.4 110.0h0.68M482.6 113.6h0.68M492.8 119.6h0.68M485.5 109.0h0.68M475.0 116.1h0.68M492.6 124.1h0.68M485.0 105.4h0.68M484.5 109.7h0.68M485.9 114.7h0.68M478.4 127.0h0.68M485.2 106.6h0.68M489.7 117.1h0.68M495.2 115.3h0.68M484.4 110.2h0.68M494.2 103.3h0.68M496.0 116.3h0.68M493.1 118.3h0.68M483.2 104.3h0.68M490.5 119.2h0.68M481.7 121.0h0.68M489.1 113.0h0.68M482.0 108.3h0.68M484.8 104.3h0.68M487.9 104.8h0.68M482.7 120.4h0.68M494.1 115.0h0.68M473.4 120.2h0.68M491.9 119.7h0.68M494.6 117.8h0.68M483.7 126.4h0.68M484.0 112.3h0.68M491.0 116.2h0.68M492.2 121.6h0.68M489.8 110.2h0.68M482.1 113.0h0.68M482.5 120.3h0.68M486.4 102.9h0.68M488.1 103.8h0.68M490.8 116.3h0.68M482.0 109.7h0.68M480.2 120.4h0.68M483.0 105.2h0.68M476.8 122.4h0.68M487.4 111.4h0.68M491.6 105.1h0.68M492.5 124.2h0.68M495.2 109.5h0.68M490.3 109.1h0.68M490.5 107.1h0.68M480.3 124.7h0.68M495.1 119.4h0.68M488.1 118.9h0.68M485.0 104.7h0.68M473.4 127.3h0.68M492.6 106.9h0.68M480.9 120.9h0.68M487.7 112.9h0.68M493.0 124.7h0.68M482.3 110.8h0.68M489.8 109.0h0.68M482.7 108.0h0.68M486.9 104.4h0.68M481.2 120.6h0.68M477.4 116.1h0.68M496.8 124.9h0.68M493.0 114.9h0.68M485.4 111.5h0.68M492.6 115.6h0.68M494.8 126.1h0.68M475.1 127.0h0.68M479.3 126.9h0.68M475.2 127.5h0.68M491.3 120.4h0.68M498.0 125.8h0.68M477.2 122.9h0.68M491.7 120.5h0.68M482.4 116.6h0.68M488.6 104.4h0.68M490.4 106.0h0.68M490.7 113.0h0.68M482.0 114.9h0.68M495.2 124.2h0.68M491.8 105.0h0.68M486.6 103.9h0.68M478.6 110.5h0.68M486.4 113.9h0.68M488.0 110.7h0.68M491.5 110.5h0.68M483.5 110.8h0.68M492.0 115.9h0.68M484.0 106.9h0.68M496.6 116.5h0.68M495.4 108.5h0.68M482.9 120.1h0.68M490.7 107.2h0.68M487.0 104.6h0.68M486.5 109.3h0.68M477.0 118.2h0.68M486.9 106.5h0.68M481.4 117.7h0.68M494.0 122.6h0.68M477.9 109.3h0.68M491.7 109.4h0.68M494.2 120.3h0.68M485.1 111.6h0.68M484.4 114.6h0.68M486.8 107.4h0.68M497.3 119.7h0.68M494.8 123.1h0.68M480.9 120.3h0.68M482.9 112.0h0.68M494.3 123.9h0.68M494.8 120.7h0.68M486.9 109.0h0.68M486.9 111.1h0.68M495.9 115.5h0.68M485.0 108.6h0.68M477.6 119.3h0.68M494.2 121.2h0.68M486.8 102.6h0.68M489.6 115.1h0.68M478.1 114.9h0.68M487.1 105.5h0.68M492.6 109.7h0.68M487.7 106.4h0.68M480.0 116.9h0.68M489.8 108.5h0.68M494.7 119.4h0.68M493.0 109.4h0.68M490.3 111.0h0.68M482.4 115.6h0.68M490.1 104.4h0.68M478.4 122.5h0.68M488.7 106.3h0.68M490.1 114.3h0.68M487.3 111.6h0.68M488.0 106.8h0.68M487.3 103.4h0.68M487.5 107.8h0.68M495.7 117.0h0.68M481.6 119.5h0.68M484.6 114.7h0.68M491.4 118.7h0.68M493.4 118.3h0.68M493.3 116.1h0.68M479.1 122.6h0.68M493.2 118.9h0.68M477.3 115.3h0.68M490.3 126.7h0.68M491.5 117.7h0.68M482.5 103.2h0.68M492.0 120.0h0.68M484.0 114.5h0.68M495.9 115.2h0.68M486.8 107.0h0.68M491.3 111.2h0.68M494.2 112.5h0.68M492.9 116.4h0.68M475.2 122.9h0.68M484.3 105.8h0.68M495.0 121.1h0.68M485.3 106.0h0.68M481.2 105.6h0.68M489.1 113.2h0.68M489.9 103.5h0.68M490.7 121.3h0.68M483.1 111.3h0.68M482.3 123.1h0.68M485.7 103.9h0.68M482.1 116.9h0.68M494.4 124.8h0.68M494.0 114.0h0.68M483.5 106.6h0.68M480.5 118.2h0.68M489.2 116.6h0.68M494.3 120.3h0.68M487.7 103.5h0.68M488.4 114.3h0.68M482.7 111.4h0.68M479.0 113.6h0.68M484.5 103.4h0.68M478.1 111.5h0.68M481.6 109.6h0.68M490.1 112.5h0.68M493.1 120.1h0.68M486.1 103.1h0.68M487.9 114.6h0.68M481.3 121.2h0.68M479.8 122.5h0.68M491.3 115.3h0.68M489.5 107.2h0.68M488.8 104.4h0.68M497.4 127.2h0.68M478.9 114.7h0.68M492.1 123.5h0.68M496.9 127.5h0.68M482.3 123.3h0.68M477.2 127.6h0.68M491.5 119.2h0.68M481.9 118.2h0.68M485.4 106.2h0.68M496.3 123.7h0.68M475.9 120.8h0.68M481.6 120.9h0.68M486.1 107.2h0.68M496.7 124.4h0.68M494.6 116.7h0.68M482.9 108.1h0.68M492.6 117.2h0.68M492.9 117.6h0.68M490.3 112.5h0.68M479.7 119.1h0.68M495.4 121.2h0.68M492.5 121.5h0.68M481.7 102.9h0.68M487.2 108.7h0.68M493.5 111.7h0.68M479.9 114.4h0.68M490.1 112.5h0.68M490.6 119.8h0.68M477.4 115.8h0.68M486.3 106.3h0.68M491.4 113.5h0.68M496.5 123.2h0.68M493.4 120.8h0.68M487.9 103.9h0.68M490.9 108.9h0.68M483.4 105.6h0.68M490.0 109.1h0.68M481.8 105.3h0.68M477.3 119.6h0.68M478.3 127.4h0.68M494.9 124.0h0.68M478.6 117.7h0.68M486.1 104.1h0.68M481.3 107.4h0.68M490.2 105.0h0.68M496.3 126.9h0.68M483.7 108.4h0.68M483.4 103.5h0.68M489.2 120.8h0.68M482.2 109.6h0.68M488.3 114.0h0.68M491.6 122.5h0.68M488.4 104.7h0.68M491.4 105.6h0.68M491.6 107.7h0.68M492.7 115.6h0.68M493.4 111.6h0.68M495.1 122.5h0.68M482.7 113.7h0.68M490.7 120.3h0.68M488.9 109.4h0.68M489.1 107.4h0.68M484.6 102.8h0.68M492.0 122.6h0.68M489.7 104.7h0.68M492.7 114.1h0.68M499.3 127.1h0.68M492.9 126.0h0.68M480.8 124.4h0.68M486.3 114.6h0.68M492.4 123.2h0.68M482.5 122.1h0.68M478.4 124.4h0.68M489.1 121.7h0.68M494.9 126.7h0.68M487.6 104.1h0.68M482.7 106.1h0.68M481.2 108.6h0.68M493.7 116.8h0.68M481.0 111.2h0.68M488.7 116.1h0.68M478.4 125.6h0.68M493.6 123.6h0.68M480.1 115.1h0.68M488.4 105.9h0.68M491.2 124.4h0.68M483.0 108.6h0.68M490.8 113.0h0.68M485.0 105.6h0.68M484.4 107.5h0.68M484.1 106.4h0.68M488.1 113.6h0.68M481.8 120.9h0.68M487.0 102.8h0.68M489.5 114.5h0.68M491.9 112.7h0.68M486.1 105.8h0.68M480.2 123.8h0.68M485.3 107.4h0.68M487.4 103.7h0.68M492.5 111.0h0.68M494.2 127.3h0.68M478.3 125.6h0.68M479.3 108.6h0.68M482.8 109.6h0.68M494.7 126.8h0.68M497.6 125.5h0.68M487.7 114.0h0.68M489.9 115.1h0.68M502.0 117.8h0.68M481.8 115.7h0.68M484.9 114.8h0.68M487.6 112.9h0.68M493.5 106.0h0.68M493.4 126.4h0.68M491.1 119.8h0.68M476.3 127.3h0.68M481.2 123.3h0.68M481.3 115.6h0.68M477.0 109.2h0.68M489.3 107.0h0.68M493.7 124.4h0.68M489.3 103.2h0.68M479.9 116.2h0.68M488.3 107.1h0.68M478.0 117.1h0.68M494.0 118.2h0.68M480.4 125.5h0.68M492.0 125.0h0.68M484.6 104.1h0.68M482.5 120.8h0.68M489.6 104.8h0.68M494.1 127.3h0.68M484.0 103.1h0.68M483.9 115.9h0.68M494.1 108.5h0.68M481.1 112.5h0.68M485.3 106.9h0.68M484.0 110.5h0.68M495.5 119.2h0.68M489.6 108.2h0.68M489.4 113.1h0.68M489.9 119.4h0.68M492.4 125.3h0.68M480.5 115.5h0.68M491.0 122.2h0.68M490.4 112.5h0.68M487.5 117.2h0.68M490.3 118.7h0.68M482.5 113.4h0.68M490.2 115.3h0.68M479.6 123.6h0.68M483.5 109.3h0.68M481.5 126.1h0.68M492.9 127.7h0.68M488.5 119.0h0.68M493.7 120.6h0.68M490.0 110.7h0.68M478.9 124.4h0.68M499.9 125.0h0.68M490.7 123.2h0.68M489.5 109.6h0.68M480.8 108.1h0.68M465.7 109.5h0.68M425.4 79.4h0.68M444.4 113.1h0.68M445.6 92.7h0.68M492.5 96.8h0.68M457.9 110.3h0.68M457.5 126.2h0.68M459.6 125.1h0.68M460.4 92.1h0.68M464.3 55.6h0.68M416.6 60.5h0.68M493.3 98.8h0.68M475.9 89.7h0.68M475.0 101.4h0.68M446.0 99.4h0.68M417.3 85.8h0.68M457.4 76.3h0.68M426.2 90.2h0.68M419.6 99.3h0.68M487.1 88.8h0.68M471.6 59.7h0.68M436.1 87.6h0.68M451.2 58.3h0.68M473.2 55.7h0.68M425.5 71.1h0.68M481.8 59.7h0.68M461.3 125.5h0.68M476.2 83.8h0.68M466.1 78.2h0.68M481.7 97.3h0.68M440.3 118.9h0.68M495.7 116.9h0.68M441.4 116.7h0.68M455.2 120.6h0.68M482.7 80.5h0.68M468.6 109.8h0.68M438.3 83.5h0.68M494.9 124.7h0.68M492.0 69.3h0.68M488.7 123.3h0.68M436.5 58.2h0.68M453.6 108.4h0.68M470.5 102.8h0.68M493.5 124.1h0.68M436.2 56.5h0.68M465.2 86.0h0.68M421.1 91.8h0.68M491.5 56.8h0.68M486.3 63.6h0.68M491.0 123.3h0.68M445.8 65.5h0.68M428.1 55.1h0.68M465.8 72.4h0.68M443.8 93.7h0.68M483.5 111.9h0.68M431.2 59.1h0.68M448.7 121.7h0.68M494.9 123.9h0.68M446.2 100.9h0.68M465.0 72.5h0.68M470.0 74.7h0.68M431.1 86.8h0.68M467.3 57.2h0.68M481.1 111.1h0.68M468.7 80.8h0.68M417.2 79.2h0.68M428.2 97.2h0.68M484.0 79.0h0.68M501.3 98.8h0.68M473.4 108.3h0.68M482.1 85.0h0.68M451.0 123.2h0.68M457.8 74.3h0.68M477.7 101.4h0.68M465.7 108.2h0.68M449.4 97.7h0.68M449.2 78.8h0.68M475.1 109.9h0.68M441.1 102.7h0.68M456.7 60.6h0.68M482.4 61.4h0.68M435.8 64.1h0.68M490.7 87.8h0.68M495.2 92.7h0.68M458.5 110.7h0.68M460.5 68.4h0.68M430.9 80.6h0.68M441.7 61.6h0.68M446.2 126.9h0.68M431.6 96.4h0.68M422.2 103.2h0.68M472.1 122.2h0.68M469.3 80.3h0.68M479.4 86.8h0.68M499.6 72.6h0.68M434.8 109.0h0.68M496.5 122.0h0.68M455.2 91.0h0.68M441.7 122.4h0.68M449.5 115.5h0.68M457.6 85.0h0.68M476.9 95.8h0.68M420.8 55.1h0.68M474.1 67.5h0.68M451.7 124.2h0.68M473.9 72.5h0.68M447.3 87.4h0.68M443.4 77.2h0.68M455.0 114.7h0.68M469.9 65.7h0.68M490.3 104.9h0.68M498.1 96.0h0.68M440.7 56.4h0.68M451.1 83.8h0.68M458.5 52.8h0.68M477.9 53.0h0.68M453.1 94.7h0.68M488.2 64.0h0.68M485.6 82.2h0.68M481.5 66.2h0.68M470.7 92.5h0.68M420.9 77.4h0.68M494.6 124.3h0.68M470.8 64.8h0.68M418.2 73.5h0.68M451.6 91.5h0.68M470.9 114.8h0.68M465.0 59.3h0.68M416.8 74.3h0.68M468.1 101.9h0.68M472.3 121.5h0.68M490.7 109.8h0.68M457.5 52.5h0.68M443.8 67.2h0.68M419.6 63.8h0.68M435.5 101.1h0.68M466.1 114.2h0.68M458.9 82.8h0.68M444.1 113.2h0.68M448.1 126.8h0.68M443.9 111.8h0.68M474.7 77.8h0.68M466.1 105.5h0.68M443.6 54.2h0.68M449.4 127.1h0.68M426.6 69.4h0.68M494.5 79.2h0.68M426.2 66.2h0.68M467.3 120.6h0.68M454.4 102.9h0.68M428.8 119.0h0.68M499.4 81.4h0.68M452.8 108.0h0.68M495.5 74.2h0.68M465.9 75.5h0.68M425.1 55.2h0.68M487.1 58.2h0.68M447.5 125.9h0.68M427.1 117.4h0.68M465.1 63.5h0.68M494.3 116.2h0.68M419.4 117.9h0.68" stroke="#161616" stroke-width="0.68" fill="none" opacity="0.74"/>
</g>
<path d="M479.3 47.5 Q489.3 44.0 497.3 50.0 Q496.8 61.0 491.3 73.0 L486.8 73.0 Q485.3 57.0 479.3 47.5 Z" fill="#cfcfcf" opacity="0.97" filter="url(#bl0)" stroke="#777" stroke-width="0.8"/>
<ellipse cx="489.3" cy="56.0" rx="1.5" ry="2.1" fill="#ddd" stroke="#5a5a5a" stroke-width="0.9" filter="url(#soft)"/>
</g>
<rect x="415.70" y="32.20" width="105.80" height="96.10" fill="none" stroke="#7c7c7c" stroke-width="1" />
<rect x="415.70" y="77.80" width="29.50" height="49.90" fill="none" stroke="#454545" stroke-width="0.95" />
<rect x="453.50" y="41.50" width="16.70" height="34.10" fill="none" stroke="#454545" stroke-width="0.95" />
<rect x="470.20" y="41.50" width="31.10" height="34.10" fill="none" stroke="#454545" stroke-width="0.95" />
<rect x="470.20" y="76.60" width="31.10" height="25.20" fill="none" stroke="#454545" stroke-width="0.95" />
<rect x="470.20" y="102.60" width="31.10" height="25.10" fill="none" stroke="#454545" stroke-width="0.95" />
<rect x="439.2" y="51.2" width="16.2" height="6.8" fill="#fff" opacity="0.88"/>
<text x="440" y="57.1" font-size="7.3" font-weight="bold" text-anchor="start" fill="#1a1a1a" >1.07</text>
<rect x="499.0" y="52.300000000000004" width="20.1" height="6.8" fill="#fff" opacity="0.88"/>
<text x="499.8" y="58.2" font-size="7.3" font-weight="bold" text-anchor="start" fill="#1a1a1a" >47.32</text>
<rect x="502.2" y="87.0" width="16.2" height="6.8" fill="#fff" opacity="0.88"/>
<text x="503" y="92.9" font-size="7.3" font-weight="bold" text-anchor="start" fill="#1a1a1a" >2.72</text>
<rect x="499.5" y="115.1" width="20.1" height="6.8" fill="#fff" opacity="0.88"/>
<text x="500.3" y="121" font-size="7.3" font-weight="bold" text-anchor="start" fill="#1a1a1a" >10.43</text>
<rect x="446.5" y="117.6" width="20.1" height="6.8" fill="#fff" opacity="0.88"/>
<text x="447.3" y="123.5" font-size="7.3" font-weight="bold" text-anchor="start" fill="#1a1a1a" >34.93</text>
<path d="M54.2 128.1v1.8M60.7 128.1v1.0M67.2 128.1v1.0M73.7 128.1v1.0M80.2 128.1v1.8M86.7 128.1v1.0M93.2 128.1v1.0M99.7 128.1v1.0M106.2 128.1v1.8M112.7 128.1v1.0M119.2 128.1v1.0M125.7 128.1v1.0M132.2 128.1v1.8M138.7 128.1v1.0M145.2 128.1v1.0M151.7 128.1v1.0M52.7 126.6h-1.6M52.7 120.6h-0.9M52.7 114.6h-0.9M52.7 108.6h-0.9M52.7 102.6h-1.6M52.7 96.6h-0.9M52.7 90.6h-0.9M52.7 84.6h-0.9M52.7 78.6h-1.6M52.7 72.6h-0.9M52.7 66.6h-0.9M52.7 60.6h-0.9M52.7 54.6h-1.6M52.7 48.6h-0.9M52.7 42.6h-0.9M52.7 36.6h-0.9" stroke="#9a9a9a" stroke-width="0.7" fill="none" opacity="0.7"/>
<path d="M168.6 127.9v1.8M175.1 127.9v1.0M181.6 127.9v1.0M188.1 127.9v1.0M194.6 127.9v1.8M201.1 127.9v1.0M207.6 127.9v1.0M214.1 127.9v1.0M220.6 127.9v1.8M227.1 127.9v1.0M233.6 127.9v1.0M240.1 127.9v1.0M246.6 127.9v1.8M253.1 127.9v1.0M259.6 127.9v1.0M266.1 127.9v1.0M167.1 126.4h-1.6M167.1 120.4h-0.9M167.1 114.4h-0.9M167.1 108.4h-0.9M167.1 102.4h-1.6M167.1 96.4h-0.9M167.1 90.4h-0.9M167.1 84.4h-0.9M167.1 78.4h-1.6M167.1 72.4h-0.9M167.1 66.4h-0.9M167.1 60.4h-0.9M167.1 54.4h-1.6M167.1 48.4h-0.9M167.1 42.4h-0.9M167.1 36.4h-0.9" stroke="#9a9a9a" stroke-width="0.7" fill="none" opacity="0.7"/>
<path d="M298.3 129.0v1.8M304.8 129.0v1.0M311.3 129.0v1.0M317.8 129.0v1.0M324.3 129.0v1.8M330.8 129.0v1.0M337.3 129.0v1.0M343.8 129.0v1.0M350.3 129.0v1.8M356.8 129.0v1.0M363.3 129.0v1.0M369.8 129.0v1.0M376.3 129.0v1.8M382.8 129.0v1.0M389.3 129.0v1.0M395.8 129.0v1.0M296.8 127.5h-1.6M296.8 121.5h-0.9M296.8 115.5h-0.9M296.8 109.5h-0.9M296.8 103.5h-1.6M296.8 97.5h-0.9M296.8 91.5h-0.9M296.8 85.5h-0.9M296.8 79.5h-1.6M296.8 73.5h-0.9M296.8 67.5h-0.9M296.8 61.5h-0.9M296.8 55.5h-1.6M296.8 49.5h-0.9M296.8 43.5h-0.9M296.8 37.5h-0.9" stroke="#9a9a9a" stroke-width="0.7" fill="none" opacity="0.7"/>
<path d="M416.7 128.8v1.8M423.2 128.8v1.0M429.7 128.8v1.0M436.2 128.8v1.0M442.7 128.8v1.8M449.2 128.8v1.0M455.7 128.8v1.0M462.2 128.8v1.0M468.7 128.8v1.8M475.2 128.8v1.0M481.7 128.8v1.0M488.2 128.8v1.0M494.7 128.8v1.8M501.2 128.8v1.0M507.7 128.8v1.0M514.2 128.8v1.0M415.2 127.3h-1.6M415.2 121.3h-0.9M415.2 115.3h-0.9M415.2 109.3h-0.9M415.2 103.3h-1.6M415.2 97.3h-0.9M415.2 91.3h-0.9M415.2 85.3h-0.9M415.2 79.3h-1.6M415.2 73.3h-0.9M415.2 67.3h-0.9M415.2 61.3h-0.9M415.2 55.3h-1.6M415.2 49.3h-0.9M415.2 43.3h-0.9M415.2 37.3h-0.9" stroke="#9a9a9a" stroke-width="0.7" fill="none" opacity="0.7"/>
<text x="1" y="182.4" font-size="20" font-weight="bold" text-anchor="start" fill="#000" >B</text>
<text transform="translate(38.2,270.5) rotate(-90)" font-size="13.7" font-weight="bold" fill="#111">Erythroid (%)</text>
<line x1="68.00" y1="177.50" x2="68.00" y2="297.00" stroke="#9a9a9a" stroke-width="1" />
<line x1="66.00" y1="297.00" x2="265.00" y2="297.00" stroke="#9a9a9a" stroke-width="1" />
<line x1="65.50" y1="297.00" x2="68.00" y2="297.00" stroke="#c4c4c4" stroke-width="1" />
<text x="65" y="300.8" font-size="10.6" text-anchor="end" fill="#222" >0</text>
<line x1="65.50" y1="277.25" x2="68.00" y2="277.25" stroke="#c4c4c4" stroke-width="1" />
<text x="65" y="281.05" font-size="10.6" text-anchor="end" fill="#222" >10</text>
<line x1="65.50" y1="257.50" x2="68.00" y2="257.50" stroke="#c4c4c4" stroke-width="1" />
<text x="65" y="261.3" font-size="10.6" text-anchor="end" fill="#222" >20</text>
<line x1="65.50" y1="237.75" x2="68.00" y2="237.75" stroke="#c4c4c4" stroke-width="1" />
<text x="65" y="241.55" font-size="10.6" text-anchor="end" fill="#222" >30</text>
<line x1="65.50" y1="218.00" x2="68.00" y2="218.00" stroke="#c4c4c4" stroke-width="1" />
<text x="65" y="221.8" font-size="10.6" text-anchor="end" fill="#222" >40</text>
<line x1="65.50" y1="198.25" x2="68.00" y2="198.25" stroke="#c4c4c4" stroke-width="1" />
<text x="65" y="202.05" font-size="10.6" text-anchor="end" fill="#222" >50</text>
<line x1="65.50" y1="178.50" x2="68.00" y2="178.50" stroke="#c4c4c4" stroke-width="1" />
<text x="65" y="182.3" font-size="10.6" text-anchor="end" fill="#222" >60</text>
<rect x="77.00" y="202.20" width="13.50" height="94.80" fill="#fff" stroke="#222" stroke-width="1" />
<rect x="90.50" y="218.99" width="12.00" height="78.01" fill="url(#gp)" stroke="#333" stroke-width="1" />
<line x1="83.75" y1="202.20" x2="83.75" y2="200.22" stroke="#222" stroke-width="0.9" />
<line x1="82.15" y1="200.22" x2="85.35" y2="200.22" stroke="#222" stroke-width="0.9" />
<line x1="96.50" y1="218.99" x2="96.50" y2="218.20" stroke="#222" stroke-width="0.9" />
<line x1="94.90" y1="218.20" x2="98.10" y2="218.20" stroke="#222" stroke-width="0.9" />
<rect x="115.40" y="293.25" width="12.80" height="3.75" fill="#fff" stroke="#222" stroke-width="1" />
<rect x="128.20" y="294.04" width="13.40" height="2.96" fill="url(#gp)" stroke="#333" stroke-width="1" />
<rect x="152.80" y="245.06" width="13.40" height="51.94" fill="#fff" stroke="#222" stroke-width="1" />
<rect x="166.20" y="234.39" width="12.20" height="62.61" fill="url(#gp)" stroke="#333" stroke-width="1" />
<line x1="159.50" y1="245.06" x2="159.50" y2="243.48" stroke="#222" stroke-width="0.9" />
<line x1="157.90" y1="243.48" x2="161.10" y2="243.48" stroke="#222" stroke-width="0.9" />
<line x1="172.30" y1="234.39" x2="172.30" y2="233.40" stroke="#222" stroke-width="0.9" />
<line x1="170.70" y1="233.40" x2="173.90" y2="233.40" stroke="#222" stroke-width="0.9" />
<rect x="191.20" y="288.70" width="12.30" height="8.30" fill="#fff" stroke="#222" stroke-width="1" />
<rect x="203.50" y="286.73" width="13.90" height="10.27" fill="url(#gp)" stroke="#333" stroke-width="1" />
<line x1="197.35" y1="288.70" x2="197.35" y2="287.91" stroke="#222" stroke-width="0.9" />
<line x1="195.75" y1="287.91" x2="198.95" y2="287.91" stroke="#222" stroke-width="0.9" />
<rect x="228.60" y="270.53" width="13.80" height="26.47" fill="#fff" stroke="#222" stroke-width="1" />
<rect x="242.40" y="263.23" width="12.80" height="33.77" fill="url(#gp)" stroke="#333" stroke-width="1" />
<line x1="235.50" y1="270.53" x2="235.50" y2="269.74" stroke="#222" stroke-width="0.9" />
<line x1="233.90" y1="269.74" x2="237.10" y2="269.74" stroke="#222" stroke-width="0.9" />
<path d="M83.7 195.5 L83.7 190 Q83.7 188 85.7 188 L102.5 188 Q104.5 188 104.5 190 L104.5 195.5" fill="none" stroke="#222" stroke-width="1"/>
<text x="93" y="189.5" font-size="14" font-weight="bold" text-anchor="middle" fill="#111" >*</text>
<path d="M152.8 229 L152.8 224.4 Q152.8 222.4 154.8 222.4 L171.6 222.4 Q173.6 222.4 173.6 224.4 L173.6 229" fill="none" stroke="#222" stroke-width="1"/>
<text x="164" y="220.5" font-size="14" font-weight="bold" text-anchor="middle" fill="#111" >**</text>
<path d="M229.6 261 L229.6 254.8 Q229.6 252.8 231.6 252.8 L247.8 252.8 Q249.8 252.8 249.8 254.8 L249.8 261" fill="none" stroke="#222" stroke-width="1"/>
<text x="238.4" y="254.5" font-size="14" font-weight="bold" text-anchor="middle" fill="#111" >*</text>
<text x="88" y="316.8" font-size="15.6" font-weight="bold" text-anchor="middle" fill="#111" >i</text>
<text x="128.8" y="316.8" font-size="15.6" font-weight="bold" text-anchor="middle" fill="#111" >ii</text>
<text x="165.6" y="316.8" font-size="15.6" font-weight="bold" text-anchor="middle" fill="#111" >iii</text>
<text x="204" y="316.8" font-size="15.6" font-weight="bold" text-anchor="middle" fill="#111" >iv</text>
<text x="239.8" y="316.8" font-size="15.6" font-weight="bold" text-anchor="middle" fill="#111" >v</text>
<rect x="180.00" y="173.00" width="88.60" height="27.80" fill="#fff" stroke="#222" stroke-width="1.2" />
<rect x="186.40" y="176.00" width="10.00" height="9.60" fill="#fff" stroke="#222" stroke-width="1" />
<rect x="186.40" y="188.80" width="10.00" height="9.80" fill="url(#gp)" stroke="#333" stroke-width="1" />
<text x="199.2" y="185" font-size="10.2" fill="#111">Control;n<tspan dx="1.1">=3</tspan></text>
<text x="199.2" y="197.6" font-size="10.2" fill="#111">JAK2<tspan font-size="6.3" dy="-3.4">V617F</tspan><tspan dy="3.4">;n=3</tspan></text>
<line x1="310.70" y1="177.50" x2="310.70" y2="297.00" stroke="#9a9a9a" stroke-width="1" />
<line x1="308.70" y1="297.00" x2="515.00" y2="297.00" stroke="#9a9a9a" stroke-width="1" />
<line x1="308.20" y1="297.00" x2="310.70" y2="297.00" stroke="#c4c4c4" stroke-width="1" />
<text x="301" y="300.8" font-size="10.6" text-anchor="end" fill="#222" >0</text>
<line x1="308.20" y1="277.25" x2="310.70" y2="277.25" stroke="#c4c4c4" stroke-width="1" />
<text x="301" y="281.05" font-size="10.6" text-anchor="end" fill="#222" >10</text>
<line x1="308.20" y1="257.50" x2="310.70" y2="257.50" stroke="#c4c4c4" stroke-width="1" />
<text x="301" y="261.3" font-size="10.6" text-anchor="end" fill="#222" >20</text>
<line x1="308.20" y1="237.75" x2="310.70" y2="237.75" stroke="#c4c4c4" stroke-width="1" />
<text x="301" y="241.55" font-size="10.6" text-anchor="end" fill="#222" >30</text>
<line x1="308.20" y1="218.00" x2="310.70" y2="218.00" stroke="#c4c4c4" stroke-width="1" />
<text x="301" y="221.8" font-size="10.6" text-anchor="end" fill="#222" >40</text>
<line x1="308.20" y1="198.25" x2="310.70" y2="198.25" stroke="#c4c4c4" stroke-width="1" />
<text x="301" y="202.05" font-size="10.6" text-anchor="end" fill="#222" >50</text>
<line x1="308.20" y1="178.50" x2="310.70" y2="178.50" stroke="#c4c4c4" stroke-width="1" />
<text x="301" y="182.3" font-size="10.6" text-anchor="end" fill="#222" >60</text>
<rect x="319.20" y="190.35" width="13.80" height="106.65" fill="#fff" stroke="#222" stroke-width="1" />
<rect x="333.00" y="224.91" width="13.20" height="72.09" fill="url(#gp)" stroke="#333" stroke-width="1" />
<line x1="326.10" y1="190.35" x2="326.10" y2="186.00" stroke="#222" stroke-width="0.9" />
<line x1="324.50" y1="186.00" x2="327.70" y2="186.00" stroke="#222" stroke-width="0.9" />
<line x1="339.60" y1="224.91" x2="339.60" y2="223.33" stroke="#222" stroke-width="0.9" />
<line x1="338.00" y1="223.33" x2="341.20" y2="223.33" stroke="#222" stroke-width="0.9" />
<rect x="356.00" y="295.22" width="14.50" height="1.78" fill="#fff" stroke="#222" stroke-width="1" />
<rect x="370.50" y="295.22" width="14.50" height="1.78" fill="url(#gp)" stroke="#333" stroke-width="1" />
<rect x="397.50" y="230.44" width="13.20" height="66.56" fill="#fff" stroke="#222" stroke-width="1" />
<rect x="410.70" y="206.94" width="13.00" height="90.06" fill="url(#gp)" stroke="#333" stroke-width="1" />
<line x1="404.10" y1="230.44" x2="404.10" y2="224.91" stroke="#222" stroke-width="0.9" />
<line x1="402.50" y1="224.91" x2="405.70" y2="224.91" stroke="#222" stroke-width="0.9" />
<line x1="417.20" y1="206.94" x2="417.20" y2="206.15" stroke="#222" stroke-width="0.9" />
<line x1="415.60" y1="206.15" x2="418.80" y2="206.15" stroke="#222" stroke-width="0.9" />
<rect x="436.20" y="294.63" width="12.50" height="2.37" fill="#fff" stroke="#222" stroke-width="1" />
<rect x="448.70" y="291.27" width="13.80" height="5.73" fill="url(#gp)" stroke="#333" stroke-width="1" />
<line x1="442.45" y1="294.63" x2="442.45" y2="294.04" stroke="#222" stroke-width="0.9" />
<line x1="440.85" y1="294.04" x2="444.05" y2="294.04" stroke="#222" stroke-width="0.9" />
<rect x="475.70" y="282.98" width="13.00" height="14.02" fill="#fff" stroke="#222" stroke-width="1" />
<rect x="488.70" y="276.66" width="12.00" height="20.34" fill="url(#gp)" stroke="#333" stroke-width="1" />
<line x1="482.20" y1="282.98" x2="482.20" y2="282.19" stroke="#222" stroke-width="0.9" />
<line x1="480.60" y1="282.19" x2="483.80" y2="282.19" stroke="#222" stroke-width="0.9" />
<path d="M327 185 L327 179 Q327 177 329 177 L343.7 177 Q345.7 177 345.7 179 L345.7 185" fill="none" stroke="#222" stroke-width="1"/>
<text x="337" y="178.5" font-size="14" font-weight="bold" text-anchor="middle" fill="#111" >*</text>
<path d="M397.5 204.5 L397.5 198.2 Q397.5 196.2 399.5 196.2 L417.2 196.2 Q419.2 196.2 419.2 198.2 L419.2 204.5" fill="none" stroke="#222" stroke-width="1"/>
<text x="408.2" y="197.5" font-size="14" font-weight="bold" text-anchor="middle" fill="#111" >*</text>
<path d="M476.2 273 L476.2 268.2 Q476.2 266.2 478.2 266.2 L493.5 266.2 Q495.5 266.2 495.5 268.2 L495.5 273" fill="none" stroke="#222" stroke-width="1"/>
<text x="486.2" y="267" font-size="14" font-weight="bold" text-anchor="middle" fill="#111" >*</text>
<text x="333.5" y="316.8" font-size="15.6" font-weight="bold" text-anchor="middle" fill="#111" >i</text>
<text x="371" y="316.8" font-size="15.6" font-weight="bold" text-anchor="middle" fill="#111" >ii</text>
<text x="413.5" y="316.8" font-size="15.6" font-weight="bold" text-anchor="middle" fill="#111" >iii</text>
<text x="454" y="315" font-size="15.6" font-weight="bold" text-anchor="middle" fill="#111" >iv</text>
<text x="490" y="316.2" font-size="15.6" font-weight="bold" text-anchor="middle" fill="#111" >v</text>
<rect x="423.70" y="172.50" width="86.80" height="28.00" fill="#fff" stroke="#222" stroke-width="1.2" />
<rect x="429.20" y="175.50" width="10.00" height="10.00" fill="#fff" stroke="#222" stroke-width="1" />
<rect x="429.20" y="188.70" width="10.00" height="10.00" fill="url(#gp)" stroke="#333" stroke-width="1" />
<text x="441.7" y="185" font-size="10.2" fill="#111">Control;n<tspan dx="1.1">=3</tspan></text>
<text x="441.7" y="197.6" font-size="10.2" fill="#111">JAK2<tspan font-size="6.3" dy="-3.4">V617F</tspan><tspan dy="3.4">;n=3</tspan></text>
<text x="2" y="359" font-size="20" font-weight="bold" text-anchor="start" fill="#000" >C</text>
<text x="90.5" y="356.7" font-size="12.5" text-anchor="start" fill="#111" >Control</text>
<text x="205.7" y="358" font-size="12.5" fill="#111">JAK2<tspan font-size="9.0" dy="-4.4">V617F</tspan></text>
<text x="28.5" y="409.5" font-size="12.2" text-anchor="middle" fill="#111" >0.5ng/mL</text>
<text x="29.8" y="424.5" font-size="12.2" text-anchor="middle" fill="#111" >TPO</text>
<text x="30.3" y="508.3" font-size="12.4" text-anchor="middle" fill="#111" >5ng/mL</text>
<text x="30" y="522" font-size="12.4" text-anchor="middle" fill="#111" >TPO</text>
<line x1="64.50" y1="362.50" x2="163.00" y2="362.50" stroke="#cfcfcf" stroke-width="1" />
<line x1="163.00" y1="362.50" x2="163.00" y2="453.40" stroke="#d6d6d6" stroke-width="1" />
<line x1="64.50" y1="362.50" x2="64.50" y2="453.40" stroke="#555" stroke-width="1" stroke-dasharray="1 2.6"/>
<line x1="64.50" y1="453.40" x2="163.00" y2="453.40" stroke="#2a2a2a" stroke-width="1.3" />
<path d="M83.6 453.4 L83.6 453.0 L84.0 447.3 L84.5 442.2 L85.0 434.4 L85.4 429.2 L85.9 420.7 L86.3 405.6 L86.8 390.8 L87.2 384.0 L87.7 395.9 L88.1 409.3 L88.6 416.1 L89.0 426.5 L89.5 426.5 L89.9 428.9 L90.4 430.8 L90.8 433.0 L91.3 430.2 L91.7 426.8 L92.2 423.5 L92.6 414.6 L93.1 411.3 L93.5 415.2 L94.0 417.3 L94.4 423.2 L94.9 429.4 L95.3 435.1 L95.8 437.4 L96.2 439.2 L96.7 439.0 L97.1 440.9 L97.6 441.9 L98.0 443.0 L98.5 444.2 L98.9 444.7 L99.4 444.9 L99.8 445.4 L100.3 445.0 L100.7 446.0 L101.2 446.3 L101.6 446.6 L102.1 447.6 L102.5 447.0 L103.0 447.4 L103.4 447.6 L103.9 448.3 L104.3 448.5 L104.8 448.6 L105.2 448.9 L105.7 449.8 L106.1 449.5 L106.6 450.0 L107.0 450.3 L107.5 450.1 L107.9 450.6 L108.4 450.2 L108.8 450.5 L109.3 450.8 L109.7 450.7 L110.2 451.1 L110.6 451.0 L111.1 451.3 L111.5 451.1 L112.0 451.3 L112.4 451.4 L112.9 451.6 L113.3 451.6 L113.8 451.9 L114.2 451.9 L114.7 452.1 L115.1 451.9 L115.6 452.0 L116.0 452.1 L116.5 452.2 L116.9 452.1 L117.4 452.2 L117.8 452.4 L118.3 452.4 L118.7 452.3 L119.2 452.4 L119.6 452.4 L120.1 452.5 L120.5 452.5 L121.0 452.5 L121.4 452.6 L121.9 452.6 L122.0 453.4 Z" fill="#161616" stroke="#161616" stroke-width="0.75" stroke-linejoin="round"/>
<line x1="83.90" y1="406.40" x2="90.20" y2="406.40" stroke="#5a5a5a" stroke-width="0.9" />
<line x1="90.20" y1="399.30" x2="97.20" y2="399.30" stroke="#5a5a5a" stroke-width="0.9" />
<line x1="97.20" y1="396.00" x2="104.00" y2="396.00" stroke="#5a5a5a" stroke-width="0.9" />
<line x1="104.00" y1="388.80" x2="158.00" y2="388.80" stroke="#8a8a8a" stroke-width="1.2" />
<line x1="83.90" y1="403.40" x2="83.90" y2="409.90" stroke="#5a5a5a" stroke-width="0.9" />
<line x1="90.20" y1="395.80" x2="90.20" y2="409.90" stroke="#5a5a5a" stroke-width="0.9" />
<line x1="97.20" y1="392.50" x2="97.20" y2="402.80" stroke="#5a5a5a" stroke-width="0.9" />
<line x1="104.00" y1="385.30" x2="104.00" y2="399.50" stroke="#5a5a5a" stroke-width="0.9" />
<line x1="158.00" y1="385.80" x2="158.00" y2="391.80" stroke="#5a5a5a" stroke-width="0.9" />
<text x="134.5" y="394.6" font-size="4.2" text-anchor="middle" fill="#2a2a2a" >M4</text>
<text x="103.8" y="401.3" font-size="4.2" text-anchor="middle" fill="#2a2a2a" >M3</text>
<text x="97" y="404.7" font-size="4.2" text-anchor="middle" fill="#2a2a2a" >M2</text>
<text x="89.8" y="411" font-size="4.2" text-anchor="middle" fill="#2a2a2a" >M1</text>
<line x1="187.50" y1="362.50" x2="285.00" y2="362.50" stroke="#cfcfcf" stroke-width="1" />
<line x1="285.00" y1="362.50" x2="285.00" y2="451.60" stroke="#d6d6d6" stroke-width="1" />
<line x1="187.50" y1="362.50" x2="187.50" y2="451.60" stroke="#555" stroke-width="1" stroke-dasharray="1 2.6"/>
<line x1="187.50" y1="451.60" x2="285.00" y2="451.60" stroke="#2a2a2a" stroke-width="1.3" />
<path d="M206.3 451.6 L206.3 451.0 L206.8 448.6 L207.2 446.1 L207.6 444.3 L208.1 440.0 L208.5 435.6 L209.0 432.3 L209.4 429.1 L209.9 423.1 L210.3 417.9 L210.8 415.7 L211.2 413.8 L211.7 415.9 L212.1 423.8 L212.6 428.6 L213.0 429.0 L213.5 434.1 L213.9 434.1 L214.4 435.9 L214.8 431.8 L215.3 429.8 L215.7 428.9 L216.2 421.3 L216.6 417.0 L217.1 407.4 L217.5 400.6 L218.0 404.6 L218.4 406.0 L218.9 410.0 L219.3 413.9 L219.8 424.2 L220.2 426.8 L220.7 430.0 L221.1 435.1 L221.6 436.8 L222.0 437.6 L222.5 436.5 L222.9 435.2 L223.4 435.5 L223.8 432.6 L224.3 429.4 L224.7 426.4 L225.2 422.7 L225.6 421.7 L226.1 419.3 L226.5 422.0 L227.0 421.9 L227.4 427.2 L227.9 432.6 L228.3 437.3 L228.8 440.2 L229.2 443.1 L229.7 445.1 L230.1 445.5 L230.6 444.9 L231.0 444.3 L231.5 441.8 L231.9 440.0 L232.4 439.6 L232.8 442.6 L233.3 444.8 L233.7 444.9 L234.2 446.0 L234.6 447.4 L235.1 448.2 L235.5 448.2 L236.0 448.7 L236.4 448.8 L236.9 449.2 L237.3 449.7 L237.8 449.9 L238.2 450.1 L238.7 450.3 L239.1 450.4 L239.6 450.4 L240.0 450.5 L240.5 450.6 L240.9 450.7 L241.4 450.9 L241.8 450.9 L242.0 451.6 Z" fill="#161616" stroke="#161616" stroke-width="0.75" stroke-linejoin="round"/>
<line x1="206.30" y1="406.70" x2="214.40" y2="406.70" stroke="#5a5a5a" stroke-width="0.9" />
<line x1="214.40" y1="398.60" x2="223.00" y2="398.60" stroke="#5a5a5a" stroke-width="0.9" />
<line x1="223.00" y1="394.80" x2="230.00" y2="394.80" stroke="#5a5a5a" stroke-width="0.9" />
<line x1="230.00" y1="389.40" x2="282.50" y2="389.40" stroke="#8a8a8a" stroke-width="1.2" />
<line x1="206.30" y1="403.70" x2="206.30" y2="410.20" stroke="#5a5a5a" stroke-width="0.9" />
<line x1="214.40" y1="395.10" x2="214.40" y2="410.20" stroke="#5a5a5a" stroke-width="0.9" />
<line x1="223.00" y1="391.30" x2="223.00" y2="402.10" stroke="#5a5a5a" stroke-width="0.9" />
<line x1="230.00" y1="385.90" x2="230.00" y2="398.30" stroke="#5a5a5a" stroke-width="0.9" />
<line x1="282.50" y1="386.40" x2="282.50" y2="392.40" stroke="#5a5a5a" stroke-width="0.9" />
<text x="258.8" y="394.6" font-size="4.2" text-anchor="middle" fill="#2a2a2a" >M4</text>
<text x="229.8" y="400.6" font-size="4.2" text-anchor="middle" fill="#2a2a2a" >M3</text>
<text x="223.9" y="403.9" font-size="4.2" text-anchor="middle" fill="#2a2a2a" >M2</text>
<text x="212.9" y="411.3" font-size="4.2" text-anchor="middle" fill="#2a2a2a" >M1</text>
<line x1="64.50" y1="464.00" x2="163.00" y2="464.00" stroke="#cfcfcf" stroke-width="1" />
<line x1="163.00" y1="464.00" x2="163.00" y2="554.80" stroke="#d6d6d6" stroke-width="1" />
<line x1="64.50" y1="464.00" x2="64.50" y2="554.80" stroke="#555" stroke-width="1" stroke-dasharray="1 2.6"/>
<line x1="64.50" y1="554.80" x2="163.00" y2="554.80" stroke="#2a2a2a" stroke-width="1.3" />
<path d="M84.1 554.8 L84.1 554.0 L84.5 551.7 L85.0 549.1 L85.5 545.7 L85.9 543.6 L86.4 539.6 L86.8 536.7 L87.3 532.7 L87.7 526.4 L88.2 529.5 L88.6 534.7 L89.1 535.8 L89.5 536.8 L90.0 539.8 L90.4 539.0 L90.9 541.5 L91.3 540.0 L91.8 536.1 L92.2 533.8 L92.7 534.4 L93.1 527.0 L93.6 525.3 L94.0 520.4 L94.5 508.7 L94.9 511.3 L95.4 511.4 L95.8 523.0 L96.3 527.5 L96.7 528.7 L97.2 534.5 L97.6 536.8 L98.1 540.0 L98.5 541.2 L99.0 541.8 L99.4 540.4 L99.9 539.3 L100.3 536.8 L100.8 535.7 L101.2 529.4 L101.7 521.9 L102.1 515.4 L102.6 509.1 L103.0 503.8 L103.5 501.8 L103.9 507.5 L104.4 514.9 L104.8 525.7 L105.3 534.1 L105.7 539.0 L106.2 540.9 L106.6 542.1 L107.1 539.6 L107.5 536.1 L108.0 533.9 L108.4 519.1 L108.9 513.3 L109.3 500.1 L109.8 494.1 L110.2 491.2 L110.7 501.1 L111.1 508.6 L111.6 525.8 L112.0 537.3 L112.5 540.4 L112.9 544.4 L113.4 546.7 L113.8 543.6 L114.3 542.6 L114.7 539.8 L115.2 535.3 L115.6 534.6 L116.1 530.4 L116.5 533.3 L117.0 536.6 L117.4 541.8 L117.9 544.8 L118.3 547.7 L118.8 550.6 L119.2 552.0 L119.7 552.0 L120.1 552.5 L120.6 552.7 L121.0 553.0 L121.5 552.8 L121.9 552.5 L122.4 552.0 L122.8 552.0 L123.3 552.4 L123.7 552.9 L124.2 553.5 L124.5 554.8 Z" fill="#161616" stroke="#161616" stroke-width="0.75" stroke-linejoin="round"/>
<line x1="84.10" y1="508.10" x2="91.30" y2="508.10" stroke="#5a5a5a" stroke-width="0.9" />
<line x1="91.30" y1="502.00" x2="98.80" y2="502.00" stroke="#5a5a5a" stroke-width="0.9" />
<line x1="98.80" y1="498.50" x2="105.60" y2="498.50" stroke="#5a5a5a" stroke-width="0.9" />
<line x1="105.60" y1="490.00" x2="112.90" y2="490.00" stroke="#5a5a5a" stroke-width="0.9" />
<line x1="112.90" y1="486.00" x2="119.70" y2="486.00" stroke="#5a5a5a" stroke-width="0.9" />
<line x1="119.70" y1="479.60" x2="162.00" y2="479.60" stroke="#8a8a8a" stroke-width="1.2" />
<line x1="84.10" y1="505.10" x2="84.10" y2="511.60" stroke="#5a5a5a" stroke-width="0.9" />
<line x1="91.30" y1="498.50" x2="91.30" y2="511.60" stroke="#5a5a5a" stroke-width="0.9" />
<line x1="98.80" y1="495.00" x2="98.80" y2="505.50" stroke="#5a5a5a" stroke-width="0.9" />
<line x1="105.60" y1="486.50" x2="105.60" y2="502.00" stroke="#5a5a5a" stroke-width="0.9" />
<line x1="112.90" y1="482.50" x2="112.90" y2="493.50" stroke="#5a5a5a" stroke-width="0.9" />
<line x1="119.70" y1="476.10" x2="119.70" y2="489.50" stroke="#5a5a5a" stroke-width="0.9" />
<line x1="162.00" y1="476.60" x2="162.00" y2="482.60" stroke="#5a5a5a" stroke-width="0.9" />
<text x="143" y="485.3" font-size="4.2" text-anchor="middle" fill="#2a2a2a" >M6</text>
<text x="121.2" y="491.6" font-size="4.2" text-anchor="middle" fill="#2a2a2a" >M5</text>
<text x="114.3" y="495.3" font-size="4.2" text-anchor="middle" fill="#2a2a2a" >M4</text>
<text x="104.5" y="502.5" font-size="4.2" text-anchor="middle" fill="#2a2a2a" >M3</text>
<text x="96.6" y="506.3" font-size="4.2" text-anchor="middle" fill="#2a2a2a" >M2</text>
<text x="90" y="513" font-size="4.2" text-anchor="middle" fill="#2a2a2a" >M1</text>
<line x1="187.50" y1="462.50" x2="285.50" y2="462.50" stroke="#cfcfcf" stroke-width="1" />
<line x1="285.50" y1="462.50" x2="285.50" y2="554.30" stroke="#d6d6d6" stroke-width="1" />
<line x1="187.50" y1="462.50" x2="187.50" y2="554.30" stroke="#555" stroke-width="1" stroke-dasharray="1 2.6"/>
<line x1="187.50" y1="554.30" x2="285.50" y2="554.30" stroke="#2a2a2a" stroke-width="1.3" />
<path d="M206.2 554.3 L206.2 553.4 L206.6 550.0 L207.1 547.1 L207.5 543.3 L208.0 538.0 L208.4 532.6 L208.9 526.6 L209.3 524.0 L209.8 515.1 L210.2 511.4 L210.7 507.1 L211.1 513.1 L211.6 522.4 L212.0 528.1 L212.5 531.6 L212.9 531.3 L213.4 531.8 L213.8 533.2 L214.3 532.3 L214.7 528.6 L215.2 526.8 L215.6 518.2 L216.1 510.9 L216.5 496.0 L217.0 485.4 L217.4 482.8 L217.9 493.2 L218.3 501.5 L218.8 506.5 L219.2 521.6 L219.7 532.9 L220.1 533.9 L220.6 538.9 L221.0 541.9 L221.5 540.0 L221.9 537.3 L222.4 536.4 L222.8 526.8 L223.3 519.0 L223.7 512.2 L224.2 502.1 L224.6 493.9 L225.1 486.6 L225.5 497.7 L226.0 504.3 L226.4 516.6 L226.9 527.0 L227.3 535.7 L227.8 536.8 L228.2 541.3 L228.7 543.2 L229.1 536.6 L229.6 532.9 L230.0 526.5 L230.5 521.3 L230.9 515.5 L231.4 504.8 L231.8 513.6 L232.3 514.0 L232.7 526.1 L233.2 536.1 L233.6 543.3 L234.1 547.7 L234.5 548.0 L235.0 548.5 L235.4 547.7 L235.9 547.3 L236.3 546.8 L236.8 546.1 L237.2 546.9 L237.7 547.7 L238.1 548.5 L238.6 548.9 L239.0 549.6 L239.5 550.4 L239.9 551.3 L240.4 551.5 L240.8 552.1 L241.3 552.7 L241.7 553.1 L242.2 553.2 L242.6 553.3 L243.1 553.3 L243.5 553.5 L244.0 553.6 L244.4 553.6 L244.9 553.8 L245.0 554.3 Z" fill="#161616" stroke="#161616" stroke-width="0.75" stroke-linejoin="round"/>
<line x1="205.90" y1="507.60" x2="213.90" y2="507.60" stroke="#5a5a5a" stroke-width="0.9" />
<line x1="213.90" y1="502.80" x2="220.60" y2="502.80" stroke="#5a5a5a" stroke-width="0.9" />
<line x1="220.60" y1="498.80" x2="229.10" y2="498.80" stroke="#5a5a5a" stroke-width="0.9" />
<line x1="229.10" y1="490.00" x2="235.00" y2="490.00" stroke="#5a5a5a" stroke-width="0.9" />
<line x1="235.00" y1="486.00" x2="241.50" y2="486.00" stroke="#5a5a5a" stroke-width="0.9" />
<line x1="241.50" y1="477.50" x2="282.50" y2="477.50" stroke="#8a8a8a" stroke-width="1.2" />
<line x1="205.90" y1="504.60" x2="205.90" y2="511.10" stroke="#5a5a5a" stroke-width="0.9" />
<line x1="213.90" y1="499.30" x2="213.90" y2="511.10" stroke="#5a5a5a" stroke-width="0.9" />
<line x1="220.60" y1="495.30" x2="220.60" y2="506.30" stroke="#5a5a5a" stroke-width="0.9" />
<line x1="229.10" y1="486.50" x2="229.10" y2="502.30" stroke="#5a5a5a" stroke-width="0.9" />
<line x1="235.00" y1="482.50" x2="235.00" y2="493.50" stroke="#5a5a5a" stroke-width="0.9" />
<line x1="241.50" y1="474.00" x2="241.50" y2="489.50" stroke="#5a5a5a" stroke-width="0.9" />
<line x1="282.50" y1="474.50" x2="282.50" y2="480.50" stroke="#5a5a5a" stroke-width="0.9" />
<text x="265.7" y="483.6" font-size="4.2" text-anchor="middle" fill="#2a2a2a" >M6</text>
<text x="240.3" y="491.4" font-size="4.2" text-anchor="middle" fill="#2a2a2a" >M5</text>
<text x="233.6" y="494.9" font-size="4.2" text-anchor="middle" fill="#2a2a2a" >M4</text>
<text x="229" y="501.6" font-size="4.2" text-anchor="middle" fill="#2a2a2a" >M3</text>
<text x="220.5" y="505.8" font-size="4.2" text-anchor="middle" fill="#2a2a2a" >M2</text>
<text x="211.5" y="512.4" font-size="4.2" text-anchor="middle" fill="#2a2a2a" >M1</text>
<text transform="translate(335.3,532) rotate(-90)" font-size="12.6" fill="#111">% of CD41 positive cells</text>
<line x1="355.50" y1="367.50" x2="355.50" y2="447.80" stroke="#8a8a8a" stroke-width="1" />
<line x1="355.50" y1="447.80" x2="520.00" y2="447.80" stroke="#8a8a8a" stroke-width="1" />
<text x="352.5" y="451.7" font-size="11.2" text-anchor="end" fill="#222" >0</text>
<text x="352.5" y="428.9" font-size="11.2" text-anchor="end" fill="#222" >20</text>
<text x="352.5" y="406.09999999999997" font-size="11.2" text-anchor="end" fill="#222" >40</text>
<text x="352.5" y="383.29999999999995" font-size="11.2" text-anchor="end" fill="#222" >60</text>
<rect x="361.70" y="385.10" width="5.80" height="62.70" fill="#fff" stroke="#666" stroke-width="0.8" />
<rect x="368.20" y="410.18" width="6.80" height="37.62" fill="url(#gp2)" stroke="#777" stroke-width="0.8" />
<line x1="364.60" y1="385.10" x2="364.60" y2="377.69" stroke="#777" stroke-width="0.8" />
<line x1="371.60" y1="420.44" x2="371.60" y2="398.78" stroke="#777" stroke-width="0.8" />
<rect x="385.00" y="407.33" width="6.20" height="40.47" fill="#fff" stroke="#666" stroke-width="0.8" />
<rect x="391.20" y="404.48" width="7.50" height="43.32" fill="url(#gp2)" stroke="#777" stroke-width="0.8" />
<line x1="388.10" y1="407.33" x2="388.10" y2="401.63" stroke="#777" stroke-width="0.8" />
<line x1="394.95" y1="404.48" x2="394.95" y2="393.65" stroke="#777" stroke-width="0.8" />
<rect x="408.00" y="439.25" width="6.50" height="8.55" fill="#fff" stroke="#666" stroke-width="0.8" />
<rect x="414.50" y="422.15" width="7.50" height="25.65" fill="url(#gp2)" stroke="#777" stroke-width="0.8" />
<line x1="411.25" y1="439.25" x2="411.25" y2="437.54" stroke="#777" stroke-width="0.8" />
<line x1="418.25" y1="422.15" x2="418.25" y2="420.44" stroke="#777" stroke-width="0.8" />
<rect x="431.20" y="446.43" width="6.30" height="1.37" fill="#fff" stroke="#666" stroke-width="0.8" />
<rect x="437.50" y="439.82" width="7.00" height="7.98" fill="url(#gp2)" stroke="#777" stroke-width="0.8" />
<line x1="434.35" y1="446.43" x2="434.35" y2="445.52" stroke="#777" stroke-width="0.8" />
<line x1="441.00" y1="439.82" x2="441.00" y2="436.97" stroke="#777" stroke-width="0.8" />
<text x="370.5" y="381.5" font-size="14.5" font-weight="bold" text-anchor="middle" fill="#111" >*</text>
<text x="414" y="419.5" font-size="14.5" font-weight="bold" text-anchor="middle" fill="#111" >**</text>
<text x="437.5" y="437" font-size="14.5" font-weight="bold" text-anchor="middle" fill="#111" >**</text>
<line x1="355.50" y1="461.00" x2="355.50" y2="543.60" stroke="#8a8a8a" stroke-width="1" />
<line x1="355.50" y1="543.60" x2="520.00" y2="543.60" stroke="#8a8a8a" stroke-width="1" />
<text x="352.5" y="547.5" font-size="11.2" text-anchor="end" fill="#222" >0</text>
<text x="352.5" y="527.2" font-size="11.2" text-anchor="end" fill="#222" >10</text>
<text x="352.5" y="506.9" font-size="11.2" text-anchor="end" fill="#222" >20</text>
<text x="352.5" y="486.6" font-size="11.2" text-anchor="end" fill="#222" >30</text>
<text x="352.5" y="466.29999999999995" font-size="11.2" text-anchor="end" fill="#222" >40</text>
<rect x="361.20" y="492.85" width="6.30" height="50.75" fill="#fff" stroke="#666" stroke-width="0.8" />
<rect x="368.20" y="517.21" width="6.80" height="26.39" fill="url(#gp2)" stroke="#777" stroke-width="0.8" />
<line x1="364.35" y1="492.85" x2="364.35" y2="483.72" stroke="#777" stroke-width="0.8" />
<line x1="371.60" y1="517.21" x2="371.60" y2="516.40" stroke="#777" stroke-width="0.8" />
<rect x="384.50" y="481.28" width="6.70" height="62.32" fill="#fff" stroke="#666" stroke-width="0.8" />
<rect x="391.20" y="492.85" width="7.00" height="50.75" fill="url(#gp2)" stroke="#777" stroke-width="0.8" />
<line x1="387.85" y1="481.28" x2="387.85" y2="480.67" stroke="#777" stroke-width="0.8" />
<line x1="394.70" y1="492.85" x2="394.70" y2="487.37" stroke="#777" stroke-width="0.8" />
<rect x="408.00" y="485.34" width="6.50" height="58.26" fill="#fff" stroke="#666" stroke-width="0.8" />
<rect x="414.50" y="485.34" width="7.50" height="58.26" fill="url(#gp2)" stroke="#777" stroke-width="0.8" />
<line x1="411.25" y1="485.34" x2="411.25" y2="481.89" stroke="#777" stroke-width="0.8" />
<line x1="418.25" y1="485.34" x2="418.25" y2="477.22" stroke="#777" stroke-width="0.8" />
<rect x="431.20" y="515.18" width="6.30" height="28.42" fill="#fff" stroke="#666" stroke-width="0.8" />
<rect x="437.50" y="492.85" width="7.00" height="50.75" fill="url(#gp2)" stroke="#777" stroke-width="0.8" />
<line x1="434.35" y1="515.18" x2="434.35" y2="509.70" stroke="#777" stroke-width="0.8" />
<line x1="441.00" y1="492.85" x2="441.00" y2="489.40" stroke="#777" stroke-width="0.8" />
<rect x="455.00" y="540.56" width="6.20" height="3.04" fill="#fff" stroke="#666" stroke-width="0.8" />
<rect x="461.20" y="529.39" width="7.50" height="14.21" fill="url(#gp2)" stroke="#777" stroke-width="0.8" />
<line x1="458.10" y1="540.56" x2="458.10" y2="538.93" stroke="#777" stroke-width="0.8" />
<line x1="464.95" y1="529.39" x2="464.95" y2="525.94" stroke="#777" stroke-width="0.8" />
<text x="371.7" y="487" font-size="14.5" font-weight="bold" text-anchor="middle" fill="#111" >**</text>
<text x="437.5" y="487.5" font-size="14.5" font-weight="bold" text-anchor="middle" fill="#111" >**</text>
<text x="460.5" y="522.5" font-size="14.5" font-weight="bold" text-anchor="middle" fill="#111" >**</text>
<line x1="480.00" y1="543.10" x2="491.00" y2="543.10" stroke="#666" stroke-width="0.8" />
<text x="367.7" y="558" font-size="11.6" text-anchor="middle" fill="#111" >2n</text>
<text x="390.5" y="558" font-size="11.6" text-anchor="middle" fill="#111" >4n</text>
<text x="413.7" y="558" font-size="11.6" text-anchor="middle" fill="#111" >8n</text>
<text x="437.5" y="558" font-size="11.6" text-anchor="middle" fill="#111" >16n</text>
<text x="462.5" y="558" font-size="11.6" text-anchor="middle" fill="#111" >32n</text>
<text x="479.2" y="558" font-size="11.6" text-anchor="start" fill="#111" >64n(</text>
<path d="M503.2 551.2 L508.7 553.4 L503.2 555.6 M503.2 557.7 L508.7 555.6" fill="none" stroke="#111" stroke-width="1"/>
<text x="509.6" y="558" font-size="11.6" text-anchor="start" fill="#111" >)</text>
<rect x="401.20" y="363.70" width="101.80" height="29.30" fill="#fff" stroke="#222" stroke-width="1.3" />
<rect x="403.90" y="368.00" width="10.50" height="10.00" fill="#fff" stroke="#333" stroke-width="1" />
<rect x="403.90" y="381.20" width="10.50" height="9.60" fill="url(#gp2)" stroke="#444" stroke-width="1" />
<text x="417.3" y="377.6" font-size="12.6" text-anchor="start" fill="#111" >Control;n=4</text>
<text x="417.3" y="390.6" font-size="12.6" fill="#111">JAK2<tspan font-size="8.6" dy="-4.2">V617F</tspan><tspan dy="4.2">;n=4</tspan></text>
</g></svg></body></html>
